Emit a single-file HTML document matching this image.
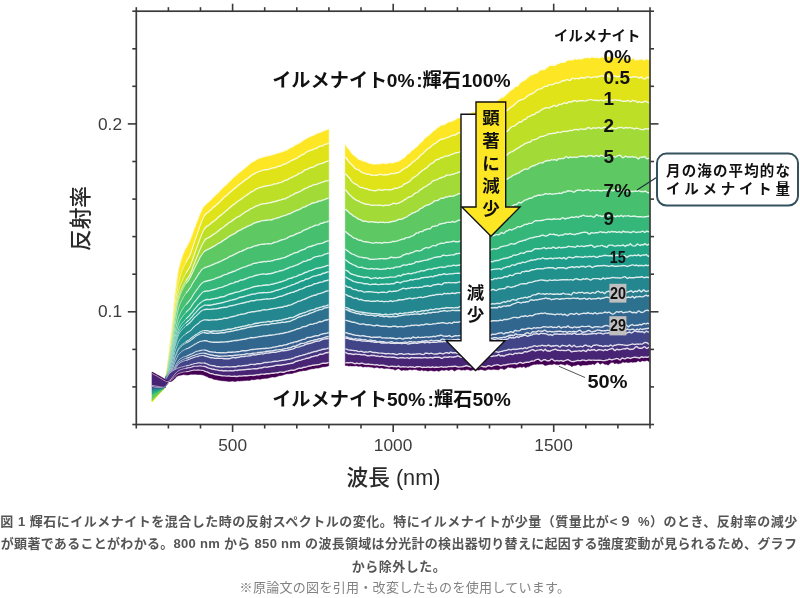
<!DOCTYPE html>
<html lang="ja"><head><meta charset="utf-8"><title>図1 反射スペクトル</title>
<style>
html,body{margin:0;padding:0;background:#fff;}
body{width:800px;height:598px;position:relative;overflow:hidden;font-family:"Liberation Sans","Noto Sans CJK JP",sans-serif;}
svg{position:absolute;left:0;top:0;}
svg text{font-family:"Liberation Sans","Noto Sans CJK JP",sans-serif;}
.w{fill:none;stroke:#fff;stroke-opacity:.82;stroke-width:1.4;}
.w2{fill:none;stroke:#fff;stroke-opacity:.8;stroke-width:1.1;}
.w3{fill:none;stroke:#fff;stroke-opacity:.75;stroke-width:.7;}
.tick{font-size:17.3px;fill:#3c3c3c;}
.axl{font-size:21.7px;fill:#2a2a2a;font-weight:500;}
.lbl{font-weight:bold;fill:#111;}
.cap{position:absolute;left:-1px;top:510.5px;width:800px;text-align:center;font-weight:bold;font-size:13px;letter-spacing:0.5px;line-height:22.75px;color:#555;white-space:nowrap;}
.cap .note{position:relative;left:6px;top:-1px;font-weight:normal;font-size:13px;letter-spacing:0.3px;color:#828282;line-height:19px;display:block;}
.cap .l2{letter-spacing:0.3px;}
</style></head><body>
<svg width="800" height="598" viewBox="0 0 800 598">
<g shape-rendering="geometricPrecision">
<path d="M152,402l1,-1.1 1,-1.2 1,-1.2 1,-1.1 1,-1.1 1,-1.1 1,-1 1,-1.3 1,-1.1 1,-1.1 1,-1.1 1,-1.2 1,-1.2 1,-11 1,-6.1 1,-8.7 1,-8.6 1,-8.7 1,-8.6 1,-8.2 1,-9.6 1,-12.2 1,-10.2 1,-8 1,-7.5 1,-6.9 1,-4.9 1,-3.8 1,-3.4 1,-3.2 1,-2.8 1,-2.5 1,-2.2 1,-2.1 1,-2.1 1,-1.8 1,-1.9 1,-2.2 1,-2.6 1,-2.7 1,-2.9 1,-2.8 1,-2.5 1,-2.5 1,-2.7 1,-2.6 1,-2.6 1,-2.5 1,-2.1 1,-2.2 1,-2 1,-1.3 1,-1.1 1,-1.1 1,-.9 1,-.9 1,-.8 1,-.9 1,-1 1,-1.1 1,-.9 1,-1 1,-1.1 1,-.9 1,-.9 1,-.8 1,-1.1 1,-1.2 1,-1 1,-1 1,-1.1 1,-.9 1,-.8 1,-.8 1,-1 1,-1.2 1,-1.1 1,-.8 1,-.9 1,-1.1 1,-1 1,-.8 1,-.9 1,-1 1,-.9 1,-.8 1,-.7 1,-.7 1,-.8 1,-.9 1,-.9 1,-.8 1,-.8 1,-.8 1,-.9 1,-.9 1,-.8 1,-1 1,-.7 1,-.6 1,-.6 1,-.4 1,-.4 1,-.8 1,-.7 1,-.4 1,-.4 1,-.5 1,-.3 1,-.2 1,-.3 1,-.4 1,-.2 1,-.3 1,-.2 1,-.2 1,-.2 1,-.1 1,-.2 1,-.4 1,-.3 1,-.4 1,-.4 1,-.2 1,-.2 1,-.4 1,-.3 1,-.3 1,-.3 1,-.3 1,-.3 1,-.5 1,-.5 1,-.2 1,-.3 1,-.8 1,-.7 1,-.6 1,-.4 1,-.4 1,-.6 1,-.7 1,-.6 1,-.7 1,-.4 1,-.3 1,-.6 1,-.6 1,-.7 1,-.8 1,-.7 1,-.6 1,-.5 1,-.6 1,-.6 1,-.7 1,-.3 1,-.2 1,-.7 1,-.6 1,-.1 1,-.4 1,-.7 1,-.5 1,-.5 1,-.4 1,-.2 1,-.3 1,-.5 1,-.4 1,-.3 1,-.4 1,-.5 1,-.5 1,-.3 1.7,-.3L328.7,143.3l-1.7,.6 -1,.2 -1,.2 -1,.5 -1,.8 -1,.5 -1,0 -1,.1 -1,.4 -1,.7 -1,.7 -1,.3 -1,.4 -1,.5 -1,.3 -1,.3 -1,.4 -1,.3 -1,.3 -1,.6 -1,.5 -1,.6 -1,.7 -1,.9 -1,.4 -1,.3 -1,.7 -1,.7 -1,.4 -1,.7 -1,.8 -1,.4 -1,.4 -1,.6 -1,.4 -1,.4 -1,.5 -1,.6 -1,.6 -1,.5 -1,.6 -1,.6 -1,.3 -1,.2 -1,.5 -1,.5 -1,.6 -1,.3 -1,.1 -1,.2 -1,.5 -1,.5 -1,.3 -1,.1 -1,.1 -1,.3 -1,.3 -1,.3 -1,.3 -1,.3 -1,.3 -1,0 -1,-.1 -1,.2 -1,.4 -1,.5 -1,.2 -1,.3 -1,.4 -1,.3 -1,.4 -1,.4 -1,.7 -1,.6 -1,.4 -1,.5 -1,.9 -1,.9 -1,.6 -1,1 -1,.7 -1,.4 -1,.7 -1,.8 -1,.8 -1,.9 -1,.7 -1,.7 -1,.8 -1,.8 -1,1 -1,.8 -1,.7 -1,.8 -1,.9 -1,.9 -1,.9 -1,.7 -1,.8 -1,1.2 -1,1 -1,.6 -1,.6 -1,.9 -1,1.1 -1,.9 -1,1.2 -1,1.1 -1,.8 -1,.9 -1,1 -1,.9 -1,.8 -1,.8 -1,.9 -1,1 -1,.9 -1,.9 -1,.9 -1,.8 -1,.7 -1,.7 -1,1.2 -1,1.6 -1,1.9 -1,2.2 -1,2.6 -1,2.8 -1,2.9 -1,2.9 -1,2.8 -1,2.9 -1,2.9 -1,2.9 -1,3 -1,3.1 -1,3.1 -1,2.7 -1,1.9 -1,1.5 -1,1.7 -1,2.1 -1,1.9 -1,2 -1,2.3 -1,2.3 -1,2.8 -1,3.3 -1,3.7 -1,4.4 -1,5.9 -1,6.6 -1,7.2 -1,9.2 -1,11.1 -1,8.6 -1,7.5 -1,7.7 -1,7.6 -1,7.7 -1,7.8 -1,4.4 -1,10.8 -1,1.1 -1,1.2 -1,1.2 -1,1.1 -1,1 -1,1 -1,1.1 -1,1.2 -1,1 -1,1.1 -1,1.1 -1,1.1 -1,1.1z" fill="#fde725" stroke="#fde725" stroke-width=".6"/>
<path class="w3" d="M167,370.1l1,-8.7 1,-8.6 1,-8.7 1,-8.6 1,-8.2 1,-9.6 1,-12.2 1,-10.2 1,-8 1,-7.5 1,-6.9 1,-4.9 1,-3.8 1,-3.4 1,-3.2 1,-2.8 1,-2.5 1,-2.2 1,-2.1"/>
<path class="w2" d="M186,248l1,-2.1 1,-1.8 1,-1.9 1,-2.2 1,-2.6 1,-2.7 1,-2.9 1,-2.8 1,-2.5 1,-2.5 1,-2.7 1,-2.6 1,-2.6 1,-2.5 1,-2.1 1,-2.2 1,-2 1,-1.3"/>
<path class="w" d="M204,206l1,-1.1 1,-1.1 1,-.9 1,-.9 1,-.8 1,-.9 1,-1 1,-1.1 1,-.9 1,-1 1,-1.1 1,-.9 1,-.9 1,-.8 1,-1.1 1,-1.2 1,-1 1,-1 1,-1.1 1,-.9 1,-.8 1,-.8 1,-1 1,-1.2 1,-1.1 1,-.8 1,-.9 1,-1.1 1,-1 1,-.8 1,-.9 1,-1 1,-.9 1,-.8 1,-.7 1,-.7 1,-.8 1,-.9 1,-.9 1,-.8 1,-.8 1,-.8 1,-.9 1,-.9 1,-.8 1,-1 1,-.7 1,-.6 1,-.6 1,-.4 1,-.4 1,-.8 1,-.7 1,-.4 1,-.4 1,-.5 1,-.3 1,-.2 1,-.3 1,-.4 1,-.2 1,-.3 1,-.2 1,-.2 1,-.2 1,-.1 1,-.2 1,-.4 1,-.3 1,-.4 1,-.4 1,-.2 1,-.2 1,-.4 1,-.3 1,-.3 1,-.3 1,-.3 1,-.3 1,-.5 1,-.5 1,-.2 1,-.3 1,-.8 1,-.7 1,-.6 1,-.4 1,-.4 1,-.6 1,-.7 1,-.6 1,-.7 1,-.4 1,-.3 1,-.6 1,-.6 1,-.7 1,-.8 1,-.7 1,-.6 1,-.5 1,-.6 1,-.6 1,-.7 1,-.3 1,-.2 1,-.7 1,-.6 1,-.1 1,-.4 1,-.7 1,-.5 1,-.5 1,-.4 1,-.2 1,-.3 1,-.5 1,-.4 1,-.3 1,-.4 1,-.5 1,-.5 1,-.3 1.7,-.3"/>
<path d="M152,401.5l1,-1.1 1,-1.1 1,-1.1 1,-1.1 1,-1 1,-1.2 1,-1.1 1,-1 1,-1 1,-1.1 1,-1.2 1,-1.2 1,-1.1 1,-10.8 1,-4.4 1,-7.8 1,-7.7 1,-7.6 1,-7.7 1,-7.5 1,-8.6 1,-11.1 1,-9.2 1,-7.2 1,-6.6 1,-5.9 1,-4.4 1,-3.7 1,-3.3 1,-2.8 1,-2.3 1,-2.3 1,-2 1,-1.9 1,-2.1 1,-1.7 1,-1.5 1,-1.9 1,-2.7 1,-3.1 1,-3.1 1,-3 1,-2.9 1,-2.9 1,-2.9 1,-2.8 1,-2.9 1,-2.9 1,-2.8 1,-2.6 1,-2.2 1,-1.9 1,-1.6 1,-1.2 1,-.7 1,-.7 1,-.8 1,-.9 1,-.9 1,-.9 1,-1 1,-.9 1,-.8 1,-.8 1,-.9 1,-1 1,-.9 1,-.8 1,-1.1 1,-1.2 1,-.9 1,-1.1 1,-.9 1,-.6 1,-.6 1,-1 1,-1.2 1,-.8 1,-.7 1,-.9 1,-.9 1,-.9 1,-.8 1,-.7 1,-.8 1,-1 1,-.8 1,-.8 1,-.7 1,-.7 1,-.9 1,-.8 1,-.8 1,-.7 1,-.4 1,-.7 1,-1 1,-.6 1,-.9 1,-.9 1,-.5 1,-.4 1,-.6 1,-.7 1,-.4 1,-.4 1,-.3 1,-.4 1,-.3 1,-.2 1,-.5 1,-.4 1,-.2 1,.1 1,0 1,-.3 1,-.3 1,-.3 1,-.3 1,-.3 1,-.3 1,-.1 1,-.1 1,-.3 1,-.5 1,-.5 1,-.2 1,-.1 1,-.3 1,-.6 1,-.5 1,-.5 1,-.2 1,-.3 1,-.6 1,-.6 1,-.5 1,-.6 1,-.6 1,-.5 1,-.4 1,-.4 1,-.6 1,-.4 1,-.4 1,-.8 1,-.7 1,-.4 1,-.7 1,-.7 1,-.3 1,-.4 1,-.9 1,-.7 1,-.6 1,-.5 1,-.6 1,-.3 1,-.3 1,-.4 1,-.3 1,-.3 1,-.5 1,-.4 1,-.3 1,-.7 1,-.7 1,-.4 1,-.1 1,0 1,-.5 1,-.8 1,-.5 1,-.2 1,-.2 1.7,-.6L328.7,160.9l-1.7,.4 -1,.4 -1,.5 -1,.4 -1,.4 -1,.3 -1,.3 -1,.3 -1,.3 -1,.4 -1,.4 -1,.4 -1,.6 -1,.8 -1,.3 -1,.2 -1,.2 -1,.3 -1,.6 -1,.5 -1,.5 -1,.3 -1,.3 -1,.6 -1,.9 -1,.9 -1,.5 -1,.2 -1,.4 -1,.6 -1,.7 -1,.6 -1,.5 -1,.3 -1,.4 -1,.8 -1,.5 -1,.2 -1,.6 -1,.8 -1,.5 -1,.1 -1,.3 -1,.4 -1,.6 -1,.7 -1,.3 -1,.2 -1,.3 -1,.3 -1,.4 -1,.3 -1,0 -1,.1 -1,.4 -1,.4 -1,.3 -1,.2 -1,.1 -1,.2 -1,.3 -1,.1 -1,.1 -1,.2 -1,.3 -1,.5 -1,.2 -1,.1 -1,.4 -1,.6 -1,.3 -1,.5 -1,.6 -1,.7 -1,.6 -1,.4 -1,.5 -1,.8 -1,.8 -1,.6 -1,.7 -1,.6 -1,.7 -1,.8 -1,.7 -1,.9 -1,.6 -1,.7 -1,.6 -1,.7 -1,.7 -1,.8 -1,.9 -1,.7 -1,.6 -1,.8 -1,.9 -1,.8 -1,.9 -1,.9 -1,.9 -1,.7 -1,.9 -1,1 -1,.8 -1,.8 -1,.8 -1,.8 -1,.7 -1,1 -1,.9 -1,1 -1,.8 -1,.9 -1,.5 -1,.7 -1,.9 -1,.9 -1,.8 -1,.6 -1,.5 -1,.8 -1,1.2 -1,1.4 -1,1.9 -1,2.4 -1,2.5 -1,2.5 -1,2.7 -1,2.8 -1,2.7 -1,2.8 -1,2.9 -1,2.8 -1,2.8 -1,2.9 -1,2.7 -1,2.6 -1,1.8 -1,1.6 -1,1.6 -1,1.7 -1,1.8 -1,1.9 -1,2.1 -1,2.2 -1,2.3 -1,2.7 -1,3.3 -1,4.1 -1,5.5 -1,6 -1,6.7 -1,8.6 -1,10.2 -1,7.7 -1,6.6 -1,7 -1,7 -1,7.2 -1,7.2 -1,3.2 -1,10.6 -1,1.1 -1,1.1 -1,1 -1,1.2 -1,1.2 -1,1.1 -1,1 -1,1 -1,1 -1,1 -1,1.1 -1,1.1 -1,1z" fill="#dfe318" stroke="#dfe318" stroke-width=".6"/>
<path class="w3" d="M167,372l1,-7.8 1,-7.7 1,-7.6 1,-7.7 1,-7.5 1,-8.6 1,-11.1 1,-9.2 1,-7.2 1,-6.6 1,-5.9 1,-4.4 1,-3.7 1,-3.3 1,-2.8 1,-2.3 1,-2.3 1,-2 1,-1.9"/>
<path class="w2" d="M186,262.4l1,-2.1 1,-1.7 1,-1.5 1,-1.9 1,-2.7 1,-3.1 1,-3.1 1,-3 1,-2.9 1,-2.9 1,-2.9 1,-2.8 1,-2.9 1,-2.9 1,-2.8 1,-2.6 1,-2.2 1,-1.9"/>
<path class="w" d="M204,216.5l1,-1.6 1,-1.2 1,-.7 1,-.7 1,-.8 1,-.9 1,-.9 1,-.9 1,-1 1,-.9 1,-.8 1,-.8 1,-.9 1,-1 1,-.9 1,-.8 1,-1.1 1,-1.2 1,-.9 1,-1.1 1,-.9 1,-.6 1,-.6 1,-1 1,-1.2 1,-.8 1,-.7 1,-.9 1,-.9 1,-.9 1,-.8 1,-.7 1,-.8 1,-1 1,-.8 1,-.8 1,-.7 1,-.7 1,-.9 1,-.8 1,-.8 1,-.7 1,-.4 1,-.7 1,-1 1,-.6 1,-.9 1,-.9 1,-.5 1,-.4 1,-.6 1,-.7 1,-.4 1,-.4 1,-.3 1,-.4 1,-.3 1,-.2 1,-.5 1,-.4 1,-.2 1,.1 1,0 1,-.3 1,-.3 1,-.3 1,-.3 1,-.3 1,-.3 1,-.1 1,-.1 1,-.3 1,-.5 1,-.5 1,-.2 1,-.1 1,-.3 1,-.6 1,-.5 1,-.5 1,-.2 1,-.3 1,-.6 1,-.6 1,-.5 1,-.6 1,-.6 1,-.5 1,-.4 1,-.4 1,-.6 1,-.4 1,-.4 1,-.8 1,-.7 1,-.4 1,-.7 1,-.7 1,-.3 1,-.4 1,-.9 1,-.7 1,-.6 1,-.5 1,-.6 1,-.3 1,-.3 1,-.4 1,-.3 1,-.3 1,-.5 1,-.4 1,-.3 1,-.7 1,-.7 1,-.4 1,-.1 1,0 1,-.5 1,-.8 1,-.5 1,-.2 1,-.2 1.7,-.6"/>
<path d="M152,401l1,-1 1,-1.1 1,-1.1 1,-1 1,-1 1,-1 1,-1 1,-1.1 1,-1.2 1,-1.2 1,-1 1,-1.1 1,-1.1 1,-10.6 1,-3.2 1,-7.2 1,-7.2 1,-7 1,-7 1,-6.6 1,-7.7 1,-10.2 1,-8.6 1,-6.7 1,-6 1,-5.5 1,-4.1 1,-3.3 1,-2.7 1,-2.3 1,-2.2 1,-2.1 1,-1.9 1,-1.8 1,-1.7 1,-1.6 1,-1.6 1,-1.8 1,-2.6 1,-2.7 1,-2.9 1,-2.8 1,-2.8 1,-2.9 1,-2.8 1,-2.7 1,-2.8 1,-2.7 1,-2.5 1,-2.5 1,-2.4 1,-1.9 1,-1.4 1,-1.2 1,-.8 1,-.5 1,-.6 1,-.8 1,-.9 1,-.9 1,-.7 1,-.5 1,-.9 1,-.8 1,-1 1,-.9 1,-1 1,-.7 1,-.8 1,-.8 1,-.8 1,-.8 1,-1 1,-.9 1,-.7 1,-.9 1,-.9 1,-.9 1,-.8 1,-.9 1,-.8 1,-.6 1,-.7 1,-.9 1,-.8 1,-.7 1,-.7 1,-.6 1,-.7 1,-.6 1,-.9 1,-.7 1,-.8 1,-.7 1,-.6 1,-.7 1,-.6 1,-.8 1,-.8 1,-.5 1,-.4 1,-.6 1,-.7 1,-.6 1,-.5 1,-.3 1,-.6 1,-.4 1,-.1 1,-.2 1,-.5 1,-.3 1,-.2 1,-.1 1,-.1 1,-.3 1,-.2 1,-.1 1,-.2 1,-.3 1,-.4 1,-.4 1,-.1 1,0 1,-.3 1,-.4 1,-.3 1,-.3 1,-.2 1,-.3 1,-.7 1,-.6 1,-.4 1,-.3 1,-.1 1,-.5 1,-.8 1,-.6 1,-.2 1,-.5 1,-.8 1,-.4 1,-.3 1,-.5 1,-.6 1,-.7 1,-.6 1,-.4 1,-.2 1,-.5 1,-.9 1,-.9 1,-.6 1,-.3 1,-.3 1,-.5 1,-.5 1,-.6 1,-.3 1,-.2 1,-.2 1,-.3 1,-.8 1,-.6 1,-.4 1,-.4 1,-.4 1,-.3 1,-.3 1,-.3 1,-.3 1,-.4 1,-.4 1,-.5 1,-.4 1.7,-.4L328.7,180.4l-1.7,.5 -1,0 -1,.3 -1,.5 -1,.3 -1,.1 -1,.4 -1,.7 -1,.2 -1,.2 -1,.6 -1,.4 -1,0 -1,-.1 -1,.5 -1,.6 -1,.4 -1,.3 -1,.4 -1,.6 -1,.5 -1,.3 -1,.4 -1,.6 -1,.6 -1,.6 -1,.6 -1,.5 -1,.4 -1,.5 -1,.5 -1,.2 -1,.4 -1,.7 -1,.7 -1,.4 -1,.3 -1,.7 -1,.6 -1,.4 -1,.5 -1,.7 -1,.5 -1,.1 -1,0 -1,.3 -1,.5 -1,.3 -1,.2 -1,.3 -1,.4 -1,.3 -1,.2 -1,.2 -1,.1 -1,.3 -1,.4 -1,.3 -1,.1 -1,.2 -1,.2 -1,.3 -1,0 -1,0 -1,.2 -1,.3 -1,.1 -1,.3 -1,.6 -1,.4 -1,.2 -1,.4 -1,.5 -1,.6 -1,.5 -1,.6 -1,.4 -1,.5 -1,.7 -1,.8 -1,.5 -1,.4 -1,.6 -1,.8 -1,.6 -1,.7 -1,.8 -1,.7 -1,.5 -1,.5 -1,.4 -1,.6 -1,.9 -1,.7 -1,.7 -1,.8 -1,.7 -1,.6 -1,.5 -1,.8 -1,.9 -1,.7 -1,.7 -1,.9 -1,.8 -1,.7 -1,.5 -1,.8 -1,.9 -1,.8 -1,.8 -1,.8 -1,.7 -1,.6 -1,.6 -1,.6 -1,.8 -1,.7 -1,.6 -1,.5 -1,.4 -1,.6 -1,1 -1,1.6 -1,1.8 -1,2 -1,2 -1,2.2 -1,2.5 -1,2.4 -1,2.4 -1,2.5 -1,2.5 -1,2.4 -1,2.7 -1,2.8 -1,2.4 -1,2.5 -1,1.8 -1,1.5 -1,1.3 -1,1.4 -1,1.7 -1,1.8 -1,1.9 -1,2 -1,2.3 -1,2.6 -1,3.1 -1,3.9 -1,5 -1,5.6 -1,6.3 -1,7.8 -1,9.4 -1,7.4 -1,6.3 -1,6.5 -1,6.6 -1,6.7 -1,6.5 -1,2.5 -1,10.7 -1,1.1 -1,1 -1,1.1 -1,.9 -1,.9 -1,1.1 -1,1 -1,1 -1,1 -1,1.1 -1,1 -1,1.1 -1,1z" fill="#bddf26" stroke="#bddf26" stroke-width=".6"/>
<path class="w3" d="M167,373.3l1,-7.2 1,-7.2 1,-7 1,-7 1,-6.6 1,-7.7 1,-10.2 1,-8.6 1,-6.7 1,-6 1,-5.5 1,-4.1 1,-3.3 1,-2.7 1,-2.3 1,-2.2 1,-2.1 1,-1.9 1,-1.8"/>
<path class="w2" d="M186,273.2l1,-1.7 1,-1.6 1,-1.6 1,-1.8 1,-2.6 1,-2.7 1,-2.9 1,-2.8 1,-2.8 1,-2.9 1,-2.8 1,-2.7 1,-2.8 1,-2.7 1,-2.5 1,-2.5 1,-2.4 1,-1.9"/>
<path class="w" d="M204,229.5l1,-1.4 1,-1.2 1,-.8 1,-.5 1,-.6 1,-.8 1,-.9 1,-.9 1,-.7 1,-.5 1,-.9 1,-.8 1,-1 1,-.9 1,-1 1,-.7 1,-.8 1,-.8 1,-.8 1,-.8 1,-1 1,-.9 1,-.7 1,-.9 1,-.9 1,-.9 1,-.8 1,-.9 1,-.8 1,-.6 1,-.7 1,-.9 1,-.8 1,-.7 1,-.7 1,-.6 1,-.7 1,-.6 1,-.9 1,-.7 1,-.8 1,-.7 1,-.6 1,-.7 1,-.6 1,-.8 1,-.8 1,-.5 1,-.4 1,-.6 1,-.7 1,-.6 1,-.5 1,-.3 1,-.6 1,-.4 1,-.1 1,-.2 1,-.5 1,-.3 1,-.2 1,-.1 1,-.1 1,-.3 1,-.2 1,-.1 1,-.2 1,-.3 1,-.4 1,-.4 1,-.1 1,0 1,-.3 1,-.4 1,-.3 1,-.3 1,-.2 1,-.3 1,-.7 1,-.6 1,-.4 1,-.3 1,-.1 1,-.5 1,-.8 1,-.6 1,-.2 1,-.5 1,-.8 1,-.4 1,-.3 1,-.5 1,-.6 1,-.7 1,-.6 1,-.4 1,-.2 1,-.5 1,-.9 1,-.9 1,-.6 1,-.3 1,-.3 1,-.5 1,-.5 1,-.6 1,-.3 1,-.2 1,-.2 1,-.3 1,-.8 1,-.6 1,-.4 1,-.4 1,-.4 1,-.3 1,-.3 1,-.3 1,-.3 1,-.4 1,-.4 1,-.5 1,-.4 1.7,-.4"/>
<path d="M152,400.5l1,-1 1,-1.1 1,-1 1,-1.1 1,-1 1,-1 1,-1 1,-1.1 1,-.9 1,-.9 1,-1.1 1,-1 1,-1.1 1,-10.7 1,-2.5 1,-6.5 1,-6.7 1,-6.6 1,-6.5 1,-6.3 1,-7.4 1,-9.4 1,-7.8 1,-6.3 1,-5.6 1,-5 1,-3.9 1,-3.1 1,-2.6 1,-2.3 1,-2 1,-1.9 1,-1.8 1,-1.7 1,-1.4 1,-1.3 1,-1.5 1,-1.8 1,-2.5 1,-2.4 1,-2.8 1,-2.7 1,-2.4 1,-2.5 1,-2.5 1,-2.4 1,-2.4 1,-2.5 1,-2.2 1,-2 1,-2 1,-1.8 1,-1.6 1,-1 1,-.6 1,-.4 1,-.5 1,-.6 1,-.7 1,-.8 1,-.6 1,-.6 1,-.6 1,-.7 1,-.8 1,-.8 1,-.8 1,-.9 1,-.8 1,-.5 1,-.7 1,-.8 1,-.9 1,-.7 1,-.7 1,-.9 1,-.8 1,-.5 1,-.6 1,-.7 1,-.8 1,-.7 1,-.7 1,-.9 1,-.6 1,-.4 1,-.5 1,-.5 1,-.7 1,-.8 1,-.7 1,-.6 1,-.8 1,-.6 1,-.4 1,-.5 1,-.8 1,-.7 1,-.5 1,-.4 1,-.6 1,-.5 1,-.6 1,-.5 1,-.4 1,-.2 1,-.4 1,-.6 1,-.3 1,-.1 1,-.3 1,-.2 1,0 1,0 1,-.3 1,-.2 1,-.2 1,-.1 1,-.3 1,-.4 1,-.3 1,-.1 1,-.2 1,-.2 1,-.3 1,-.4 1,-.3 1,-.2 1,-.3 1,-.5 1,-.3 1,0 1,-.1 1,-.5 1,-.7 1,-.5 1,-.4 1,-.6 1,-.7 1,-.3 1,-.4 1,-.7 1,-.7 1,-.4 1,-.2 1,-.5 1,-.5 1,-.4 1,-.5 1,-.6 1,-.6 1,-.6 1,-.6 1,-.4 1,-.3 1,-.5 1,-.6 1,-.4 1,-.3 1,-.4 1,-.6 1,-.5 1,.1 1,0 1,-.4 1,-.6 1,-.2 1,-.2 1,-.7 1,-.4 1,-.1 1,-.3 1,-.5 1,-.3 1,0 1.7,-.5L328.7,198.1l-1.7,.4 -1,.3 -1,.6 -1,.3 -1,.2 -1,.5 -1,.5 -1,.1 -1,0 -1,.5 -1,.5 -1,.4 -1,.2 -1,.2 -1,.2 -1,.2 -1,.6 -1,.7 -1,.4 -1,.2 -1,.4 -1,.8 -1,.6 -1,.1 -1,.4 -1,.6 -1,.6 -1,.5 -1,.6 -1,.4 -1,.2 -1,.3 -1,.6 -1,.5 -1,.4 -1,.5 -1,.6 -1,.5 -1,.1 -1,.3 -1,.6 -1,.5 -1,.3 -1,.1 -1,.3 -1,.5 -1,.3 -1,.4 -1,.4 -1,.2 -1,.3 -1,.4 -1,.2 -1,.2 -1,.4 -1,.6 -1,.2 -1,-.1 -1,0 -1,.2 -1,.1 -1,.1 -1,.1 -1,.2 -1,0 -1,0 -1,.3 -1,.5 -1,.3 -1,.1 -1,.3 -1,.4 -1,.3 -1,.3 -1,.6 -1,.6 -1,.5 -1,.5 -1,.4 -1,.5 -1,.5 -1,.5 -1,.5 -1,.5 -1,.3 -1,.6 -1,.7 -1,.4 -1,.5 -1,.5 -1,.6 -1,.8 -1,.8 -1,.5 -1,.5 -1,.4 -1,.5 -1,.7 -1,.5 -1,.8 -1,.8 -1,.6 -1,.7 -1,.6 -1,.6 -1,.8 -1,.7 -1,.5 -1,.5 -1,.4 -1,.7 -1,.8 -1,.6 -1,.5 -1,.6 -1,.7 -1,.5 -1,.5 -1,.5 -1,.4 -1,.4 -1,.6 -1,.7 -1,.8 -1,1.2 -1,1.5 -1,1.4 -1,1.5 -1,2 -1,2.1 -1,2 -1,2 -1,1.9 -1,2.1 -1,2.2 -1,2.1 -1,2.2 -1,2.1 -1,1.7 -1,1.3 -1,1.1 -1,1.3 -1,1.6 -1,1.8 -1,1.9 -1,2 -1,2.2 -1,2.5 -1,2.9 -1,3.8 -1,4.9 -1,5.6 -1,6.1 -1,7.5 -1,9 -1,7.2 -1,6.3 -1,6.7 -1,6.3 -1,6.4 -1,6.3 -1,2.1 -1,10.6 -1,1 -1,.9 -1,1 -1,.9 -1,.9 -1,1 -1,1 -1,1 -1,.9 -1,.8 -1,.9 -1,1.1 -1,1z" fill="#a2da37" stroke="#a2da37" stroke-width=".6"/>
<path class="w3" d="M167,374l1,-6.5 1,-6.7 1,-6.6 1,-6.5 1,-6.3 1,-7.4 1,-9.4 1,-7.8 1,-6.3 1,-5.6 1,-5 1,-3.9 1,-3.1 1,-2.6 1,-2.3 1,-2 1,-1.9 1,-1.8 1,-1.7"/>
<path class="w2" d="M186,280.6l1,-1.4 1,-1.3 1,-1.5 1,-1.8 1,-2.5 1,-2.4 1,-2.8 1,-2.7 1,-2.4 1,-2.5 1,-2.5 1,-2.4 1,-2.4 1,-2.5 1,-2.2 1,-2 1,-2 1,-1.8"/>
<path class="w" d="M204,241.5l1,-1.6 1,-1 1,-.6 1,-.4 1,-.5 1,-.6 1,-.7 1,-.8 1,-.6 1,-.6 1,-.6 1,-.7 1,-.8 1,-.8 1,-.8 1,-.9 1,-.8 1,-.5 1,-.7 1,-.8 1,-.9 1,-.7 1,-.7 1,-.9 1,-.8 1,-.5 1,-.6 1,-.7 1,-.8 1,-.7 1,-.7 1,-.9 1,-.6 1,-.4 1,-.5 1,-.5 1,-.7 1,-.8 1,-.7 1,-.6 1,-.8 1,-.6 1,-.4 1,-.5 1,-.8 1,-.7 1,-.5 1,-.4 1,-.6 1,-.5 1,-.6 1,-.5 1,-.4 1,-.2 1,-.4 1,-.6 1,-.3 1,-.1 1,-.3 1,-.2 1,0 1,0 1,-.3 1,-.2 1,-.2 1,-.1 1,-.3 1,-.4 1,-.3 1,-.1 1,-.2 1,-.2 1,-.3 1,-.4 1,-.3 1,-.2 1,-.3 1,-.5 1,-.3 1,0 1,-.1 1,-.5 1,-.7 1,-.5 1,-.4 1,-.6 1,-.7 1,-.3 1,-.4 1,-.7 1,-.7 1,-.4 1,-.2 1,-.5 1,-.5 1,-.4 1,-.5 1,-.6 1,-.6 1,-.6 1,-.6 1,-.4 1,-.3 1,-.5 1,-.6 1,-.4 1,-.3 1,-.4 1,-.6 1,-.5 1,.1 1,0 1,-.4 1,-.6 1,-.2 1,-.2 1,-.7 1,-.4 1,-.1 1,-.3 1,-.5 1,-.3 1,0 1.7,-.5"/>
<path d="M152,399.6l1,-1 1,-1.1 1,-.9 1,-.8 1,-.9 1,-1 1,-1 1,-1 1,-.9 1,-.9 1,-1 1,-.9 1,-1 1,-10.6 1,-2.1 1,-6.3 1,-6.4 1,-6.3 1,-6.7 1,-6.3 1,-7.2 1,-9 1,-7.5 1,-6.1 1,-5.6 1,-4.9 1,-3.8 1,-2.9 1,-2.5 1,-2.2 1,-2 1,-1.9 1,-1.8 1,-1.6 1,-1.3 1,-1.1 1,-1.3 1,-1.7 1,-2.1 1,-2.2 1,-2.1 1,-2.2 1,-2.1 1,-1.9 1,-2 1,-2 1,-2.1 1,-2 1,-1.5 1,-1.4 1,-1.5 1,-1.2 1,-.8 1,-.7 1,-.6 1,-.4 1,-.4 1,-.5 1,-.5 1,-.5 1,-.7 1,-.6 1,-.5 1,-.6 1,-.8 1,-.7 1,-.4 1,-.5 1,-.5 1,-.7 1,-.8 1,-.6 1,-.6 1,-.7 1,-.6 1,-.8 1,-.8 1,-.5 1,-.7 1,-.5 1,-.4 1,-.5 1,-.5 1,-.8 1,-.8 1,-.6 1,-.5 1,-.5 1,-.4 1,-.7 1,-.6 1,-.3 1,-.5 1,-.5 1,-.5 1,-.5 1,-.5 1,-.4 1,-.5 1,-.5 1,-.6 1,-.6 1,-.3 1,-.3 1,-.4 1,-.3 1,-.1 1,-.3 1,-.5 1,-.3 1,0 1,0 1,-.2 1,-.1 1,-.1 1,-.1 1,-.2 1,0 1,.1 1,-.2 1,-.6 1,-.4 1,-.2 1,-.2 1,-.4 1,-.3 1,-.2 1,-.4 1,-.4 1,-.3 1,-.5 1,-.3 1,-.1 1,-.3 1,-.5 1,-.6 1,-.3 1,-.1 1,-.5 1,-.6 1,-.5 1,-.4 1,-.5 1,-.6 1,-.3 1,-.2 1,-.4 1,-.6 1,-.5 1,-.6 1,-.6 1,-.4 1,-.1 1,-.6 1,-.8 1,-.4 1,-.2 1,-.4 1,-.7 1,-.6 1,-.2 1,-.2 1,-.2 1,-.2 1,-.4 1,-.5 1,-.5 1,0 1,-.1 1,-.5 1,-.5 1,-.2 1,-.3 1,-.6 1,-.3 1.7,-.4L328.7,221l-1.7,.8 -1,.3 -1,0 -1,.4 -1,.5 -1,.2 -1,.1 -1,.5 -1,.8 -1,.5 -1,0 -1,0 -1,.4 -1,.4 -1,.5 -1,.5 -1,.2 -1,.3 -1,.7 -1,.5 -1,.4 -1,.4 -1,.4 -1,.4 -1,.5 -1,.8 -1,.6 -1,.4 -1,.3 -1,.4 -1,.4 -1,.4 -1,.5 -1,.6 -1,.5 -1,.2 -1,.2 -1,.4 -1,.5 -1,.5 -1,.7 -1,.5 -1,.2 -1,.5 -1,.3 -1,.2 -1,.3 -1,.4 -1,.4 -1,.5 -1,.4 -1,.3 -1,.1 -1,.3 -1,.5 -1,.4 -1,.3 -1,.2 -1,-.1 -1,0 -1,.1 -1,0 -1,.1 -1,.2 -1,.1 -1,0 -1,.1 -1,.2 -1,.2 -1,.3 -1,.4 -1,.2 -1,.2 -1,.3 -1,.4 -1,.4 -1,.4 -1,.3 -1,.2 -1,.2 -1,.4 -1,.6 -1,.5 -1,.4 -1,.5 -1,.5 -1,.4 -1,.3 -1,.4 -1,.6 -1,.5 -1,.5 -1,.5 -1,.4 -1,.5 -1,.6 -1,.3 -1,.3 -1,.5 -1,.9 -1,.6 -1,.3 -1,.5 -1,.5 -1,.6 -1,.5 -1,.4 -1,.5 -1,.4 -1,.5 -1,.3 -1,.4 -1,.5 -1,.4 -1,.4 -1,.4 -1,.5 -1,.4 -1,.3 -1,.4 -1,.3 -1,.3 -1,.5 -1,.5 -1,.5 -1,.8 -1,1.3 -1,1.4 -1,1.3 -1,1.5 -1,1.7 -1,1.5 -1,1.6 -1,1.5 -1,1.6 -1,1.8 -1,1.9 -1,1.5 -1,1.4 -1,1.4 -1,1.1 -1,1.2 -1,1.5 -1,1.6 -1,1.7 -1,1.9 -1,1.9 -1,2.2 -1,2.8 -1,3.5 -1,4.5 -1,5 -1,5.4 -1,7 -1,8.2 -1,6.5 -1,5.6 -1,5.8 -1,6 -1,5.9 -1,5.1 -1,1.7 -1,10.3 -1,.6 -1,.7 -1,.5 -1,.6 -1,.7 -1,.5 -1,.6 -1,.6 -1,.6 -1,.6 -1,.6 -1,.6 -1,.6z" fill="#5ec962" stroke="#5ec962" stroke-width=".6"/>
<path class="w3" d="M167,374.5l1,-6.3 1,-6.4 1,-6.3 1,-6.7 1,-6.3 1,-7.2 1,-9 1,-7.5 1,-6.1 1,-5.6 1,-4.9 1,-3.8 1,-2.9 1,-2.5 1,-2.2 1,-2 1,-1.9 1,-1.8 1,-1.6"/>
<path class="w2" d="M186,283.5l1,-1.3 1,-1.1 1,-1.3 1,-1.7 1,-2.1 1,-2.2 1,-2.1 1,-2.2 1,-2.1 1,-1.9 1,-2 1,-2 1,-2.1 1,-2 1,-1.5 1,-1.4 1,-1.5 1,-1.2"/>
<path class="w" d="M204,251.8l1,-.8 1,-.7 1,-.6 1,-.4 1,-.4 1,-.5 1,-.5 1,-.5 1,-.7 1,-.6 1,-.5 1,-.6 1,-.8 1,-.7 1,-.4 1,-.5 1,-.5 1,-.7 1,-.8 1,-.6 1,-.6 1,-.7 1,-.6 1,-.8 1,-.8 1,-.5 1,-.7 1,-.5 1,-.4 1,-.5 1,-.5 1,-.8 1,-.8 1,-.6 1,-.5 1,-.5 1,-.4 1,-.7 1,-.6 1,-.3 1,-.5 1,-.5 1,-.5 1,-.5 1,-.5 1,-.4 1,-.5 1,-.5 1,-.6 1,-.6 1,-.3 1,-.3 1,-.4 1,-.3 1,-.1 1,-.3 1,-.5 1,-.3 1,0 1,0 1,-.2 1,-.1 1,-.1 1,-.1 1,-.2 1,0 1,.1 1,-.2 1,-.6 1,-.4 1,-.2 1,-.2 1,-.4 1,-.3 1,-.2 1,-.4 1,-.4 1,-.3 1,-.5 1,-.3 1,-.1 1,-.3 1,-.5 1,-.6 1,-.3 1,-.1 1,-.5 1,-.6 1,-.5 1,-.4 1,-.5 1,-.6 1,-.3 1,-.2 1,-.4 1,-.6 1,-.5 1,-.6 1,-.6 1,-.4 1,-.1 1,-.6 1,-.8 1,-.4 1,-.2 1,-.4 1,-.7 1,-.6 1,-.2 1,-.2 1,-.2 1,-.2 1,-.4 1,-.5 1,-.5 1,0 1,-.1 1,-.5 1,-.5 1,-.2 1,-.3 1,-.6 1,-.3 1.7,-.4"/>
<path d="M152,395l1,-.6 1,-.6 1,-.6 1,-.6 1,-.6 1,-.6 1,-.6 1,-.5 1,-.7 1,-.6 1,-.5 1,-.7 1,-.6 1,-10.3 1,-1.7 1,-5.1 1,-5.9 1,-6 1,-5.8 1,-5.6 1,-6.5 1,-8.2 1,-7 1,-5.4 1,-5 1,-4.5 1,-3.5 1,-2.8 1,-2.2 1,-1.9 1,-1.9 1,-1.7 1,-1.6 1,-1.5 1,-1.2 1,-1.1 1,-1.4 1,-1.4 1,-1.5 1,-1.9 1,-1.8 1,-1.6 1,-1.5 1,-1.6 1,-1.5 1,-1.7 1,-1.5 1,-1.3 1,-1.4 1,-1.3 1,-.8 1,-.5 1,-.5 1,-.5 1,-.3 1,-.3 1,-.4 1,-.3 1,-.4 1,-.5 1,-.4 1,-.4 1,-.4 1,-.5 1,-.4 1,-.3 1,-.5 1,-.4 1,-.5 1,-.4 1,-.5 1,-.6 1,-.5 1,-.5 1,-.3 1,-.6 1,-.9 1,-.5 1,-.3 1,-.3 1,-.6 1,-.5 1,-.4 1,-.5 1,-.5 1,-.5 1,-.6 1,-.4 1,-.3 1,-.4 1,-.5 1,-.5 1,-.4 1,-.5 1,-.6 1,-.4 1,-.2 1,-.2 1,-.3 1,-.4 1,-.4 1,-.4 1,-.3 1,-.2 1,-.2 1,-.4 1,-.3 1,-.2 1,-.2 1,-.1 1,0 1,-.1 1,-.2 1,-.1 1,0 1,-.1 1,0 1,.1 1,-.2 1,-.3 1,-.4 1,-.5 1,-.3 1,-.1 1,-.3 1,-.4 1,-.5 1,-.4 1,-.4 1,-.3 1,-.2 1,-.3 1,-.5 1,-.2 1,-.5 1,-.7 1,-.5 1,-.5 1,-.4 1,-.2 1,-.2 1,-.5 1,-.6 1,-.5 1,-.4 1,-.4 1,-.4 1,-.3 1,-.4 1,-.6 1,-.8 1,-.5 1,-.4 1,-.4 1,-.4 1,-.4 1,-.5 1,-.7 1,-.3 1,-.2 1,-.5 1,-.5 1,-.4 1,-.4 1,0 1,0 1,-.5 1,-.8 1,-.5 1,-.1 1,-.2 1,-.5 1,-.4 1,0 1,-.3 1.7,-.8L328.7,240.7l-1.7,.4 -1,.2 -1,.6 -1,.6 -1,.4 -1,.3 -1,.2 -1,.2 -1,.2 -1,.1 -1,.2 -1,.5 -1,.6 -1,.2 -1,.1 -1,.5 -1,.5 -1,0 -1,.2 -1,.4 -1,.4 -1,.8 -1,.7 -1,.3 -1,.3 -1,.4 -1,.4 -1,.4 -1,.6 -1,.6 -1,.4 -1,.3 -1,.1 -1,.3 -1,.6 -1,.5 -1,.4 -1,.4 -1,.6 -1,.4 -1,.4 -1,.6 -1,.4 -1,.4 -1,.1 -1,.2 -1,.4 -1,.4 -1,.1 -1,.2 -1,.2 -1,.2 -1,.2 -1,.4 -1,.4 -1,.2 -1,.1 -1,.3 -1,.2 -1,-.1 -1,.1 -1,.3 -1,-.1 -1,-.1 -1,.3 -1,.2 -1,.2 -1,.1 -1,.1 -1,.2 -1,.3 -1,.3 -1,0 -1,.2 -1,.3 -1,.5 -1,.6 -1,.3 -1,.2 -1,.3 -1,.5 -1,.6 -1,.2 -1,.2 -1,.3 -1,.4 -1,.3 -1,.5 -1,.5 -1,.4 -1,.4 -1,.6 -1,.6 -1,.2 -1,.2 -1,.5 -1,.5 -1,.1 -1,.4 -1,.6 -1,.6 -1,.2 -1,.2 -1,.3 -1,.4 -1,.6 -1,.6 -1,.3 -1,.3 -1,.4 -1,.3 -1,.4 -1,.5 -1,.4 -1,.2 -1,.4 -1,.3 -1,.2 -1,.3 -1,.3 -1,.2 -1,.2 -1,.3 -1,.3 -1,.6 -1,.8 -1,1 -1,1.2 -1,1.4 -1,1.4 -1,1.3 -1,1.3 -1,1.4 -1,1.5 -1,1.6 -1,1.7 -1,1.7 -1,1.2 -1,1.2 -1,1.3 -1,1.2 -1,.9 -1,1.2 -1,1.3 -1,1.4 -1,1.5 -1,1.8 -1,2 -1,2.3 -1,3 -1,4.1 -1,4.5 -1,4.9 -1,6.1 -1,7.2 -1,5.7 -1,4.8 -1,5 -1,5.2 -1,5.3 -1,3.3 -1,1.9 -1,10.2 -1,.6 -1,.7 -1,.6 -1,.4 -1,.7 -1,.7 -1,.4 -1,.5 -1,.5 -1,.4 -1,.6 -1,.6 -1,.6z" fill="#46c06f" stroke="#46c06f" stroke-width=".6"/>
<path class="w3" d="M167,375.2l1,-5.1 1,-5.9 1,-6 1,-5.8 1,-5.6 1,-6.5 1,-8.2 1,-7 1,-5.4 1,-5 1,-4.5 1,-3.5 1,-2.8 1,-2.2 1,-1.9 1,-1.9 1,-1.7 1,-1.6 1,-1.5"/>
<path class="w2" d="M186,293.1l1,-1.2 1,-1.1 1,-1.4 1,-1.4 1,-1.5 1,-1.9 1,-1.8 1,-1.6 1,-1.5 1,-1.6 1,-1.5 1,-1.7 1,-1.5 1,-1.3 1,-1.4 1,-1.3 1,-.8 1,-.5"/>
<path class="w" d="M204,268.1l1,-.5 1,-.5 1,-.3 1,-.3 1,-.4 1,-.3 1,-.4 1,-.5 1,-.4 1,-.4 1,-.4 1,-.5 1,-.4 1,-.3 1,-.5 1,-.4 1,-.5 1,-.4 1,-.5 1,-.6 1,-.5 1,-.5 1,-.3 1,-.6 1,-.9 1,-.5 1,-.3 1,-.3 1,-.6 1,-.5 1,-.4 1,-.5 1,-.5 1,-.5 1,-.6 1,-.4 1,-.3 1,-.4 1,-.5 1,-.5 1,-.4 1,-.5 1,-.6 1,-.4 1,-.2 1,-.2 1,-.3 1,-.4 1,-.4 1,-.4 1,-.3 1,-.2 1,-.2 1,-.4 1,-.3 1,-.2 1,-.2 1,-.1 1,0 1,-.1 1,-.2 1,-.1 1,0 1,-.1 1,0 1,.1 1,-.2 1,-.3 1,-.4 1,-.5 1,-.3 1,-.1 1,-.3 1,-.4 1,-.5 1,-.4 1,-.4 1,-.3 1,-.2 1,-.3 1,-.5 1,-.2 1,-.5 1,-.7 1,-.5 1,-.5 1,-.4 1,-.2 1,-.2 1,-.5 1,-.6 1,-.5 1,-.4 1,-.4 1,-.4 1,-.3 1,-.4 1,-.6 1,-.8 1,-.5 1,-.4 1,-.4 1,-.4 1,-.4 1,-.5 1,-.7 1,-.3 1,-.2 1,-.5 1,-.5 1,-.4 1,-.4 1,0 1,0 1,-.5 1,-.8 1,-.5 1,-.1 1,-.2 1,-.5 1,-.4 1,0 1,-.3 1.7,-.8"/>
<path d="M152,394.5l1,-.6 1,-.6 1,-.6 1,-.4 1,-.5 1,-.5 1,-.4 1,-.7 1,-.7 1,-.4 1,-.6 1,-.7 1,-.6 1,-10.2 1,-1.9 1,-3.3 1,-5.3 1,-5.2 1,-5 1,-4.8 1,-5.7 1,-7.2 1,-6.1 1,-4.9 1,-4.5 1,-4.1 1,-3 1,-2.3 1,-2 1,-1.8 1,-1.5 1,-1.4 1,-1.3 1,-1.2 1,-.9 1,-1.2 1,-1.3 1,-1.2 1,-1.2 1,-1.7 1,-1.7 1,-1.6 1,-1.5 1,-1.4 1,-1.3 1,-1.3 1,-1.4 1,-1.4 1,-1.2 1,-1 1,-.8 1,-.6 1,-.3 1,-.3 1,-.2 1,-.2 1,-.3 1,-.3 1,-.2 1,-.3 1,-.4 1,-.2 1,-.4 1,-.5 1,-.4 1,-.3 1,-.4 1,-.3 1,-.3 1,-.6 1,-.6 1,-.4 1,-.3 1,-.2 1,-.2 1,-.6 1,-.6 1,-.4 1,-.1 1,-.5 1,-.5 1,-.2 1,-.2 1,-.6 1,-.6 1,-.4 1,-.4 1,-.5 1,-.5 1,-.3 1,-.4 1,-.3 1,-.2 1,-.2 1,-.6 1,-.5 1,-.3 1,-.2 1,-.3 1,-.6 1,-.5 1,-.3 1,-.2 1,0 1,-.3 1,-.3 1,-.2 1,-.1 1,-.1 1,-.2 1,-.2 1,-.3 1,.1 1,.1 1,-.3 1,-.1 1,.1 1,-.2 1,-.3 1,-.1 1,-.2 1,-.4 1,-.4 1,-.2 1,-.2 1,-.2 1,-.2 1,-.1 1,-.4 1,-.4 1,-.2 1,-.1 1,-.4 1,-.4 1,-.6 1,-.4 1,-.4 1,-.6 1,-.4 1,-.4 1,-.5 1,-.6 1,-.3 1,-.1 1,-.3 1,-.4 1,-.6 1,-.6 1,-.4 1,-.4 1,-.4 1,-.3 1,-.3 1,-.7 1,-.8 1,-.4 1,-.4 1,-.2 1,0 1,-.5 1,-.5 1,-.1 1,-.2 1,-.6 1,-.5 1,-.2 1,-.1 1,-.2 1,-.2 1,-.2 1,-.3 1,-.4 1,-.6 1,-.6 1,-.2 1.7,-.4L328.7,253l-1.7,.6 -1,.3 -1,.3 -1,.5 -1,.4 -1,.5 -1,.3 -1,0 -1,.1 -1,.3 -1,.3 -1,0 -1,.3 -1,.5 -1,.5 -1,.6 -1,.7 -1,.5 -1,.1 -1,.2 -1,.6 -1,.6 -1,.2 -1,-.1 -1,.4 -1,.7 -1,.4 -1,.5 -1,.7 -1,.5 -1,.3 -1,.3 -1,.5 -1,.2 -1,.6 -1,.5 -1,0 -1,.2 -1,.6 -1,.6 -1,.2 -1,.3 -1,.6 -1,.4 -1,.3 -1,.4 -1,.3 -1,0 -1,.3 -1,.5 -1,.3 -1,.1 -1,.2 -1,.5 -1,.5 -1,.1 -1,.2 -1,.3 -1,-.1 -1,.1 -1,.4 -1,.1 -1,-.2 -1,-.1 -1,-.1 -1,.2 -1,.2 -1,.1 -1,.2 -1,.3 -1,.3 -1,.1 -1,.3 -1,.4 -1,.4 -1,.3 -1,.2 -1,.2 -1,.3 -1,.4 -1,.3 -1,.5 -1,.4 -1,.5 -1,.4 -1,.1 -1,0 -1,.4 -1,.6 -1,.5 -1,.3 -1,0 -1,.4 -1,.6 -1,.4 -1,.2 -1,.1 -1,.3 -1,.6 -1,.5 -1,.4 -1,.3 -1,.3 -1,.4 -1,.5 -1,.3 -1,.3 -1,.2 -1,.3 -1,.3 -1,.5 -1,.3 -1,.2 -1,.3 -1,.3 -1,.2 -1,.3 -1,.4 -1,.2 -1,.1 -1,0 -1,.1 -1,.2 -1,.2 -1,.4 -1,.9 -1,1.2 -1,1.2 -1,1.2 -1,1.2 -1,1.3 -1,1.2 -1,1.2 -1,1.2 -1,1.3 -1,1.6 -1,1.6 -1,1.3 -1,1.1 -1,.9 -1,1 -1,1.1 -1,1.2 -1,1.2 -1,1.2 -1,1.3 -1,1.6 -1,1.8 -1,2.1 -1,2.7 -1,3.7 -1,4.1 -1,4.4 -1,5.4 -1,6.6 -1,5.1 -1,4.5 -1,4.8 -1,4.5 -1,4.7 -1,2.1 -1,1.8 -1,10 -1,.5 -1,.5 -1,.4 -1,.7 -1,.7 -1,.5 -1,.5 -1,.5 -1,.5 -1,.4 -1,.5 -1,.6 -1,.5z" fill="#35b779" stroke="#35b779" stroke-width=".6"/>
<path class="w3" d="M167,375.1l1,-3.3 1,-5.3 1,-5.2 1,-5 1,-4.8 1,-5.7 1,-7.2 1,-6.1 1,-4.9 1,-4.5 1,-4.1 1,-3 1,-2.3 1,-2 1,-1.8 1,-1.5 1,-1.4 1,-1.3 1,-1.2"/>
<path class="w2" d="M186,304.5l1,-.9 1,-1.2 1,-1.3 1,-1.2 1,-1.2 1,-1.7 1,-1.7 1,-1.6 1,-1.5 1,-1.4 1,-1.3 1,-1.3 1,-1.4 1,-1.4 1,-1.2 1,-1 1,-.8 1,-.6"/>
<path class="w" d="M204,281.8l1,-.3 1,-.3 1,-.2 1,-.2 1,-.3 1,-.3 1,-.2 1,-.3 1,-.4 1,-.2 1,-.4 1,-.5 1,-.4 1,-.3 1,-.4 1,-.3 1,-.3 1,-.6 1,-.6 1,-.4 1,-.3 1,-.2 1,-.2 1,-.6 1,-.6 1,-.4 1,-.1 1,-.5 1,-.5 1,-.2 1,-.2 1,-.6 1,-.6 1,-.4 1,-.4 1,-.5 1,-.5 1,-.3 1,-.4 1,-.3 1,-.2 1,-.2 1,-.6 1,-.5 1,-.3 1,-.2 1,-.3 1,-.6 1,-.5 1,-.3 1,-.2 1,0 1,-.3 1,-.3 1,-.2 1,-.1 1,-.1 1,-.2 1,-.2 1,-.3 1,.1 1,.1 1,-.3 1,-.1 1,.1 1,-.2 1,-.3 1,-.1 1,-.2 1,-.4 1,-.4 1,-.2 1,-.2 1,-.2 1,-.2 1,-.1 1,-.4 1,-.4 1,-.2 1,-.1 1,-.4 1,-.4 1,-.6 1,-.4 1,-.4 1,-.6 1,-.4 1,-.4 1,-.5 1,-.6 1,-.3 1,-.1 1,-.3 1,-.4 1,-.6 1,-.6 1,-.4 1,-.4 1,-.4 1,-.3 1,-.3 1,-.7 1,-.8 1,-.4 1,-.4 1,-.2 1,0 1,-.5 1,-.5 1,-.1 1,-.2 1,-.6 1,-.5 1,-.2 1,-.1 1,-.2 1,-.2 1,-.2 1,-.3 1,-.4 1,-.6 1,-.6 1,-.2 1.7,-.4"/>
<path d="M152,394l1,-.5 1,-.6 1,-.5 1,-.4 1,-.5 1,-.5 1,-.5 1,-.5 1,-.7 1,-.7 1,-.4 1,-.5 1,-.5 1,-10 1,-1.8 1,-2.1 1,-4.7 1,-4.5 1,-4.8 1,-4.5 1,-5.1 1,-6.6 1,-5.4 1,-4.4 1,-4.1 1,-3.7 1,-2.7 1,-2.1 1,-1.8 1,-1.6 1,-1.3 1,-1.2 1,-1.2 1,-1.2 1,-1.1 1,-1 1,-.9 1,-1.1 1,-1.3 1,-1.6 1,-1.6 1,-1.3 1,-1.2 1,-1.2 1,-1.2 1,-1.3 1,-1.2 1,-1.2 1,-1.2 1,-1.2 1,-.9 1,-.4 1,-.2 1,-.2 1,-.1 1,0 1,-.1 1,-.2 1,-.4 1,-.3 1,-.2 1,-.3 1,-.3 1,-.2 1,-.3 1,-.5 1,-.3 1,-.3 1,-.2 1,-.3 1,-.3 1,-.5 1,-.4 1,-.3 1,-.3 1,-.4 1,-.5 1,-.6 1,-.3 1,-.1 1,-.2 1,-.4 1,-.6 1,-.4 1,0 1,-.3 1,-.5 1,-.6 1,-.4 1,0 1,-.1 1,-.4 1,-.5 1,-.4 1,-.5 1,-.3 1,-.4 1,-.3 1,-.2 1,-.2 1,-.3 1,-.4 1,-.4 1,-.3 1,-.1 1,-.3 1,-.3 1,-.2 1,-.1 1,-.2 1,-.2 1,.1 1,.1 1,.2 1,-.1 1,-.4 1,-.1 1,.1 1,-.3 1,-.2 1,-.1 1,-.5 1,-.5 1,-.2 1,-.1 1,-.3 1,-.5 1,-.3 1,0 1,-.3 1,-.4 1,-.3 1,-.4 1,-.6 1,-.3 1,-.2 1,-.6 1,-.6 1,-.2 1,0 1,-.5 1,-.6 1,-.2 1,-.5 1,-.3 1,-.3 1,-.5 1,-.7 1,-.5 1,-.4 1,-.7 1,-.4 1,.1 1,-.2 1,-.6 1,-.6 1,-.2 1,-.1 1,-.5 1,-.7 1,-.6 1,-.5 1,-.5 1,-.3 1,0 1,-.3 1,-.3 1,-.1 1,0 1,-.3 1,-.5 1,-.4 1,-.5 1,-.3 1,-.3 1.7,-.6L328.7,265.1l-1.7,.5 -1,.3 -1,.5 -1,.4 -1,.1 -1,.3 -1,.4 -1,.1 -1,.2 -1,.3 -1,0 -1,.2 -1,.5 -1,.4 -1,.4 -1,.5 -1,.3 -1,.1 -1,.3 -1,.6 -1,.6 -1,.2 -1,.2 -1,.5 -1,.5 -1,.6 -1,.5 -1,.1 -1,.3 -1,.6 -1,.6 -1,.4 -1,.3 -1,0 -1,.4 -1,.7 -1,.2 -1,.2 -1,.3 -1,.3 -1,.6 -1,.5 -1,.3 -1,.4 -1,.4 -1,.4 -1,.2 -1,.2 -1,.3 -1,.4 -1,.4 -1,.1 -1,.2 -1,.4 -1,.2 -1,.3 -1,.1 -1,.2 -1,.5 -1,-.1 -1,-.2 -1,.2 -1,.2 -1,0 -1,.1 -1,.3 -1,.3 -1,0 -1,-.1 -1,.2 -1,.2 -1,.2 -1,.1 -1,.2 -1,.3 -1,.3 -1,.4 -1,.4 -1,.3 -1,.3 -1,.4 -1,.2 -1,.2 -1,.5 -1,.3 -1,.2 -1,.4 -1,.4 -1,.3 -1,.3 -1,.2 -1,.1 -1,.2 -1,.5 -1,.4 -1,.2 -1,.2 -1,.3 -1,.3 -1,.4 -1,.4 -1,.5 -1,.5 -1,.5 -1,.1 -1,.1 -1,.2 -1,.2 -1,.3 -1,.4 -1,.3 -1,.1 -1,.2 -1,.1 -1,.2 -1,.3 -1,.2 -1,.2 -1,.1 -1,-.1 -1,0 -1,.2 -1,.4 -1,.4 -1,.5 -1,.6 -1,.8 -1,.9 -1,.8 -1,1.1 -1,1.2 -1,1.2 -1,1.1 -1,1.2 -1,1.5 -1,1.3 -1,1 -1,1.2 -1,1.2 -1,.9 -1,.9 -1,1 -1,1 -1,1.2 -1,1 -1,1.1 -1,1.3 -1,1.7 -1,2.1 -1,2.5 -1,3.3 -1,3.7 -1,4 -1,4.9 -1,6 -1,4.8 -1,4.1 -1,4.4 -1,4.3 -1,3.5 -1,1.8 -1,1.8 -1,9.9 -1,.4 -1,.6 -1,.6 -1,.3 -1,.2 -1,.4 -1,.5 -1,.5 -1,.5 -1,.5 -1,.3 -1,.4 -1,.4z" fill="#29af7f" stroke="#29af7f" stroke-width=".6"/>
<path class="w3" d="M167,375.4l1,-2.1 1,-4.7 1,-4.5 1,-4.8 1,-4.5 1,-5.1 1,-6.6 1,-5.4 1,-4.4 1,-4.1 1,-3.7 1,-2.7 1,-2.1 1,-1.8 1,-1.6 1,-1.3 1,-1.2 1,-1.2 1,-1.2"/>
<path class="w2" d="M186,312.4l1,-1.1 1,-1 1,-.9 1,-1.1 1,-1.3 1,-1.6 1,-1.6 1,-1.3 1,-1.2 1,-1.2 1,-1.2 1,-1.3 1,-1.2 1,-1.2 1,-1.2 1,-1.2 1,-.9 1,-.4"/>
<path class="w" d="M204,291.5l1,-.2 1,-.2 1,-.1 1,0 1,-.1 1,-.2 1,-.4 1,-.3 1,-.2 1,-.3 1,-.3 1,-.2 1,-.3 1,-.5 1,-.3 1,-.3 1,-.2 1,-.3 1,-.3 1,-.5 1,-.4 1,-.3 1,-.3 1,-.4 1,-.5 1,-.6 1,-.3 1,-.1 1,-.2 1,-.4 1,-.6 1,-.4 1,0 1,-.3 1,-.5 1,-.6 1,-.4 1,0 1,-.1 1,-.4 1,-.5 1,-.4 1,-.5 1,-.3 1,-.4 1,-.3 1,-.2 1,-.2 1,-.3 1,-.4 1,-.4 1,-.3 1,-.1 1,-.3 1,-.3 1,-.2 1,-.1 1,-.2 1,-.2 1,.1 1,.1 1,.2 1,-.1 1,-.4 1,-.1 1,.1 1,-.3 1,-.2 1,-.1 1,-.5 1,-.5 1,-.2 1,-.1 1,-.3 1,-.5 1,-.3 1,0 1,-.3 1,-.4 1,-.3 1,-.4 1,-.6 1,-.3 1,-.2 1,-.6 1,-.6 1,-.2 1,0 1,-.5 1,-.6 1,-.2 1,-.5 1,-.3 1,-.3 1,-.5 1,-.7 1,-.5 1,-.4 1,-.7 1,-.4 1,.1 1,-.2 1,-.6 1,-.6 1,-.2 1,-.1 1,-.5 1,-.7 1,-.6 1,-.5 1,-.5 1,-.3 1,0 1,-.3 1,-.3 1,-.1 1,0 1,-.3 1,-.5 1,-.4 1,-.5 1,-.3 1,-.3 1.7,-.6"/>
<path d="M152,392.9l1,-.4 1,-.4 1,-.3 1,-.5 1,-.5 1,-.5 1,-.5 1,-.4 1,-.2 1,-.3 1,-.6 1,-.6 1,-.4 1,-9.9 1,-1.8 1,-1.8 1,-3.5 1,-4.3 1,-4.4 1,-4.1 1,-4.8 1,-6 1,-4.9 1,-4 1,-3.7 1,-3.3 1,-2.5 1,-2.1 1,-1.7 1,-1.3 1,-1.1 1,-1 1,-1.2 1,-1 1,-1 1,-.9 1,-.9 1,-1.2 1,-1.2 1,-1 1,-1.3 1,-1.5 1,-1.2 1,-1.1 1,-1.2 1,-1.2 1,-1.1 1,-.8 1,-.9 1,-.8 1,-.6 1,-.5 1,-.4 1,-.4 1,-.2 1,0 1,.1 1,-.1 1,-.2 1,-.2 1,-.3 1,-.2 1,-.1 1,-.2 1,-.1 1,-.3 1,-.4 1,-.3 1,-.2 1,-.2 1,-.1 1,-.1 1,-.5 1,-.5 1,-.5 1,-.4 1,-.4 1,-.3 1,-.3 1,-.2 1,-.2 1,-.4 1,-.5 1,-.2 1,-.1 1,-.2 1,-.3 1,-.3 1,-.4 1,-.4 1,-.2 1,-.3 1,-.5 1,-.2 1,-.2 1,-.4 1,-.3 1,-.3 1,-.4 1,-.4 1,-.3 1,-.3 1,-.2 1,-.1 1,-.2 1,-.2 1,-.2 1,.1 1,0 1,-.3 1,-.3 1,-.1 1,0 1,-.2 1,-.2 1,.2 1,.1 1,-.5 1,-.2 1,-.1 1,-.3 1,-.2 1,-.4 1,-.2 1,-.1 1,-.4 1,-.4 1,-.3 1,-.2 1,-.2 1,-.4 1,-.4 1,-.4 1,-.3 1,-.5 1,-.6 1,-.3 1,-.3 1,-.2 1,-.2 1,-.7 1,-.4 1,0 1,-.3 1,-.4 1,-.6 1,-.6 1,-.3 1,-.1 1,-.5 1,-.6 1,-.5 1,-.5 1,-.2 1,-.2 1,-.6 1,-.6 1,-.3 1,-.1 1,-.3 1,-.5 1,-.4 1,-.4 1,-.5 1,-.2 1,0 1,-.3 1,-.2 1,-.1 1,-.4 1,-.3 1,-.1 1,-.4 1,-.5 1,-.3 1.7,-.5L328.7,271.8l-1.7,.3 -1,.4 -1,.6 -1,.1 -1,.1 -1,.6 -1,.6 -1,.2 -1,0 -1,.5 -1,.5 -1,.2 -1,.1 -1,.1 -1,.2 -1,.5 -1,.5 -1,.6 -1,.5 -1,.4 -1,.2 -1,0 -1,.5 -1,.9 -1,.3 -1,.1 -1,.4 -1,.4 -1,.6 -1,.7 -1,.1 -1,.3 -1,.6 -1,.4 -1,.3 -1,.3 -1,.5 -1,.5 -1,.2 -1,.2 -1,.5 -1,.5 -1,.5 -1,.1 -1,.2 -1,.5 -1,.6 -1,.2 -1,.2 -1,.4 -1,.2 -1,.2 -1,.4 -1,.4 -1,.4 -1,.2 -1,.3 -1,.3 -1,0 -1,.1 -1,.1 -1,.1 -1,-.1 -1,-.1 -1,.2 -1,.1 -1,-.1 -1,.2 -1,.1 -1,.1 -1,.2 -1,.4 -1,.3 -1,0 -1,.1 -1,.1 -1,.3 -1,.3 -1,.3 -1,.2 -1,.3 -1,.2 -1,.4 -1,.3 -1,.3 -1,.2 -1,.2 -1,.1 -1,.4 -1,.5 -1,.4 -1,.4 -1,.3 -1,.2 -1,.3 -1,.2 -1,.1 -1,.3 -1,.4 -1,.4 -1,.2 -1,.2 -1,.2 -1,.4 -1,.3 -1,.2 -1,.2 -1,.3 -1,.2 -1,.1 -1,.2 -1,.4 -1,.1 -1,.1 -1,.3 -1,.3 -1,.1 -1,.2 -1,.1 -1,-.1 -1,-.1 -1,0 -1,0 -1,.3 -1,.5 -1,.8 -1,.6 -1,.7 -1,1 -1,1.1 -1,1.1 -1,1.1 -1,1 -1,1 -1,1.3 -1,1.2 -1,1.1 -1,1.2 -1,1 -1,.9 -1,1 -1,.7 -1,.9 -1,1 -1,1.1 -1,1.1 -1,1.4 -1,1.4 -1,1.8 -1,2.4 -1,3.2 -1,3.5 -1,3.8 -1,4.9 -1,5.7 -1,4.4 -1,3.8 -1,4.1 -1,3.9 -1,2.7 -1,1.9 -1,1.8 -1,9.7 -1,.4 -1,.4 -1,.3 -1,.4 -1,.3 -1,.3 -1,.4 -1,.4 -1,.4 -1,.2 -1,.5 -1,.4 -1,.3z" fill="#21a685" stroke="#21a685" stroke-width=".6"/>
<path class="w3" d="M167,375.6l1,-1.8 1,-3.5 1,-4.3 1,-4.4 1,-4.1 1,-4.8 1,-6 1,-4.9 1,-4 1,-3.7 1,-3.3 1,-2.5 1,-2.1 1,-1.7 1,-1.3 1,-1.1 1,-1 1,-1.2 1,-1"/>
<path class="w2" d="M186,318.9l1,-1 1,-.9 1,-.9 1,-1.2 1,-1.2 1,-1 1,-1.3 1,-1.5 1,-1.2 1,-1.1 1,-1.2 1,-1.2 1,-1.1 1,-.8 1,-.9 1,-.8 1,-.6 1,-.5"/>
<path class="w" d="M204,300.5l1,-.4 1,-.4 1,-.2 1,0 1,.1 1,-.1 1,-.2 1,-.2 1,-.3 1,-.2 1,-.1 1,-.2 1,-.1 1,-.3 1,-.4 1,-.3 1,-.2 1,-.2 1,-.1 1,-.1 1,-.5 1,-.5 1,-.5 1,-.4 1,-.4 1,-.3 1,-.3 1,-.2 1,-.2 1,-.4 1,-.5 1,-.2 1,-.1 1,-.2 1,-.3 1,-.3 1,-.4 1,-.4 1,-.2 1,-.3 1,-.5 1,-.2 1,-.2 1,-.4 1,-.3 1,-.3 1,-.4 1,-.4 1,-.3 1,-.3 1,-.2 1,-.1 1,-.2 1,-.2 1,-.2 1,.1 1,0 1,-.3 1,-.3 1,-.1 1,0 1,-.2 1,-.2 1,.2 1,.1 1,-.5 1,-.2 1,-.1 1,-.3 1,-.2 1,-.4 1,-.2 1,-.1 1,-.4 1,-.4 1,-.3 1,-.2 1,-.2 1,-.4 1,-.4 1,-.4 1,-.3 1,-.5 1,-.6 1,-.3 1,-.3 1,-.2 1,-.2 1,-.7 1,-.4 1,0 1,-.3 1,-.4 1,-.6 1,-.6 1,-.3 1,-.1 1,-.5 1,-.6 1,-.5 1,-.5 1,-.2 1,-.2 1,-.6 1,-.6 1,-.3 1,-.1 1,-.3 1,-.5 1,-.4 1,-.4 1,-.5 1,-.2 1,0 1,-.3 1,-.2 1,-.1 1,-.4 1,-.3 1,-.1 1,-.4 1,-.5 1,-.3 1.7,-.5"/>
<path d="M152,391.9l1,-.3 1,-.4 1,-.5 1,-.2 1,-.4 1,-.4 1,-.4 1,-.3 1,-.3 1,-.4 1,-.3 1,-.4 1,-.4 1,-9.7 1,-1.8 1,-1.9 1,-2.7 1,-3.9 1,-4.1 1,-3.8 1,-4.4 1,-5.7 1,-4.9 1,-3.8 1,-3.5 1,-3.2 1,-2.4 1,-1.8 1,-1.4 1,-1.4 1,-1.1 1,-1.1 1,-1 1,-.9 1,-.7 1,-1 1,-.9 1,-1 1,-1.2 1,-1.1 1,-1.2 1,-1.3 1,-1 1,-1 1,-1.1 1,-1.1 1,-1.1 1,-1 1,-.7 1,-.6 1,-.8 1,-.5 1,-.3 1,0 1,0 1,.1 1,.1 1,-.1 1,-.2 1,-.1 1,-.3 1,-.3 1,-.1 1,-.1 1,-.4 1,-.2 1,-.1 1,-.2 1,-.3 1,-.2 1,-.2 1,-.3 1,-.4 1,-.2 1,-.2 1,-.2 1,-.4 1,-.4 1,-.3 1,-.1 1,-.2 1,-.3 1,-.2 1,-.3 1,-.4 1,-.4 1,-.5 1,-.4 1,-.1 1,-.2 1,-.2 1,-.3 1,-.3 1,-.4 1,-.2 1,-.3 1,-.2 1,-.3 1,-.3 1,-.3 1,-.1 1,-.1 1,0 1,-.3 1,-.4 1,-.2 1,-.1 1,-.1 1,-.2 1,.1 1,-.1 1,-.2 1,.1 1,.1 1,-.1 1,-.1 1,-.1 1,0 1,-.3 1,-.3 1,-.2 1,-.4 1,-.4 1,-.4 1,-.2 1,-.2 1,-.4 1,-.2 1,-.2 1,-.6 1,-.5 1,-.2 1,-.1 1,-.5 1,-.5 1,-.5 1,-.2 1,-.2 1,-.5 1,-.5 1,-.3 1,-.3 1,-.4 1,-.6 1,-.3 1,-.1 1,-.7 1,-.6 1,-.4 1,-.4 1,-.1 1,-.3 1,-.9 1,-.5 1,0 1,-.2 1,-.4 1,-.5 1,-.6 1,-.5 1,-.5 1,-.2 1,-.1 1,-.1 1,-.2 1,-.5 1,-.5 1,0 1,-.2 1,-.6 1,-.6 1,-.1 1,-.1 1,-.6 1,-.4 1.7,-.3L328.7,279.9l-1.7,.6 -1,.2 -1,.1 -1,.3 -1,.7 -1,.3 -1,0 -1,.2 -1,.3 -1,.4 -1,.4 -1,.2 -1,.1 -1,.3 -1,.5 -1,.6 -1,.4 -1,.1 -1,.4 -1,.4 -1,.2 -1,.3 -1,.5 -1,.6 -1,.4 -1,.4 -1,.3 -1,.3 -1,.3 -1,.6 -1,.5 -1,.2 -1,.4 -1,.6 -1,.3 -1,.1 -1,.2 -1,.4 -1,.4 -1,.3 -1,.3 -1,.5 -1,.3 -1,.3 -1,.5 -1,.4 -1,.2 -1,.2 -1,.2 -1,.4 -1,.3 -1,.3 -1,.4 -1,.3 -1,.2 -1,.1 -1,0 -1,.2 -1,.3 -1,-.1 -1,-.2 -1,.2 -1,.1 -1,.1 -1,.2 -1,.1 -1,.1 -1,.2 -1,.1 -1,0 -1,0 -1,.3 -1,.3 -1,.2 -1,0 -1,-.1 -1,.2 -1,.4 -1,.5 -1,.1 -1,.1 -1,.4 -1,.2 -1,.3 -1,.2 -1,.2 -1,.2 -1,.2 -1,.3 -1,.2 -1,.3 -1,.3 -1,.3 -1,.1 -1,.3 -1,.3 -1,.1 -1,.1 -1,.3 -1,.5 -1,.3 -1,.2 -1,0 -1,.1 -1,.2 -1,.1 -1,.1 -1,.3 -1,.3 -1,.2 -1,.1 -1,.2 -1,.1 -1,.1 -1,0 -1,.1 -1,.2 -1,.1 -1,0 -1,0 -1,-.1 -1,0 -1,.3 -1,.2 -1,.2 -1,.6 -1,.7 -1,.9 -1,1.1 -1,.8 -1,1 -1,1 -1,.8 -1,1 -1,1.2 -1,1.2 -1,1.1 -1,1.1 -1,1 -1,.8 -1,.7 -1,.8 -1,1 -1,.8 -1,1 -1,1.2 -1,1.1 -1,1.4 -1,1.8 -1,2.3 -1,3.1 -1,3.4 -1,3.5 -1,4.4 -1,5.4 -1,4.3 -1,3.7 -1,3.8 -1,3.7 -1,2.2 -1,1.9 -1,1.8 -1,9.7 -1,.4 -1,.3 -1,.3 -1,.1 -1,.2 -1,.4 -1,.4 -1,.2 -1,.3 -1,.2 -1,.2 -1,.3 -1,.4z" fill="#1e9b8a" stroke="#1e9b8a" stroke-width=".6"/>
<path class="w3" d="M167,375.7l1,-1.9 1,-2.7 1,-3.9 1,-4.1 1,-3.8 1,-4.4 1,-5.7 1,-4.9 1,-3.8 1,-3.5 1,-3.2 1,-2.4 1,-1.8 1,-1.4 1,-1.4 1,-1.1 1,-1.1 1,-1 1,-.9"/>
<path class="w2" d="M186,322.7l1,-.7 1,-1 1,-.9 1,-1 1,-1.2 1,-1.1 1,-1.2 1,-1.3 1,-1 1,-1 1,-1.1 1,-1.1 1,-1.1 1,-1 1,-.7 1,-.6 1,-.8 1,-.5"/>
<path class="w" d="M204,305.4l1,-.3 1,0 1,0 1,.1 1,.1 1,-.1 1,-.2 1,-.1 1,-.3 1,-.3 1,-.1 1,-.1 1,-.4 1,-.2 1,-.1 1,-.2 1,-.3 1,-.2 1,-.2 1,-.3 1,-.4 1,-.2 1,-.2 1,-.2 1,-.4 1,-.4 1,-.3 1,-.1 1,-.2 1,-.3 1,-.2 1,-.3 1,-.4 1,-.4 1,-.5 1,-.4 1,-.1 1,-.2 1,-.2 1,-.3 1,-.3 1,-.4 1,-.2 1,-.3 1,-.2 1,-.3 1,-.3 1,-.3 1,-.1 1,-.1 1,0 1,-.3 1,-.4 1,-.2 1,-.1 1,-.1 1,-.2 1,.1 1,-.1 1,-.2 1,.1 1,.1 1,-.1 1,-.1 1,-.1 1,0 1,-.3 1,-.3 1,-.2 1,-.4 1,-.4 1,-.4 1,-.2 1,-.2 1,-.4 1,-.2 1,-.2 1,-.6 1,-.5 1,-.2 1,-.1 1,-.5 1,-.5 1,-.5 1,-.2 1,-.2 1,-.5 1,-.5 1,-.3 1,-.3 1,-.4 1,-.6 1,-.3 1,-.1 1,-.7 1,-.6 1,-.4 1,-.4 1,-.1 1,-.3 1,-.9 1,-.5 1,0 1,-.2 1,-.4 1,-.5 1,-.6 1,-.5 1,-.5 1,-.2 1,-.1 1,-.1 1,-.2 1,-.5 1,-.5 1,0 1,-.2 1,-.6 1,-.6 1,-.1 1,-.1 1,-.6 1,-.4 1.7,-.3"/>
<path d="M152,391l1,-.4 1,-.3 1,-.2 1,-.2 1,-.3 1,-.2 1,-.4 1,-.4 1,-.2 1,-.1 1,-.3 1,-.3 1,-.4 1,-9.7 1,-1.8 1,-1.9 1,-2.2 1,-3.7 1,-3.8 1,-3.7 1,-4.3 1,-5.4 1,-4.4 1,-3.5 1,-3.4 1,-3.1 1,-2.3 1,-1.8 1,-1.4 1,-1.1 1,-1.2 1,-1 1,-.8 1,-1 1,-.8 1,-.7 1,-.8 1,-1 1,-1.1 1,-1.1 1,-1.2 1,-1.2 1,-1 1,-.8 1,-1 1,-1 1,-.8 1,-1.1 1,-.9 1,-.7 1,-.6 1,-.2 1,-.2 1,-.3 1,0 1,.1 1,0 1,0 1,-.1 1,-.2 1,-.1 1,0 1,-.1 1,-.1 1,-.2 1,-.1 1,-.2 1,-.3 1,-.3 1,-.1 1,-.1 1,-.2 1,-.1 1,0 1,-.2 1,-.3 1,-.5 1,-.3 1,-.1 1,-.1 1,-.3 1,-.3 1,-.1 1,-.3 1,-.3 1,-.3 1,-.2 1,-.3 1,-.2 1,-.2 1,-.2 1,-.2 1,-.3 1,-.2 1,-.4 1,-.1 1,-.1 1,-.5 1,-.4 1,-.2 1,.1 1,0 1,-.2 1,-.3 1,-.3 1,0 1,0 1,-.1 1,-.2 1,-.1 1,-.1 1,-.2 1,-.1 1,-.1 1,-.2 1,.2 1,.1 1,-.3 1,-.2 1,0 1,-.1 1,-.2 1,-.3 1,-.4 1,-.3 1,-.3 1,-.4 1,-.2 1,-.2 1,-.2 1,-.4 1,-.5 1,-.3 1,-.3 1,-.5 1,-.3 1,-.3 1,-.4 1,-.4 1,-.2 1,-.1 1,-.3 1,-.6 1,-.4 1,-.2 1,-.5 1,-.6 1,-.3 1,-.3 1,-.3 1,-.4 1,-.4 1,-.6 1,-.5 1,-.3 1,-.2 1,-.4 1,-.4 1,-.1 1,-.4 1,-.6 1,-.5 1,-.3 1,-.1 1,-.2 1,-.4 1,-.4 1,-.3 1,-.2 1,0 1,-.3 1,-.7 1,-.3 1,-.1 1,-.2 1.7,-.6L328.7,290.6l-1.7,.5 -1,.1 -1,.4 -1,.5 -1,.4 -1,.4 -1,.3 -1,.3 -1,.1 -1,.3 -1,.5 -1,.6 -1,.2 -1,.1 -1,.4 -1,.3 -1,.4 -1,.4 -1,.4 -1,.5 -1,.4 -1,.4 -1,.5 -1,.4 -1,.2 -1,.5 -1,.6 -1,.3 -1,.1 -1,.2 -1,.7 -1,.7 -1,.2 -1,.4 -1,.5 -1,.6 -1,.4 -1,.3 -1,.1 -1,.3 -1,.5 -1,.2 -1,0 -1,.2 -1,.6 -1,.2 -1,.1 -1,.2 -1,0 -1,.1 -1,.3 -1,.4 -1,.1 -1,0 -1,.2 -1,.2 -1,.2 -1,.2 -1,.2 -1,.2 -1,.3 -1,0 -1,-.1 -1,0 -1,.1 -1,.3 -1,.3 -1,.2 -1,.1 -1,.2 -1,.1 -1,.2 -1,.3 -1,.1 -1,0 -1,.1 -1,.3 -1,.1 -1,.2 -1,.3 -1,.3 -1,.4 -1,.4 -1,.1 -1,.2 -1,.2 -1,-.1 -1,.4 -1,.3 -1,.1 -1,.4 -1,.5 -1,.2 -1,.1 -1,.3 -1,.3 -1,.1 -1,.3 -1,.4 -1,.3 -1,.3 -1,.1 -1,-.1 -1,.1 -1,.4 -1,.4 -1,.1 -1,0 -1,.1 -1,.3 -1,.1 -1,0 -1,0 -1,.2 -1,0 -1,0 -1,.1 -1,.1 -1,.1 -1,-.2 -1,0 -1,-.1 -1,0 -1,0 -1,.3 -1,.5 -1,.5 -1,.6 -1,1 -1,1 -1,.7 -1,.6 -1,.8 -1,.9 -1,1 -1,1.2 -1,1.1 -1,.8 -1,.7 -1,.6 -1,.7 -1,.8 -1,.9 -1,.6 -1,.8 -1,1.1 -1,1.1 -1,1.2 -1,1.5 -1,2 -1,2.7 -1,2.8 -1,3.1 -1,4 -1,4.6 -1,3.7 -1,3.2 -1,3.3 -1,2.3 -1,1.7 -1,1.8 -1,1.7 -1,9.4 -1,.4 -1,.3 -1,.1 -1,.3 -1,.2 -1,.1 -1,.2 -1,.4 -1,.2 -1,.2 -1,.3 -1,.1 -1,.3z" fill="#21918c" stroke="#21918c" stroke-width=".6"/>
<path class="w3" d="M167,375.8l1,-1.9 1,-2.2 1,-3.7 1,-3.8 1,-3.7 1,-4.3 1,-5.4 1,-4.4 1,-3.5 1,-3.4 1,-3.1 1,-2.3 1,-1.8 1,-1.4 1,-1.1 1,-1.2 1,-1 1,-.8 1,-1"/>
<path class="w2" d="M186,325.8l1,-.8 1,-.7 1,-.8 1,-1 1,-1.1 1,-1.1 1,-1.2 1,-1.2 1,-1 1,-.8 1,-1 1,-1 1,-.8 1,-1.1 1,-.9 1,-.7 1,-.6 1,-.2"/>
<path class="w" d="M204,309.8l1,-.2 1,-.3 1,0 1,.1 1,0 1,0 1,-.1 1,-.2 1,-.1 1,0 1,-.1 1,-.1 1,-.2 1,-.1 1,-.2 1,-.3 1,-.3 1,-.1 1,-.1 1,-.2 1,-.1 1,0 1,-.2 1,-.3 1,-.5 1,-.3 1,-.1 1,-.1 1,-.3 1,-.3 1,-.1 1,-.3 1,-.3 1,-.3 1,-.2 1,-.3 1,-.2 1,-.2 1,-.2 1,-.2 1,-.3 1,-.2 1,-.4 1,-.1 1,-.1 1,-.5 1,-.4 1,-.2 1,.1 1,0 1,-.2 1,-.3 1,-.3 1,0 1,0 1,-.1 1,-.2 1,-.1 1,-.1 1,-.2 1,-.1 1,-.1 1,-.2 1,.2 1,.1 1,-.3 1,-.2 1,0 1,-.1 1,-.2 1,-.3 1,-.4 1,-.3 1,-.3 1,-.4 1,-.2 1,-.2 1,-.2 1,-.4 1,-.5 1,-.3 1,-.3 1,-.5 1,-.3 1,-.3 1,-.4 1,-.4 1,-.2 1,-.1 1,-.3 1,-.6 1,-.4 1,-.2 1,-.5 1,-.6 1,-.3 1,-.3 1,-.3 1,-.4 1,-.4 1,-.6 1,-.5 1,-.3 1,-.2 1,-.4 1,-.4 1,-.1 1,-.4 1,-.6 1,-.5 1,-.3 1,-.1 1,-.2 1,-.4 1,-.4 1,-.3 1,-.2 1,0 1,-.3 1,-.7 1,-.3 1,-.1 1,-.2 1.7,-.6"/>
<path d="M152,390.3l1,-.3 1,-.1 1,-.3 1,-.2 1,-.2 1,-.4 1,-.2 1,-.1 1,-.2 1,-.3 1,-.1 1,-.3 1,-.4 1,-9.4 1,-1.7 1,-1.8 1,-1.7 1,-2.3 1,-3.3 1,-3.2 1,-3.7 1,-4.6 1,-4 1,-3.1 1,-2.8 1,-2.7 1,-2 1,-1.5 1,-1.2 1,-1.1 1,-1.1 1,-.8 1,-.6 1,-.9 1,-.8 1,-.7 1,-.6 1,-.7 1,-.8 1,-1.1 1,-1.2 1,-1 1,-.9 1,-.8 1,-.6 1,-.7 1,-1 1,-1 1,-.6 1,-.5 1,-.5 1,-.3 1,0 1,0 1,.1 1,0 1,.2 1,-.1 1,-.1 1,-.1 1,0 1,0 1,-.2 1,0 1,0 1,-.1 1,-.3 1,-.1 1,0 1,-.1 1,-.4 1,-.4 1,-.1 1,.1 1,-.1 1,-.3 1,-.3 1,-.4 1,-.3 1,-.1 1,-.3 1,-.3 1,-.1 1,-.2 1,-.5 1,-.4 1,-.1 1,-.3 1,-.4 1,.1 1,-.2 1,-.2 1,-.1 1,-.4 1,-.4 1,-.3 1,-.3 1,-.2 1,-.1 1,-.3 1,-.1 1,0 1,-.1 1,-.3 1,-.2 1,-.1 1,-.2 1,-.1 1,-.2 1,-.3 1,-.3 1,-.1 1,0 1,.1 1,0 1,-.3 1,-.2 1,-.2 1,-.2 1,-.2 1,-.2 1,-.2 1,0 1,-.1 1,-.4 1,-.3 1,-.1 1,0 1,-.2 1,-.1 1,-.2 1,-.6 1,-.2 1,0 1,-.2 1,-.5 1,-.3 1,-.1 1,-.3 1,-.4 1,-.6 1,-.5 1,-.4 1,-.2 1,-.7 1,-.7 1,-.2 1,-.1 1,-.3 1,-.6 1,-.5 1,-.2 1,-.4 1,-.5 1,-.4 1,-.4 1,-.5 1,-.4 1,-.4 1,-.4 1,-.3 1,-.4 1,-.1 1,-.2 1,-.6 1,-.5 1,-.3 1,-.1 1,-.3 1,-.3 1,-.4 1,-.4 1,-.5 1,-.4 1,-.1 1.7,-.5L328.7,304.9l-1.7,.5 -1,.5 -1,.2 -1,.1 -1,.3 -1,.4 -1,.2 -1,.2 -1,.4 -1,.3 -1,.1 -1,.4 -1,.6 -1,.5 -1,.1 -1,.2 -1,.2 -1,.4 -1,.4 -1,.3 -1,.5 -1,.4 -1,.3 -1,.3 -1,.2 -1,.5 -1,.4 -1,.2 -1,.4 -1,.6 -1,.4 -1,.4 -1,.6 -1,.5 -1,.5 -1,.2 -1,-.1 -1,.1 -1,.4 -1,.4 -1,.2 -1,.2 -1,.3 -1,.3 -1,.1 -1,.4 -1,.2 -1,.1 -1,.2 -1,.3 -1,.1 -1,-.1 -1,.2 -1,0 -1,.1 -1,.4 -1,.3 -1,0 -1,-.2 -1,-.1 -1,.3 -1,.4 -1,0 -1,0 -1,.2 -1,.1 -1,0 -1,.2 -1,.3 -1,.3 -1,0 -1,.1 -1,.2 -1,.2 -1,.5 -1,.4 -1,.3 -1,0 -1,-.1 -1,.3 -1,.4 -1,.2 -1,.3 -1,.1 -1,.2 -1,.3 -1,.1 -1,.2 -1,.4 -1,.1 -1,.2 -1,.2 -1,.2 -1,.4 -1,.2 -1,.3 -1,.3 -1,.1 -1,-.1 -1,.1 -1,.2 -1,.3 -1,.3 -1,.1 -1,.1 -1,.3 -1,.2 -1,.1 -1,0 -1,0 -1,.2 -1,0 -1,-.1 -1,-.1 -1,.1 -1,.2 -1,.2 -1,.1 -1,-.3 -1,-.3 -1,-.2 -1,-.1 -1,0 -1,.1 -1,.1 -1,.2 -1,.5 -1,.5 -1,.7 -1,.7 -1,.7 -1,.5 -1,.6 -1,.7 -1,.7 -1,.8 -1,.8 -1,.9 -1,.8 -1,.6 -1,.5 -1,.7 -1,.7 -1,.6 -1,.8 -1,.8 -1,.9 -1,.9 -1,1.4 -1,1.6 -1,2.3 -1,2.6 -1,2.7 -1,3.2 -1,3.8 -1,3.3 -1,2.8 -1,1.9 -1,.8 -1,1.5 -1,1.9 -1,1.8 -1,9.4 -1,.2 -1,.1 -1,.1 -1,.2 -1,.2 -1,.4 -1,.1 -1,-.1 -1,.1 -1,.2 -1,.3 -1,.3 -1,.1z" fill="#24868e" stroke="#24868e" stroke-width=".6"/>
<path class="w3" d="M167,376.1l1,-1.8 1,-1.7 1,-2.3 1,-3.3 1,-3.2 1,-3.7 1,-4.6 1,-4 1,-3.1 1,-2.8 1,-2.7 1,-2 1,-1.5 1,-1.2 1,-1.1 1,-1.1 1,-.8 1,-.6 1,-.9"/>
<path class="w2" d="M186,333.7l1,-.8 1,-.7 1,-.6 1,-.7 1,-.8 1,-1.1 1,-1.2 1,-1 1,-.9 1,-.8 1,-.6 1,-.7 1,-1 1,-1 1,-.6 1,-.5 1,-.5 1,-.3"/>
<path class="w" d="M204,319.9l1,0 1,0 1,.1 1,0 1,.2 1,-.1 1,-.1 1,-.1 1,0 1,0 1,-.2 1,0 1,0 1,-.1 1,-.3 1,-.1 1,0 1,-.1 1,-.4 1,-.4 1,-.1 1,.1 1,-.1 1,-.3 1,-.3 1,-.4 1,-.3 1,-.1 1,-.3 1,-.3 1,-.1 1,-.2 1,-.5 1,-.4 1,-.1 1,-.3 1,-.4 1,.1 1,-.2 1,-.2 1,-.1 1,-.4 1,-.4 1,-.3 1,-.3 1,-.2 1,-.1 1,-.3 1,-.1 1,0 1,-.1 1,-.3 1,-.2 1,-.1 1,-.2 1,-.1 1,-.2 1,-.3 1,-.3 1,-.1 1,0 1,.1 1,0 1,-.3 1,-.2 1,-.2 1,-.2 1,-.2 1,-.2 1,-.2 1,0 1,-.1 1,-.4 1,-.3 1,-.1 1,0 1,-.2 1,-.1 1,-.2 1,-.6 1,-.2 1,0 1,-.2 1,-.5 1,-.3 1,-.1 1,-.3 1,-.4 1,-.6 1,-.5 1,-.4 1,-.2 1,-.7 1,-.7 1,-.2 1,-.1 1,-.3 1,-.6 1,-.5 1,-.2 1,-.4 1,-.5 1,-.4 1,-.4 1,-.5 1,-.4 1,-.4 1,-.4 1,-.3 1,-.4 1,-.1 1,-.2 1,-.6 1,-.5 1,-.3 1,-.1 1,-.3 1,-.3 1,-.4 1,-.4 1,-.5 1,-.4 1,-.1 1.7,-.5"/>
<path d="M152,389.6l1,-.1 1,-.3 1,-.3 1,-.2 1,-.1 1,.1 1,-.1 1,-.4 1,-.2 1,-.2 1,-.1 1,-.1 1,-.2 1,-9.4 1,-1.8 1,-1.9 1,-1.5 1,-.8 1,-1.9 1,-2.8 1,-3.3 1,-3.8 1,-3.2 1,-2.7 1,-2.6 1,-2.3 1,-1.6 1,-1.4 1,-.9 1,-.9 1,-.8 1,-.8 1,-.6 1,-.7 1,-.7 1,-.5 1,-.6 1,-.8 1,-.9 1,-.8 1,-.8 1,-.7 1,-.7 1,-.6 1,-.5 1,-.7 1,-.7 1,-.7 1,-.5 1,-.5 1,-.2 1,-.1 1,-.1 1,0 1,.1 1,.2 1,.3 1,.3 1,-.1 1,-.2 1,-.2 1,-.1 1,.1 1,.1 1,0 1,-.2 1,0 1,0 1,-.1 1,-.2 1,-.3 1,-.1 1,-.1 1,-.3 1,-.3 1,-.2 1,-.1 1,.1 1,-.1 1,-.3 1,-.3 1,-.2 1,-.4 1,-.2 1,-.2 1,-.2 1,-.1 1,-.4 1,-.2 1,-.1 1,-.3 1,-.2 1,-.1 1,-.3 1,-.2 1,-.4 1,-.3 1,.1 1,0 1,-.3 1,-.4 1,-.5 1,-.2 1,-.2 1,-.1 1,0 1,-.3 1,-.3 1,-.2 1,0 1,-.1 1,-.2 1,0 1,0 1,-.4 1,-.3 1,.1 1,.2 1,0 1,-.3 1,-.4 1,-.1 1,0 1,-.2 1,.1 1,-.1 1,-.3 1,-.2 1,-.1 1,-.2 1,-.4 1,-.1 1,-.3 1,-.3 1,-.2 1,-.2 1,-.4 1,-.4 1,-.1 1,.1 1,-.2 1,-.5 1,-.5 1,-.6 1,-.4 1,-.4 1,-.6 1,-.4 1,-.2 1,-.4 1,-.5 1,-.2 1,-.3 1,-.3 1,-.4 1,-.5 1,-.3 1,-.4 1,-.4 1,-.2 1,-.2 1,-.1 1,-.5 1,-.6 1,-.4 1,-.1 1,-.3 1,-.4 1,-.2 1,-.2 1,-.4 1,-.3 1,-.1 1,-.2 1,-.5 1.7,-.5L328.7,307l-1.7,.6 -1,.2 -1,.1 -1,.3 -1,.6 -1,.5 -1,.3 -1,0 -1,.3 -1,.4 -1,.4 -1,.2 -1,.4 -1,.5 -1,.5 -1,.4 -1,.4 -1,.2 -1,.3 -1,.7 -1,.4 -1,.2 -1,.4 -1,.2 -1,.1 -1,.5 -1,.4 -1,.2 -1,.3 -1,.4 -1,.6 -1,.6 -1,.5 -1,.4 -1,.3 -1,.5 -1,.6 -1,.5 -1,.1 -1,.1 -1,.2 -1,.2 -1,.4 -1,0 -1,-.2 -1,0 -1,.3 -1,.2 -1,.2 -1,.1 -1,.1 -1,.3 -1,.2 -1,0 -1,-.1 -1,0 -1,.3 -1,.3 -1,.2 -1,.4 -1,-.1 -1,-.1 -1,.1 -1,.3 -1,0 -1,0 -1,.2 -1,.3 -1,.2 -1,.1 -1,.1 -1,.2 -1,.2 -1,.2 -1,.2 -1,.2 -1,0 -1,.2 -1,.2 -1,.2 -1,.2 -1,.5 -1,.2 -1,.2 -1,.2 -1,.1 -1,.2 -1,.4 -1,.2 -1,.3 -1,.1 -1,.2 -1,.2 -1,.3 -1,.3 -1,.1 -1,.2 -1,.2 -1,.1 -1,.2 -1,.1 -1,.2 -1,.4 -1,.3 -1,0 -1,-.1 -1,0 -1,.2 -1,.3 -1,.1 -1,0 -1,.1 -1,0 -1,0 -1,-.1 -1,-.3 -1,-.2 -1,.1 -1,.2 -1,.1 -1,0 -1,-.2 -1,-.3 -1,-.2 -1,.1 -1,.3 -1,.4 -1,.6 -1,.6 -1,.6 -1,.4 -1,.6 -1,.8 -1,.8 -1,.8 -1,.9 -1,.7 -1,.7 -1,.8 -1,.5 -1,.4 -1,.6 -1,.7 -1,.5 -1,.6 -1,.9 -1,.9 -1,1 -1,1.2 -1,1.7 -1,2.3 -1,2.5 -1,2.6 -1,3.1 -1,3.7 -1,3 -1,2.6 -1,1.6 -1,.9 -1,1.5 -1,1.9 -1,1.9 -1,9.1 -1,0 -1,0 -1,.1 -1,.2 -1,.3 -1,.2 -1,.1 -1,.1 -1,.1 -1,.1 -1,.2 -1,.2 -1,.1z" fill="#287d8e" stroke="#287d8e" stroke-width=".6"/>
<path class="w3" d="M167,376.2l1,-1.9 1,-1.5 1,-.8 1,-1.9 1,-2.8 1,-3.3 1,-3.8 1,-3.2 1,-2.7 1,-2.6 1,-2.3 1,-1.6 1,-1.4 1,-.9 1,-.9 1,-.8 1,-.8 1,-.6 1,-.7"/>
<path class="w2" d="M186,341.7l1,-.7 1,-.5 1,-.6 1,-.8 1,-.9 1,-.8 1,-.8 1,-.7 1,-.7 1,-.6 1,-.5 1,-.7 1,-.7 1,-.7 1,-.5 1,-.5 1,-.2 1,-.1"/>
<path class="w" d="M204,330.7l1,-.1 1,0 1,.1 1,.2 1,.3 1,.3 1,-.1 1,-.2 1,-.2 1,-.1 1,.1 1,.1 1,0 1,-.2 1,0 1,0 1,-.1 1,-.2 1,-.3 1,-.1 1,-.1 1,-.3 1,-.3 1,-.2 1,-.1 1,.1 1,-.1 1,-.3 1,-.3 1,-.2 1,-.4 1,-.2 1,-.2 1,-.2 1,-.1 1,-.4 1,-.2 1,-.1 1,-.3 1,-.2 1,-.1 1,-.3 1,-.2 1,-.4 1,-.3 1,.1 1,0 1,-.3 1,-.4 1,-.5 1,-.2 1,-.2 1,-.1 1,0 1,-.3 1,-.3 1,-.2 1,0 1,-.1 1,-.2 1,0 1,0 1,-.4 1,-.3 1,.1 1,.2 1,0 1,-.3 1,-.4 1,-.1 1,0 1,-.2 1,.1 1,-.1 1,-.3 1,-.2 1,-.1 1,-.2 1,-.4 1,-.1 1,-.3 1,-.3 1,-.2 1,-.2 1,-.4 1,-.4 1,-.1 1,.1 1,-.2 1,-.5 1,-.5 1,-.6 1,-.4 1,-.4 1,-.6 1,-.4 1,-.2 1,-.4 1,-.5 1,-.2 1,-.3 1,-.3 1,-.4 1,-.5 1,-.3 1,-.4 1,-.4 1,-.2 1,-.2 1,-.1 1,-.5 1,-.6 1,-.4 1,-.1 1,-.3 1,-.4 1,-.2 1,-.2 1,-.4 1,-.3 1,-.1 1,-.2 1,-.5 1.7,-.5"/>
<path d="M152,389l1,-.1 1,-.2 1,-.2 1,-.1 1,-.1 1,-.1 1,-.1 1,-.2 1,-.3 1,-.2 1,-.1 1,0 1,0 1,-9.1 1,-1.9 1,-1.9 1,-1.5 1,-.9 1,-1.6 1,-2.6 1,-3 1,-3.7 1,-3.1 1,-2.6 1,-2.5 1,-2.3 1,-1.7 1,-1.2 1,-1 1,-.9 1,-.9 1,-.6 1,-.5 1,-.7 1,-.6 1,-.4 1,-.5 1,-.8 1,-.7 1,-.7 1,-.9 1,-.8 1,-.8 1,-.8 1,-.6 1,-.4 1,-.6 1,-.6 1,-.6 1,-.4 1,-.3 1,-.1 1,.2 1,.3 1,.2 1,0 1,-.1 1,-.2 1,-.1 1,.2 1,.3 1,.1 1,0 1,0 1,-.1 1,0 1,-.1 1,-.3 1,-.2 1,0 1,.1 1,0 1,-.3 1,-.4 1,-.2 1,-.1 1,-.2 1,-.1 1,-.2 1,-.2 1,-.1 1,-.3 1,-.3 1,-.2 1,-.2 1,-.1 1,-.3 1,-.2 1,-.4 1,-.2 1,-.1 1,-.2 1,-.2 1,-.2 1,-.5 1,-.2 1,-.2 1,-.2 1,-.2 1,0 1,-.2 1,-.2 1,-.2 1,-.2 1,-.2 1,-.1 1,-.1 1,-.2 1,-.3 1,-.2 1,0 1,0 1,-.3 1,-.1 1,.1 1,.1 1,-.4 1,-.2 1,-.3 1,-.3 1,0 1,.1 1,0 1,-.2 1,-.3 1,-.1 1,-.1 1,-.2 1,-.2 1,-.3 1,0 1,.2 1,0 1,-.4 1,-.2 1,-.2 1,-.1 1,-.1 1,-.5 1,-.6 1,-.5 1,-.3 1,-.4 1,-.5 1,-.6 1,-.6 1,-.4 1,-.3 1,-.2 1,-.4 1,-.5 1,-.1 1,-.2 1,-.4 1,-.2 1,-.4 1,-.7 1,-.3 1,-.2 1,-.4 1,-.4 1,-.5 1,-.5 1,-.4 1,-.2 1,-.4 1,-.4 1,-.3 1,0 1,-.3 1,-.5 1,-.6 1,-.3 1,-.1 1,-.2 1.7,-.6L328.7,319.4l-1.7,.6 -1,0 -1,.2 -1,.4 -1,.5 -1,.4 -1,.2 -1,-.2 -1,.3 -1,.6 -1,.5 -1,.3 -1,.2 -1,.2 -1,.5 -1,.3 -1,-.2 -1,.2 -1,.5 -1,.3 -1,.6 -1,.6 -1,.1 -1,.1 -1,.1 -1,.4 -1,.7 -1,.4 -1,.3 -1,.2 -1,.2 -1,.5 -1,.4 -1,.4 -1,.3 -1,.2 -1,.4 -1,.4 -1,.2 -1,.4 -1,.3 -1,.1 -1,.2 -1,.3 -1,.4 -1,.1 -1,-.1 -1,.2 -1,.4 -1,.1 -1,0 -1,.2 -1,.4 -1,.2 -1,0 -1,.1 -1,.3 -1,-.1 -1,0 -1,.3 -1,.2 -1,0 -1,.2 -1,.1 -1,0 -1,.3 -1,.3 -1,-.1 -1,.1 -1,.3 -1,.2 -1,.3 -1,.1 -1,.1 -1,.2 -1,-.1 -1,-.2 -1,.3 -1,.4 -1,.2 -1,.1 -1,.3 -1,.4 -1,.1 -1,.1 -1,.1 -1,.2 -1,.2 -1,.2 -1,.2 -1,.2 -1,0 -1,0 -1,.1 -1,.3 -1,.1 -1,.2 -1,.2 -1,.1 -1,.2 -1,.1 -1,0 -1,.1 -1,.2 -1,-.1 -1,0 -1,0 -1,.2 -1,.1 -1,0 -1,-.1 -1,0 -1,-.1 -1,.1 -1,0 -1,-.1 -1,-.1 -1,-.1 -1,-.3 -1,-.3 -1,-.4 -1,-.1 -1,-.1 -1,0 -1,.2 -1,.2 -1,.1 -1,.4 -1,.5 -1,.5 -1,.5 -1,.6 -1,.4 -1,.7 -1,.6 -1,.6 -1,.6 -1,.6 -1,.6 -1,.5 -1,.2 -1,.5 -1,.6 -1,.5 -1,.4 -1,.8 -1,.9 -1,.8 -1,1 -1,1.5 -1,2.1 -1,2.2 -1,2.1 -1,2.6 -1,3.3 -1,2.8 -1,.8 -1,.6 -1,1.1 -1,1.6 -1,1.8 -1,1.9 -1,9 -1,.1 -1,.1 -1,0 -1,.1 -1,.1 -1,.1 -1,.1 -1,0 -1,.1 -1,.1 -1,0 -1,.1 -1,.2z" fill="#2c728e" stroke="#2c728e" stroke-width=".6"/>
<path class="w3" d="M167,376.3l1,-1.9 1,-1.5 1,-.9 1,-1.6 1,-2.6 1,-3 1,-3.7 1,-3.1 1,-2.6 1,-2.5 1,-2.3 1,-1.7 1,-1.2 1,-1 1,-.9 1,-.9 1,-.6 1,-.5 1,-.7"/>
<path class="w2" d="M186,343.1l1,-.6 1,-.4 1,-.5 1,-.8 1,-.7 1,-.7 1,-.9 1,-.8 1,-.8 1,-.8 1,-.6 1,-.4 1,-.6 1,-.6 1,-.6 1,-.4 1,-.3 1,-.1"/>
<path class="w" d="M204,332.5l1,.2 1,.3 1,.2 1,0 1,-.1 1,-.2 1,-.1 1,.2 1,.3 1,.1 1,0 1,0 1,-.1 1,0 1,-.1 1,-.3 1,-.2 1,0 1,.1 1,0 1,-.3 1,-.4 1,-.2 1,-.1 1,-.2 1,-.1 1,-.2 1,-.2 1,-.1 1,-.3 1,-.3 1,-.2 1,-.2 1,-.1 1,-.3 1,-.2 1,-.4 1,-.2 1,-.1 1,-.2 1,-.2 1,-.2 1,-.5 1,-.2 1,-.2 1,-.2 1,-.2 1,0 1,-.2 1,-.2 1,-.2 1,-.2 1,-.2 1,-.1 1,-.1 1,-.2 1,-.3 1,-.2 1,0 1,0 1,-.3 1,-.1 1,.1 1,.1 1,-.4 1,-.2 1,-.3 1,-.3 1,0 1,.1 1,0 1,-.2 1,-.3 1,-.1 1,-.1 1,-.2 1,-.2 1,-.3 1,0 1,.2 1,0 1,-.4 1,-.2 1,-.2 1,-.1 1,-.1 1,-.5 1,-.6 1,-.5 1,-.3 1,-.4 1,-.5 1,-.6 1,-.6 1,-.4 1,-.3 1,-.2 1,-.4 1,-.5 1,-.1 1,-.2 1,-.4 1,-.2 1,-.4 1,-.7 1,-.3 1,-.2 1,-.4 1,-.4 1,-.5 1,-.5 1,-.4 1,-.2 1,-.4 1,-.4 1,-.3 1,0 1,-.3 1,-.5 1,-.6 1,-.3 1,-.1 1,-.2 1.7,-.6"/>
<path d="M152,388.5l1,-.2 1,-.1 1,0 1,-.1 1,-.1 1,0 1,-.1 1,-.1 1,-.1 1,-.1 1,0 1,-.1 1,-.1 1,-9 1,-1.9 1,-1.8 1,-1.6 1,-1.1 1,-.6 1,-.8 1,-2.8 1,-3.3 1,-2.6 1,-2.1 1,-2.2 1,-2.1 1,-1.5 1,-1 1,-.8 1,-.9 1,-.8 1,-.4 1,-.5 1,-.6 1,-.5 1,-.2 1,-.5 1,-.6 1,-.6 1,-.6 1,-.6 1,-.6 1,-.7 1,-.4 1,-.6 1,-.5 1,-.5 1,-.5 1,-.4 1,-.1 1,-.2 1,-.2 1,0 1,.1 1,.1 1,.4 1,.3 1,.3 1,.1 1,.1 1,.1 1,0 1,-.1 1,.1 1,0 1,.1 1,0 1,-.1 1,-.2 1,0 1,0 1,.1 1,-.2 1,-.1 1,0 1,-.1 1,-.2 1,-.1 1,-.2 1,-.2 1,-.1 1,-.3 1,-.1 1,0 1,0 1,-.2 1,-.2 1,-.2 1,-.2 1,-.2 1,-.1 1,-.1 1,-.1 1,-.4 1,-.3 1,-.1 1,-.2 1,-.4 1,-.3 1,.2 1,.1 1,-.2 1,-.1 1,-.1 1,-.3 1,-.2 1,-.3 1,-.1 1,.1 1,-.3 1,-.3 1,0 1,-.1 1,-.2 1,0 1,-.2 1,-.3 1,0 1,.1 1,-.3 1,-.1 1,0 1,-.2 1,-.4 1,-.2 1,0 1,-.1 1,-.4 1,-.2 1,.1 1,-.1 1,-.4 1,-.3 1,-.2 1,-.1 1,-.3 1,-.4 1,-.2 1,-.4 1,-.4 1,-.2 1,-.3 1,-.4 1,-.4 1,-.5 1,-.2 1,-.2 1,-.3 1,-.4 1,-.7 1,-.4 1,-.1 1,-.1 1,-.1 1,-.6 1,-.6 1,-.3 1,-.5 1,-.2 1,.2 1,-.3 1,-.5 1,-.2 1,-.2 1,-.3 1,-.5 1,-.6 1,-.3 1,.2 1,-.2 1,-.4 1,-.5 1,-.4 1,-.2 1,0 1.7,-.6L328.7,332.5l-1.7,.6 -1,.3 -1,.1 -1,.1 -1,.2 -1,.3 -1,.3 -1,.3 -1,.7 -1,.5 -1,-.1 -1,-.1 -1,.3 -1,.3 -1,.2 -1,.4 -1,.4 -1,.1 -1,0 -1,.1 -1,.2 -1,.6 -1,.8 -1,.3 -1,0 -1,.3 -1,.5 -1,.3 -1,.2 -1,.5 -1,.5 -1,.1 -1,.1 -1,.3 -1,.5 -1,.1 -1,.1 -1,.5 -1,.3 -1,.3 -1,.5 -1,.3 -1,.1 -1,.1 -1,.3 -1,.4 -1,0 -1,0 -1,.3 -1,.4 -1,.2 -1,.1 -1,.3 -1,.1 -1,.1 -1,.4 -1,.2 -1,.1 -1,.2 -1,.3 -1,-.1 -1,0 -1,.2 -1,0 -1,-.1 -1,.2 -1,.2 -1,0 -1,.1 -1,.1 -1,0 -1,.1 -1,.2 -1,.1 -1,.1 -1,0 -1,.1 -1,.2 -1,.4 -1,.2 -1,.2 -1,.1 -1,0 -1,0 -1,0 -1,.1 -1,.3 -1,.3 -1,.2 -1,.2 -1,-.1 -1,.2 -1,.2 -1,0 -1,-.1 -1,.2 -1,.1 -1,-.1 -1,0 -1,.1 -1,.3 -1,.2 -1,.1 -1,-.2 -1,.1 -1,.1 -1,-.2 -1,0 -1,0 -1,-.1 -1,0 -1,-.1 -1,-.3 -1,-.1 -1,0 -1,-.1 -1,-.1 -1,-.1 -1,-.3 -1,-.4 -1,-.4 -1,-.3 -1,-.3 -1,-.1 -1,0 -1,.2 -1,.2 -1,.2 -1,.3 -1,.1 -1,.3 -1,.4 -1,.4 -1,.5 -1,.7 -1,.5 -1,.3 -1,.5 -1,.5 -1,.5 -1,.4 -1,.3 -1,.3 -1,.2 -1,.4 -1,.5 -1,.7 -1,.6 -1,.9 -1,1.2 -1,1.7 -1,1.7 -1,2 -1,2.3 -1,1.6 -1,.8 -1,.5 -1,.6 -1,1 -1,1.4 -1,1.7 -1,1.9 -1,8.9 -1,.2 -1,.1 -1,0 -1,0 -1,.1 -1,.1 -1,0 -1,-.1 -1,.1 -1,.2 -1,0 -1,0 -1,.1z" fill="#31678e" stroke="#31678e" stroke-width=".6"/>
<path class="w3" d="M167,376.5l1,-1.8 1,-1.6 1,-1.1 1,-.6 1,-.8 1,-2.8 1,-3.3 1,-2.6 1,-2.1 1,-2.2 1,-2.1 1,-1.5 1,-1 1,-.8 1,-.9 1,-.8 1,-.4 1,-.5 1,-.6"/>
<path class="w2" d="M186,349l1,-.5 1,-.2 1,-.5 1,-.6 1,-.6 1,-.6 1,-.6 1,-.6 1,-.7 1,-.4 1,-.6 1,-.5 1,-.5 1,-.5 1,-.4 1,-.1 1,-.2 1,-.2"/>
<path class="w" d="M204,340.7l1,0 1,.1 1,.1 1,.4 1,.3 1,.3 1,.1 1,.1 1,.1 1,0 1,-.1 1,.1 1,0 1,.1 1,0 1,-.1 1,-.2 1,0 1,0 1,.1 1,-.2 1,-.1 1,0 1,-.1 1,-.2 1,-.1 1,-.2 1,-.2 1,-.1 1,-.3 1,-.1 1,0 1,0 1,-.2 1,-.2 1,-.2 1,-.2 1,-.2 1,-.1 1,-.1 1,-.1 1,-.4 1,-.3 1,-.1 1,-.2 1,-.4 1,-.3 1,.2 1,.1 1,-.2 1,-.1 1,-.1 1,-.3 1,-.2 1,-.3 1,-.1 1,.1 1,-.3 1,-.3 1,0 1,-.1 1,-.2 1,0 1,-.2 1,-.3 1,0 1,.1 1,-.3 1,-.1 1,0 1,-.2 1,-.4 1,-.2 1,0 1,-.1 1,-.4 1,-.2 1,.1 1,-.1 1,-.4 1,-.3 1,-.2 1,-.1 1,-.3 1,-.4 1,-.2 1,-.4 1,-.4 1,-.2 1,-.3 1,-.4 1,-.4 1,-.5 1,-.2 1,-.2 1,-.3 1,-.4 1,-.7 1,-.4 1,-.1 1,-.1 1,-.1 1,-.6 1,-.6 1,-.3 1,-.5 1,-.2 1,.2 1,-.3 1,-.5 1,-.2 1,-.2 1,-.3 1,-.5 1,-.6 1,-.3 1,.2 1,-.2 1,-.4 1,-.5 1,-.4 1,-.2 1,0 1.7,-.6"/>
<path d="M152,388l1,-.1 1,0 1,0 1,-.2 1,-.1 1,.1 1,0 1,-.1 1,-.1 1,0 1,0 1,-.1 1,-.2 1,-8.9 1,-1.9 1,-1.7 1,-1.4 1,-1 1,-.6 1,-.5 1,-.8 1,-1.6 1,-2.3 1,-2 1,-1.7 1,-1.7 1,-1.2 1,-.9 1,-.6 1,-.7 1,-.5 1,-.4 1,-.2 1,-.3 1,-.3 1,-.4 1,-.5 1,-.5 1,-.5 1,-.3 1,-.5 1,-.7 1,-.5 1,-.4 1,-.4 1,-.3 1,-.1 1,-.3 1,-.2 1,-.2 1,-.2 1,0 1,.1 1,.3 1,.3 1,.4 1,.4 1,.3 1,.1 1,.1 1,.1 1,0 1,.1 1,.3 1,.1 1,0 1,.1 1,0 1,0 1,.2 1,-.1 1,-.1 1,.2 1,-.1 1,-.2 1,-.3 1,-.1 1,0 1,.1 1,-.1 1,-.2 1,.1 1,0 1,-.2 1,-.2 1,.1 1,-.2 1,-.2 1,-.3 1,-.3 1,-.1 1,0 1,0 1,0 1,-.1 1,-.2 1,-.2 1,-.4 1,-.2 1,-.1 1,0 1,-.1 1,-.1 1,-.2 1,-.1 1,0 1,-.1 1,-.1 1,0 1,-.2 1,-.2 1,.1 1,0 1,-.2 1,0 1,.1 1,-.3 1,-.2 1,-.1 1,-.2 1,-.4 1,-.1 1,-.1 1,-.3 1,-.1 1,-.2 1,-.4 1,-.3 1,0 1,0 1,-.4 1,-.3 1,-.1 1,-.1 1,-.3 1,-.5 1,-.3 1,-.3 1,-.5 1,-.1 1,-.1 1,-.5 1,-.3 1,-.1 1,-.1 1,-.5 1,-.5 1,-.2 1,-.3 1,-.5 1,-.3 1,0 1,-.3 1,-.8 1,-.6 1,-.2 1,-.1 1,0 1,-.1 1,-.4 1,-.4 1,-.2 1,-.3 1,-.3 1,.1 1,.1 1,-.5 1,-.7 1,-.3 1,-.3 1,-.3 1,-.2 1,-.1 1,-.1 1,-.3 1.7,-.6L328.7,336.4l-1.7,.3 -1,.2 -1,.4 -1,.4 -1,.2 -1,.4 -1,.4 -1,0 -1,0 -1,.4 -1,.7 -1,0 -1,0 -1,.3 -1,.4 -1,.1 -1,.2 -1,.3 -1,.3 -1,.2 -1,.6 -1,.4 -1,.2 -1,.4 -1,.2 -1,0 -1,.1 -1,.4 -1,.7 -1,.4 -1,.2 -1,.6 -1,.4 -1,0 -1,.2 -1,.6 -1,.5 -1,.3 -1,.1 -1,.1 -1,.4 -1,.2 -1,.1 -1,.2 -1,.2 -1,.4 -1,.2 -1,0 -1,.1 -1,.1 -1,0 -1,.1 -1,.2 -1,.3 -1,.3 -1,.1 -1,0 -1,.1 -1,.2 -1,.1 -1,0 -1,.1 -1,.3 -1,.2 -1,.2 -1,.1 -1,.1 -1,.2 -1,-.1 -1,.1 -1,.4 -1,.2 -1,0 -1,0 -1,.1 -1,.2 -1,.4 -1,.2 -1,0 -1,-.1 -1,-.1 -1,.1 -1,.3 -1,.2 -1,.2 -1,.1 -1,.1 -1,.1 -1,0 -1,.1 -1,.1 -1,.1 -1,.1 -1,.1 -1,.3 -1,.1 -1,-.1 -1,.1 -1,0 -1,.1 -1,.2 -1,0 -1,-.1 -1,.1 -1,0 -1,0 -1,0 -1,.1 -1,.1 -1,-.3 -1,-.2 -1,0 -1,-.1 -1,-.2 -1,-.3 -1,-.2 -1,0 -1,-.2 -1,-.4 -1,-.2 -1,-.3 -1,-.4 -1,-.1 -1,-.2 -1,-.1 -1,.1 -1,.1 -1,.2 -1,.3 -1,.2 -1,.3 -1,.4 -1,.4 -1,.3 -1,.3 -1,.4 -1,.4 -1,.5 -1,.4 -1,.3 -1,.4 -1,.2 -1,.3 -1,.5 -1,.5 -1,.5 -1,.6 -1,.6 -1,.7 -1,1.3 -1,1.5 -1,1.6 -1,1.7 -1,1.7 -1,.5 -1,.7 -1,.7 -1,.8 -1,.9 -1,1.4 -1,1.9 -1,1.9 -1,8.8 -1,.1 -1,-.1 -1,-.2 -1,-.1 -1,.2 -1,.2 -1,0 -1,0 -1,0 -1,0 -1,-.1 -1,-.1 -1,.1z" fill="#365d8d" stroke="#365d8d" stroke-width=".6"/>
<path class="w3" d="M167,376.4l1,-1.7 1,-1.4 1,-1 1,-.6 1,-.5 1,-.8 1,-1.6 1,-2.3 1,-2 1,-1.7 1,-1.7 1,-1.2 1,-.9 1,-.6 1,-.7 1,-.5 1,-.4 1,-.2 1,-.3"/>
<path class="w2" d="M186,356.3l1,-.3 1,-.4 1,-.5 1,-.5 1,-.5 1,-.3 1,-.5 1,-.7 1,-.5 1,-.4 1,-.4 1,-.3 1,-.1 1,-.3 1,-.2 1,-.2 1,-.2 1,0"/>
<path class="w" d="M204,350l1,.1 1,.3 1,.3 1,.4 1,.4 1,.3 1,.1 1,.1 1,.1 1,0 1,.1 1,.3 1,.1 1,0 1,.1 1,0 1,0 1,.2 1,-.1 1,-.1 1,.2 1,-.1 1,-.2 1,-.3 1,-.1 1,0 1,.1 1,-.1 1,-.2 1,.1 1,0 1,-.2 1,-.2 1,.1 1,-.2 1,-.2 1,-.3 1,-.3 1,-.1 1,0 1,0 1,0 1,-.1 1,-.2 1,-.2 1,-.4 1,-.2 1,-.1 1,0 1,-.1 1,-.1 1,-.2 1,-.1 1,0 1,-.1 1,-.1 1,0 1,-.2 1,-.2 1,.1 1,0 1,-.2 1,0 1,.1 1,-.3 1,-.2 1,-.1 1,-.2 1,-.4 1,-.1 1,-.1 1,-.3 1,-.1 1,-.2 1,-.4 1,-.3 1,0 1,0 1,-.4 1,-.3 1,-.1 1,-.1 1,-.3 1,-.5 1,-.3 1,-.3 1,-.5 1,-.1 1,-.1 1,-.5 1,-.3 1,-.1 1,-.1 1,-.5 1,-.5 1,-.2 1,-.3 1,-.5 1,-.3 1,0 1,-.3 1,-.8 1,-.6 1,-.2 1,-.1 1,0 1,-.1 1,-.4 1,-.4 1,-.2 1,-.3 1,-.3 1,.1 1,.1 1,-.5 1,-.7 1,-.3 1,-.3 1,-.3 1,-.2 1,-.1 1,-.1 1,-.3 1.7,-.6"/>
<path d="M152,387.4l1,-.1 1,.1 1,.1 1,0 1,0 1,0 1,0 1,-.2 1,-.2 1,.1 1,.2 1,.1 1,-.1 1,-8.8 1,-1.9 1,-1.9 1,-1.4 1,-.9 1,-.8 1,-.7 1,-.7 1,-.5 1,-1.7 1,-1.7 1,-1.6 1,-1.5 1,-1.3 1,-.7 1,-.6 1,-.6 1,-.5 1,-.5 1,-.5 1,-.3 1,-.2 1,-.4 1,-.3 1,-.4 1,-.5 1,-.4 1,-.4 1,-.3 1,-.3 1,-.4 1,-.4 1,-.3 1,-.2 1,-.3 1,-.2 1,-.1 1,-.1 1,.1 1,.2 1,.1 1,.4 1,.3 1,.2 1,.4 1,.2 1,0 1,.2 1,.3 1,.2 1,.1 1,0 1,.2 1,.3 1,-.1 1,-.1 1,0 1,0 1,0 1,-.1 1,.1 1,0 1,-.2 1,-.1 1,0 1,-.1 1,.1 1,-.1 1,-.3 1,-.1 1,-.1 1,-.1 1,-.1 1,-.1 1,0 1,-.1 1,-.1 1,-.1 1,-.2 1,-.2 1,-.3 1,-.1 1,.1 1,.1 1,0 1,-.2 1,-.4 1,-.2 1,-.1 1,0 1,0 1,-.2 1,-.4 1,-.1 1,.1 1,-.2 1,-.1 1,-.1 1,-.2 1,-.2 1,-.3 1,-.1 1,0 1,-.1 1,-.2 1,-.1 1,0 1,-.1 1,-.3 1,-.3 1,-.2 1,-.1 1,0 1,-.1 1,-.1 1,0 1,-.2 1,-.4 1,-.2 1,-.2 1,-.1 1,-.2 1,-.4 1,-.1 1,-.1 1,-.3 1,-.5 1,-.6 1,-.2 1,0 1,-.4 1,-.6 1,-.2 1,-.4 1,-.7 1,-.4 1,-.1 1,0 1,-.2 1,-.4 1,-.2 1,-.4 1,-.6 1,-.2 1,-.3 1,-.3 1,-.2 1,-.1 1,-.4 1,-.3 1,0 1,0 1,-.7 1,-.4 1,0 1,0 1,-.4 1,-.4 1,-.2 1,-.4 1,-.4 1,-.2 1.7,-.3L328.7,338.3l-1.7,.4 -1,.1 -1,.1 -1,.2 -1,.2 -1,.4 -1,.5 -1,.5 -1,.3 -1,.1 -1,.1 -1,.2 -1,.2 -1,.4 -1,.4 -1,.5 -1,.1 -1,.3 -1,.2 -1,.2 -1,.3 -1,.3 -1,.4 -1,.6 -1,.4 -1,.2 -1,.3 -1,.4 -1,.3 -1,.2 -1,0 -1,.2 -1,.6 -1,.5 -1,.4 -1,.3 -1,.3 -1,.2 -1,.2 -1,.3 -1,.3 -1,.2 -1,0 -1,.1 -1,.1 -1,0 -1,.1 -1,.4 -1,.3 -1,0 -1,.2 -1,.5 -1,.1 -1,-.1 -1,-.1 -1,.1 -1,.2 -1,.2 -1,.3 -1,.1 -1,-.1 -1,0 -1,.3 -1,.4 -1,.3 -1,-.1 -1,0 -1,.2 -1,.1 -1,.1 -1,.3 -1,.3 -1,.1 -1,-.2 -1,0 -1,.4 -1,.4 -1,.2 -1,.1 -1,.2 -1,0 -1,0 -1,.2 -1,.2 -1,.1 -1,0 -1,0 -1,.3 -1,.4 -1,.1 -1,.1 -1,.2 -1,.1 -1,-.2 -1,0 -1,.2 -1,.4 -1,.3 -1,.2 -1,0 -1,0 -1,0 -1,0 -1,0 -1,-.2 -1,-.1 -1,0 -1,0 -1,0 -1,-.1 -1,-.1 -1,.2 -1,-.1 -1,-.2 -1,-.2 -1,-.1 -1,-.1 -1,-.2 -1,-.3 -1,-.4 -1,-.2 -1,-.2 -1,-.4 -1,-.2 -1,-.3 -1,0 -1,.2 -1,.1 -1,.1 -1,.5 -1,.2 -1,.1 -1,.3 -1,.4 -1,.4 -1,.4 -1,.4 -1,.5 -1,.2 -1,.5 -1,.4 -1,.1 -1,.3 -1,.4 -1,.3 -1,.4 -1,.5 -1,.6 -1,.8 -1,1.1 -1,1.5 -1,1.5 -1,1.5 -1,.7 -1,.7 -1,.7 -1,.6 -1,.8 -1,1.1 -1,1.3 -1,1.6 -1,2 -1,8.6 -1,-.1 -1,0 -1,0 -1,-.1 -1,.1 -1,-.1 -1,0 -1,.1 -1,0 -1,0 -1,0 -1,0 -1,0z" fill="#3b528b" stroke="#3b528b" stroke-width=".6"/>
<path class="w3" d="M167,376.7l1,-1.9 1,-1.4 1,-.9 1,-.8 1,-.7 1,-.7 1,-.5 1,-1.7 1,-1.7 1,-1.6 1,-1.5 1,-1.3 1,-.7 1,-.6 1,-.6 1,-.5 1,-.5 1,-.5 1,-.3"/>
<path class="w2" d="M186,358.3l1,-.2 1,-.4 1,-.3 1,-.4 1,-.5 1,-.4 1,-.4 1,-.3 1,-.3 1,-.4 1,-.4 1,-.3 1,-.2 1,-.3 1,-.2 1,-.1 1,-.1 1,.1"/>
<path class="w" d="M204,353.2l1,.2 1,.1 1,.4 1,.3 1,.2 1,.4 1,.2 1,0 1,.2 1,.3 1,.2 1,.1 1,0 1,.2 1,.3 1,-.1 1,-.1 1,0 1,0 1,0 1,-.1 1,.1 1,0 1,-.2 1,-.1 1,0 1,-.1 1,.1 1,-.1 1,-.3 1,-.1 1,-.1 1,-.1 1,-.1 1,-.1 1,0 1,-.1 1,-.1 1,-.1 1,-.2 1,-.2 1,-.3 1,-.1 1,.1 1,.1 1,0 1,-.2 1,-.4 1,-.2 1,-.1 1,0 1,0 1,-.2 1,-.4 1,-.1 1,.1 1,-.2 1,-.1 1,-.1 1,-.2 1,-.2 1,-.3 1,-.1 1,0 1,-.1 1,-.2 1,-.1 1,0 1,-.1 1,-.3 1,-.3 1,-.2 1,-.1 1,0 1,-.1 1,-.1 1,0 1,-.2 1,-.4 1,-.2 1,-.2 1,-.1 1,-.2 1,-.4 1,-.1 1,-.1 1,-.3 1,-.5 1,-.6 1,-.2 1,0 1,-.4 1,-.6 1,-.2 1,-.4 1,-.7 1,-.4 1,-.1 1,0 1,-.2 1,-.4 1,-.2 1,-.4 1,-.6 1,-.2 1,-.3 1,-.3 1,-.2 1,-.1 1,-.4 1,-.3 1,0 1,0 1,-.7 1,-.4 1,0 1,0 1,-.4 1,-.4 1,-.2 1,-.4 1,-.4 1,-.2 1.7,-.3"/>
<path d="M152,387.2l1,0 1,0 1,0 1,0 1,0 1,-.1 1,0 1,.1 1,-.1 1,.1 1,0 1,0 1,.1 1,-8.6 1,-2 1,-1.6 1,-1.3 1,-1.1 1,-.8 1,-.6 1,-.7 1,-.7 1,-.7 1,-1.5 1,-1.5 1,-1.5 1,-1.1 1,-.8 1,-.6 1,-.5 1,-.4 1,-.3 1,-.4 1,-.3 1,-.1 1,-.4 1,-.5 1,-.2 1,-.5 1,-.4 1,-.4 1,-.4 1,-.4 1,-.3 1,-.1 1,-.2 1,-.5 1,-.1 1,-.1 1,-.2 1,0 1,.3 1,.2 1,.4 1,.2 1,.2 1,.4 1,.3 1,.2 1,.1 1,.1 1,.2 1,.2 1,.1 1,-.2 1,.1 1,.1 1,0 1,0 1,0 1,.1 1,.2 1,0 1,0 1,0 1,0 1,0 1,-.2 1,-.3 1,-.4 1,-.2 1,0 1,.2 1,-.1 1,-.2 1,-.1 1,-.1 1,-.4 1,-.3 1,0 1,0 1,-.1 1,-.2 1,-.2 1,0 1,0 1,-.2 1,-.1 1,-.2 1,-.4 1,-.4 1,0 1,.2 1,-.1 1,-.3 1,-.3 1,-.1 1,-.1 1,-.2 1,0 1,.1 1,-.3 1,-.4 1,-.3 1,0 1,.1 1,-.1 1,-.3 1,-.2 1,-.2 1,-.1 1,.1 1,.1 1,-.1 1,-.5 1,-.2 1,0 1,-.3 1,-.4 1,-.1 1,0 1,-.1 1,-.1 1,0 1,-.2 1,-.3 1,-.3 1,-.2 1,-.2 1,-.3 1,-.3 1,-.4 1,-.5 1,-.6 1,-.2 1,0 1,-.2 1,-.3 1,-.4 1,-.3 1,-.2 1,-.4 1,-.6 1,-.4 1,-.3 1,-.3 1,-.2 1,-.2 1,-.3 1,-.1 1,-.5 1,-.4 1,-.4 1,-.2 1,-.2 1,-.1 1,-.1 1,-.3 1,-.5 1,-.5 1,-.4 1,-.2 1,-.2 1,-.1 1,-.1 1.7,-.4L328.7,348l-1.7,.6 -1,.3 -1,.1 -1,.2 -1,.1 -1,.2 -1,.4 -1,.4 -1,.1 -1,.3 -1,.6 -1,.2 -1,-.1 -1,.2 -1,.5 -1,.2 -1,.3 -1,.5 -1,.1 -1,.3 -1,.4 -1,.2 -1,.4 -1,.3 -1,.1 -1,.4 -1,.3 -1,.1 -1,.4 -1,.4 -1,.2 -1,.2 -1,.4 -1,.5 -1,.4 -1,.3 -1,.4 -1,.2 -1,.2 -1,.1 -1,.2 -1,.2 -1,.2 -1,.1 -1,.1 -1,.2 -1,.2 -1,0 -1,.2 -1,.4 -1,.2 -1,-.1 -1,0 -1,.2 -1,0 -1,.3 -1,.3 -1,0 -1,0 -1,.3 -1,.1 -1,0 -1,0 -1,.1 -1,.4 -1,.3 -1,.3 -1,.1 -1,0 -1,0 -1,.1 -1,.3 -1,.4 -1,0 -1,-.1 -1,0 -1,0 -1,.1 -1,.4 -1,.3 -1,.2 -1,.1 -1,0 -1,.1 -1,.1 -1,.2 -1,.2 -1,0 -1,-.1 -1,0 -1,.4 -1,.3 -1,.1 -1,-.2 -1,.1 -1,.2 -1,0 -1,0 -1,.1 -1,-.1 -1,-.1 -1,0 -1,.1 -1,.2 -1,-.1 -1,.1 -1,0 -1,-.2 -1,-.1 -1,-.1 -1,-.1 -1,-.1 -1,-.4 -1,-.3 -1,-.1 -1,-.1 -1,-.2 -1,-.2 -1,-.4 -1,-.5 -1,-.4 -1,-.3 -1,-.4 -1,-.2 -1,0 -1,.1 -1,0 -1,-.2 -1,-.1 -1,.1 -1,.3 -1,.2 -1,.1 -1,.3 -1,.3 -1,.2 -1,.3 -1,.4 -1,.3 -1,.2 -1,.2 -1,.2 -1,.2 -1,.4 -1,.3 -1,.1 -1,.2 -1,.4 -1,.3 -1,.3 -1,.5 -1,.5 -1,.5 -1,.5 -1,.6 -1,.7 -1,.7 -1,.7 -1,1.2 -1,1.5 -1,1.6 -1,1.8 -1,2.1 -1,3.1 -1,2.3 -1,.5 -1,.4 -1,.2 -1,-.1 -1,-.1 -1,0 -1,0 -1,-.2 -1,-.2 -1,-.2 -1,-.4z" fill="#414487" stroke="#414487" stroke-width=".6"/>
<path class="w3" d="M167,376.7l1,-1.6 1,-1.3 1,-1.1 1,-.8 1,-.6 1,-.7 1,-.7 1,-.7 1,-1.5 1,-1.5 1,-1.5 1,-1.1 1,-.8 1,-.6 1,-.5 1,-.4 1,-.3 1,-.4 1,-.3"/>
<path class="w2" d="M186,360.3l1,-.1 1,-.4 1,-.5 1,-.2 1,-.5 1,-.4 1,-.4 1,-.4 1,-.4 1,-.3 1,-.1 1,-.2 1,-.5 1,-.1 1,-.1 1,-.2 1,0 1,.3"/>
<path class="w" d="M204,355.8l1,.2 1,.4 1,.2 1,.2 1,.4 1,.3 1,.2 1,.1 1,.1 1,.2 1,.2 1,.1 1,-.2 1,.1 1,.1 1,0 1,0 1,0 1,.1 1,.2 1,0 1,0 1,0 1,0 1,0 1,-.2 1,-.3 1,-.4 1,-.2 1,0 1,.2 1,-.1 1,-.2 1,-.1 1,-.1 1,-.4 1,-.3 1,0 1,0 1,-.1 1,-.2 1,-.2 1,0 1,0 1,-.2 1,-.1 1,-.2 1,-.4 1,-.4 1,0 1,.2 1,-.1 1,-.3 1,-.3 1,-.1 1,-.1 1,-.2 1,0 1,.1 1,-.3 1,-.4 1,-.3 1,0 1,.1 1,-.1 1,-.3 1,-.2 1,-.2 1,-.1 1,.1 1,.1 1,-.1 1,-.5 1,-.2 1,0 1,-.3 1,-.4 1,-.1 1,0 1,-.1 1,-.1 1,0 1,-.2 1,-.3 1,-.3 1,-.2 1,-.2 1,-.3 1,-.3 1,-.4 1,-.5 1,-.6 1,-.2 1,0 1,-.2 1,-.3 1,-.4 1,-.3 1,-.2 1,-.4 1,-.6 1,-.4 1,-.3 1,-.3 1,-.2 1,-.2 1,-.3 1,-.1 1,-.5 1,-.4 1,-.4 1,-.2 1,-.2 1,-.1 1,-.1 1,-.3 1,-.5 1,-.5 1,-.4 1,-.2 1,-.2 1,-.1 1,-.1 1.7,-.4"/>
<path d="M152,386.3l1,.4 1,.2 1,.2 1,.2 1,0 1,0 1,.1 1,.1 1,-.2 1,-.4 1,-.5 1,-2.3 1,-3.1 1,-2.1 1,-1.8 1,-1.6 1,-1.5 1,-1.2 1,-.7 1,-.7 1,-.7 1,-.6 1,-.5 1,-.5 1,-.5 1,-.5 1,-.3 1,-.3 1,-.4 1,-.2 1,-.1 1,-.3 1,-.4 1,-.2 1,-.2 1,-.2 1,-.2 1,-.3 1,-.4 1,-.3 1,-.2 1,-.3 1,-.3 1,-.1 1,-.2 1,-.3 1,-.1 1,.1 1,.2 1,0 1,-.1 1,0 1,.2 1,.4 1,.3 1,.4 1,.5 1,.4 1,.2 1,.2 1,.1 1,.1 1,.3 1,.4 1,.1 1,.1 1,.1 1,.1 1,.2 1,0 1,-.1 1,.1 1,-.2 1,-.1 1,0 1,.1 1,.1 1,-.1 1,0 1,0 1,-.2 1,-.1 1,.2 1,-.1 1,-.3 1,-.4 1,0 1,.1 1,0 1,-.2 1,-.2 1,-.1 1,-.1 1,0 1,-.1 1,-.2 1,-.3 1,-.4 1,-.1 1,0 1,0 1,.1 1,0 1,-.4 1,-.3 1,-.1 1,0 1,0 1,-.1 1,-.3 1,-.3 1,-.4 1,-.1 1,0 1,0 1,-.1 1,-.3 1,0 1,0 1,-.3 1,-.3 1,0 1,-.2 1,0 1,.1 1,-.2 1,-.4 1,-.2 1,0 1,-.2 1,-.2 1,-.1 1,-.1 1,-.2 1,-.2 1,-.2 1,-.1 1,-.2 1,-.2 1,-.4 1,-.3 1,-.4 1,-.5 1,-.4 1,-.2 1,-.2 1,-.4 1,-.4 1,-.1 1,-.3 1,-.4 1,-.1 1,-.3 1,-.4 1,-.2 1,-.4 1,-.3 1,-.1 1,-.5 1,-.3 1,-.2 1,-.5 1,-.2 1,.1 1,-.2 1,-.6 1,-.3 1,-.1 1,-.4 1,-.4 1,-.2 1,-.1 1,-.2 1,-.1 1,-.3 1.7,-.6L328.7,352.3l-1.7,.4 -1,.1 -1,.3 -1,.6 -1,.4 -1,.1 -1,-.1 -1,.1 -1,.5 -1,.7 -1,.4 -1,0 -1,.1 -1,.4 -1,.2 -1,.1 -1,.4 -1,.5 -1,.4 -1,.4 -1,0 -1,.1 -1,.4 -1,.3 -1,.2 -1,.4 -1,.5 -1,.2 -1,0 -1,.4 -1,.4 -1,.1 -1,.5 -1,.6 -1,.6 -1,.2 -1,.1 -1,.3 -1,.1 -1,.1 -1,.3 -1,.3 -1,.1 -1,.1 -1,.1 -1,.3 -1,.3 -1,0 -1,0 -1,-.1 -1,.1 -1,.1 -1,.3 -1,.3 -1,.3 -1,.1 -1,.1 -1,.1 -1,.1 -1,.3 -1,.2 -1,-.1 -1,-.1 -1,.1 -1,.4 -1,.3 -1,.2 -1,0 -1,.1 -1,.4 -1,.2 -1,0 -1,.1 -1,0 -1,.1 -1,0 -1,.2 -1,.2 -1,0 -1,0 -1,.1 -1,.1 -1,.1 -1,.1 -1,.1 -1,.1 -1,.1 -1,0 -1,0 -1,.3 -1,.2 -1,-.1 -1,-.1 -1,.5 -1,.1 -1,-.1 -1,-.1 -1,.1 -1,.1 -1,0 -1,-.1 -1,-.2 -1,.1 -1,.3 -1,-.2 -1,-.3 -1,-.1 -1,.2 -1,-.2 -1,-.3 -1,-.2 -1,0 -1,-.3 -1,-.3 -1,0 -1,-.2 -1,-.4 -1,-.4 -1,-.2 -1,-.3 -1,-.5 -1,-.4 -1,-.3 -1,-.2 -1,-.1 -1,-.1 -1,-.2 -1,-.1 -1,.1 -1,.1 -1,.1 -1,0 -1,0 -1,.1 -1,.3 -1,.3 -1,.4 -1,.3 -1,.1 -1,.1 -1,.3 -1,.3 -1,.2 -1,.1 -1,.2 -1,.4 -1,.4 -1,.3 -1,.5 -1,.5 -1,.8 -1,1.1 -1,1.2 -1,1.2 -1,1.3 -1,1.2 -1,1.3 -1,1.4 -1,1.3 -1,1.4 -1,1.3 -1,1.2 -1,1.1 -1,.5 -1,-.1 -1,-.1 -1,-.1 -1,-.1 -1,-.2 -1,-.3 -1,-.2 -1,-.1 -1,-.1 -1,-.2 -1,-.2 -1,-.1z" fill="#463480" stroke="#463480" stroke-width=".6"/>
<path class="w3" d="M152,386.3l1,.4 1,.2 1,.2 1,.2 1,0 1,0 1,.1 1,.1 1,-.2 1,-.4 1,-.5 1,-2.3 1,-3.1 1,-2.1 1,-1.8 1,-1.6 1,-1.5 1,-1.2 1,-.7 1,-.7 1,-.7 1,-.6 1,-.5 1,-.5 1,-.5 1,-.5 1,-.3 1,-.3 1,-.4 1,-.2 1,-.1 1,-.3 1,-.4 1,-.2"/>
<path class="w2" d="M186,365.9l1,-.2 1,-.2 1,-.2 1,-.3 1,-.4 1,-.3 1,-.2 1,-.3 1,-.3 1,-.1 1,-.2 1,-.3 1,-.1 1,.1 1,.2 1,0 1,-.1 1,0"/>
<path class="w" d="M204,363l1,.2 1,.4 1,.3 1,.4 1,.5 1,.4 1,.2 1,.2 1,.1 1,.1 1,.3 1,.4 1,.1 1,.1 1,.1 1,.1 1,.2 1,0 1,-.1 1,.1 1,-.2 1,-.1 1,0 1,.1 1,.1 1,-.1 1,0 1,0 1,-.2 1,-.1 1,.2 1,-.1 1,-.3 1,-.4 1,0 1,.1 1,0 1,-.2 1,-.2 1,-.1 1,-.1 1,0 1,-.1 1,-.2 1,-.3 1,-.4 1,-.1 1,0 1,0 1,.1 1,0 1,-.4 1,-.3 1,-.1 1,0 1,0 1,-.1 1,-.3 1,-.3 1,-.4 1,-.1 1,0 1,0 1,-.1 1,-.3 1,0 1,0 1,-.3 1,-.3 1,0 1,-.2 1,0 1,.1 1,-.2 1,-.4 1,-.2 1,0 1,-.2 1,-.2 1,-.1 1,-.1 1,-.2 1,-.2 1,-.2 1,-.1 1,-.2 1,-.2 1,-.4 1,-.3 1,-.4 1,-.5 1,-.4 1,-.2 1,-.2 1,-.4 1,-.4 1,-.1 1,-.3 1,-.4 1,-.1 1,-.3 1,-.4 1,-.2 1,-.4 1,-.3 1,-.1 1,-.5 1,-.3 1,-.2 1,-.5 1,-.2 1,.1 1,-.2 1,-.6 1,-.3 1,-.1 1,-.4 1,-.4 1,-.2 1,-.1 1,-.2 1,-.1 1,-.3 1.7,-.6"/>
<path d="M152,385.5l1,.1 1,.2 1,.2 1,.1 1,.1 1,.2 1,.3 1,.2 1,.1 1,.1 1,.1 1,.1 1,-.5 1,-1.1 1,-1.2 1,-1.3 1,-1.4 1,-1.3 1,-1.4 1,-1.3 1,-1.2 1,-1.3 1,-1.2 1,-1.2 1,-1.1 1,-.8 1,-.5 1,-.5 1,-.3 1,-.4 1,-.4 1,-.2 1,-.1 1,-.2 1,-.3 1,-.3 1,-.1 1,-.1 1,-.3 1,-.4 1,-.3 1,-.3 1,-.1 1,0 1,0 1,-.1 1,-.1 1,-.1 1,.1 1,.2 1,.1 1,.1 1,.2 1,.3 1,.4 1,.5 1,.3 1,.2 1,.4 1,.4 1,.2 1,0 1,.3 1,.3 1,0 1,.2 1,.3 1,.2 1,-.2 1,.1 1,.3 1,.2 1,-.3 1,-.1 1,.2 1,.1 1,0 1,-.1 1,-.1 1,.1 1,.1 1,-.1 1,-.5 1,.1 1,.1 1,-.2 1,-.3 1,0 1,0 1,-.1 1,-.1 1,-.1 1,-.1 1,-.1 1,-.1 1,-.1 1,0 1,0 1,-.2 1,-.2 1,0 1,-.1 1,0 1,-.1 1,0 1,-.2 1,-.4 1,-.1 1,0 1,-.2 1,-.3 1,-.4 1,-.1 1,.1 1,.1 1,-.2 1,-.3 1,-.1 1,-.1 1,-.1 1,-.1 1,-.3 1,-.3 1,-.3 1,-.1 1,-.1 1,.1 1,0 1,0 1,-.3 1,-.3 1,-.1 1,-.1 1,-.1 1,-.3 1,-.3 1,-.1 1,-.1 1,-.3 1,-.1 1,-.2 1,-.6 1,-.6 1,-.5 1,-.1 1,-.4 1,-.4 1,0 1,-.2 1,-.5 1,-.4 1,-.2 1,-.3 1,-.4 1,-.1 1,0 1,-.4 1,-.4 1,-.5 1,-.4 1,-.1 1,-.2 1,-.4 1,-.1 1,0 1,-.4 1,-.7 1,-.5 1,-.1 1,.1 1,-.1 1,-.4 1,-.6 1,-.3 1,-.1 1.7,-.4L328.7,362.4l-1.7,.6 -1,.2 -1,.1 -1,0 -1,-.1 -1,.2 -1,.4 -1,.4 -1,.4 -1,0 -1,.1 -1,.2 -1,.1 -1,.2 -1,0 -1,.2 -1,.4 -1,.2 -1,0 -1,.3 -1,.4 -1,.4 -1,.2 -1,0 -1,.2 -1,.5 -1,.2 -1,-.1 -1,.1 -1,.4 -1,.4 -1,.3 -1,.6 -1,.4 -1,0 -1,-.2 -1,.1 -1,.3 -1,.3 -1,.2 -1,.1 -1,.3 -1,.4 -1,.4 -1,.1 -1,0 -1,-.2 -1,-.1 -1,.3 -1,.4 -1,.1 -1,.1 -1,0 -1,.3 -1,.1 -1,-.1 -1,.2 -1,.2 -1,.1 -1,0 -1,0 -1,.1 -1,.4 -1,.1 -1,-.2 -1,0 -1,.2 -1,.2 -1,.2 -1,0 -1,-.1 -1,.3 -1,.3 -1,.1 -1,.2 -1,-.1 -1,0 -1,0 -1,.1 -1,.1 -1,.1 -1,.1 -1,-.1 -1,.1 -1,.1 -1,.1 -1,.1 -1,-.2 -1,.1 -1,.3 -1,.2 -1,0 -1,-.2 -1,0 -1,.1 -1,0 -1,-.1 -1,-.2 -1,-.1 -1,0 -1,.1 -1,0 -1,-.2 -1,0 -1,0 -1,-.1 -1,-.3 -1,-.1 -1,-.1 -1,-.3 -1,-.2 -1,-.1 -1,-.1 -1,-.3 -1,-.4 -1,-.2 -1,-.1 -1,-.3 -1,-.5 -1,-.5 -1,-.5 -1,-.2 -1,-.3 -1,-.5 -1,-.3 -1,-.1 -1,-.1 -1,0 -1,-.2 -1,-.2 -1,.2 -1,.2 -1,-.2 -1,0 -1,.2 -1,.2 -1,.2 -1,.3 -1,.3 -1,.2 -1,.2 -1,.1 -1,.1 -1,.1 -1,.1 -1,.3 -1,.3 -1,.3 -1,.4 -1,.4 -1,.6 -1,1 -1,1.1 -1,1.1 -1,.9 -1,.9 -1,.8 -1,.6 -1,.5 -1,.3 -1,.1 -1,-.3 -1,-.6 -1,-.6 -1,-.5 -1,-.7 -1,-.6 -1,-.5 -1,-.5 -1,-.7 -1,-.7 -1,-.5 -1,-.4 -1,-.4 -1,-.7 -1,-.6z" fill="#482475" stroke="#482475" stroke-width=".6"/>
<path class="w3" d="M152,385.5l1,.1 1,.2 1,.2 1,.1 1,.1 1,.2 1,.3 1,.2 1,.1 1,.1 1,.1 1,.1 1,-.5 1,-1.1 1,-1.2 1,-1.3 1,-1.4 1,-1.3 1,-1.4 1,-1.3 1,-1.2 1,-1.3 1,-1.2 1,-1.2 1,-1.1 1,-.8 1,-.5 1,-.5 1,-.3 1,-.4 1,-.4 1,-.2 1,-.1 1,-.2"/>
<path class="w2" d="M186,368.4l1,-.3 1,-.3 1,-.1 1,-.1 1,-.3 1,-.4 1,-.3 1,-.3 1,-.1 1,0 1,0 1,-.1 1,-.1 1,-.1 1,.1 1,.2 1,.1 1,.1"/>
<path class="w" d="M204,366.4l1,.2 1,.3 1,.4 1,.5 1,.3 1,.2 1,.4 1,.4 1,.2 1,0 1,.3 1,.3 1,0 1,.2 1,.3 1,.2 1,-.2 1,.1 1,.3 1,.2 1,-.3 1,-.1 1,.2 1,.1 1,0 1,-.1 1,-.1 1,.1 1,.1 1,-.1 1,-.5 1,.1 1,.1 1,-.2 1,-.3 1,0 1,0 1,-.1 1,-.1 1,-.1 1,-.1 1,-.1 1,-.1 1,-.1 1,0 1,0 1,-.2 1,-.2 1,0 1,-.1 1,0 1,-.1 1,0 1,-.2 1,-.4 1,-.1 1,0 1,-.2 1,-.3 1,-.4 1,-.1 1,.1 1,.1 1,-.2 1,-.3 1,-.1 1,-.1 1,-.1 1,-.1 1,-.3 1,-.3 1,-.3 1,-.1 1,-.1 1,.1 1,0 1,0 1,-.3 1,-.3 1,-.1 1,-.1 1,-.1 1,-.3 1,-.3 1,-.1 1,-.1 1,-.3 1,-.1 1,-.2 1,-.6 1,-.6 1,-.5 1,-.1 1,-.4 1,-.4 1,0 1,-.2 1,-.5 1,-.4 1,-.2 1,-.3 1,-.4 1,-.1 1,0 1,-.4 1,-.4 1,-.5 1,-.4 1,-.1 1,-.2 1,-.4 1,-.1 1,0 1,-.4 1,-.7 1,-.5 1,-.1 1,.1 1,-.1 1,-.4 1,-.6 1,-.3 1,-.1 1.7,-.4"/>
<path d="M152,373.4l1,.6 1,.7 1,.4 1,.4 1,.5 1,.7 1,.7 1,.5 1,.5 1,.6 1,.7 1,.5 1,.6 1,.6 1,.3 1,-.1 1,-.3 1,-.5 1,-.6 1,-.8 1,-.9 1,-.9 1,-1.1 1,-1.1 1,-1 1,-.6 1,-.4 1,-.4 1,-.3 1,-.3 1,-.3 1,-.1 1,-.1 1,-.1 1,-.1 1,-.2 1,-.2 1,-.3 1,-.3 1,-.2 1,-.2 1,-.2 1,0 1,.2 1,-.2 1,-.2 1,.2 1,.2 1,0 1,.1 1,.1 1,.3 1,.5 1,.3 1,.2 1,.5 1,.5 1,.5 1,.3 1,.1 1,.2 1,.4 1,.3 1,.1 1,.1 1,.2 1,.3 1,.1 1,.1 1,.3 1,.1 1,0 1,0 1,.2 1,0 1,-.1 1,0 1,.1 1,.2 1,.1 1,0 1,-.1 1,0 1,.2 1,0 1,-.2 1,-.3 1,-.1 1,.2 1,-.1 1,-.1 1,-.1 1,-.1 1,.1 1,-.1 1,-.1 1,-.1 1,-.1 1,0 1,0 1,.1 1,-.2 1,-.1 1,-.3 1,-.3 1,.1 1,0 1,-.2 1,-.2 1,-.2 1,0 1,.2 1,-.1 1,-.4 1,-.1 1,0 1,0 1,-.1 1,-.2 1,-.2 1,.1 1,-.1 1,-.3 1,0 1,-.1 1,-.1 1,-.4 1,-.3 1,.1 1,.2 1,0 1,-.1 1,-.4 1,-.4 1,-.3 1,-.1 1,-.2 1,-.3 1,-.3 1,-.1 1,.2 1,0 1,-.4 1,-.6 1,-.3 1,-.4 1,-.4 1,-.1 1,.1 1,-.2 1,-.5 1,-.2 1,0 1,-.2 1,-.4 1,-.4 1,-.3 1,0 1,-.2 1,-.4 1,-.2 1,0 1,-.2 1,-.1 1,-.2 1,-.1 1,0 1,-.4 1,-.4 1,-.4 1,-.2 1,.1 1,0 1,-.1 1,-.2 1.7,-.6L328.7,365.8l-1.7,.4 -1,.2 -1,.3 -1,0 -1,0 -1,.2 -1,.3 -1,.4 -1,.3 -1,.2 -1,0 -1,-.1 -1,.3 -1,.4 -1,0 -1,.1 -1,.2 -1,.1 -1,.3 -1,.4 -1,.3 -1,.3 -1,.1 -1,0 -1,.1 -1,.3 -1,.2 -1,0 -1,.2 -1,.4 -1,.3 -1,.3 -1,.3 -1,.2 -1,.3 -1,.3 -1,0 -1,.2 -1,.2 -1,-.1 -1,0 -1,.3 -1,.2 -1,.4 -1,.4 -1,.2 -1,.2 -1,.2 -1,.1 -1,.3 -1,.4 -1,.4 -1,.3 -1,0 -1,-.2 -1,0 -1,.3 -1,.3 -1,.3 -1,.3 -1,.2 -1,-.1 -1,0 -1,.3 -1,.1 -1,.1 -1,.3 -1,.2 -1,-.1 -1,-.1 -1,0 -1,.2 -1,.3 -1,.2 -1,0 -1,-.1 -1,.2 -1,.5 -1,.1 -1,-.2 -1,.1 -1,.1 -1,0 -1,.2 -1,.1 -1,.1 -1,0 -1,.1 -1,.1 -1,-.2 -1,.1 -1,.4 -1,.1 -1,-.1 -1,-.2 -1,0 -1,.1 -1,.1 -1,.1 -1,-.1 -1,-.2 -1,-.1 -1,-.1 -1,-.2 -1,0 -1,0 -1,-.2 -1,-.3 -1,0 -1,-.2 -1,-.2 -1,-.2 -1,-.2 -1,-.2 -1,-.3 -1,-.6 -1,-.4 -1,0 -1,-.2 -1,-.6 -1,-.5 -1,-.4 -1,-.5 -1,-.5 -1,-.3 -1,-.1 -1,-.2 -1,-.1 -1,0 -1,.1 -1,-.2 -1,-.2 -1,0 -1,0 -1,.1 -1,0 -1,-.1 -1,.2 -1,.3 -1,.2 -1,0 -1,-.1 -1,0 -1,-.2 -1,0 -1,.3 -1,.2 -1,.1 -1,.3 -1,.2 -1,.6 -1,1 -1,1.1 -1,1 -1,.9 -1,.7 -1,.5 -1,.1 -1,-.1 -1,-.4 -1,-.5 -1,-.6 -1,-.7 -1,-.7 -1,-.6 -1,-.6 -1,-.5 -1,-.6 -1,-.5 -1,-.5 -1,-.6 -1,-.5 -1,-.6 -1,-.5 -1,-.5 -1,-.5z" fill="#440154" stroke="#440154" stroke-width=".6"/>
<path class="w3" d="M152,373.4l1,.6 1,.7 1,.4 1,.4 1,.5 1,.7 1,.7 1,.5 1,.5 1,.6 1,.7 1,.5 1,.6 1,.6 1,.3 1,-.1 1,-.3 1,-.5 1,-.6 1,-.8 1,-.9 1,-.9 1,-1.1 1,-1.1 1,-1 1,-.6 1,-.4 1,-.4 1,-.3 1,-.3 1,-.3 1,-.1 1,-.1 1,-.1"/>
<path class="w2" d="M186,371.8l1,-.1 1,-.2 1,-.2 1,-.3 1,-.3 1,-.2 1,-.2 1,-.2 1,0 1,.2 1,-.2 1,-.2 1,.2 1,.2 1,0 1,.1 1,.1 1,.3"/>
<path class="w" d="M204,370.8l1,.5 1,.3 1,.2 1,.5 1,.5 1,.5 1,.3 1,.1 1,.2 1,.4 1,.3 1,.1 1,.1 1,.2 1,.3 1,.1 1,.1 1,.3 1,.1 1,0 1,0 1,.2 1,0 1,-.1 1,0 1,.1 1,.2 1,.1 1,0 1,-.1 1,0 1,.2 1,0 1,-.2 1,-.3 1,-.1 1,.2 1,-.1 1,-.1 1,-.1 1,-.1 1,.1 1,-.1 1,-.1 1,-.1 1,-.1 1,0 1,0 1,.1 1,-.2 1,-.1 1,-.3 1,-.3 1,.1 1,0 1,-.2 1,-.2 1,-.2 1,0 1,.2 1,-.1 1,-.4 1,-.1 1,0 1,0 1,-.1 1,-.2 1,-.2 1,.1 1,-.1 1,-.3 1,0 1,-.1 1,-.1 1,-.4 1,-.3 1,.1 1,.2 1,0 1,-.1 1,-.4 1,-.4 1,-.3 1,-.1 1,-.2 1,-.3 1,-.3 1,-.1 1,.2 1,0 1,-.4 1,-.6 1,-.3 1,-.4 1,-.4 1,-.1 1,.1 1,-.2 1,-.5 1,-.2 1,0 1,-.2 1,-.4 1,-.4 1,-.3 1,0 1,-.2 1,-.4 1,-.2 1,0 1,-.2 1,-.1 1,-.2 1,-.1 1,0 1,-.4 1,-.4 1,-.4 1,-.2 1,.1 1,0 1,-.1 1,-.2 1.7,-.6"/>
<path d="M345.3,144.1l1,1.6 1,1.4 1,1.1 1,1.1 1,1.3 1,1.6 1,1.4 1,1 1,.6 1,.8 1,.8 1,.9 1,.9 1,.7 1,.4 1,.2 1,.6 1,.5 1,0 1,.2 1,.6 1,.3 1,.4 1,.5 1,.2 1,.2 1,.2 1,.4 1,.1 1,-.4 1,-.2 1,0 1,.2 1,0 1,-.2 1,-.1 1,-.3 1,-.3 1,.2 1,.5 1,-.1 1,-.4 1,-.1 1,-.2 1,-.4 1,.3 1,.3 1,-.5 1,-.3 1,-.1 1,-.4 1,-.2 1,-.2 1,-.6 1,-.7 1,-.7 1,-.7 1,-.6 1,-.5 1,-1 1,-1.4 1,-1.1 1,-.3 1,-.6 1,-1.3 1,-1.2 1,-.6 1,-.5 1,-1.1 1,-1 1,-.6 1,-.8 1,-1.2 1,-1.3 1,-.9 1,-.5 1,-1 1,-1.5 1,-1.4 1,-.7 1,-.6 1,-.8 1,-.7 1,-.9 1,-.9 1,-.8 1,-1.1 1,-1.1 1,-.5 1,-.5 1,-1.3 1,-.8 1,-.3 1,-.8 1,-1 1,-.5 1,0 1,0 1,-.5 1,-.6 1,-.6 1,-.7 1,-.5 1,-.3 1,-.2 1,0 1,-.5 1,-.7 1,-.3 1,-.6 1,-.7 1,-.5 1,-.4 1,-.1 1,-.2 1,-.3 1,-.4 1,-.5 1,-.6 1,-.6 1,-.3 1,-.4 1,-.4 1,-.2 1,-.5 1,-1 1,-.5 1,.1 1,0 1,-.3 1,-.3 1,-.3 1,-.8 1,-.9 1,-.9 1,-.5 1,-.2 1,-.2 1,-.4 1,-.6 1,-.5 1,-.3 1,-.5 1,-.5 1,-.7 1,-.8 1,-.6 1,-.1 1,-.4 1,-.8 1,-.3 1,-.2 1,-1.1 1,-.8 1,-.6 1,-.9 1,-.2 1,-.1 1,-.9 1,-1 1,-1 1,-.8 1,-.8 1,-1.2 1,-1 1,-.6 1,-.5 1,-.8 1,-1.2 1,-1.1 1,.1 1,.1 1,-1.2 1,-1.6 1,-1 1,-.7 1,-.7 1,-.5 1,-.6 1,-.3 1,-.9 1,-1.4 1,-.6 1,-.7 1,-.9 1,-.4 1,-.1 1,-.6 1,-.8 1,.1 1,0 1,-.9 1,-1 1,-1 1,-.7 1,-.1 1,-.2 1,0 1,0 1,-.9 1,-.6 1,-.6 1,-1.3 1,-.7 1,-.1 1,0 1,-.1 1,-.1 1,.3 1,-.2 1,-.9 1,-.7 1,-.1 1,-.4 1,-.7 1,0 1,0 1,-.2 1,.1 1,-.6 1,-1 1,-.5 1,-.2 1,-.1 1,-.2 1,.1 1,0 1,-.3 1,-.8 1,-.2 1,.5 1,0 1,-.1 1,-.1 1,0 1,.1 1,-.3 1,-.5 1,-.6 1,0 1,0 1,-.2 1,.1 1,.4 1,-.1 1,-.8 1,-.2 1,.5 1,.3 1,-.1 1,-.1 1,0 1,.3 1,.1 1,-.4 1,-.5 1,-.1 1,.5 1,.3 1,-.1 1,-.3 1,-1 1,-.4 1,.4 1,.7 1,.4 1,.1 1,.2 1,.1 1,-.5 1,-.6 1,.6 1,.6 1,-.7 1,.3 1,1.1 1,-.3 1,-.6 1,.3 1,.7 1,0 1,-.4 1,.2 1,.4 1,.4 1,0 1,-.9 1,-.4 1,1 1,.9 1,-.2 1,.1 1,.2 1,-.6 1,-.1 1,-.1 1,.1 1,.6 1,.2 1,-.7 1,-.5 1,.1 1,.6 1.2,.3L649.5,78.3l-1.2,-.8 -1,-.3 -1,.9 -1,.8 -1,.2 -1,-.2 -1,-1.2 -1,-.8 -1,.9 -1,.2 -1,-.5 -1,-.4 -1,-.5 -1,.1 -1,.1 -1,-.1 -1,.5 -1,.2 -1,-.2 -1,.2 -1,.2 -1,-.5 -1,-.5 -1,-.3 -1,-.4 -1,.1 -1,.3 -1,-.3 -1,0 -1,.5 -1,.1 -1,.1 -1,-.1 -1,-.4 -1,-.3 -1,.1 -1,.7 -1,.8 -1,.2 -1,-.9 -1,-1 -1,-.1 -1,.3 -1,0 -1,.3 -1,.1 -1,-.8 -1,.1 -1,.6 -1,-.1 -1,.5 -1,.7 -1,-.5 -1,-.2 -1,.4 -1,0 -1,.3 -1,.4 -1,-.3 -1,-.4 -1,-.2 -1,-.1 -1,.3 -1,.9 -1,0 -1,-.2 -1,.2 -1,-.5 -1,.2 -1,1.1 -1,.1 -1,-.5 -1,0 -1,.3 -1,.1 -1,-.4 -1,-.1 -1,1 -1,1 -1,.1 -1,-.4 -1,-.5 -1,.1 -1,.9 -1,.4 -1,-.3 -1,.3 -1,.7 -1,.5 -1,.6 -1,.3 -1,0 -1,.1 -1,.2 -1,.3 -1,.7 -1,.5 -1,.1 -1,-.3 -1,0 -1,.9 -1,.8 -1,0 -1,0 -1,.4 -1,.6 -1,1 -1,.6 -1,0 -1,.2 -1,.3 -1,.5 -1,.6 -1,1.2 -1,.8 -1,.4 -1,.8 -1,.6 -1,-.1 -1,.6 -1,.9 -1,.5 -1,.8 -1,1 -1,.7 -1,.5 -1,.4 -1,.2 -1,.2 -1,.5 -1,.6 -1,.8 -1,1.1 -1,.7 -1,1 -1,1.3 -1,.4 -1,.6 -1,.8 -1,.5 -1,1 -1,.9 -1,.9 -1,1 -1,1 -1,.6 -1,.4 -1,.6 -1,.4 -1,.4 -1,.6 -1,.9 -1,1 -1,.3 -1,.1 -1,.6 -1,0 -1,0 -1,.4 -1,.9 -1,.7 -1,.5 -1,.7 -1,.4 -1,0 -1,0 -1,.4 -1,.7 -1,1.1 -1,1 -1,.1 -1,.2 -1,.3 -1,.4 -1,.5 -1,.6 -1,.3 -1,.2 -1,.6 -1,.8 -1,.8 -1,.2 -1,-.2 -1,.2 -1,.5 -1,.2 -1,.4 -1,.6 -1,.2 -1,0 -1,.2 -1,.6 -1,.9 -1,.6 -1,0 -1,.2 -1,.3 -1,.3 -1,.5 -1,.6 -1,.3 -1,.4 -1,.3 -1,.3 -1,.4 -1,.4 -1,.2 -1,.1 -1,.4 -1,.7 -1,.7 -1,.8 -1,.8 -1,.7 -1,.4 -1,.6 -1,.9 -1,.9 -1,1 -1,.8 -1,.5 -1,.6 -1,1 -1,1 -1,1 -1,1.1 -1,.8 -1,.6 -1,.8 -1,1.4 -1,1.2 -1,.6 -1,.8 -1,1.1 -1,.7 -1,.5 -1,.8 -1,1.1 -1,1.1 -1,.6 -1,.7 -1,1.1 -1,.5 -1,.3 -1,.8 -1,.6 -1,.5 -1,.9 -1,1 -1,.5 -1,.3 -1,.2 -1,.1 -1,.5 -1,.4 -1,-.1 -1,-.2 -1,.1 -1,.4 -1,.4 -1,.2 -1,.3 -1,0 -1,-.2 -1,.4 -1,.1 -1,-.6 -1,-.1 -1,.1 -1,-.1 -1,.3 -1,.6 -1,.2 -1,-.2 -1,-.2 -1,0 -1,.1 -1,0 -1,-.5 -1,-.6 -1,.1 -1,0 -1,-.4 -1,-.2 -1,-.4 -1,-.4 -1,-.2 -1,-.5 -1,-.9 -1,-.9 -1,-.6 -1,-.3 -1,-.2 -1,-.6 -1,-1.1 -1,-1.3 -1,-.9 -1,-.8 -1,-1.1 -1,-1.2 -1,-1.2 -1,-1.5 -1,-1.5 -1,-1.1z" fill="#fde725" stroke="#fde725" stroke-width=".6"/>
<path class="w" d="M345.3,144.1l1,1.6 1,1.4 1,1.1 1,1.1 1,1.3 1,1.6 1,1.4 1,1 1,.6 1,.8 1,.8 1,.9 1,.9 1,.7 1,.4 1,.2 1,.6 1,.5 1,0 1,.2 1,.6 1,.3 1,.4 1,.5 1,.2 1,.2 1,.2 1,.4 1,.1 1,-.4 1,-.2 1,0 1,.2 1,0 1,-.2 1,-.1 1,-.3 1,-.3 1,.2 1,.5 1,-.1 1,-.4 1,-.1 1,-.2 1,-.4 1,.3 1,.3 1,-.5 1,-.3 1,-.1 1,-.4 1,-.2 1,-.2 1,-.6 1,-.7 1,-.7 1,-.7 1,-.6 1,-.5 1,-1 1,-1.4 1,-1.1 1,-.3 1,-.6 1,-1.3 1,-1.2 1,-.6 1,-.5 1,-1.1 1,-1 1,-.6 1,-.8 1,-1.2 1,-1.3 1,-.9 1,-.5 1,-1 1,-1.5 1,-1.4 1,-.7 1,-.6 1,-.8 1,-.7 1,-.9 1,-.9 1,-.8 1,-1.1 1,-1.1 1,-.5 1,-.5 1,-1.3 1,-.8 1,-.3 1,-.8 1,-1 1,-.5 1,0 1,0 1,-.5 1,-.6 1,-.6 1,-.7 1,-.5 1,-.3 1,-.2 1,0 1,-.5 1,-.7 1,-.3 1,-.6 1,-.7 1,-.5 1,-.4 1,-.1 1,-.2 1,-.3 1,-.4 1,-.5 1,-.6 1,-.6 1,-.3 1,-.4 1,-.4 1,-.2 1,-.5 1,-1 1,-.5 1,.1 1,0 1,-.3 1,-.3 1,-.3 1,-.8 1,-.9 1,-.9 1,-.5 1,-.2 1,-.2 1,-.4 1,-.6 1,-.5 1,-.3 1,-.5 1,-.5 1,-.7 1,-.8 1,-.6 1,-.1 1,-.4 1,-.8 1,-.3 1,-.2 1,-1.1 1,-.8 1,-.6 1,-.9 1,-.2 1,-.1 1,-.9 1,-1 1,-1 1,-.8 1,-.8 1,-1.2 1,-1 1,-.6 1,-.5 1,-.8 1,-1.2 1,-1.1 1,.1 1,.1 1,-1.2 1,-1.6 1,-1 1,-.7 1,-.7 1,-.5 1,-.6 1,-.3 1,-.9 1,-1.4 1,-.6 1,-.7 1,-.9 1,-.4 1,-.1 1,-.6 1,-.8 1,.1 1,0 1,-.9 1,-1 1,-1 1,-.7 1,-.1 1,-.2 1,0 1,0 1,-.9 1,-.6 1,-.6 1,-1.3 1,-.7 1,-.1 1,0 1,-.1 1,-.1 1,.3 1,-.2 1,-.9 1,-.7 1,-.1 1,-.4 1,-.7 1,0 1,0 1,-.2 1,.1 1,-.6 1,-1 1,-.5 1,-.2 1,-.1 1,-.2 1,.1 1,0 1,-.3 1,-.8 1,-.2 1,.5 1,0 1,-.1 1,-.1 1,0 1,.1 1,-.3 1,-.5 1,-.6 1,0 1,0 1,-.2 1,.1 1,.4 1,-.1 1,-.8 1,-.2 1,.5 1,.3 1,-.1 1,-.1 1,0 1,.3 1,.1 1,-.4 1,-.5 1,-.1 1,.5 1,.3 1,-.1 1,-.3 1,-1 1,-.4 1,.4 1,.7 1,.4 1,.1 1,.2 1,.1 1,-.5 1,-.6 1,.6 1,.6 1,-.7 1,.3 1,1.1 1,-.3 1,-.6 1,.3 1,.7 1,0 1,-.4 1,.2 1,.4 1,.4 1,0 1,-.9 1,-.4 1,1 1,.9 1,-.2 1,.1 1,.2 1,-.6 1,-.1 1,-.1 1,.1 1,.6 1,.2 1,-.7 1,-.5 1,.1 1,.6 1.2,.3"/>
<path d="M345.3,156.9l1,1.1 1,1.5 1,1.5 1,1.2 1,1.2 1,1.1 1,.8 1,.9 1,1.3 1,1.1 1,.6 1,.2 1,.3 1,.6 1,.9 1,.9 1,.5 1,.2 1,.4 1,.4 1,.2 1,.4 1,0 1,-.1 1,.6 1,.5 1,0 1,-.1 1,0 1,.2 1,.2 1,-.2 1,-.6 1,-.3 1,.1 1,-.1 1,.1 1,.6 1,-.1 1,-.4 1,.2 1,0 1,-.3 1,-.2 1,-.4 1,-.4 1,-.1 1,.2 1,.1 1,-.4 1,-.5 1,-.1 1,-.2 1,-.3 1,-.5 1,-1 1,-.9 1,-.5 1,-.6 1,-.8 1,-.3 1,-.5 1,-1.1 1,-.7 1,-.6 1,-1.1 1,-1.1 1,-.8 1,-.5 1,-.7 1,-1.1 1,-.8 1,-.6 1,-1.2 1,-1.4 1,-.8 1,-.6 1,-.8 1,-1.1 1,-1 1,-1 1,-1 1,-.6 1,-.5 1,-.8 1,-1 1,-.9 1,-.9 1,-.6 1,-.4 1,-.7 1,-.8 1,-.8 1,-.7 1,-.7 1,-.4 1,-.1 1,-.2 1,-.4 1,-.4 1,-.3 1,-.3 1,-.4 1,-.3 1,-.6 1,-.5 1,-.3 1,-.3 1,-.2 1,0 1,-.6 1,-.9 1,-.6 1,-.2 1,0 1,-.2 1,-.6 1,-.4 1,-.2 1,-.5 1,-.2 1,.2 1,-.2 1,-.8 1,-.8 1,-.6 1,-.2 1,-.3 1,-.6 1,-.5 1,-.4 1,-.3 1,-.2 1,-.1 1,-1 1,-1.1 1,-.7 1,-.4 1,0 1,0 1,-.4 1,-.7 1,-.5 1,-.7 1,-.9 1,-.4 1,0 1,0 1,-.6 1,-.1 1,-.3 1,-1 1,-.9 1,-.6 1,-.4 1,-.4 1,-.6 1,-.4 1,-.6 1,-1 1,-1 1,-.9 1,-.9 1,-1 1,-.5 1,-.8 1,-.6 1,-.4 1,-1.3 1,-1 1,-.7 1,-1.1 1,-.8 1,-.6 1,-.5 1,-.2 1,-.2 1,-.4 1,-.5 1,-.7 1,-1 1,-.8 1,-.5 1,-.9 1,-.6 1,.1 1,-.6 1,-.8 1,-.4 1,-.8 1,-1.2 1,-.6 1,-.5 1,-.3 1,-.2 1,0 1,-.6 1,-1 1,-.6 1,-.4 1,0 1,0 1,-.8 1,-.9 1,0 1,.3 1,-.1 1,-.5 1,-.7 1,-.3 1,-.2 1,-.1 1,0 1,-.3 1,-.6 1,-.5 1,-.7 1,-.3 1,.3 1,-.4 1,-.9 1,-.1 1,.5 1,.4 1,-.1 1,-1 1,-1 1,.1 1,.4 1,-.1 1,-.3 1,0 1,.5 1,-.1 1,-1.1 1,-.2 1,.5 1,-.2 1,.2 1,0 1,-.9 1,-.3 1,.1 1,.2 1,.4 1,.3 1,-.4 1,-.3 1,0 1,-.4 1,.2 1,.5 1,-.7 1,-.5 1,.1 1,-.6 1,-.1 1,.8 1,-.1 1,-.3 1,0 1,-.3 1,.1 1,1 1,.9 1,-.2 1,-.8 1,-.7 1,-.1 1,.3 1,.4 1,.1 1,-.1 1,-.1 1,-.5 1,0 1,.3 1,-.3 1,-.1 1,.4 1,.3 1,.5 1,.5 1,-.2 1,-.2 1,.2 1,-.2 1,-.5 1,.1 1,-.1 1,-.1 1,.5 1,.4 1,.5 1,-.2 1,-.9 1,.8 1,1.2 1,.2 1,-.2 1,-.8 1,-.9 1,.3 1.2,.8L649.5,102.9l-1.2,-.3 -1,-.5 -1,-.6 -1,-.3 -1,.4 -1,.4 -1,.2 -1,.3 -1,-.4 -1,-.5 -1,.6 -1,.3 -1,-1.3 -1,-.5 -1,.5 -1,-.5 -1,-.3 -1,1.1 -1,.3 -1,-.8 -1,-.5 -1,.2 -1,.5 -1,.1 -1,0 -1,-.1 -1,-.1 -1,-.3 -1,-.3 -1,-.4 -1,.3 -1,0 -1,-.4 -1,-.1 -1,0 -1,.5 -1,-.1 -1,-.3 -1,.7 -1,0 -1,-.7 -1,-.3 -1,-.1 -1,.2 -1,.9 -1,.3 -1,-.7 -1,-.4 -1,.2 -1,.5 -1,.1 -1,-.3 -1,-.1 -1,.2 -1,-.2 -1,-.4 -1,.2 -1,-.4 -1,-.3 -1,.5 -1,.2 -1,.1 -1,.6 -1,.3 -1,-.2 -1,-.2 -1,-.2 -1,.2 -1,.3 -1,-.4 -1,.1 -1,.8 -1,0 -1,-.9 -1,-.1 -1,.5 -1,.5 -1,.5 -1,0 -1,-.2 -1,.4 -1,.9 -1,.3 -1,-.5 -1,-.1 -1,.5 -1,.6 -1,.6 -1,-.1 -1,-.1 -1,.8 -1,.8 -1,.4 -1,-.3 -1,-.8 -1,.3 -1,1 -1,.2 -1,.5 -1,.8 -1,.1 -1,-.3 -1,0 -1,.2 -1,.3 -1,.5 -1,.6 -1,.6 -1,.6 -1,.9 -1,.7 -1,.1 -1,.4 -1,1.1 -1,.8 -1,.1 -1,.1 -1,.6 -1,.8 -1,.4 -1,0 -1,.7 -1,1.5 -1,.7 -1,-.1 -1,.6 -1,1.2 -1,.8 -1,-.2 -1,.2 -1,.9 -1,.8 -1,.8 -1,.8 -1,.8 -1,.3 -1,0 -1,.6 -1,1 -1,1.1 -1,1.4 -1,.7 -1,.1 -1,.6 -1,.4 -1,.6 -1,1.1 -1,.6 -1,.7 -1,1.5 -1,1.3 -1,-.2 -1,-.6 -1,.2 -1,.7 -1,.6 -1,.7 -1,.4 -1,.3 -1,.3 -1,.3 -1,.5 -1,.5 -1,.7 -1,.6 -1,-.2 -1,-.2 -1,.4 -1,.8 -1,.8 -1,.4 -1,.1 -1,.2 -1,.3 -1,.3 -1,.6 -1,.3 -1,.1 -1,.6 -1,.7 -1,.3 -1,.7 -1,.4 -1,-.3 -1,.6 -1,.8 -1,-.1 -1,.1 -1,.9 -1,.4 -1,.3 -1,.2 -1,.1 -1,.2 -1,.5 -1,.5 -1,.4 -1,.1 -1,.4 -1,.6 -1,.4 -1,.2 -1,.1 -1,-.1 -1,.5 -1,.7 -1,.4 -1,.1 -1,.3 -1,.9 -1,.6 -1,0 -1,.2 -1,.8 -1,1.2 -1,.9 -1,.5 -1,.5 -1,.5 -1,1 -1,1.1 -1,1.1 -1,.9 -1,.5 -1,.7 -1,.6 -1,.5 -1,.9 -1,.8 -1,.9 -1,1.2 -1,.7 -1,.8 -1,.7 -1,.6 -1,.6 -1,.7 -1,1.2 -1,1.1 -1,.9 -1,.5 -1,.5 -1,.8 -1,.4 -1,.2 -1,.9 -1,1.2 -1,.5 -1,.1 -1,.5 -1,.6 -1,.5 -1,.1 -1,-.3 -1,.3 -1,.6 -1,.4 -1,.4 -1,0 -1,-.2 -1,.2 -1,.1 -1,-.3 -1,-.1 -1,.3 -1,.2 -1,.3 -1,.1 -1,-.5 -1,-.3 -1,.3 -1,.3 -1,.3 -1,.3 -1,-.1 -1,-.1 -1,-.2 -1,-.3 -1,-.2 -1,.1 -1,-.4 -1,-.8 -1,-.2 -1,.1 -1,-.3 -1,-.6 -1,-.3 -1,.1 -1,-.2 -1,-.6 -1,-.9 -1,-.9 -1,-.7 -1,-.3 -1,-.5 -1,-.8 -1,-.7 -1,-1.1 -1,-1.7 -1,-1.4 -1,-.9 -1,-1.1 -1,-1.2 -1,-1z" fill="#dfe318" stroke="#dfe318" stroke-width=".6"/>
<path class="w" d="M345.3,156.9l1,1.1 1,1.5 1,1.5 1,1.2 1,1.2 1,1.1 1,.8 1,.9 1,1.3 1,1.1 1,.6 1,.2 1,.3 1,.6 1,.9 1,.9 1,.5 1,.2 1,.4 1,.4 1,.2 1,.4 1,0 1,-.1 1,.6 1,.5 1,0 1,-.1 1,0 1,.2 1,.2 1,-.2 1,-.6 1,-.3 1,.1 1,-.1 1,.1 1,.6 1,-.1 1,-.4 1,.2 1,0 1,-.3 1,-.2 1,-.4 1,-.4 1,-.1 1,.2 1,.1 1,-.4 1,-.5 1,-.1 1,-.2 1,-.3 1,-.5 1,-1 1,-.9 1,-.5 1,-.6 1,-.8 1,-.3 1,-.5 1,-1.1 1,-.7 1,-.6 1,-1.1 1,-1.1 1,-.8 1,-.5 1,-.7 1,-1.1 1,-.8 1,-.6 1,-1.2 1,-1.4 1,-.8 1,-.6 1,-.8 1,-1.1 1,-1 1,-1 1,-1 1,-.6 1,-.5 1,-.8 1,-1 1,-.9 1,-.9 1,-.6 1,-.4 1,-.7 1,-.8 1,-.8 1,-.7 1,-.7 1,-.4 1,-.1 1,-.2 1,-.4 1,-.4 1,-.3 1,-.3 1,-.4 1,-.3 1,-.6 1,-.5 1,-.3 1,-.3 1,-.2 1,0 1,-.6 1,-.9 1,-.6 1,-.2 1,0 1,-.2 1,-.6 1,-.4 1,-.2 1,-.5 1,-.2 1,.2 1,-.2 1,-.8 1,-.8 1,-.6 1,-.2 1,-.3 1,-.6 1,-.5 1,-.4 1,-.3 1,-.2 1,-.1 1,-1 1,-1.1 1,-.7 1,-.4 1,0 1,0 1,-.4 1,-.7 1,-.5 1,-.7 1,-.9 1,-.4 1,0 1,0 1,-.6 1,-.1 1,-.3 1,-1 1,-.9 1,-.6 1,-.4 1,-.4 1,-.6 1,-.4 1,-.6 1,-1 1,-1 1,-.9 1,-.9 1,-1 1,-.5 1,-.8 1,-.6 1,-.4 1,-1.3 1,-1 1,-.7 1,-1.1 1,-.8 1,-.6 1,-.5 1,-.2 1,-.2 1,-.4 1,-.5 1,-.7 1,-1 1,-.8 1,-.5 1,-.9 1,-.6 1,.1 1,-.6 1,-.8 1,-.4 1,-.8 1,-1.2 1,-.6 1,-.5 1,-.3 1,-.2 1,0 1,-.6 1,-1 1,-.6 1,-.4 1,0 1,0 1,-.8 1,-.9 1,0 1,.3 1,-.1 1,-.5 1,-.7 1,-.3 1,-.2 1,-.1 1,0 1,-.3 1,-.6 1,-.5 1,-.7 1,-.3 1,.3 1,-.4 1,-.9 1,-.1 1,.5 1,.4 1,-.1 1,-1 1,-1 1,.1 1,.4 1,-.1 1,-.3 1,0 1,.5 1,-.1 1,-1.1 1,-.2 1,.5 1,-.2 1,.2 1,0 1,-.9 1,-.3 1,.1 1,.2 1,.4 1,.3 1,-.4 1,-.3 1,0 1,-.4 1,.2 1,.5 1,-.7 1,-.5 1,.1 1,-.6 1,-.1 1,.8 1,-.1 1,-.3 1,0 1,-.3 1,.1 1,1 1,.9 1,-.2 1,-.8 1,-.7 1,-.1 1,.3 1,.4 1,.1 1,-.1 1,-.1 1,-.5 1,0 1,.3 1,-.3 1,-.1 1,.4 1,.3 1,.5 1,.5 1,-.2 1,-.2 1,.2 1,-.2 1,-.5 1,.1 1,-.1 1,-.1 1,.5 1,.4 1,.5 1,-.2 1,-.9 1,.8 1,1.2 1,.2 1,-.2 1,-.8 1,-.9 1,.3 1.2,.8"/>
<path d="M345.3,173.6l1,1 1,1.2 1,1.1 1,.9 1,1.4 1,1.7 1,1.1 1,.7 1,.8 1,.5 1,.3 1,.7 1,.9 1,.9 1,.6 1,.2 1,-.1 1,.3 1,.6 1,.3 1,-.1 1,.2 1,.8 1,.4 1,-.1 1,.2 1,.3 1,.2 1,.1 1,.1 1,-.3 1,-.3 1,-.3 1,-.3 1,.3 1,.5 1,-.1 1,-.3 1,-.2 1,-.3 1,.1 1,.3 1,-.1 1,-.2 1,.2 1,0 1,-.4 1,-.4 1,-.6 1,-.3 1,.3 1,-.1 1,-.5 1,-.6 1,-.5 1,-.1 1,-.5 1,-1.2 1,-.9 1,-.2 1,-.4 1,-.8 1,-.5 1,-.5 1,-.9 1,-1.1 1,-1.2 1,-.7 1,-.6 1,-.6 1,-.7 1,-.8 1,-.7 1,-1.2 1,-.9 1,-.8 1,-.9 1,-.5 1,-.6 1,-.7 1,-.5 1,-.9 1,-1.1 1,-1.1 1,-1 1,-.5 1,-.5 1,-.5 1,-.9 1,-1.2 1,-.8 1,-.2 1,0 1,-.6 1,-.9 1,-.3 1,-.1 1,-.4 1,-.7 1,-.5 1,.1 1,-.1 1,-.2 1,-.4 1,-.6 1,-.4 1,-.1 1,-.4 1,-.5 1,-.5 1,-.2 1,-.1 1,-.2 1,-.3 1,-.4 1,-.9 1,-.1 1,.1 1,-.8 1,-.6 1,.3 1,-.4 1,-.7 1,-.3 1,-.7 1,-.6 1,-.1 1,-.3 1,-.6 1,-.3 1,-.3 1,-.2 1,-.1 1,-.4 1,-.8 1,-.8 1,-.4 1,.2 1,.2 1,-.6 1,-.7 1,-.5 1,-.5 1,-.3 1,-.3 1,-.3 1,-.4 1,-.7 1,-.6 1,-.7 1,-.2 1,.6 1,.2 1,-1.3 1,-1.5 1,-.7 1,-.6 1,-1.1 1,-.6 1,-.4 1,-.6 1,-.1 1,-.7 1,-1.4 1,-1.1 1,-1 1,-.6 1,0 1,-.3 1,-.8 1,-.8 1,-.8 1,-.8 1,-.9 1,-.2 1,.2 1,-.8 1,-1.2 1,-.6 1,.1 1,-.7 1,-1.5 1,-.7 1,0 1,-.4 1,-.8 1,-.6 1,-.1 1,-.1 1,-.8 1,-1.1 1,-.4 1,-.1 1,-.7 1,-.9 1,-.6 1,-.6 1,-.6 1,-.5 1,-.3 1,-.2 1,0 1,.3 1,-.1 1,-.8 1,-.5 1,-.2 1,-1 1,-.3 1,.8 1,.3 1,-.4 1,-.8 1,-.8 1,.1 1,.1 1,-.6 1,-.6 1,-.5 1,.1 1,.5 1,-.3 1,-.9 1,-.4 1,.2 1,0 1,-.5 1,-.5 1,-.5 1,.1 1,.9 1,0 1,-.8 1,-.1 1,.4 1,-.3 1,-.2 1,.2 1,.2 1,.2 1,-.3 1,-.6 1,-.1 1,-.2 1,-.5 1,.3 1,.4 1,-.2 1,.4 1,.2 1,-.2 1,.1 1,.3 1,-.1 1,-.5 1,-.2 1,.4 1,.7 1,-.3 1,-.9 1,-.2 1,.1 1,.3 1,.7 1,0 1,-.7 1,.3 1,.1 1,-.5 1,0 1,.1 1,.4 1,0 1,-.3 1,.4 1,.3 1,.3 1,.1 1,.1 1,0 1,-.1 1,-.5 1,-.2 1,.5 1,.8 1,-.3 1,-1.1 1,.3 1,.5 1,-.5 1,.5 1,1.3 1,-.3 1,-.6 1,.5 1,.4 1,-.3 1,-.2 1,-.4 1,-.4 1,.3 1,.6 1,.5 1.2,.3L649.5,129.4l-1.2,-.6 -1,.2 -1,-.1 -1,-.3 -1,.6 -1,.5 -1,-.1 -1,-.1 -1,-.4 -1,-.2 -1,-.3 -1,-.4 -1,0 -1,.2 -1,.6 -1,-.4 -1,-.6 -1,.1 -1,-.5 -1,-.2 -1,.6 -1,-.2 -1,-.3 -1,.3 -1,.2 -1,.2 -1,-.4 -1,-.6 -1,.2 -1,.3 -1,0 -1,.3 -1,.8 -1,0 -1,-.4 -1,0 -1,-.6 -1,-.1 -1,1 -1,.2 -1,-.6 -1,-.3 -1,-.1 -1,-.4 -1,-.3 -1,.2 -1,.6 -1,.4 -1,-.4 -1,-.6 -1,.3 -1,.2 -1,.1 -1,.3 -1,-.4 -1,-.2 -1,.7 -1,.5 -1,-.6 -1,-.6 -1,-.2 -1,.4 -1,1 -1,.4 -1,-.1 -1,.1 -1,-.1 -1,-.3 -1,0 -1,.7 -1,.4 -1,-.5 -1,0 -1,.1 -1,-.1 -1,.5 -1,.6 -1,0 -1,-.3 -1,.4 -1,.4 -1,.2 -1,.3 -1,-.2 -1,-.1 -1,.2 -1,.1 -1,.5 -1,.5 -1,-.2 -1,-.3 -1,.1 -1,.7 -1,.4 -1,-.2 -1,.2 -1,.3 -1,.1 -1,0 -1,0 -1,.3 -1,.8 -1,.4 -1,.2 -1,.5 -1,.4 -1,.1 -1,.1 -1,.2 -1,.6 -1,.7 -1,.7 -1,.4 -1,.2 -1,.6 -1,0 -1,0 -1,1.1 -1,1.1 -1,.1 -1,.1 -1,.6 -1,.3 -1,.3 -1,.6 -1,.9 -1,.4 -1,.4 -1,.8 -1,.7 -1,.6 -1,.5 -1,.7 -1,.6 -1,.6 -1,.8 -1,.5 -1,.3 -1,.4 -1,.6 -1,.8 -1,1 -1,.6 -1,.7 -1,.3 -1,.4 -1,.5 -1,0 -1,1 -1,1.2 -1,.4 -1,.2 -1,-.1 -1,.1 -1,.6 -1,.9 -1,.3 -1,-.6 -1,0 -1,1.3 -1,.9 -1,.2 -1,.5 -1,.3 -1,-.1 -1,0 -1,.1 -1,.7 -1,.5 -1,.5 -1,.3 -1,.5 -1,.5 -1,-.3 -1,.2 -1,.8 -1,.5 -1,.3 -1,.1 -1,.3 -1,.4 -1,.3 -1,.2 -1,.3 -1,.4 -1,.4 -1,-.3 -1,.2 -1,.5 -1,.3 -1,.3 -1,.5 -1,.4 -1,.2 -1,.5 -1,.3 -1,.1 -1,.4 -1,.3 -1,0 -1,.1 -1,.1 -1,.1 -1,.8 -1,.8 -1,0 -1,.3 -1,.6 -1,.2 -1,.3 -1,.7 -1,.6 -1,.3 -1,.2 -1,.4 -1,.2 -1,.5 -1,1.4 -1,1.1 -1,.4 -1,.5 -1,.9 -1,.7 -1,.4 -1,.4 -1,.7 -1,1 -1,.6 -1,.4 -1,1 -1,1.1 -1,.5 -1,.4 -1,.5 -1,.6 -1,1 -1,1 -1,.6 -1,.3 -1,.3 -1,.4 -1,.6 -1,.8 -1,.7 -1,.3 -1,.8 -1,.9 -1,.4 -1,.3 -1,.7 -1,.4 -1,.1 -1,.3 -1,0 -1,-.5 -1,-.1 -1,.7 -1,.6 -1,.3 -1,.6 -1,.1 -1,-.1 -1,-.1 -1,.1 -1,.2 -1,.2 -1,-.1 -1,-.4 -1,-.1 -1,.1 -1,0 -1,0 -1,-.1 -1,0 -1,.2 -1,0 -1,-.1 -1,.1 -1,-.2 -1,-.5 -1,-.3 -1,-.1 -1,.1 -1,-.1 -1,-.5 -1,-.5 -1,-.2 -1,-.4 -1,-.4 -1,-.8 -1,-.5 -1,-.1 -1,-.7 -1,-.6 -1,-.6 -1,-.8 -1,-.8 -1,-1.1 -1,-.9 -1,-.9 -1,-1.1 -1,-1.4 -1,-1.3 -1,-.9z" fill="#bddf26" stroke="#bddf26" stroke-width=".6"/>
<path class="w" d="M345.3,173.6l1,1 1,1.2 1,1.1 1,.9 1,1.4 1,1.7 1,1.1 1,.7 1,.8 1,.5 1,.3 1,.7 1,.9 1,.9 1,.6 1,.2 1,-.1 1,.3 1,.6 1,.3 1,-.1 1,.2 1,.8 1,.4 1,-.1 1,.2 1,.3 1,.2 1,.1 1,.1 1,-.3 1,-.3 1,-.3 1,-.3 1,.3 1,.5 1,-.1 1,-.3 1,-.2 1,-.3 1,.1 1,.3 1,-.1 1,-.2 1,.2 1,0 1,-.4 1,-.4 1,-.6 1,-.3 1,.3 1,-.1 1,-.5 1,-.6 1,-.5 1,-.1 1,-.5 1,-1.2 1,-.9 1,-.2 1,-.4 1,-.8 1,-.5 1,-.5 1,-.9 1,-1.1 1,-1.2 1,-.7 1,-.6 1,-.6 1,-.7 1,-.8 1,-.7 1,-1.2 1,-.9 1,-.8 1,-.9 1,-.5 1,-.6 1,-.7 1,-.5 1,-.9 1,-1.1 1,-1.1 1,-1 1,-.5 1,-.5 1,-.5 1,-.9 1,-1.2 1,-.8 1,-.2 1,0 1,-.6 1,-.9 1,-.3 1,-.1 1,-.4 1,-.7 1,-.5 1,.1 1,-.1 1,-.2 1,-.4 1,-.6 1,-.4 1,-.1 1,-.4 1,-.5 1,-.5 1,-.2 1,-.1 1,-.2 1,-.3 1,-.4 1,-.9 1,-.1 1,.1 1,-.8 1,-.6 1,.3 1,-.4 1,-.7 1,-.3 1,-.7 1,-.6 1,-.1 1,-.3 1,-.6 1,-.3 1,-.3 1,-.2 1,-.1 1,-.4 1,-.8 1,-.8 1,-.4 1,.2 1,.2 1,-.6 1,-.7 1,-.5 1,-.5 1,-.3 1,-.3 1,-.3 1,-.4 1,-.7 1,-.6 1,-.7 1,-.2 1,.6 1,.2 1,-1.3 1,-1.5 1,-.7 1,-.6 1,-1.1 1,-.6 1,-.4 1,-.6 1,-.1 1,-.7 1,-1.4 1,-1.1 1,-1 1,-.6 1,0 1,-.3 1,-.8 1,-.8 1,-.8 1,-.8 1,-.9 1,-.2 1,.2 1,-.8 1,-1.2 1,-.6 1,.1 1,-.7 1,-1.5 1,-.7 1,0 1,-.4 1,-.8 1,-.6 1,-.1 1,-.1 1,-.8 1,-1.1 1,-.4 1,-.1 1,-.7 1,-.9 1,-.6 1,-.6 1,-.6 1,-.5 1,-.3 1,-.2 1,0 1,.3 1,-.1 1,-.8 1,-.5 1,-.2 1,-1 1,-.3 1,.8 1,.3 1,-.4 1,-.8 1,-.8 1,.1 1,.1 1,-.6 1,-.6 1,-.5 1,.1 1,.5 1,-.3 1,-.9 1,-.4 1,.2 1,0 1,-.5 1,-.5 1,-.5 1,.1 1,.9 1,0 1,-.8 1,-.1 1,.4 1,-.3 1,-.2 1,.2 1,.2 1,.2 1,-.3 1,-.6 1,-.1 1,-.2 1,-.5 1,.3 1,.4 1,-.2 1,.4 1,.2 1,-.2 1,.1 1,.3 1,-.1 1,-.5 1,-.2 1,.4 1,.7 1,-.3 1,-.9 1,-.2 1,.1 1,.3 1,.7 1,0 1,-.7 1,.3 1,.1 1,-.5 1,0 1,.1 1,.4 1,0 1,-.3 1,.4 1,.3 1,.3 1,.1 1,.1 1,0 1,-.1 1,-.5 1,-.2 1,.5 1,.8 1,-.3 1,-1.1 1,.3 1,.5 1,-.5 1,.5 1,1.3 1,-.3 1,-.6 1,.5 1,.4 1,-.3 1,-.2 1,-.4 1,-.4 1,.3 1,.6 1,.5 1.2,.3"/>
<path d="M345.3,189.7l1,.9 1,1.3 1,1.4 1,1.1 1,.9 1,.9 1,1.1 1,.8 1,.8 1,.6 1,.6 1,.7 1,.1 1,.5 1,.8 1,.4 1,.4 1,.2 1,.5 1,.5 1,.1 1,-.1 1,.1 1,.3 1,.5 1,.2 1,-.1 1,.1 1,0 1,-.2 1,0 1,.1 1,0 1,0 1,-.1 1,.1 1,.4 1,.1 1,-.2 1,-.2 1,-.1 1,.1 1,.1 1,-.1 1,-.6 1,-.3 1,-.6 1,-.7 1,.1 1,.5 1,0 1,-.3 1,-.1 1,-.4 1,-.7 1,-.3 1,-.4 1,-.9 1,-.8 1,-.3 1,-.7 1,-.8 1,-.6 1,-.4 1,-.3 1,-.3 1,-.6 1,-1 1,-1 1,-.6 1,-.5 1,-.4 1,-.5 1,-1.1 1,-1 1,-.4 1,-.6 1,-1 1,-.7 1,-.4 1,-.4 1,-.7 1,-.9 1,-.5 1,-.4 1,-1.1 1,-1.4 1,-.5 1,-.2 1,-.4 1,-.2 1,-.3 1,-.6 1,-.7 1,-.3 1,-.2 1,-.6 1,-.3 1,0 1,-.8 1,-.8 1,-.1 1,-.1 1,-.1 1,0 1,-.3 1,-.4 1,-.1 1,-.3 1,-.5 1,-.2 1,-.4 1,-.5 1,-.3 1,-.3 1,-.5 1,-.2 1,.3 1,-.4 1,-.4 1,-.3 1,-.2 1,-.3 1,-.4 1,-.3 1,-.1 1,-.3 1,-.5 1,-.8 1,-.2 1,.3 1,-.5 1,-.5 1,-.3 1,-.5 1,-.5 1,-.7 1,-.1 1,0 1,.1 1,-.3 1,-.5 1,-.2 1,-.9 1,-1.3 1,0 1,.6 1,-.3 1,-.9 1,-.6 1,-.1 1,.1 1,-.2 1,-.4 1,-1.2 1,-1 1,0 1,-.5 1,-.4 1,-.3 1,-.7 1,-.6 1,-1 1,-.8 1,-.6 1,-.4 1,-.3 1,-.5 1,-.8 1,-.6 1,-.6 1,-.7 1,-.5 1,-.6 1,-.7 1,-.8 1,-.4 1,-.4 1,-.9 1,-.6 1,-.3 1,-.3 1,-.6 1,-.1 1,-.1 1,-1.1 1,-1.1 1,0 1,0 1,-.6 1,-.2 1,-.4 1,-.7 1,-.7 1,-.6 1,-.2 1,-.1 1,-.1 1,-.4 1,-.5 1,-.2 1,-.4 1,-.8 1,-.3 1,0 1,0 1,-.1 1,-.3 1,-.2 1,.2 1,-.4 1,-.7 1,-.1 1,.3 1,.2 1,-.5 1,-.5 1,-.1 1,-.2 1,.1 1,.2 1,-.3 1,-.2 1,-.4 1,-.4 1,.3 1,0 1,-.6 1,-.5 1,.1 1,-.1 1,0 1,.5 1,-.4 1,-.7 1,0 1,.3 1,.1 1,-.1 1,.1 1,-.4 1,-1 1,-.4 1,.2 1,.6 1,.6 1,-.5 1,-.7 1,.2 1,.4 1,-.3 1,-.1 1,-.2 1,-.3 1,.6 1,.4 1,-.4 1,-.6 1,-.2 1,.3 1,.4 1,.1 1,.3 1,.6 1,-.2 1,-1 1,.1 1,.6 1,0 1,.4 1,0 1,-.8 1,-.3 1,0 1,-.3 1,-.2 1,.6 1,.4 1,-.2 1,-.2 1,-.3 1,.3 1,.2 1,-.6 1,.2 1,.5 1,-.1 1,.6 1,.4 1,-.6 1,-.2 1,0 1,.4 1,.3 1,.2 1,.4 1,.1 1,.1 1,-.5 1,-.6 1,.3 1,.1 1,-.2 1.2,.6L649.5,158.1l-1.2,.3 -1,.4 -1,-.4 -1,-1.3 -1,-.5 -1,.4 -1,.5 -1,-.4 -1,0 -1,1.2 -1,.6 -1,-.6 -1,-1 -1,-.4 -1,.4 -1,-.3 -1,-.5 -1,.4 -1,.3 -1,-.4 -1,.3 -1,-.1 -1,-.6 -1,-.1 -1,.7 -1,.7 -1,-.3 -1,-1 -1,-1 -1,-.2 -1,.4 -1,.3 -1,.7 -1,.5 -1,-.2 -1,-.1 -1,-.2 -1,0 -1,-.5 -1,-.7 -1,.1 -1,.9 -1,.8 -1,-.2 -1,-.6 -1,-.2 -1,-.5 -1,-.7 -1,.5 -1,1 -1,-.2 -1,-.5 -1,-.3 -1,.3 -1,.8 -1,.1 -1,-.8 -1,-.4 -1,.3 -1,.1 -1,-.1 -1,.5 -1,.5 -1,-.1 -1,-.4 -1,-.1 -1,.1 -1,-.2 -1,.1 -1,.4 -1,.3 -1,.3 -1,.3 -1,-.2 -1,-.4 -1,.2 -1,.5 -1,-.2 -1,-.5 -1,.6 -1,.4 -1,-.7 -1,-.7 -1,.5 -1,1.1 -1,.4 -1,-.1 -1,.1 -1,.3 -1,-.3 -1,.3 -1,1.3 -1,.3 -1,-.8 -1,-.1 -1,.6 -1,-.2 -1,-.2 -1,.6 -1,.4 -1,-.3 -1,.1 -1,.5 -1,.2 -1,.3 -1,1.1 -1,.4 -1,-.2 -1,.1 -1,.2 -1,.4 -1,.8 -1,.3 -1,.3 -1,.8 -1,.1 -1,.2 -1,.7 -1,.4 -1,.8 -1,1.1 -1,.3 -1,-.2 -1,-.2 -1,.5 -1,.6 -1,.5 -1,.6 -1,.7 -1,.8 -1,.5 -1,.3 -1,.4 -1,.6 -1,.5 -1,.2 -1,.6 -1,1.1 -1,.4 -1,.2 -1,1 -1,.7 -1,.2 -1,.2 -1,.6 -1,.4 -1,.4 -1,.9 -1,.4 -1,.5 -1,.8 -1,.2 -1,-.1 -1,.3 -1,.6 -1,.4 -1,-.1 -1,-.1 -1,.2 -1,.7 -1,.5 -1,.1 -1,.3 -1,.4 -1,.1 -1,0 -1,.2 -1,1.2 -1,1 -1,-.4 -1,-.1 -1,.5 -1,.2 -1,-.1 -1,.4 -1,.4 -1,.2 -1,.7 -1,.2 -1,-.1 -1,.1 -1,.2 -1,0 -1,.1 -1,.9 -1,.7 -1,.1 -1,.1 -1,-.1 -1,.2 -1,.2 -1,.6 -1,.5 -1,.3 -1,.6 -1,.2 -1,.1 -1,.2 -1,0 -1,0 -1,.4 -1,.3 -1,-.1 -1,.3 -1,.6 -1,.4 -1,0 -1,-.1 -1,.4 -1,.9 -1,.8 -1,.3 -1,.1 -1,.1 -1,.5 -1,.8 -1,.8 -1,.6 -1,.5 -1,.5 -1,.6 -1,0 -1,.1 -1,.7 -1,.5 -1,.8 -1,.9 -1,.4 -1,.3 -1,.9 -1,1.1 -1,.5 -1,.2 -1,.7 -1,.5 -1,.1 -1,.4 -1,.8 -1,.6 -1,.5 -1,.8 -1,.7 -1,.6 -1,.3 -1,.4 -1,.6 -1,.7 -1,.2 -1,-.2 -1,.1 -1,.5 -1,.5 -1,.5 -1,.3 -1,.2 -1,.1 -1,.3 -1,.1 -1,.1 -1,.6 -1,.2 -1,-.3 -1,.1 -1,.2 -1,-.1 -1,-.2 -1,0 -1,.1 -1,-.1 -1,0 -1,.3 -1,-.1 -1,-.3 -1,-.1 -1,.1 -1,-.2 -1,-.1 -1,-.1 -1,0 -1,.3 -1,-.1 -1,-.4 -1,-.2 -1,-.1 -1,0 -1,-.1 -1,-.4 -1,-.7 -1,-.5 -1,-.3 -1,-.3 -1,-.6 -1,-.9 -1,-.7 -1,-.3 -1,-.5 -1,-1 -1,-.8 -1,-.6 -1,-.8 -1,-1 -1,-1.1 -1,-.8 -1,-.9z" fill="#a2da37" stroke="#a2da37" stroke-width=".6"/>
<path class="w" d="M345.3,189.7l1,.9 1,1.3 1,1.4 1,1.1 1,.9 1,.9 1,1.1 1,.8 1,.8 1,.6 1,.6 1,.7 1,.1 1,.5 1,.8 1,.4 1,.4 1,.2 1,.5 1,.5 1,.1 1,-.1 1,.1 1,.3 1,.5 1,.2 1,-.1 1,.1 1,0 1,-.2 1,0 1,.1 1,0 1,0 1,-.1 1,.1 1,.4 1,.1 1,-.2 1,-.2 1,-.1 1,.1 1,.1 1,-.1 1,-.6 1,-.3 1,-.6 1,-.7 1,.1 1,.5 1,0 1,-.3 1,-.1 1,-.4 1,-.7 1,-.3 1,-.4 1,-.9 1,-.8 1,-.3 1,-.7 1,-.8 1,-.6 1,-.4 1,-.3 1,-.3 1,-.6 1,-1 1,-1 1,-.6 1,-.5 1,-.4 1,-.5 1,-1.1 1,-1 1,-.4 1,-.6 1,-1 1,-.7 1,-.4 1,-.4 1,-.7 1,-.9 1,-.5 1,-.4 1,-1.1 1,-1.4 1,-.5 1,-.2 1,-.4 1,-.2 1,-.3 1,-.6 1,-.7 1,-.3 1,-.2 1,-.6 1,-.3 1,0 1,-.8 1,-.8 1,-.1 1,-.1 1,-.1 1,0 1,-.3 1,-.4 1,-.1 1,-.3 1,-.5 1,-.2 1,-.4 1,-.5 1,-.3 1,-.3 1,-.5 1,-.2 1,.3 1,-.4 1,-.4 1,-.3 1,-.2 1,-.3 1,-.4 1,-.3 1,-.1 1,-.3 1,-.5 1,-.8 1,-.2 1,.3 1,-.5 1,-.5 1,-.3 1,-.5 1,-.5 1,-.7 1,-.1 1,0 1,.1 1,-.3 1,-.5 1,-.2 1,-.9 1,-1.3 1,0 1,.6 1,-.3 1,-.9 1,-.6 1,-.1 1,.1 1,-.2 1,-.4 1,-1.2 1,-1 1,0 1,-.5 1,-.4 1,-.3 1,-.7 1,-.6 1,-1 1,-.8 1,-.6 1,-.4 1,-.3 1,-.5 1,-.8 1,-.6 1,-.6 1,-.7 1,-.5 1,-.6 1,-.7 1,-.8 1,-.4 1,-.4 1,-.9 1,-.6 1,-.3 1,-.3 1,-.6 1,-.1 1,-.1 1,-1.1 1,-1.1 1,0 1,0 1,-.6 1,-.2 1,-.4 1,-.7 1,-.7 1,-.6 1,-.2 1,-.1 1,-.1 1,-.4 1,-.5 1,-.2 1,-.4 1,-.8 1,-.3 1,0 1,0 1,-.1 1,-.3 1,-.2 1,.2 1,-.4 1,-.7 1,-.1 1,.3 1,.2 1,-.5 1,-.5 1,-.1 1,-.2 1,.1 1,.2 1,-.3 1,-.2 1,-.4 1,-.4 1,.3 1,0 1,-.6 1,-.5 1,.1 1,-.1 1,0 1,.5 1,-.4 1,-.7 1,0 1,.3 1,.1 1,-.1 1,.1 1,-.4 1,-1 1,-.4 1,.2 1,.6 1,.6 1,-.5 1,-.7 1,.2 1,.4 1,-.3 1,-.1 1,-.2 1,-.3 1,.6 1,.4 1,-.4 1,-.6 1,-.2 1,.3 1,.4 1,.1 1,.3 1,.6 1,-.2 1,-1 1,.1 1,.6 1,0 1,.4 1,0 1,-.8 1,-.3 1,0 1,-.3 1,-.2 1,.6 1,.4 1,-.2 1,-.2 1,-.3 1,.3 1,.2 1,-.6 1,.2 1,.5 1,-.1 1,.6 1,.4 1,-.6 1,-.2 1,0 1,.4 1,.3 1,.2 1,.4 1,.1 1,.1 1,-.5 1,-.6 1,.3 1,.1 1,-.2 1.2,.6"/>
<path d="M345.3,209l1,.9 1,.8 1,1.1 1,1 1,.8 1,.6 1,.8 1,1 1,.5 1,.3 1,.7 1,.9 1,.6 1,.3 1,.3 1,.5 1,.7 1,.4 1,.1 1,0 1,.1 1,.2 1,.4 1,.1 1,-.3 1,0 1,.1 1,.1 1,.2 1,-.1 1,.1 1,.3 1,.1 1,-.3 1,0 1,.1 1,-.1 1,0 1,.2 1,.1 1,-.2 1,-.1 1,.3 1,-.2 1,-.6 1,-.1 1,-.1 1,-.3 1,-.1 1,-.2 1,-.3 1,-.5 1,-.5 1,-.5 1,-.1 1,.2 1,-.2 1,-.7 1,-.6 1,-.4 1,-.3 1,-.6 1,-.7 1,-.8 1,-.5 1,-.6 1,-.8 1,-.4 1,-.1 1,-.5 1,-.7 1,-.2 1,-.5 1,-1.1 1,-.9 1,-.3 1,-.4 1,-.9 1,-.8 1,-.5 1,-.7 1,-.1 1,0 1,-.6 1,-.5 1,-.5 1,-.6 1,-.8 1,-.8 1,-.5 1,-.1 1,-.1 1,-.3 1,-.8 1,-.9 1,-.4 1,.1 1,0 1,-.4 1,-.6 1,-.3 1,.1 1,-.3 1,-.4 1,0 1,0 1,-.2 1,-.1 1,-.2 1,-.6 1,-.3 1,-.5 1,-.6 1,-.2 1,-.2 1,.1 1,-.1 1,-.1 1,-.7 1,-.9 1,-.1 1,0 1,-.2 1,-.1 1,.1 1,-.2 1,-.7 1,-.2 1,-.4 1,-.4 1,.1 1,-.2 1,-.5 1,.1 1,.4 1,-1 1,-1.2 1,-.2 1,0 1,-.1 1,-.4 1,-.3 1,-.1 1,-.5 1,-.7 1,-.2 1,.1 1,.1 1,-.4 1,-.6 1,-.3 1,.1 1,-.2 1,-.8 1,-.5 1,-.4 1,-.9 1,-.4 1,-.4 1,-.6 1,-.2 1,-.2 1,-.7 1,-1 1,-.2 1,-.4 1,-1.1 1,-.6 1,-.2 1,-.5 1,-.6 1,-.4 1,-.3 1,-.5 1,-.8 1,-.7 1,-.6 1,-.5 1,-.6 1,-.5 1,.2 1,.2 1,-.3 1,-1.1 1,-.8 1,-.4 1,-.7 1,-.2 1,-.1 1,-.8 1,-.3 1,-.3 1,-.8 1,-.4 1,-.2 1,-.1 1,.2 1,-.4 1,-1.1 1,-.3 1,-.2 1,-.5 1,-.1 1,.3 1,-.4 1,-.6 1,.2 1,.2 1,-.6 1,.1 1,.8 1,-.3 1,-1.3 1,-.3 1,.3 1,-.3 1,-.1 1,.1 1,-.4 1,-1.1 1,-.5 1,.7 1,.7 1,-.4 1,-.6 1,.5 1,.2 1,-.5 1,-.2 1,.4 1,.2 1,-.3 1,-.3 1,-.3 1,-.4 1,-.1 1,.2 1,-.1 1,.1 1,.4 1,.1 1,-.5 1,-.5 1,.1 1,-.1 1,-.3 1,.4 1,.8 1,-.1 1,-.8 1,-.3 1,.3 1,.5 1,.2 1,-1 1,-.5 1,.7 1,.5 1,.2 1,.6 1,.2 1,-.8 1,-.9 1,-.1 1,.7 1,.5 1,0 1,.2 1,.1 1,.2 1,-.5 1,-.7 1,-.3 1,-.4 1,.2 1,1 1,1 1,.3 1,-.7 1,-.7 1,.1 1,.6 1,.1 1,-.3 1,.4 1,-.3 1,-.4 1,.5 1,.3 1,-.4 1,.4 1,1 1,.6 1,-.6 1,-1.2 1,0 1,.4 1,-.5 1,-.4 1,.5 1,1.3 1,.4 1,-.4 1.2,-.3L649.5,192.7l-1.2,0 -1,-.3 -1,-.7 -1,-.7 -1,.3 -1,.5 -1,-.3 -1,-.1 -1,.1 -1,-.6 -1,-.2 -1,.6 -1,.1 -1,-.4 -1,.1 -1,.4 -1,0 -1,0 -1,-.3 -1,.3 -1,.1 -1,-.8 -1,.2 -1,.5 -1,-.6 -1,-.4 -1,.2 -1,-.4 -1,-1 -1,-.2 -1,.5 -1,-.1 -1,-.1 -1,.3 -1,.4 -1,.6 -1,0 -1,-.6 -1,-.4 -1,-.2 -1,.3 -1,.4 -1,.2 -1,.1 -1,-.1 -1,0 -1,.3 -1,-.1 -1,.1 -1,0 -1,-.4 -1,.1 -1,.2 -1,0 -1,.1 -1,-.3 -1,0 -1,.5 -1,.2 -1,-.7 -1,-.8 -1,.1 -1,.4 -1,.2 -1,.2 -1,.3 -1,0 -1,-.5 -1,-.4 -1,.3 -1,.1 -1,-.1 -1,.4 -1,.8 -1,.7 -1,-.1 -1,-.4 -1,-.4 -1,-.3 -1,.1 -1,-.2 -1,.2 -1,.8 -1,.3 -1,-.1 -1,.2 -1,.7 -1,.7 -1,-.3 -1,-.3 -1,.3 -1,.3 -1,0 -1,.1 -1,.2 -1,.2 -1,.1 -1,-.1 -1,-.5 -1,.1 -1,.3 -1,.1 -1,-.3 -1,-.1 -1,.5 -1,.6 -1,.1 -1,.2 -1,.1 -1,0 -1,-.2 -1,.3 -1,.8 -1,.2 -1,0 -1,.7 -1,.7 -1,.5 -1,.1 -1,-.1 -1,.6 -1,.6 -1,.3 -1,.2 -1,.6 -1,.8 -1,.7 -1,.8 -1,.2 -1,-.6 -1,.4 -1,1.2 -1,.5 -1,.1 -1,.1 -1,.6 -1,.9 -1,.5 -1,.1 -1,.1 -1,.2 -1,.7 -1,.9 -1,.1 -1,.2 -1,.4 -1,.5 -1,.6 -1,.3 -1,.5 -1,.7 -1,.1 -1,-.1 -1,.8 -1,.3 -1,.2 -1,.6 -1,.2 -1,.4 -1,.1 -1,-.3 -1,.5 -1,.4 -1,-.2 -1,.1 -1,.3 -1,.5 -1,.5 -1,-.1 -1,-.1 -1,.6 -1,.2 -1,-.2 -1,.4 -1,.7 -1,.7 -1,0 -1,-.7 -1,-.1 -1,.8 -1,.4 -1,.3 -1,0 -1,0 -1,.2 -1,.3 -1,.2 -1,.3 -1,-.1 -1,-.3 -1,.4 -1,.6 -1,.4 -1,.6 -1,.3 -1,-.5 -1,-.2 -1,.6 -1,.3 -1,-.1 -1,.1 -1,0 -1,0 -1,.6 -1,.4 -1,0 -1,.1 -1,.3 -1,.2 -1,.2 -1,.8 -1,.9 -1,0 -1,-.1 -1,.6 -1,0 -1,.1 -1,1.1 -1,1.1 -1,.4 -1,-.3 -1,.1 -1,.7 -1,.2 -1,.2 -1,1 -1,.5 -1,.1 -1,0 -1,.5 -1,1 -1,0 -1,-.1 -1,1 -1,.9 -1,.7 -1,.3 -1,.2 -1,.7 -1,.5 -1,.2 -1,.1 -1,0 -1,.6 -1,.8 -1,0 -1,.1 -1,.4 -1,.3 -1,.4 -1,.4 -1,.3 -1,.3 -1,.2 -1,.1 -1,-.1 -1,.1 -1,.6 -1,.3 -1,0 -1,.2 -1,0 -1,0 -1,-.1 -1,-.1 -1,.3 -1,.5 -1,-.2 -1,-.3 -1,.1 -1,.1 -1,-.1 -1,-.3 -1,.1 -1,.5 -1,0 -1,-.1 -1,-.1 -1,-.2 -1,-.4 -1,-.2 -1,-.1 -1,0 -1,-.3 -1,-.1 -1,-.1 -1,-.4 -1,-.7 -1,-.2 -1,.1 -1,-.4 -1,-.5 -1,-.7 -1,-.3 -1,-.3 -1,-.5 -1,-.6 -1,-1 -1,-.7 -1,-.5 -1,-.9 -1,-.8 -1,-.9 -1,-.9z" fill="#5ec962" stroke="#5ec962" stroke-width=".6"/>
<path class="w" d="M345.3,209l1,.9 1,.8 1,1.1 1,1 1,.8 1,.6 1,.8 1,1 1,.5 1,.3 1,.7 1,.9 1,.6 1,.3 1,.3 1,.5 1,.7 1,.4 1,.1 1,0 1,.1 1,.2 1,.4 1,.1 1,-.3 1,0 1,.1 1,.1 1,.2 1,-.1 1,.1 1,.3 1,.1 1,-.3 1,0 1,.1 1,-.1 1,0 1,.2 1,.1 1,-.2 1,-.1 1,.3 1,-.2 1,-.6 1,-.1 1,-.1 1,-.3 1,-.1 1,-.2 1,-.3 1,-.5 1,-.5 1,-.5 1,-.1 1,.2 1,-.2 1,-.7 1,-.6 1,-.4 1,-.3 1,-.6 1,-.7 1,-.8 1,-.5 1,-.6 1,-.8 1,-.4 1,-.1 1,-.5 1,-.7 1,-.2 1,-.5 1,-1.1 1,-.9 1,-.3 1,-.4 1,-.9 1,-.8 1,-.5 1,-.7 1,-.1 1,0 1,-.6 1,-.5 1,-.5 1,-.6 1,-.8 1,-.8 1,-.5 1,-.1 1,-.1 1,-.3 1,-.8 1,-.9 1,-.4 1,.1 1,0 1,-.4 1,-.6 1,-.3 1,.1 1,-.3 1,-.4 1,0 1,0 1,-.2 1,-.1 1,-.2 1,-.6 1,-.3 1,-.5 1,-.6 1,-.2 1,-.2 1,.1 1,-.1 1,-.1 1,-.7 1,-.9 1,-.1 1,0 1,-.2 1,-.1 1,.1 1,-.2 1,-.7 1,-.2 1,-.4 1,-.4 1,.1 1,-.2 1,-.5 1,.1 1,.4 1,-1 1,-1.2 1,-.2 1,0 1,-.1 1,-.4 1,-.3 1,-.1 1,-.5 1,-.7 1,-.2 1,.1 1,.1 1,-.4 1,-.6 1,-.3 1,.1 1,-.2 1,-.8 1,-.5 1,-.4 1,-.9 1,-.4 1,-.4 1,-.6 1,-.2 1,-.2 1,-.7 1,-1 1,-.2 1,-.4 1,-1.1 1,-.6 1,-.2 1,-.5 1,-.6 1,-.4 1,-.3 1,-.5 1,-.8 1,-.7 1,-.6 1,-.5 1,-.6 1,-.5 1,.2 1,.2 1,-.3 1,-1.1 1,-.8 1,-.4 1,-.7 1,-.2 1,-.1 1,-.8 1,-.3 1,-.3 1,-.8 1,-.4 1,-.2 1,-.1 1,.2 1,-.4 1,-1.1 1,-.3 1,-.2 1,-.5 1,-.1 1,.3 1,-.4 1,-.6 1,.2 1,.2 1,-.6 1,.1 1,.8 1,-.3 1,-1.3 1,-.3 1,.3 1,-.3 1,-.1 1,.1 1,-.4 1,-1.1 1,-.5 1,.7 1,.7 1,-.4 1,-.6 1,.5 1,.2 1,-.5 1,-.2 1,.4 1,.2 1,-.3 1,-.3 1,-.3 1,-.4 1,-.1 1,.2 1,-.1 1,.1 1,.4 1,.1 1,-.5 1,-.5 1,.1 1,-.1 1,-.3 1,.4 1,.8 1,-.1 1,-.8 1,-.3 1,.3 1,.5 1,.2 1,-1 1,-.5 1,.7 1,.5 1,.2 1,.6 1,.2 1,-.8 1,-.9 1,-.1 1,.7 1,.5 1,0 1,.2 1,.1 1,.2 1,-.5 1,-.7 1,-.3 1,-.4 1,.2 1,1 1,1 1,.3 1,-.7 1,-.7 1,.1 1,.6 1,.1 1,-.3 1,.4 1,-.3 1,-.4 1,.5 1,.3 1,-.4 1,.4 1,1 1,.6 1,-.6 1,-1.2 1,0 1,.4 1,-.5 1,-.4 1,.5 1,1.3 1,.4 1,-.4 1.2,-.3"/>
<path d="M345.3,231.3l1,.9 1,.9 1,.8 1,.9 1,.5 1,.7 1,1 1,.6 1,.5 1,.3 1,.3 1,.7 1,.5 1,.4 1,-.1 1,.2 1,.7 1,.4 1,.1 1,.1 1,.3 1,0 1,.1 1,.2 1,.4 1,.2 1,.1 1,.1 1,0 1,-.5 1,-.1 1,.3 1,.1 1,-.1 1,-.1 1,.3 1,.2 1,-.5 1,-.3 1,.1 1,.1 1,0 1,0 1,-.2 1,0 1,-.3 1,-.6 1,-.1 1,.1 1,-.1 1,-.2 1,-.3 1,-.3 1,-.4 1,-.4 1,-.3 1,-.4 1,-.1 1,0 1,-.8 1,-.6 1,0 1,-.1 1,-.2 1,-.5 1,-.7 1,-.2 1,-.3 1,-.7 1,-.9 1,-1 1,.1 1,0 1,-1 1,-.5 1,0 1,-.1 1,-.5 1,-1 1,-.2 1,-.2 1,-.7 1,-.1 1,.3 1,-.4 1,-1.1 1,-1.1 1,-.1 1,0 1,-.6 1,.1 1,0 1,-.9 1,-.8 1,-.2 1,-.2 1,-.3 1,-.1 1,0 1,-.4 1,-.6 1,0 1,0 1,-.1 1,.1 1,-.3 1,-.6 1,.2 1,.5 1,-.3 1,-.6 1,-.4 1,-.6 1,-.4 1,.3 1,.1 1,-.3 1,-.2 1,-.3 1,-.2 1,0 1,0 1,-.3 1,-.4 1,-.8 1,.1 1,.7 1,0 1,-.7 1,-.7 1,-.4 1,.2 1,-.2 1,-.6 1,.1 1,.1 1,-.5 1,-.5 1,-.3 1,-.1 1,.2 1,-.4 1,-.5 1,.3 1,-.1 1,-.4 1,-.2 1,-.6 1,-.2 1,-.3 1,-.8 1,.1 1,-.1 1,-.7 1,-.5 1,-.3 1,-.6 1,-.5 1,-.4 1,-.2 1,-.1 1,-.9 1,-.7 1,-.2 1,-.1 1,-.1 1,-.5 1,-.9 1,-.6 1,-.1 1,-.1 1,-.5 1,-1.2 1,-.4 1,.6 1,-.2 1,-.8 1,-.7 1,-.8 1,-.6 1,-.2 1,-.3 1,-.6 1,-.6 1,.1 1,-.1 1,-.5 1,-.7 1,-.7 1,0 1,-.2 1,-.8 1,-.3 1,.2 1,0 1,-.1 1,-.2 1,-.1 1,-.6 1,-.5 1,.1 1,.3 1,-.1 1,-.3 1,-.1 1,.5 1,.1 1,-.1 1,-.2 1,-.2 1,-.1 1,0 1,-.3 1,-.3 1,.3 1,.3 1,-.7 1,-.7 1,-.2 1,.1 1,-.3 1,-.8 1,-.2 1,.2 1,-.1 1,.3 1,.4 1,.4 1,.1 1,-.7 1,-.8 1,-.4 1,.1 1,-.1 1,-.3 1,.4 1,.5 1,0 1,-.3 1,-.2 1,-.2 1,-.4 1,-.1 1,.8 1,.7 1,-.2 1,-.5 1,0 1,.3 1,-.1 1,0 1,-.2 1,-.1 1,.4 1,0 1,-.1 1,.1 1,-.3 1,0 1,.1 1,-.1 1,-.2 1,-.4 1,-.3 1,.2 1,.4 1,.6 1,0 1,-.6 1,-.4 1,-.3 1,.1 1,.1 1,-.5 1,.2 1,1 1,.4 1,-.2 1,.4 1,.6 1,-.5 1,-.2 1,.8 1,-.1 1,-.3 1,.3 1,0 1,0 1,-.4 1,-.1 1,.4 1,-.1 1,-.6 1,.2 1,.6 1,-.1 1,.1 1,.3 1,-.5 1,-.3 1,.7 1,.7 1,.3 1.2,0L649.5,216.3l-1.2,-.2 -1,.2 -1,.5 -1,-.1 -1,0 -1,.4 -1,0 -1,-.4 -1,-.1 -1,.1 -1,.1 -1,0 -1,-.2 -1,-.4 -1,-.2 -1,.3 -1,-.2 -1,.3 -1,.2 -1,-.6 -1,-.2 -1,.1 -1,.2 -1,-.2 -1,0 -1,.7 -1,-.4 -1,-.8 -1,.5 -1,.6 -1,-.4 -1,-.3 -1,.8 -1,.1 -1,-.5 -1,-.1 -1,-.3 -1,-.2 -1,-.2 -1,-.2 -1,.5 -1,.3 -1,-.2 -1,0 -1,.2 -1,0 -1,.5 -1,0 -1,-.7 -1,.1 -1,0 -1,-.9 -1,-.2 -1,1.3 -1,.9 -1,0 -1,-.3 -1,-.6 -1,-.2 -1,.3 -1,.2 -1,-.2 -1,-.1 -1,-.1 -1,-.3 -1,-.5 -1,.4 -1,.7 -1,0 -1,.3 -1,.8 -1,-.3 -1,-.6 -1,.3 -1,.7 -1,-.1 -1,-.4 -1,.2 -1,.3 -1,.3 -1,.4 -1,-.1 -1,.4 -1,.4 -1,-.4 -1,-.6 -1,-.1 -1,.7 -1,.7 -1,.1 -1,-.3 -1,-.1 -1,.2 -1,.1 -1,-.4 -1,.2 -1,.5 -1,0 -1,-.2 -1,-.1 -1,0 -1,-.1 -1,.2 -1,.4 -1,.2 -1,.3 -1,.1 -1,.2 -1,.2 -1,-.1 -1,0 -1,.2 -1,-.1 -1,0 -1,.6 -1,.7 -1,.8 -1,.6 -1,0 -1,-.1 -1,.4 -1,.7 -1,.1 -1,-.3 -1,.5 -1,.6 -1,.5 -1,.6 -1,.5 -1,.1 -1,-.3 -1,.2 -1,.8 -1,.8 -1,.1 -1,.4 -1,.9 -1,.1 -1,-.4 -1,-.1 -1,.8 -1,.6 -1,.1 -1,.9 -1,1.2 -1,.3 -1,-.6 -1,-.3 -1,1.1 -1,1 -1,.2 -1,-.2 -1,0 -1,.2 -1,.6 -1,.4 -1,-.3 -1,-.1 -1,.3 -1,.1 -1,0 -1,.3 -1,.9 -1,.6 -1,-.3 -1,-.1 -1,.2 -1,-.1 -1,-.2 -1,0 -1,.3 -1,.2 -1,.4 -1,.3 -1,.3 -1,.1 -1,-.2 -1,.3 -1,.4 -1,-.1 -1,.1 -1,.7 -1,.3 -1,-.1 -1,.3 -1,.3 -1,.2 -1,0 -1,0 -1,.4 -1,.4 -1,-.1 -1,.1 -1,.1 -1,-.6 -1,-.1 -1,.4 -1,.3 -1,.1 -1,.2 -1,.2 -1,-.1 -1,.1 -1,.3 -1,.5 -1,.3 -1,-.1 -1,-.1 -1,.3 -1,.4 -1,.2 -1,.5 -1,1 -1,.2 -1,-.2 -1,0 -1,.2 -1,.7 -1,.7 -1,.5 -1,.3 -1,-.4 -1,-.1 -1,.4 -1,.4 -1,.5 -1,.8 -1,.7 -1,.4 -1,.3 -1,-.1 -1,-.3 -1,.1 -1,.4 -1,.6 -1,.5 -1,.4 -1,.2 -1,.2 -1,.6 -1,.5 -1,-.3 -1,-.1 -1,.6 -1,.5 -1,.2 -1,.6 -1,.9 -1,.3 -1,.5 -1,.1 -1,0 -1,.3 -1,-.1 -1,-.1 -1,.2 -1,-.3 -1,-.3 -1,.4 -1,.5 -1,.3 -1,.3 -1,.1 -1,0 -1,.1 -1,0 -1,-.2 -1,0 -1,.1 -1,.1 -1,.1 -1,.2 -1,0 -1,0 -1,.2 -1,.1 -1,-.1 -1,.1 -1,-.1 -1,-.3 -1,-.5 -1,-.4 -1,-.2 -1,-.2 -1,-.1 -1,.1 -1,-.3 -1,-.3 -1,0 -1,-.1 -1,-.4 -1,-.5 -1,-.3 -1,-.5 -1,-.6 -1,-.3 -1,-.3 -1,-.6 -1,-.5 -1,-.8 -1,-.9 -1,-.6 -1,-.7 -1,-.9z" fill="#46c06f" stroke="#46c06f" stroke-width=".6"/>
<path class="w" d="M345.3,231.3l1,.9 1,.9 1,.8 1,.9 1,.5 1,.7 1,1 1,.6 1,.5 1,.3 1,.3 1,.7 1,.5 1,.4 1,-.1 1,.2 1,.7 1,.4 1,.1 1,.1 1,.3 1,0 1,.1 1,.2 1,.4 1,.2 1,.1 1,.1 1,0 1,-.5 1,-.1 1,.3 1,.1 1,-.1 1,-.1 1,.3 1,.2 1,-.5 1,-.3 1,.1 1,.1 1,0 1,0 1,-.2 1,0 1,-.3 1,-.6 1,-.1 1,.1 1,-.1 1,-.2 1,-.3 1,-.3 1,-.4 1,-.4 1,-.3 1,-.4 1,-.1 1,0 1,-.8 1,-.6 1,0 1,-.1 1,-.2 1,-.5 1,-.7 1,-.2 1,-.3 1,-.7 1,-.9 1,-1 1,.1 1,0 1,-1 1,-.5 1,0 1,-.1 1,-.5 1,-1 1,-.2 1,-.2 1,-.7 1,-.1 1,.3 1,-.4 1,-1.1 1,-1.1 1,-.1 1,0 1,-.6 1,.1 1,0 1,-.9 1,-.8 1,-.2 1,-.2 1,-.3 1,-.1 1,0 1,-.4 1,-.6 1,0 1,0 1,-.1 1,.1 1,-.3 1,-.6 1,.2 1,.5 1,-.3 1,-.6 1,-.4 1,-.6 1,-.4 1,.3 1,.1 1,-.3 1,-.2 1,-.3 1,-.2 1,0 1,0 1,-.3 1,-.4 1,-.8 1,.1 1,.7 1,0 1,-.7 1,-.7 1,-.4 1,.2 1,-.2 1,-.6 1,.1 1,.1 1,-.5 1,-.5 1,-.3 1,-.1 1,.2 1,-.4 1,-.5 1,.3 1,-.1 1,-.4 1,-.2 1,-.6 1,-.2 1,-.3 1,-.8 1,.1 1,-.1 1,-.7 1,-.5 1,-.3 1,-.6 1,-.5 1,-.4 1,-.2 1,-.1 1,-.9 1,-.7 1,-.2 1,-.1 1,-.1 1,-.5 1,-.9 1,-.6 1,-.1 1,-.1 1,-.5 1,-1.2 1,-.4 1,.6 1,-.2 1,-.8 1,-.7 1,-.8 1,-.6 1,-.2 1,-.3 1,-.6 1,-.6 1,.1 1,-.1 1,-.5 1,-.7 1,-.7 1,0 1,-.2 1,-.8 1,-.3 1,.2 1,0 1,-.1 1,-.2 1,-.1 1,-.6 1,-.5 1,.1 1,.3 1,-.1 1,-.3 1,-.1 1,.5 1,.1 1,-.1 1,-.2 1,-.2 1,-.1 1,0 1,-.3 1,-.3 1,.3 1,.3 1,-.7 1,-.7 1,-.2 1,.1 1,-.3 1,-.8 1,-.2 1,.2 1,-.1 1,.3 1,.4 1,.4 1,.1 1,-.7 1,-.8 1,-.4 1,.1 1,-.1 1,-.3 1,.4 1,.5 1,0 1,-.3 1,-.2 1,-.2 1,-.4 1,-.1 1,.8 1,.7 1,-.2 1,-.5 1,0 1,.3 1,-.1 1,0 1,-.2 1,-.1 1,.4 1,0 1,-.1 1,.1 1,-.3 1,0 1,.1 1,-.1 1,-.2 1,-.4 1,-.3 1,.2 1,.4 1,.6 1,0 1,-.6 1,-.4 1,-.3 1,.1 1,.1 1,-.5 1,.2 1,1 1,.4 1,-.2 1,.4 1,.6 1,-.5 1,-.2 1,.8 1,-.1 1,-.3 1,.3 1,0 1,0 1,-.4 1,-.1 1,.4 1,-.1 1,-.6 1,.2 1,.6 1,-.1 1,.1 1,.3 1,-.5 1,-.3 1,.7 1,.7 1,.3 1.2,0"/>
<path d="M345.3,249.1l1,.9 1,.7 1,.6 1,.9 1,.8 1,.5 1,.6 1,.3 1,.3 1,.6 1,.5 1,.3 1,.5 1,.4 1,.1 1,0 1,.3 1,.3 1,-.1 1,.1 1,.2 1,.2 1,.4 1,.5 1,.3 1,.1 1,-.1 1,.1 1,-.1 1,-.2 1,0 1,0 1,-.2 1,-.1 1,-.1 1,-.1 1,0 1,.2 1,0 1,-.1 1,0 1,-.1 1,-.3 1,-.3 1,-.5 1,-.4 1,.3 1,.3 1,-.2 1,.1 1,.1 1,-.3 1,0 1,-.1 1,-.5 1,-.3 1,-.9 1,-.6 1,-.2 1,-.5 1,-.6 1,.1 1,.3 1,-.5 1,-.6 1,-.2 1,-.2 1,-.4 1,-.5 1,-.6 1,-.4 1,-.1 1,.3 1,.1 1,-.3 1,-.4 1,-.7 1,-.8 1,-.5 1,-.4 1,-.4 1,.1 1,.4 1,-.3 1,-.5 1,-.7 1,-.7 1,-.2 1,0 1,.2 1,-.2 1,-1 1,-.5 1,-.2 1,-.4 1,-.3 1,.1 1,.1 1,-.3 1,-.5 1,-.3 1,-.1 1,.1 1,-.2 1,-.2 1,-.1 1,-.3 1,-.4 1,.1 1,.6 1,-.1 1,-.1 1,.1 1,-.4 1,-.4 1,0 1,0 1,-.2 1,-.3 1,-.3 1,.1 1,-.3 1,-.7 1,-.1 1,.1 1,-.4 1,-.3 1,.2 1,-.1 1,-.3 1,-.3 1,-.4 1,-.2 1,-.3 1,0 1,.2 1,.1 1,-.2 1,.1 1,.3 1,-.6 1,-.9 1,-.3 1,0 1,-.1 1,-.3 1,.1 1,.3 1,-.4 1,-.6 1,-.2 1,0 1,.2 1,-.2 1,-1 1,-1.1 1,.3 1,.6 1,-.3 1,-1.2 1,-.9 1,-.1 1,-.6 1,-.8 1,.1 1,.4 1,-.1 1,-.9 1,-.4 1,-.1 1,-.8 1,-.8 1,-.2 1,.3 1,-.1 1,-.5 1,-.6 1,-.5 1,-.6 1,-.5 1,.3 1,-.1 1,-.7 1,-.4 1,.1 1,0 1,-.6 1,-.8 1,-.7 1,-.6 1,0 1,.1 1,-.2 1,0 1,.1 1,-.2 1,-.2 1,-.1 1,-.3 1,-.2 1,-.4 1,-.2 1,.1 1,0 1,.1 1,.2 1,0 1,-.5 1,-.2 1,.4 1,-.1 1,-.2 1,.1 1,.3 1,-.1 1,-.7 1,-.7 1,.1 1,.6 1,.4 1,-.4 1,-.4 1,.1 1,-.4 1,-.3 1,-.3 1,-.2 1,.4 1,.1 1,-.7 1,-.3 1,.6 1,.3 1,-.8 1,-.3 1,0 1,-.7 1,-.4 1,.5 1,.3 1,.1 1,.1 1,.2 1,-.2 1,-.3 1,.2 1,.6 1,.3 1,0 1,-.9 1,-1.3 1,.2 1,.9 1,0 1,-.1 1,.7 1,0 1,-.5 1,0 1,-.2 1,0 1,.2 1,-.3 1,-.5 1,.2 1,.2 1,.2 1,.3 1,.1 1,.5 1,-.1 1,-.8 1,.3 1,.4 1,-.6 1,-.5 1,.8 1,.4 1,-.7 1,0 1,.2 1,-.2 1,-.1 1,.2 1,.6 1,-.2 1,-.3 1,.2 1,-.3 1,.2 1,.4 1,.2 1,0 1,-.1 1,-.1 1,.1 1,.4 1,0 1,-.4 1,0 1,.1 1,-.5 1,-.2 1.2,.2L649.5,231.4l-1.2,.4 -1,-.5 -1,0 -1,.9 -1,0 -1,-.8 -1,-.2 -1,.5 -1,.6 -1,-.2 -1,-.2 -1,.4 -1,.2 -1,-.3 -1,-.4 -1,-.4 -1,.6 -1,.5 -1,0 -1,-.2 -1,-.4 -1,.1 -1,-.1 -1,.1 -1,-.2 -1,-.6 -1,.7 -1,.8 -1,-.5 -1,-.4 -1,.2 -1,.2 -1,0 -1,-.5 -1,0 -1,.3 -1,-.5 -1,-.1 -1,.8 -1,-.1 -1,-.5 -1,.7 -1,.4 -1,-.1 -1,-.3 -1,-.1 -1,.2 -1,-.5 -1,-.2 -1,.4 -1,.4 -1,.2 -1,0 -1,.1 -1,.3 -1,0 -1,-.4 -1,.1 -1,.8 -1,.6 -1,-.5 -1,-1 -1,-.3 -1,-.1 -1,-.1 -1,.2 -1,.1 -1,.3 -1,.2 -1,.3 -1,.4 -1,-.1 -1,.2 -1,.7 -1,0 -1,-.1 -1,-.1 -1,-.3 -1,-.5 -1,.1 -1,.7 -1,0 -1,-.3 -1,-.3 -1,.4 -1,.9 -1,0 -1,0 -1,.1 -1,.5 -1,.2 -1,-1 -1,-.2 -1,.3 -1,-.6 -1,-.1 -1,.4 -1,-.2 -1,-.4 -1,.4 -1,.7 -1,.4 -1,.5 -1,.1 -1,-.4 -1,-.4 -1,-.1 -1,.3 -1,.5 -1,.4 -1,.1 -1,.1 -1,.1 -1,.2 -1,.4 -1,.2 -1,.2 -1,.2 -1,.1 -1,.4 -1,.4 -1,.3 -1,.6 -1,.5 -1,-.1 -1,.2 -1,.8 -1,.1 -1,0 -1,.5 -1,.4 -1,.4 -1,.7 -1,.6 -1,.2 -1,0 -1,-.1 -1,-.3 -1,.2 -1,.9 -1,.4 -1,.3 -1,.5 -1,0 -1,0 -1,.5 -1,.2 -1,-.1 -1,.5 -1,.9 -1,.4 -1,.4 -1,.3 -1,0 -1,-.1 -1,0 -1,.2 -1,.5 -1,.4 -1,-.2 -1,.1 -1,.3 -1,.4 -1,.1 -1,.1 -1,.3 -1,.1 -1,.2 -1,.3 -1,0 -1,.2 -1,.3 -1,-.3 -1,-.2 -1,.2 -1,.1 -1,.1 -1,.6 -1,.5 -1,-.1 -1,.3 -1,.2 -1,-.1 -1,.5 -1,0 -1,-.7 -1,0 -1,.4 -1,-.3 -1,-.2 -1,.4 -1,.1 -1,-.2 -1,.6 -1,.7 -1,.2 -1,-.1 -1,0 -1,.2 -1,.1 -1,.2 -1,.2 -1,0 -1,-.1 -1,-.2 -1,-.1 -1,.3 -1,.8 -1,.6 -1,-.1 -1,-.1 -1,.3 -1,.3 -1,0 -1,.1 -1,.4 -1,.3 -1,.6 -1,.4 -1,-.1 -1,.5 -1,.5 -1,.1 -1,.2 -1,.1 -1,.2 -1,.3 -1,.3 -1,.1 -1,.3 -1,.4 -1,-.2 -1,-.1 -1,.5 -1,1 -1,.4 -1,0 -1,.6 -1,0 -1,-.1 -1,.3 -1,.4 -1,.4 -1,-.1 -1,-.2 -1,.1 -1,.3 -1,.8 -1,.6 -1,.1 -1,.1 -1,.1 -1,0 -1,.1 -1,.5 -1,.6 -1,-.1 -1,0 -1,.4 -1,.1 -1,-.4 -1,0 -1,.6 -1,.2 -1,-.1 -1,.1 -1,.2 -1,.2 -1,0 -1,-.2 -1,-.2 -1,-.2 -1,0 -1,.1 -1,.1 -1,0 -1,-.4 -1,-.1 -1,.3 -1,.2 -1,-.1 -1,-.1 -1,-.2 -1,-.4 -1,0 -1,-.4 -1,-.5 -1,-.1 -1,.2 -1,0 -1,-.2 -1,-.4 -1,-.7 -1,-.5 -1,-.4 -1,-.4 -1,-.5 -1,-.6 -1,-.4 -1,-.6 -1,-.8 -1,-.7 -1,-.9 -1,-.7z" fill="#35b779" stroke="#35b779" stroke-width=".6"/>
<path class="w" d="M345.3,249.1l1,.9 1,.7 1,.6 1,.9 1,.8 1,.5 1,.6 1,.3 1,.3 1,.6 1,.5 1,.3 1,.5 1,.4 1,.1 1,0 1,.3 1,.3 1,-.1 1,.1 1,.2 1,.2 1,.4 1,.5 1,.3 1,.1 1,-.1 1,.1 1,-.1 1,-.2 1,0 1,0 1,-.2 1,-.1 1,-.1 1,-.1 1,0 1,.2 1,0 1,-.1 1,0 1,-.1 1,-.3 1,-.3 1,-.5 1,-.4 1,.3 1,.3 1,-.2 1,.1 1,.1 1,-.3 1,0 1,-.1 1,-.5 1,-.3 1,-.9 1,-.6 1,-.2 1,-.5 1,-.6 1,.1 1,.3 1,-.5 1,-.6 1,-.2 1,-.2 1,-.4 1,-.5 1,-.6 1,-.4 1,-.1 1,.3 1,.1 1,-.3 1,-.4 1,-.7 1,-.8 1,-.5 1,-.4 1,-.4 1,.1 1,.4 1,-.3 1,-.5 1,-.7 1,-.7 1,-.2 1,0 1,.2 1,-.2 1,-1 1,-.5 1,-.2 1,-.4 1,-.3 1,.1 1,.1 1,-.3 1,-.5 1,-.3 1,-.1 1,.1 1,-.2 1,-.2 1,-.1 1,-.3 1,-.4 1,.1 1,.6 1,-.1 1,-.1 1,.1 1,-.4 1,-.4 1,0 1,0 1,-.2 1,-.3 1,-.3 1,.1 1,-.3 1,-.7 1,-.1 1,.1 1,-.4 1,-.3 1,.2 1,-.1 1,-.3 1,-.3 1,-.4 1,-.2 1,-.3 1,0 1,.2 1,.1 1,-.2 1,.1 1,.3 1,-.6 1,-.9 1,-.3 1,0 1,-.1 1,-.3 1,.1 1,.3 1,-.4 1,-.6 1,-.2 1,0 1,.2 1,-.2 1,-1 1,-1.1 1,.3 1,.6 1,-.3 1,-1.2 1,-.9 1,-.1 1,-.6 1,-.8 1,.1 1,.4 1,-.1 1,-.9 1,-.4 1,-.1 1,-.8 1,-.8 1,-.2 1,.3 1,-.1 1,-.5 1,-.6 1,-.5 1,-.6 1,-.5 1,.3 1,-.1 1,-.7 1,-.4 1,.1 1,0 1,-.6 1,-.8 1,-.7 1,-.6 1,0 1,.1 1,-.2 1,0 1,.1 1,-.2 1,-.2 1,-.1 1,-.3 1,-.2 1,-.4 1,-.2 1,.1 1,0 1,.1 1,.2 1,0 1,-.5 1,-.2 1,.4 1,-.1 1,-.2 1,.1 1,.3 1,-.1 1,-.7 1,-.7 1,.1 1,.6 1,.4 1,-.4 1,-.4 1,.1 1,-.4 1,-.3 1,-.3 1,-.2 1,.4 1,.1 1,-.7 1,-.3 1,.6 1,.3 1,-.8 1,-.3 1,0 1,-.7 1,-.4 1,.5 1,.3 1,.1 1,.1 1,.2 1,-.2 1,-.3 1,.2 1,.6 1,.3 1,0 1,-.9 1,-1.3 1,.2 1,.9 1,0 1,-.1 1,.7 1,0 1,-.5 1,0 1,-.2 1,0 1,.2 1,-.3 1,-.5 1,.2 1,.2 1,.2 1,.3 1,.1 1,.5 1,-.1 1,-.8 1,.3 1,.4 1,-.6 1,-.5 1,.8 1,.4 1,-.7 1,0 1,.2 1,-.2 1,-.1 1,.2 1,.6 1,-.2 1,-.3 1,.2 1,-.3 1,.2 1,.4 1,.2 1,0 1,-.1 1,-.1 1,.1 1,.4 1,0 1,-.4 1,0 1,.1 1,-.5 1,-.2 1.2,.2"/>
<path d="M345.3,259.6l1,.7 1,.9 1,.7 1,.8 1,.6 1,.4 1,.6 1,.5 1,.4 1,.4 1,.5 1,.7 1,.4 1,.2 1,0 1,-.2 1,.1 1,.5 1,.4 1,0 1,.4 1,.2 1,.1 1,.1 1,-.2 1,-.3 1,.1 1,.4 1,0 1,-.1 1,-.1 1,0 1,.2 1,.2 1,.2 1,0 1,-.2 1,-.2 1,-.1 1,.1 1,-.2 1,-.6 1,0 1,.4 1,-.1 1,-.4 1,0 1,.1 1,-.6 1,-.5 1,-.1 1,0 1,-.1 1,-.1 1,-.1 1,-.6 1,-.8 1,-.3 1,-.1 1,.2 1,.1 1,-.4 1,-.4 1,-.3 1,.1 1,0 1,-.6 1,0 1,-.4 1,-1 1,-.5 1,.1 1,.2 1,-.4 1,-.3 1,-.1 1,-.3 1,-.3 1,-.2 1,-.1 1,-.2 1,-.1 1,-.5 1,-.5 1,.1 1,-.4 1,-.6 1,-.3 1,-.4 1,-.1 1,0 1,-.3 1,-.3 1,.1 1,.1 1,-.6 1,-.8 1,-.3 1,.1 1,.2 1,.1 1,0 1,-.2 1,-.2 1,-.1 1,-.2 1,0 1,.1 1,-.2 1,-.7 1,-.6 1,.2 1,-.1 1,-.4 1,.2 1,.3 1,-.4 1,0 1,.7 1,0 1,-.5 1,.1 1,-.2 1,-.3 1,.1 1,-.5 1,-.6 1,-.1 1,-.1 1,-.2 1,.2 1,.3 1,-.3 1,-.2 1,0 1,-.3 1,-.2 1,-.1 1,-.3 1,-.1 1,-.1 1,-.4 1,-.3 1,-.1 1,.2 1,-.4 1,-.5 1,-.2 1,0 1,.1 1,0 1,-.3 1,-.4 1,-.4 1,-.9 1,-.5 1,.1 1,-.2 1,-.5 1,0 1,0 1,-.5 1,-.3 1,-.4 1,-.9 1,-.2 1,.3 1,.1 1,0 1,-.2 1,-.6 1,-.7 1,-.4 1,-.4 1,-.5 1,0 1,-.1 1,-.8 1,-.2 1,.1 1,-.5 1,-.6 1,-.3 1,-.4 1,-.4 1,-.1 1,-.2 1,-.2 1,-.2 1,-.4 1,-.2 1,-.1 1,-.1 1,-.1 1,-.4 1,-.5 1,-.3 1,.1 1,.4 1,.4 1,-.1 1,-.5 1,-.4 1,-.7 1,-.4 1,.4 1,.2 1,-.4 1,.1 1,.6 1,-.3 1,.2 1,1 1,-.2 1,-.5 1,-.1 1,0 1,0 1,-.9 1,-.4 1,.3 1,.3 1,0 1,-.7 1,-.1 1,.5 1,.3 1,.1 1,.1 1,0 1,-.7 1,-.2 1,.1 1,-.4 1,-.3 1,-.2 1,-.3 1,-.1 1,-.2 1,.1 1,.1 1,.3 1,1 1,.5 1,-.6 1,-.8 1,-.1 1,.4 1,0 1,-.3 1,-.1 1,0 1,-.2 1,-.4 1,-.4 1,.2 1,.5 1,-.2 1,.1 1,.3 1,.1 1,-.4 1,-.7 1,.5 1,.1 1,-.8 1,.1 1,.5 1,-.3 1,0 1,.5 1,0 1,-.2 1,-.2 1,.4 1,.5 1,-.8 1,-.7 1,.6 1,.2 1,-.1 1,.1 1,-.1 1,.4 1,.2 1,0 1,-.5 1,-.6 1,.4 1,.4 1,.3 1,-.2 1,-.4 1,.2 1,.2 1,-.6 1,-.5 1,.2 1,.8 1,0 1,-.9 1,0 1,.5 1.2,-.4L649.5,244l-1.2,.5 -1,.7 -1,-.5 -1,-.9 -1,.2 -1,.9 -1,-.1 -1,0 -1,.6 -1,-.2 -1,-.9 -1,-.2 -1,.9 -1,.9 -1,.2 -1,-.2 -1,-.3 -1,-.9 -1,-.9 -1,1 -1,.7 -1,-.5 -1,.5 -1,.8 -1,-.5 -1,-.7 -1,.2 -1,.3 -1,.1 -1,-.1 -1,-.1 -1,0 -1,.3 -1,.3 -1,0 -1,-.5 -1,-.4 -1,-.1 -1,0 -1,0 -1,.5 -1,1.4 -1,.2 -1,-.7 -1,0 -1,-.3 -1,-.8 -1,0 -1,.4 -1,.3 -1,0 -1,-.1 -1,.5 -1,.6 -1,.1 -1,-.6 -1,-1 -1,-.4 -1,-.1 -1,.4 -1,.4 -1,-.2 -1,.1 -1,.5 -1,.2 -1,0 -1,-.3 -1,-.3 -1,.4 -1,.3 -1,-.5 -1,-.3 -1,.8 -1,.7 -1,-.2 -1,-.3 -1,0 -1,-.2 -1,0 -1,-.1 -1,-.3 -1,.6 -1,.6 -1,0 -1,.1 -1,-.1 -1,.1 -1,.4 -1,-.2 -1,-.5 -1,.3 -1,.5 -1,.2 -1,0 -1,-.6 -1,-.5 -1,.5 -1,.7 -1,0 -1,-.2 -1,-.1 -1,.3 -1,.5 -1,-.5 -1,-.7 -1,.2 -1,.4 -1,.5 -1,.2 -1,-.3 -1,.2 -1,0 -1,-.2 -1,.1 -1,.4 -1,.8 -1,.7 -1,.6 -1,0 -1,-.1 -1,.4 -1,0 -1,0 -1,.7 -1,.8 -1,.2 -1,-.1 -1,-.1 -1,.2 -1,.6 -1,.5 -1,.4 -1,.4 -1,.1 -1,-.3 -1,.2 -1,.9 -1,.7 -1,0 -1,.4 -1,.8 -1,.1 -1,0 -1,.3 -1,.2 -1,0 -1,.4 -1,.3 -1,.2 -1,.8 -1,.4 -1,-.2 -1,.1 -1,.2 -1,.2 -1,.6 -1,.3 -1,-.3 -1,.1 -1,.3 -1,.1 -1,-.1 -1,.5 -1,.3 -1,-.3 -1,-.4 -1,.1 -1,.4 -1,.3 -1,0 -1,.1 -1,.1 -1,-.2 -1,.2 -1,.5 -1,-.1 -1,0 -1,.3 -1,.1 -1,.2 -1,.3 -1,-.3 -1,-.3 -1,.3 -1,.6 -1,.2 -1,-.4 -1,-.1 -1,.4 -1,.6 -1,0 -1,0 -1,.4 -1,-.1 -1,-.5 -1,.1 -1,.4 -1,.4 -1,.1 -1,-.1 -1,-.1 -1,.2 -1,.6 -1,.4 -1,.2 -1,0 -1,-.1 -1,-.2 -1,.1 -1,.3 -1,.1 -1,.4 -1,.4 -1,-.1 -1,0 -1,.3 -1,.6 -1,.1 -1,-.1 -1,0 -1,.2 -1,.3 -1,.3 -1,.5 -1,.4 -1,.2 -1,-.1 -1,-.2 -1,.4 -1,.7 -1,.1 -1,0 -1,.5 -1,.5 -1,0 -1,0 -1,.4 -1,.6 -1,0 -1,-.4 -1,-.1 -1,.3 -1,.4 -1,.3 -1,.1 -1,-.2 -1,.5 -1,1.1 -1,.1 -1,-.5 -1,0 -1,.5 -1,.6 -1,.4 -1,.1 -1,0 -1,0 -1,0 -1,-.1 -1,.1 -1,.4 -1,.1 -1,-.2 -1,.2 -1,.3 -1,.1 -1,.2 -1,0 -1,-.5 -1,.1 -1,.6 -1,.2 -1,-.6 -1,-.3 -1,.3 -1,.1 -1,.2 -1,.4 -1,-.3 -1,-.7 -1,-.3 -1,-.1 -1,-.1 -1,.1 -1,.2 -1,-.2 -1,-.5 -1,-.2 -1,-.1 -1,-.2 -1,-.1 -1,-.2 -1,-.6 -1,-.3 -1,-.1 -1,-.4 -1,-.4 -1,-.2 -1,-.6 -1,-.9 -1,-.9 -1,-.8 -1,-.5 -1,-.3z" fill="#29af7f" stroke="#29af7f" stroke-width=".6"/>
<path class="w" d="M345.3,259.6l1,.7 1,.9 1,.7 1,.8 1,.6 1,.4 1,.6 1,.5 1,.4 1,.4 1,.5 1,.7 1,.4 1,.2 1,0 1,-.2 1,.1 1,.5 1,.4 1,0 1,.4 1,.2 1,.1 1,.1 1,-.2 1,-.3 1,.1 1,.4 1,0 1,-.1 1,-.1 1,0 1,.2 1,.2 1,.2 1,0 1,-.2 1,-.2 1,-.1 1,.1 1,-.2 1,-.6 1,0 1,.4 1,-.1 1,-.4 1,0 1,.1 1,-.6 1,-.5 1,-.1 1,0 1,-.1 1,-.1 1,-.1 1,-.6 1,-.8 1,-.3 1,-.1 1,.2 1,.1 1,-.4 1,-.4 1,-.3 1,.1 1,0 1,-.6 1,0 1,-.4 1,-1 1,-.5 1,.1 1,.2 1,-.4 1,-.3 1,-.1 1,-.3 1,-.3 1,-.2 1,-.1 1,-.2 1,-.1 1,-.5 1,-.5 1,.1 1,-.4 1,-.6 1,-.3 1,-.4 1,-.1 1,0 1,-.3 1,-.3 1,.1 1,.1 1,-.6 1,-.8 1,-.3 1,.1 1,.2 1,.1 1,0 1,-.2 1,-.2 1,-.1 1,-.2 1,0 1,.1 1,-.2 1,-.7 1,-.6 1,.2 1,-.1 1,-.4 1,.2 1,.3 1,-.4 1,0 1,.7 1,0 1,-.5 1,.1 1,-.2 1,-.3 1,.1 1,-.5 1,-.6 1,-.1 1,-.1 1,-.2 1,.2 1,.3 1,-.3 1,-.2 1,0 1,-.3 1,-.2 1,-.1 1,-.3 1,-.1 1,-.1 1,-.4 1,-.3 1,-.1 1,.2 1,-.4 1,-.5 1,-.2 1,0 1,.1 1,0 1,-.3 1,-.4 1,-.4 1,-.9 1,-.5 1,.1 1,-.2 1,-.5 1,0 1,0 1,-.5 1,-.3 1,-.4 1,-.9 1,-.2 1,.3 1,.1 1,0 1,-.2 1,-.6 1,-.7 1,-.4 1,-.4 1,-.5 1,0 1,-.1 1,-.8 1,-.2 1,.1 1,-.5 1,-.6 1,-.3 1,-.4 1,-.4 1,-.1 1,-.2 1,-.2 1,-.2 1,-.4 1,-.2 1,-.1 1,-.1 1,-.1 1,-.4 1,-.5 1,-.3 1,.1 1,.4 1,.4 1,-.1 1,-.5 1,-.4 1,-.7 1,-.4 1,.4 1,.2 1,-.4 1,.1 1,.6 1,-.3 1,.2 1,1 1,-.2 1,-.5 1,-.1 1,0 1,0 1,-.9 1,-.4 1,.3 1,.3 1,0 1,-.7 1,-.1 1,.5 1,.3 1,.1 1,.1 1,0 1,-.7 1,-.2 1,.1 1,-.4 1,-.3 1,-.2 1,-.3 1,-.1 1,-.2 1,.1 1,.1 1,.3 1,1 1,.5 1,-.6 1,-.8 1,-.1 1,.4 1,0 1,-.3 1,-.1 1,0 1,-.2 1,-.4 1,-.4 1,.2 1,.5 1,-.2 1,.1 1,.3 1,.1 1,-.4 1,-.7 1,.5 1,.1 1,-.8 1,.1 1,.5 1,-.3 1,0 1,.5 1,0 1,-.2 1,-.2 1,.4 1,.5 1,-.8 1,-.7 1,.6 1,.2 1,-.1 1,.1 1,-.1 1,.4 1,.2 1,0 1,-.5 1,-.6 1,.4 1,.4 1,.3 1,-.2 1,-.4 1,.2 1,.2 1,-.6 1,-.5 1,.2 1,.8 1,0 1,-.9 1,0 1,.5 1.2,-.4"/>
<path d="M345.3,270l1,.3 1,.5 1,.8 1,.9 1,.9 1,.6 1,.2 1,.4 1,.4 1,.1 1,.3 1,.6 1,.2 1,.1 1,.2 1,.1 1,.2 1,.5 1,.2 1,-.2 1,-.1 1,.1 1,.1 1,.3 1,.7 1,.3 1,-.4 1,-.2 1,-.1 1,-.3 1,.3 1,.6 1,-.2 1,-.6 1,-.1 1,.5 1,0 1,-.2 1,-.1 1,-.3 1,-.2 1,.2 1,-.1 1,-.4 1,-.1 1,.1 1,0 1,0 1,0 1,-.1 1,-.4 1,-.6 1,-.5 1,0 1,.5 1,-.1 1,-1.1 1,-.5 1,.2 1,-.1 1,-.3 1,-.4 1,-.3 1,.1 1,.4 1,0 1,-.6 1,-.4 1,0 1,0 1,-.5 1,-.5 1,0 1,-.1 1,-.7 1,-.4 1,.2 1,.1 1,-.2 1,-.4 1,-.5 1,-.3 1,-.3 1,-.2 1,0 1,.1 1,-.1 1,-.6 1,-.3 1,0 1,.1 1,-.4 1,-.4 1,-.1 1,-.3 1,-.1 1,.2 1,.1 1,0 1,-.2 1,-.4 1,-.6 1,-.2 1,.1 1,.1 1,-.1 1,-.4 1,-.4 1,-.1 1,.5 1,.1 1,-.4 1,0 1,0 1,-.6 1,-.4 1,.1 1,.4 1,-.2 1,-.6 1,-.3 1,.3 1,.3 1,-.3 1,-.2 1,-.1 1,-.3 1,0 1,.1 1,-.5 1,-.2 1,.2 1,-.1 1,-.1 1,0 1,-.3 1,-.4 1,-.1 1,.4 1,.3 1,-.3 1,-.5 1,.1 1,-.1 1,-.3 1,-.1 1,.3 1,-.3 1,-.6 1,-.2 1,-.2 1,-.1 1,.2 1,-.4 1,-.8 1,-.2 1,-.3 1,-.4 1,0 1,-.2 1,-.3 1,0 1,-.1 1,-.8 1,-.4 1,0 1,-.7 1,-.9 1,-.2 1,.3 1,-.1 1,-.4 1,-.4 1,-.5 1,-.6 1,-.2 1,.1 1,.1 1,-.2 1,-.8 1,-.7 1,0 1,0 1,-.4 1,.1 1,0 1,-.6 1,-.7 1,-.8 1,-.4 1,-.1 1,.2 1,0 1,-.2 1,.3 1,-.2 1,-.5 1,-.4 1,-.2 1,.7 1,.5 1,-.5 1,-.3 1,.1 1,.2 1,0 1,-.7 1,-.5 1,.5 1,.6 1,0 1,-.2 1,-.5 1,-.3 1,.5 1,.2 1,-.4 1,-.1 1,.1 1,-.1 1,0 1,-.6 1,-.6 1,.3 1,.1 1,0 1,.2 1,0 1,.3 1,.2 1,-.7 1,-.8 1,.3 1,.5 1,-.3 1,-.4 1,.3 1,.3 1,0 1,-.2 1,-.5 1,-.1 1,.2 1,-.4 1,-.4 1,.1 1,.4 1,1 1,.6 1,-.1 1,-.6 1,-.5 1,.1 1,0 1,-.3 1,-.4 1,0 1,.8 1,.3 1,0 1,.7 1,-.2 1,-1.4 1,-.5 1,0 1,0 1,.1 1,.4 1,.5 1,0 1,-.3 1,-.3 1,0 1,.1 1,.1 1,-.1 1,-.3 1,-.2 1,.7 1,.5 1,-.8 1,-.5 1,.5 1,-.7 1,-1 1,.9 1,.9 1,.3 1,.2 1,-.2 1,-.9 1,-.9 1,.2 1,.9 1,.2 1,-.6 1,0 1,.1 1,-.9 1,-.2 1,.9 1,.5 1,-.7 1.2,-.5L649.5,255.6l-1.2,.7 -1,-.8 -1,-1 -1,.3 -1,.4 -1,-.2 -1,.1 -1,.4 -1,.5 -1,-.6 -1,-.7 -1,.6 -1,.4 -1,-.5 -1,-.1 -1,.4 -1,.2 -1,-.2 -1,0 -1,.4 -1,.5 -1,.7 -1,0 -1,-1 -1,-.5 -1,.4 -1,.5 -1,-.4 -1,-.6 -1,0 -1,0 -1,-.2 -1,0 -1,.3 -1,.5 -1,.2 -1,-.4 -1,-.2 -1,0 -1,.1 -1,.1 -1,-.3 -1,-.1 -1,0 -1,-.2 -1,.3 -1,.3 -1,.5 -1,-.1 -1,0 -1,.6 -1,.3 -1,.1 -1,-.3 -1,-.6 -1,-.2 -1,.4 -1,.1 -1,-.2 -1,-.1 -1,.3 -1,.4 -1,-.3 -1,-.5 -1,.5 -1,.6 -1,-.1 -1,-.3 -1,-.1 -1,0 -1,.1 -1,-.3 -1,-.2 -1,.2 -1,.6 -1,.5 -1,.1 -1,-.4 -1,-.1 -1,-.1 -1,0 -1,.7 -1,.9 -1,-.1 -1,-1 -1,0 -1,.8 -1,-.1 -1,-.6 -1,-.1 -1,.3 -1,.1 -1,0 -1,-.1 -1,0 -1,.6 -1,0 -1,-.4 -1,0 -1,.1 -1,.3 -1,.1 -1,-.2 -1,.1 -1,-.1 -1,-.7 -1,0 -1,.8 -1,.3 -1,-.1 -1,-.1 -1,.1 -1,.7 -1,.2 -1,-.1 -1,.4 -1,.1 -1,-.2 -1,.4 -1,.6 -1,.1 -1,.2 -1,.6 -1,.5 -1,.2 -1,-.5 -1,.1 -1,.8 -1,.4 -1,-.2 -1,.3 -1,.3 -1,.4 -1,.9 -1,.1 -1,-.3 -1,0 -1,.5 -1,.8 -1,.5 -1,-.1 -1,-.1 -1,.5 -1,.6 -1,.3 -1,0 -1,.9 -1,.7 -1,-.4 -1,-.4 -1,.2 -1,.1 -1,0 -1,.1 -1,.1 -1,.2 -1,.2 -1,.1 -1,.3 -1,.4 -1,0 -1,.1 -1,.4 -1,-.1 -1,-.3 -1,.6 -1,.3 -1,-.4 -1,.2 -1,.5 -1,.3 -1,.2 -1,-.3 -1,-.4 -1,.1 -1,.5 -1,-.2 -1,-.1 -1,.8 -1,.5 -1,-.5 -1,-.5 -1,.5 -1,.3 -1,-.3 -1,.3 -1,.3 -1,0 -1,.1 -1,.1 -1,-.2 -1,0 -1,.2 -1,0 -1,0 -1,.3 -1,.2 -1,-.1 -1,.1 -1,.1 -1,.1 -1,.3 -1,.1 -1,-.4 -1,-.3 -1,.2 -1,.3 -1,.4 -1,.1 -1,-.3 -1,.4 -1,.7 -1,.1 -1,-.1 -1,.3 -1,1 -1,0 -1,-.4 -1,0 -1,.4 -1,.3 -1,0 -1,.1 -1,.1 -1,0 -1,.3 -1,0 -1,.1 -1,.5 -1,.5 -1,.2 -1,0 -1,.1 -1,.1 -1,.2 -1,.4 -1,.2 -1,-.3 -1,.1 -1,.5 -1,.3 -1,.3 -1,.3 -1,-.1 -1,0 -1,.5 -1,.3 -1,.4 -1,.6 -1,-.3 -1,-.4 -1,0 -1,.1 -1,.5 -1,.8 -1,.1 -1,0 -1,.1 -1,.1 -1,.3 -1,0 -1,-.2 -1,0 -1,.1 -1,0 -1,.1 -1,0 -1,.1 -1,.1 -1,.2 -1,0 -1,-.1 -1,-.3 -1,-.2 -1,.2 -1,0 -1,0 -1,.3 -1,.1 -1,-.1 -1,-.4 -1,-.4 -1,0 -1,.1 -1,0 -1,-.3 -1,-.4 -1,-.2 -1,-.1 -1,-.2 -1,0 -1,-.1 -1,-.4 -1,-.2 -1,-.2 -1,-.4 -1,-.6 -1,-.6 -1,-.4 -1,-.5 -1,-.5 -1,-.6 -1,-.8 -1,-.4z" fill="#21a685" stroke="#21a685" stroke-width=".6"/>
<path class="w" d="M345.3,270l1,.3 1,.5 1,.8 1,.9 1,.9 1,.6 1,.2 1,.4 1,.4 1,.1 1,.3 1,.6 1,.2 1,.1 1,.2 1,.1 1,.2 1,.5 1,.2 1,-.2 1,-.1 1,.1 1,.1 1,.3 1,.7 1,.3 1,-.4 1,-.2 1,-.1 1,-.3 1,.3 1,.6 1,-.2 1,-.6 1,-.1 1,.5 1,0 1,-.2 1,-.1 1,-.3 1,-.2 1,.2 1,-.1 1,-.4 1,-.1 1,.1 1,0 1,0 1,0 1,-.1 1,-.4 1,-.6 1,-.5 1,0 1,.5 1,-.1 1,-1.1 1,-.5 1,.2 1,-.1 1,-.3 1,-.4 1,-.3 1,.1 1,.4 1,0 1,-.6 1,-.4 1,0 1,0 1,-.5 1,-.5 1,0 1,-.1 1,-.7 1,-.4 1,.2 1,.1 1,-.2 1,-.4 1,-.5 1,-.3 1,-.3 1,-.2 1,0 1,.1 1,-.1 1,-.6 1,-.3 1,0 1,.1 1,-.4 1,-.4 1,-.1 1,-.3 1,-.1 1,.2 1,.1 1,0 1,-.2 1,-.4 1,-.6 1,-.2 1,.1 1,.1 1,-.1 1,-.4 1,-.4 1,-.1 1,.5 1,.1 1,-.4 1,0 1,0 1,-.6 1,-.4 1,.1 1,.4 1,-.2 1,-.6 1,-.3 1,.3 1,.3 1,-.3 1,-.2 1,-.1 1,-.3 1,0 1,.1 1,-.5 1,-.2 1,.2 1,-.1 1,-.1 1,0 1,-.3 1,-.4 1,-.1 1,.4 1,.3 1,-.3 1,-.5 1,.1 1,-.1 1,-.3 1,-.1 1,.3 1,-.3 1,-.6 1,-.2 1,-.2 1,-.1 1,.2 1,-.4 1,-.8 1,-.2 1,-.3 1,-.4 1,0 1,-.2 1,-.3 1,0 1,-.1 1,-.8 1,-.4 1,0 1,-.7 1,-.9 1,-.2 1,.3 1,-.1 1,-.4 1,-.4 1,-.5 1,-.6 1,-.2 1,.1 1,.1 1,-.2 1,-.8 1,-.7 1,0 1,0 1,-.4 1,.1 1,0 1,-.6 1,-.7 1,-.8 1,-.4 1,-.1 1,.2 1,0 1,-.2 1,.3 1,-.2 1,-.5 1,-.4 1,-.2 1,.7 1,.5 1,-.5 1,-.3 1,.1 1,.2 1,0 1,-.7 1,-.5 1,.5 1,.6 1,0 1,-.2 1,-.5 1,-.3 1,.5 1,.2 1,-.4 1,-.1 1,.1 1,-.1 1,0 1,-.6 1,-.6 1,.3 1,.1 1,0 1,.2 1,0 1,.3 1,.2 1,-.7 1,-.8 1,.3 1,.5 1,-.3 1,-.4 1,.3 1,.3 1,0 1,-.2 1,-.5 1,-.1 1,.2 1,-.4 1,-.4 1,.1 1,.4 1,1 1,.6 1,-.1 1,-.6 1,-.5 1,.1 1,0 1,-.3 1,-.4 1,0 1,.8 1,.3 1,0 1,.7 1,-.2 1,-1.4 1,-.5 1,0 1,0 1,.1 1,.4 1,.5 1,0 1,-.3 1,-.3 1,0 1,.1 1,.1 1,-.1 1,-.3 1,-.2 1,.7 1,.5 1,-.8 1,-.5 1,.5 1,-.7 1,-1 1,.9 1,.9 1,.3 1,.2 1,-.2 1,-.9 1,-.9 1,.2 1,.9 1,.2 1,-.6 1,0 1,.1 1,-.9 1,-.2 1,.9 1,.5 1,-.7 1.2,-.5"/>
<path d="M345.3,276.9l1,.4 1,.8 1,.6 1,.5 1,.5 1,.4 1,.6 1,.6 1,.4 1,.2 1,.2 1,.4 1,.1 1,0 1,.2 1,.1 1,.2 1,.4 1,.3 1,0 1,-.1 1,0 1,.4 1,.4 1,.1 1,-.1 1,-.3 1,0 1,0 1,-.2 1,.2 1,.3 1,.1 1,0 1,-.2 1,-.1 1,-.1 1,0 1,-.1 1,0 1,-.1 1,0 1,.2 1,0 1,-.3 1,-.1 1,-.1 1,0 1,-.1 1,-.8 1,-.5 1,-.1 1,0 1,.4 1,.3 1,-.6 1,-.4 1,-.3 1,-.5 1,0 1,.1 1,-.3 1,-.3 1,-.3 1,-.5 1,-.1 1,.3 1,-.2 1,-.4 1,-.2 1,-.1 1,-.1 1,0 1,-.2 1,-.5 1,-.5 1,-.1 1,0 1,-.3 1,0 1,-.1 1,-.1 1,0 1,-.3 1,-.4 1,0 1,.4 1,0 1,-1 1,-.3 1,.1 1,-.1 1,-.7 1,-.4 1,.3 1,-.1 1,-.4 1,-.3 1,-.2 1,.3 1,.4 1,-.1 1,-.3 1,-.1 1,-.1 1,-.1 1,.1 1,-.2 1,-.3 1,0 1,0 1,-.2 1,0 1,.2 1,-.1 1,-.1 1,0 1,-.3 1,-.3 1,.3 1,-.3 1,-.5 1,.5 1,.5 1,-.5 1,-.8 1,.1 1,.2 1,-.5 1,-.1 1,.4 1,.3 1,-.2 1,-.3 1,-.5 1,-.2 1,.4 1,-.3 1,-.6 1,.3 1,.1 1,-.4 1,-.1 1,0 1,-.4 1,-.3 1,-.1 1,-.2 1,-.2 1,-.1 1,-.1 1,0 1,-.1 1,-.2 1,.4 1,.4 1,-.7 1,-.9 1,0 1,-.3 1,-.6 1,-.5 1,.1 1,.1 1,-.5 1,-.8 1,-.5 1,0 1,.3 1,-.1 1,-.9 1,-.4 1,-.3 1,-.3 1,.2 1,-.4 1,-.8 1,-.1 1,.5 1,-.2 1,-.5 1,-.6 1,-.2 1,-.1 1,-.6 1,-.4 1,.2 1,-.1 1,-.4 1,.1 1,-.2 1,-.7 1,-.1 1,.1 1,.1 1,-.3 1,-.8 1,0 1,.7 1,.1 1,-.1 1,.2 1,-.1 1,-.3 1,-.1 1,0 1,.4 1,0 1,-.6 1,0 1,.1 1,0 1,-.1 1,-.3 1,.1 1,.6 1,.1 1,-.8 1,0 1,1 1,.1 1,-.9 1,-.7 1,0 1,.1 1,.1 1,.4 1,-.1 1,-.5 1,-.6 1,-.2 1,.2 1,.3 1,-.1 1,0 1,.1 1,.3 1,.1 1,-.6 1,-.5 1,.5 1,.3 1,-.4 1,-.3 1,.1 1,.2 1,-.1 1,-.4 1,.2 1,.6 1,.3 1,-.1 1,-.3 1,-.6 1,0 1,.1 1,-.5 1,-.3 1,-.3 1,.2 1,0 1,.1 1,.3 1,-.1 1,-.1 1,0 1,.2 1,.4 1,-.2 1,-.5 1,-.3 1,0 1,.2 1,0 1,0 1,.6 1,.4 1,-.5 1,-.4 1,.5 1,1 1,0 1,-.7 1,-.5 1,-.4 1,0 1,.2 1,-.2 1,-.4 1,.1 1,.5 1,-.4 1,-.6 1,.7 1,.6 1,-.5 1,-.4 1,-.1 1,.2 1,-.4 1,-.3 1,1 1,.8 1.2,-.7L649.5,265.1l-1.2,.3 -1,.3 -1,-.5 -1,-.2 -1,.9 -1,0 -1,-.5 -1,.1 -1,-.1 -1,.1 -1,.4 -1,-.6 -1,-.3 -1,.5 -1,.1 -1,-.7 -1,0 -1,.4 -1,.2 -1,.1 -1,.6 -1,.4 -1,-.5 -1,-.4 -1,-.1 -1,-.1 -1,.2 -1,0 -1,.2 -1,.2 -1,-.1 -1,.2 -1,0 -1,.1 -1,.1 -1,-.7 -1,-.2 -1,.2 -1,.2 -1,.3 -1,.1 -1,-.4 -1,-.1 -1,0 -1,-.4 -1,.1 -1,.4 -1,-.1 -1,-.1 -1,.3 -1,-.2 -1,0 -1,.5 -1,0 -1,.1 -1,.7 -1,.3 -1,-.6 -1,-.6 -1,-.2 -1,.1 -1,.3 -1,.5 -1,.3 -1,-.6 -1,-.3 -1,.3 -1,-.3 -1,.3 -1,.7 -1,-.1 -1,-.5 -1,0 -1,.5 -1,.4 -1,-.6 -1,-.2 -1,.2 -1,.2 -1,.3 -1,0 -1,.6 -1,.6 -1,-.4 -1,-.3 -1,-.2 -1,-.1 -1,0 -1,-.1 -1,.1 -1,-.1 -1,.3 -1,.9 -1,.1 -1,-.5 -1,-.7 -1,-.1 -1,.1 -1,.1 -1,-.1 -1,-.2 -1,.3 -1,.3 -1,-.1 -1,.3 -1,.5 -1,.1 -1,-.2 -1,.1 -1,.1 -1,-.2 -1,-.1 -1,.4 -1,.4 -1,.2 -1,.1 -1,.1 -1,.2 -1,.5 -1,.5 -1,.3 -1,-.1 -1,-.2 -1,.2 -1,.6 -1,-.2 -1,0 -1,1 -1,.9 -1,-.1 -1,-.2 -1,.2 -1,.1 -1,.1 -1,.6 -1,1 -1,.4 -1,-.1 -1,-.4 -1,.1 -1,1 -1,.6 -1,-.1 -1,-.2 -1,.1 -1,.8 -1,.5 -1,.1 -1,.2 -1,-.1 -1,-.1 -1,.6 -1,.1 -1,-.3 -1,.3 -1,.6 -1,.4 -1,-.1 -1,-.2 -1,.4 -1,.5 -1,.2 -1,.2 -1,-.1 -1,-.3 -1,0 -1,-.1 -1,-.5 -1,-.3 -1,.4 -1,.4 -1,0 -1,.3 -1,.2 -1,-.1 -1,.3 -1,.1 -1,.1 -1,0 -1,-.2 -1,.2 -1,.6 -1,.1 -1,-.1 -1,.1 -1,.1 -1,.3 -1,.1 -1,-.3 -1,-.1 -1,.2 -1,.4 -1,.2 -1,.1 -1,0 -1,-.2 -1,0 -1,.3 -1,-.2 -1,-.3 -1,.2 -1,.3 -1,-.2 -1,-.1 -1,.2 -1,.6 -1,.9 -1,.4 -1,-.3 -1,-.1 -1,-.1 -1,0 -1,.3 -1,.2 -1,0 -1,.2 -1,.5 -1,.6 -1,.3 -1,0 -1,-.3 -1,-.4 -1,.5 -1,.2 -1,-.3 -1,.5 -1,.6 -1,.3 -1,-.2 -1,-.1 -1,.5 -1,.1 -1,-.3 -1,0 -1,.4 -1,.1 -1,-.4 -1,.1 -1,.4 -1,.2 -1,0 -1,.3 -1,.2 -1,0 -1,-.3 -1,-.1 -1,.3 -1,.6 -1,.4 -1,.3 -1,.7 -1,.3 -1,.1 -1,.2 -1,0 -1,.1 -1,.3 -1,0 -1,-.3 -1,-.1 -1,.4 -1,.7 -1,.3 -1,-.2 -1,-.3 -1,.1 -1,.1 -1,0 -1,.1 -1,.2 -1,.1 -1,-.2 -1,-.1 -1,0 -1,-.1 -1,-.2 -1,-.1 -1,-.1 -1,-.1 -1,0 -1,-.2 -1,.1 -1,.2 -1,.1 -1,.1 -1,-.2 -1,-.5 -1,-.5 -1,-.1 -1,.1 -1,-.1 -1,-.5 -1,-.6 -1,-.2 -1,.1 -1,-.3 -1,-.5 -1,-.7 -1,-.7 -1,-.2 -1,0 -1,-.4 -1,-.7 -1,-.7z" fill="#1e9b8a" stroke="#1e9b8a" stroke-width=".6"/>
<path class="w" d="M345.3,276.9l1,.4 1,.8 1,.6 1,.5 1,.5 1,.4 1,.6 1,.6 1,.4 1,.2 1,.2 1,.4 1,.1 1,0 1,.2 1,.1 1,.2 1,.4 1,.3 1,0 1,-.1 1,0 1,.4 1,.4 1,.1 1,-.1 1,-.3 1,0 1,0 1,-.2 1,.2 1,.3 1,.1 1,0 1,-.2 1,-.1 1,-.1 1,0 1,-.1 1,0 1,-.1 1,0 1,.2 1,0 1,-.3 1,-.1 1,-.1 1,0 1,-.1 1,-.8 1,-.5 1,-.1 1,0 1,.4 1,.3 1,-.6 1,-.4 1,-.3 1,-.5 1,0 1,.1 1,-.3 1,-.3 1,-.3 1,-.5 1,-.1 1,.3 1,-.2 1,-.4 1,-.2 1,-.1 1,-.1 1,0 1,-.2 1,-.5 1,-.5 1,-.1 1,0 1,-.3 1,0 1,-.1 1,-.1 1,0 1,-.3 1,-.4 1,0 1,.4 1,0 1,-1 1,-.3 1,.1 1,-.1 1,-.7 1,-.4 1,.3 1,-.1 1,-.4 1,-.3 1,-.2 1,.3 1,.4 1,-.1 1,-.3 1,-.1 1,-.1 1,-.1 1,.1 1,-.2 1,-.3 1,0 1,0 1,-.2 1,0 1,.2 1,-.1 1,-.1 1,0 1,-.3 1,-.3 1,.3 1,-.3 1,-.5 1,.5 1,.5 1,-.5 1,-.8 1,.1 1,.2 1,-.5 1,-.1 1,.4 1,.3 1,-.2 1,-.3 1,-.5 1,-.2 1,.4 1,-.3 1,-.6 1,.3 1,.1 1,-.4 1,-.1 1,0 1,-.4 1,-.3 1,-.1 1,-.2 1,-.2 1,-.1 1,-.1 1,0 1,-.1 1,-.2 1,.4 1,.4 1,-.7 1,-.9 1,0 1,-.3 1,-.6 1,-.5 1,.1 1,.1 1,-.5 1,-.8 1,-.5 1,0 1,.3 1,-.1 1,-.9 1,-.4 1,-.3 1,-.3 1,.2 1,-.4 1,-.8 1,-.1 1,.5 1,-.2 1,-.5 1,-.6 1,-.2 1,-.1 1,-.6 1,-.4 1,.2 1,-.1 1,-.4 1,.1 1,-.2 1,-.7 1,-.1 1,.1 1,.1 1,-.3 1,-.8 1,0 1,.7 1,.1 1,-.1 1,.2 1,-.1 1,-.3 1,-.1 1,0 1,.4 1,0 1,-.6 1,0 1,.1 1,0 1,-.1 1,-.3 1,.1 1,.6 1,.1 1,-.8 1,0 1,1 1,.1 1,-.9 1,-.7 1,0 1,.1 1,.1 1,.4 1,-.1 1,-.5 1,-.6 1,-.2 1,.2 1,.3 1,-.1 1,0 1,.1 1,.3 1,.1 1,-.6 1,-.5 1,.5 1,.3 1,-.4 1,-.3 1,.1 1,.2 1,-.1 1,-.4 1,.2 1,.6 1,.3 1,-.1 1,-.3 1,-.6 1,0 1,.1 1,-.5 1,-.3 1,-.3 1,.2 1,0 1,.1 1,.3 1,-.1 1,-.1 1,0 1,.2 1,.4 1,-.2 1,-.5 1,-.3 1,0 1,.2 1,0 1,0 1,.6 1,.4 1,-.5 1,-.4 1,.5 1,1 1,0 1,-.7 1,-.5 1,-.4 1,0 1,.2 1,-.2 1,-.4 1,.1 1,.5 1,-.4 1,-.6 1,.7 1,.6 1,-.5 1,-.4 1,-.1 1,.2 1,-.4 1,-.3 1,1 1,.8 1.2,-.7"/>
<path d="M345.3,285.4l1,.7 1,.7 1,.4 1,0 1,.2 1,.7 1,.7 1,.5 1,.3 1,-.1 1,.2 1,.6 1,.5 1,.1 1,-.1 1,.1 1,.5 1,.5 1,.2 1,-.1 1,-.1 1,-.2 1,-.1 1,.2 1,0 1,.1 1,.1 1,.1 1,.2 1,.1 1,0 1,.1 1,.2 1,-.1 1,-.2 1,-.1 1,0 1,-.1 1,-.1 1,.3 1,.2 1,-.3 1,-.7 1,-.4 1,.1 1,.3 1,0 1,-.3 1,-.1 1,0 1,-.2 1,-.1 1,-.3 1,-.7 1,-.3 1,-.4 1,-.6 1,-.3 1,.1 1,.3 1,0 1,-.2 1,-.3 1,0 1,-.2 1,-.4 1,-.1 1,.4 1,-.1 1,-.4 1,0 1,.3 1,-.1 1,-.5 1,.1 1,.2 1,-.3 1,-.6 1,-.5 1,.3 1,-.2 1,-.5 1,.4 1,.3 1,0 1,-.3 1,-.6 1,-.5 1,-.2 1,0 1,-.2 1,-.3 1,0 1,.1 1,.1 1,.3 1,-.4 1,-.9 1,-.6 1,-.2 1,.1 1,.2 1,-.3 1,-.2 1,.3 1,.2 1,-.3 1,0 1,.2 1,0 1,-.1 1,-.2 1,-.4 1,-.2 1,.1 1,.3 1,-.1 1,-.3 1,-.1 1,-.1 1,.1 1,-.1 1,-.6 1,-.2 1,.2 1,0 1,-.1 1,-.1 1,-.3 1,.1 1,-.2 1,-.3 1,0 1,-.4 1,-.4 1,.3 1,.5 1,.1 1,0 1,.3 1,.1 1,-.2 1,-.2 1,-.5 1,-.4 1,.2 1,.1 1,-.4 1,-.6 1,-.3 1,.3 1,-.1 1,-.6 1,.1 1,.1 1,-.2 1,-.1 1,-.5 1,-.8 1,-.1 1,.2 1,.1 1,-.6 1,-1 1,-.1 1,.4 1,.1 1,-.4 1,-1 1,-.6 1,-.1 1,-.1 1,-.2 1,.2 1,.1 1,-.9 1,-1 1,0 1,.2 1,-.6 1,-.2 1,.2 1,.1 1,-.3 1,-.5 1,-.5 1,-.2 1,-.1 1,-.1 1,-.2 1,-.4 1,-.4 1,.1 1,.2 1,-.1 1,-.1 1,.2 1,-.1 1,-.5 1,-.3 1,.1 1,-.3 1,-.3 1,.2 1,.1 1,-.1 1,-.1 1,.1 1,.7 1,.5 1,-.1 1,-.9 1,-.3 1,.1 1,-.1 1,.1 1,0 1,.1 1,.2 1,.3 1,.4 1,-.6 1,-.6 1,0 1,-.3 1,-.2 1,-.2 1,.2 1,.6 1,-.4 1,-.5 1,0 1,.5 1,.1 1,-.7 1,-.3 1,.3 1,-.3 1,.3 1,.6 1,-.3 1,-.5 1,-.3 1,-.1 1,.2 1,.6 1,.6 1,-.3 1,-.7 1,-.1 1,0 1,-.5 1,0 1,.2 1,-.3 1,.1 1,.1 1,-.4 1,-.1 1,.4 1,0 1,.1 1,.4 1,-.1 1,-.3 1,-.2 1,-.2 1,.2 1,.7 1,-.1 1,-.1 1,0 1,-.2 1,.1 1,-.2 1,-.2 1,0 1,-.2 1,.1 1,.1 1,.4 1,.5 1,-.4 1,-.6 1,-.1 1,-.2 1,-.4 1,0 1,.7 1,-.1 1,-.5 1,.3 1,.6 1,-.4 1,-.1 1,.1 1,-.1 1,.5 1,0 1,-.9 1,.2 1,.5 1,-.3 1.2,-.3L649.5,277.4l-1.2,.1 -1,-.2 -1,-.3 -1,.4 -1,.4 -1,-.4 -1,-.6 -1,0 -1,.4 -1,0 -1,-.1 -1,.1 -1,.1 -1,.1 -1,.4 -1,0 -1,-.2 -1,.2 -1,-.1 -1,-.3 -1,.8 -1,.2 -1,-.8 -1,-.7 -1,-.1 -1,.3 -1,.5 -1,.3 -1,.1 -1,0 -1,-.1 -1,-.2 -1,.2 -1,-.1 -1,-.4 -1,.2 -1,-.1 -1,.2 -1,.4 -1,.1 -1,0 -1,0 -1,.1 -1,.7 -1,-.4 -1,-.7 -1,.5 -1,.9 -1,.2 -1,-.5 -1,-.4 -1,0 -1,0 -1,0 -1,0 -1,0 -1,.5 -1,.8 -1,.1 -1,-.6 -1,-.3 -1,-.4 -1,-.2 -1,.7 -1,-.1 -1,-.3 -1,.4 -1,.5 -1,0 -1,-.1 -1,-.1 -1,-.5 -1,-.3 -1,.2 -1,.5 -1,.6 -1,0 -1,-.4 -1,0 -1,.3 -1,0 -1,-.4 -1,.2 -1,.1 -1,-.2 -1,.2 -1,-.1 -1,-.1 -1,.4 -1,-.1 -1,.2 -1,.3 -1,-.2 -1,-.2 -1,0 -1,.2 -1,.2 -1,0 -1,-.3 -1,-.2 -1,.7 -1,.4 -1,-.4 -1,-.3 -1,.2 -1,-.3 -1,-.2 -1,0 -1,.1 -1,.2 -1,.3 -1,.2 -1,.1 -1,.1 -1,.3 -1,.3 -1,.5 -1,.3 -1,0 -1,.1 -1,.1 -1,.8 -1,.4 -1,-.2 -1,.1 -1,0 -1,.1 -1,.1 -1,.3 -1,.5 -1,.5 -1,.2 -1,.3 -1,.6 -1,.2 -1,.1 -1,.5 -1,.3 -1,-.3 -1,-.2 -1,-.1 -1,-.2 -1,.6 -1,1 -1,.5 -1,-.1 -1,0 -1,.3 -1,.1 -1,-.1 -1,.4 -1,.7 -1,.6 -1,-.2 -1,-.7 -1,-.2 -1,0 -1,.5 -1,.6 -1,-.2 -1,0 -1,.3 -1,.3 -1,.1 -1,.1 -1,.1 -1,.2 -1,.2 -1,.2 -1,-.2 -1,-.5 -1,.2 -1,.5 -1,.2 -1,.2 -1,.1 -1,-.5 -1,-.5 -1,.4 -1,.4 -1,-.1 -1,0 -1,0 -1,.1 -1,.2 -1,.1 -1,-.1 -1,.1 -1,.1 -1,.1 -1,-.1 -1,0 -1,.4 -1,.5 -1,0 -1,-.3 -1,-.2 -1,.2 -1,.4 -1,.1 -1,-.3 -1,.1 -1,.3 -1,-.2 -1,-.3 -1,.6 -1,.7 -1,-.1 -1,-.2 -1,.1 -1,.1 -1,-.1 -1,.1 -1,.4 -1,.4 -1,-.1 -1,0 -1,.4 -1,.1 -1,.1 -1,.4 -1,.3 -1,.1 -1,.2 -1,.3 -1,.3 -1,.2 -1,-.3 -1,-.2 -1,.3 -1,0 -1,.4 -1,.3 -1,0 -1,.2 -1,.2 -1,.2 -1,-.1 -1,-.5 -1,0 -1,.4 -1,.2 -1,.1 -1,.3 -1,.3 -1,.4 -1,-.1 -1,0 -1,.3 -1,-.2 -1,.2 -1,.5 -1,.4 -1,0 -1,0 -1,.3 -1,.2 -1,-.4 -1,-.2 -1,.4 -1,.4 -1,0 -1,-.2 -1,0 -1,.3 -1,-.1 -1,-.4 -1,0 -1,.2 -1,0 -1,-.5 -1,-.2 -1,.3 -1,.2 -1,.1 -1,0 -1,0 -1,.1 -1,-.2 -1,-.3 -1,-.1 -1,0 -1,-.1 -1,0 -1,-.1 -1,-.2 -1,-.4 -1,-.5 -1,-.1 -1,.3 -1,-.4 -1,-.9 -1,-.1 -1,.1 -1,-.2 -1,-.3 -1,-.4 -1,-.6 -1,-.5 -1,-.2 -1,-.2 -1,-.6 -1,-.7 -1,-.3z" fill="#21918c" stroke="#21918c" stroke-width=".6"/>
<path class="w" d="M345.3,285.4l1,.7 1,.7 1,.4 1,0 1,.2 1,.7 1,.7 1,.5 1,.3 1,-.1 1,.2 1,.6 1,.5 1,.1 1,-.1 1,.1 1,.5 1,.5 1,.2 1,-.1 1,-.1 1,-.2 1,-.1 1,.2 1,0 1,.1 1,.1 1,.1 1,.2 1,.1 1,0 1,.1 1,.2 1,-.1 1,-.2 1,-.1 1,0 1,-.1 1,-.1 1,.3 1,.2 1,-.3 1,-.7 1,-.4 1,.1 1,.3 1,0 1,-.3 1,-.1 1,0 1,-.2 1,-.1 1,-.3 1,-.7 1,-.3 1,-.4 1,-.6 1,-.3 1,.1 1,.3 1,0 1,-.2 1,-.3 1,0 1,-.2 1,-.4 1,-.1 1,.4 1,-.1 1,-.4 1,0 1,.3 1,-.1 1,-.5 1,.1 1,.2 1,-.3 1,-.6 1,-.5 1,.3 1,-.2 1,-.5 1,.4 1,.3 1,0 1,-.3 1,-.6 1,-.5 1,-.2 1,0 1,-.2 1,-.3 1,0 1,.1 1,.1 1,.3 1,-.4 1,-.9 1,-.6 1,-.2 1,.1 1,.2 1,-.3 1,-.2 1,.3 1,.2 1,-.3 1,0 1,.2 1,0 1,-.1 1,-.2 1,-.4 1,-.2 1,.1 1,.3 1,-.1 1,-.3 1,-.1 1,-.1 1,.1 1,-.1 1,-.6 1,-.2 1,.2 1,0 1,-.1 1,-.1 1,-.3 1,.1 1,-.2 1,-.3 1,0 1,-.4 1,-.4 1,.3 1,.5 1,.1 1,0 1,.3 1,.1 1,-.2 1,-.2 1,-.5 1,-.4 1,.2 1,.1 1,-.4 1,-.6 1,-.3 1,.3 1,-.1 1,-.6 1,.1 1,.1 1,-.2 1,-.1 1,-.5 1,-.8 1,-.1 1,.2 1,.1 1,-.6 1,-1 1,-.1 1,.4 1,.1 1,-.4 1,-1 1,-.6 1,-.1 1,-.1 1,-.2 1,.2 1,.1 1,-.9 1,-1 1,0 1,.2 1,-.6 1,-.2 1,.2 1,.1 1,-.3 1,-.5 1,-.5 1,-.2 1,-.1 1,-.1 1,-.2 1,-.4 1,-.4 1,.1 1,.2 1,-.1 1,-.1 1,.2 1,-.1 1,-.5 1,-.3 1,.1 1,-.3 1,-.3 1,.2 1,.1 1,-.1 1,-.1 1,.1 1,.7 1,.5 1,-.1 1,-.9 1,-.3 1,.1 1,-.1 1,.1 1,0 1,.1 1,.2 1,.3 1,.4 1,-.6 1,-.6 1,0 1,-.3 1,-.2 1,-.2 1,.2 1,.6 1,-.4 1,-.5 1,0 1,.5 1,.1 1,-.7 1,-.3 1,.3 1,-.3 1,.3 1,.6 1,-.3 1,-.5 1,-.3 1,-.1 1,.2 1,.6 1,.6 1,-.3 1,-.7 1,-.1 1,0 1,-.5 1,0 1,.2 1,-.3 1,.1 1,.1 1,-.4 1,-.1 1,.4 1,0 1,.1 1,.4 1,-.1 1,-.3 1,-.2 1,-.2 1,.2 1,.7 1,-.1 1,-.1 1,0 1,-.2 1,.1 1,-.2 1,-.2 1,0 1,-.2 1,.1 1,.1 1,.4 1,.5 1,-.4 1,-.6 1,-.1 1,-.2 1,-.4 1,0 1,.7 1,-.1 1,-.5 1,.3 1,.6 1,-.4 1,-.1 1,.1 1,-.1 1,.5 1,0 1,-.9 1,.2 1,.5 1,-.3 1.2,-.3"/>
<path d="M345.3,294.4l1,.3 1,.7 1,.6 1,.2 1,.2 1,.5 1,.6 1,.4 1,.3 1,.2 1,-.1 1,.1 1,.9 1,.4 1,-.3 1,.1 1,.5 1,.4 1,.2 1,.1 1,0 1,.1 1,0 1,.1 1,.3 1,.2 1,-.1 1,0 1,0 1,-.1 1,-.2 1,-.3 1,.2 1,.5 1,0 1,-.2 1,0 1,.4 1,.1 1,-.3 1,0 1,.2 1,0 1,-.4 1,-.4 1,.2 1,.4 1,-.2 1,-.3 1,0 1,0 1,-.4 1,-.5 1,-.2 1,.2 1,-.3 1,0 1,.1 1,-.4 1,-.3 1,-.3 1,-.1 1,-.2 1,-.4 1,0 1,.5 1,.1 1,-.2 1,-.2 1,-.2 1,0 1,-.3 1,-.4 1,0 1,-.3 1,.2 1,.3 1,-.2 1,-.3 1,-.3 1,-.2 1,-.1 1,-.3 1,-.4 1,-.1 1,-.1 1,-.4 1,0 1,.1 1,-.4 1,-.4 1,-.1 1,.1 1,-.1 1,-.1 1,.2 1,.1 1,-.7 1,-.6 1,.3 1,.2 1,-.3 1,-.1 1,.3 1,-.1 1,-.4 1,-.2 1,.2 1,.3 1,0 1,-.5 1,-.4 1,0 1,.1 1,-.1 1,-.1 1,-.1 1,.1 1,-.1 1,-.2 1,-.1 1,0 1,0 1,.1 1,-.4 1,-.4 1,.5 1,.5 1,-.1 1,-.2 1,-.2 1,-.5 1,-.2 1,.5 1,.2 1,-.2 1,-.2 1,-.2 1,-.1 1,-.1 1,-.1 1,-.3 1,-.3 1,0 1,.2 1,-.6 1,-.5 1,0 1,.2 1,.7 1,.2 1,-.6 1,-.7 1,-.4 1,.1 1,-.1 1,-.3 1,0 1,.1 1,-.5 1,-1 1,-.6 1,.2 1,.1 1,.2 1,.3 1,-.3 1,-.5 1,-.1 1,-.2 1,-.6 1,-.3 1,-.2 1,-.5 1,-.5 1,-.3 1,-.1 1,-.1 1,0 1,-.1 1,.2 1,-.4 1,-.8 1,-.1 1,-.1 1,0 1,-.3 1,-.5 1,-.3 1,-.3 1,-.1 1,-.1 1,-.2 1,-.3 1,-.2 1,-.1 1,0 1,.2 1,.3 1,-.2 1,.3 1,.4 1,-.4 1,-.7 1,.2 1,.3 1,0 1,-.2 1,-.2 1,0 1,.2 1,.2 1,-.3 1,-.2 1,.1 1,-.4 1,.1 1,.1 1,-.2 1,.2 1,-.1 1,-.2 1,.4 1,0 1,-.3 1,0 1,.4 1,0 1,-.6 1,-.5 1,-.2 1,.3 1,.5 1,.1 1,.1 1,0 1,-.5 1,-.4 1,.3 1,.1 1,-.7 1,.2 1,.4 1,.3 1,.6 1,-.1 1,-.8 1,-.5 1,0 1,0 1,0 1,0 1,0 1,.4 1,.5 1,-.2 1,-.9 1,-.5 1,.7 1,.4 1,-.7 1,-.1 1,0 1,0 1,-.1 1,-.4 1,-.2 1,.1 1,-.2 1,.4 1,.1 1,-.2 1,.2 1,.1 1,0 1,-.1 1,-.3 1,-.5 1,-.3 1,.1 1,.7 1,.8 1,-.2 1,-.8 1,.3 1,.1 1,-.2 1,.2 1,0 1,-.4 1,-.1 1,-.1 1,-.1 1,.1 1,0 1,-.4 1,0 1,.6 1,.4 1,-.4 1,-.4 1,.3 1,.2 1.2,-.1L649.5,290.9l-1.2,0 -1,.3 -1,.4 -1,-.3 -1,-1.2 -1,-.1 -1,1.1 -1,.7 -1,-.6 -1,-1.1 -1,.5 -1,1 -1,-.1 -1,-.4 -1,.6 -1,.6 -1,-.7 -1,-.9 -1,.3 -1,.6 -1,.1 -1,.5 -1,.4 -1,-.6 -1,-.2 -1,.4 -1,.3 -1,0 -1,.1 -1,-.3 -1,-1.2 -1,-.1 -1,1.1 -1,.1 -1,-.4 -1,.5 -1,.9 -1,.3 -1,-1.2 -1,-1.1 -1,.1 -1,.3 -1,.3 -1,1.2 -1,.5 -1,-1 -1,-.5 -1,.5 -1,0 -1,-.8 -1,-.5 -1,.1 -1,.7 -1,.9 -1,.1 -1,-.5 -1,-.1 -1,.6 -1,.4 -1,-.1 -1,-.6 -1,-.3 -1,.3 -1,.2 -1,.2 -1,-.3 -1,-.7 -1,.2 -1,.4 -1,-.4 -1,.1 -1,.6 -1,.1 -1,-.3 -1,-.4 -1,-.1 -1,1.2 -1,1.3 -1,-.2 -1,-.4 -1,0 -1,-.2 -1,0 -1,0 -1,-.4 -1,-.5 -1,.5 -1,.5 -1,-.2 -1,.3 -1,0 -1,-.5 -1,.3 -1,.1 -1,-.2 -1,.2 -1,0 -1,-.3 -1,-.2 -1,.3 -1,.1 -1,-.4 -1,0 -1,.5 -1,0 -1,-.4 -1,.1 -1,.2 -1,-.3 -1,-.4 -1,.1 -1,.5 -1,.5 -1,.3 -1,.1 -1,0 -1,.4 -1,.7 -1,.8 -1,0 -1,.2 -1,.7 -1,0 -1,-.5 -1,.2 -1,.6 -1,.1 -1,-.1 -1,.4 -1,.2 -1,.1 -1,.7 -1,.8 -1,-.1 -1,-.3 -1,-.3 -1,.1 -1,.6 -1,.9 -1,.2 -1,-.4 -1,.2 -1,.8 -1,.3 -1,-.4 -1,.1 -1,.4 -1,.5 -1,.8 -1,-.1 -1,-.2 -1,.2 -1,0 -1,.2 -1,.4 -1,-.3 -1,0 -1,.3 -1,.1 -1,.1 -1,-.2 -1,.3 -1,.8 -1,.5 -1,.2 -1,-.3 -1,.1 -1,0 -1,-.4 -1,-.2 -1,0 -1,.2 -1,.4 -1,.3 -1,.1 -1,0 -1,-.1 -1,-.1 -1,.2 -1,0 -1,.2 -1,.4 -1,-.1 -1,0 -1,0 -1,-.4 -1,.1 -1,.3 -1,0 -1,.2 -1,.7 -1,.2 -1,-.2 -1,.1 -1,.4 -1,-.1 -1,-.3 -1,.2 -1,0 -1,-.2 -1,.1 -1,0 -1,-.2 -1,.5 -1,.3 -1,-.2 -1,.1 -1,.2 -1,.2 -1,.4 -1,0 -1,-.1 -1,-.2 -1,.2 -1,.4 -1,.3 -1,0 -1,-.1 -1,0 -1,.3 -1,.7 -1,.2 -1,-.5 -1,.3 -1,.5 -1,-.2 -1,0 -1,.2 -1,.4 -1,.2 -1,-.1 -1,.5 -1,.1 -1,-.6 -1,0 -1,.7 -1,.3 -1,-.2 -1,.1 -1,0 -1,.3 -1,.2 -1,0 -1,.1 -1,0 -1,.4 -1,.3 -1,-.3 -1,-.1 -1,.1 -1,.6 -1,.4 -1,-.4 -1,-.4 -1,.3 -1,.4 -1,.2 -1,-.1 -1,-.1 -1,.3 -1,.3 -1,-.2 -1,-.4 -1,-.1 -1,.3 -1,.3 -1,0 -1,-.3 -1,-.3 -1,-.2 -1,-.1 -1,0 -1,-.2 -1,.1 -1,0 -1,-.1 -1,-.1 -1,-.2 -1,-.3 -1,0 -1,.1 -1,-.2 -1,-.1 -1,-.2 -1,-.2 -1,0 -1,-.2 -1,-.2 -1,-.1 -1,-.1 -1,-.2 -1,-.3 -1,-.1 -1,-.2 -1,-.4 -1,-.5 -1,-.4 -1,0 -1,-.1 -1,-.8 -1,-.6 -1,-.4 -1,-.3 -1,-.2z" fill="#24868e" stroke="#24868e" stroke-width=".6"/>
<path class="w" d="M345.3,294.4l1,.3 1,.7 1,.6 1,.2 1,.2 1,.5 1,.6 1,.4 1,.3 1,.2 1,-.1 1,.1 1,.9 1,.4 1,-.3 1,.1 1,.5 1,.4 1,.2 1,.1 1,0 1,.1 1,0 1,.1 1,.3 1,.2 1,-.1 1,0 1,0 1,-.1 1,-.2 1,-.3 1,.2 1,.5 1,0 1,-.2 1,0 1,.4 1,.1 1,-.3 1,0 1,.2 1,0 1,-.4 1,-.4 1,.2 1,.4 1,-.2 1,-.3 1,0 1,0 1,-.4 1,-.5 1,-.2 1,.2 1,-.3 1,0 1,.1 1,-.4 1,-.3 1,-.3 1,-.1 1,-.2 1,-.4 1,0 1,.5 1,.1 1,-.2 1,-.2 1,-.2 1,0 1,-.3 1,-.4 1,0 1,-.3 1,.2 1,.3 1,-.2 1,-.3 1,-.3 1,-.2 1,-.1 1,-.3 1,-.4 1,-.1 1,-.1 1,-.4 1,0 1,.1 1,-.4 1,-.4 1,-.1 1,.1 1,-.1 1,-.1 1,.2 1,.1 1,-.7 1,-.6 1,.3 1,.2 1,-.3 1,-.1 1,.3 1,-.1 1,-.4 1,-.2 1,.2 1,.3 1,0 1,-.5 1,-.4 1,0 1,.1 1,-.1 1,-.1 1,-.1 1,.1 1,-.1 1,-.2 1,-.1 1,0 1,0 1,.1 1,-.4 1,-.4 1,.5 1,.5 1,-.1 1,-.2 1,-.2 1,-.5 1,-.2 1,.5 1,.2 1,-.2 1,-.2 1,-.2 1,-.1 1,-.1 1,-.1 1,-.3 1,-.3 1,0 1,.2 1,-.6 1,-.5 1,0 1,.2 1,.7 1,.2 1,-.6 1,-.7 1,-.4 1,.1 1,-.1 1,-.3 1,0 1,.1 1,-.5 1,-1 1,-.6 1,.2 1,.1 1,.2 1,.3 1,-.3 1,-.5 1,-.1 1,-.2 1,-.6 1,-.3 1,-.2 1,-.5 1,-.5 1,-.3 1,-.1 1,-.1 1,0 1,-.1 1,.2 1,-.4 1,-.8 1,-.1 1,-.1 1,0 1,-.3 1,-.5 1,-.3 1,-.3 1,-.1 1,-.1 1,-.2 1,-.3 1,-.2 1,-.1 1,0 1,.2 1,.3 1,-.2 1,.3 1,.4 1,-.4 1,-.7 1,.2 1,.3 1,0 1,-.2 1,-.2 1,0 1,.2 1,.2 1,-.3 1,-.2 1,.1 1,-.4 1,.1 1,.1 1,-.2 1,.2 1,-.1 1,-.2 1,.4 1,0 1,-.3 1,0 1,.4 1,0 1,-.6 1,-.5 1,-.2 1,.3 1,.5 1,.1 1,.1 1,0 1,-.5 1,-.4 1,.3 1,.1 1,-.7 1,.2 1,.4 1,.3 1,.6 1,-.1 1,-.8 1,-.5 1,0 1,0 1,0 1,0 1,0 1,.4 1,.5 1,-.2 1,-.9 1,-.5 1,.7 1,.4 1,-.7 1,-.1 1,0 1,0 1,-.1 1,-.4 1,-.2 1,.1 1,-.2 1,.4 1,.1 1,-.2 1,.2 1,.1 1,0 1,-.1 1,-.3 1,-.5 1,-.3 1,.1 1,.7 1,.8 1,-.2 1,-.8 1,.3 1,.1 1,-.2 1,.2 1,0 1,-.4 1,-.1 1,-.1 1,-.1 1,.1 1,0 1,-.4 1,0 1,.6 1,.4 1,-.4 1,-.4 1,.3 1,.2 1.2,-.1"/>
<path d="M345.3,307.4l1,.2 1,.3 1,.4 1,.6 1,.8 1,.1 1,0 1,.4 1,.5 1,.4 1,.2 1,.1 1,.3 1,.2 1,.1 1,.1 1,.2 1,.2 1,0 1,.2 1,.2 1,.1 1,.2 1,-.1 1,0 1,.3 1,.2 1,.1 1,.1 1,0 1,-.1 1,.2 1,0 1,.1 1,.2 1,.3 1,.3 1,0 1,-.3 1,-.3 1,.1 1,.4 1,.2 1,-.3 1,-.3 1,.1 1,.1 1,-.2 1,-.4 1,-.3 1,.4 1,.4 1,-.4 1,-.6 1,-.1 1,.1 1,.3 1,-.3 1,-.4 1,0 1,-.1 1,0 1,-.2 1,-.3 1,0 1,-.1 1,.2 1,-.3 1,-.7 1,0 1,.6 1,-.1 1,-.5 1,.1 1,-.2 1,-.4 1,-.2 1,0 1,.2 1,-.5 1,-.3 1,.5 1,-.2 1,-.7 1,-.3 1,0 1,.1 1,0 1,-.3 1,-.4 1,-.2 1,.2 1,.1 1,0 1,-.4 1,-.2 1,-.2 1,-.1 1,.2 1,-.3 1,-.5 1,.2 1,0 1,-.1 1,.2 1,0 1,-.2 1,.3 1,.1 1,-.4 1,-.1 1,.2 1,-.2 1,-.7 1,-.2 1,0 1,-.3 1,-.1 1,.4 1,0 1,0 1,.1 1,-.4 1,-.2 1,0 1,-.2 1,.1 1,.1 1,0 1,-.1 1,-.3 1,-.4 1,-.2 1,0 1,.2 1,.4 1,0 1,-.1 1,.3 1,-.2 1,-.5 1,-.8 1,-.3 1,.2 1,-.1 1,-.1 1,-.3 1,0 1,.3 1,-.4 1,-.2 1,0 1,-.2 1,.2 1,.1 1,-.8 1,-.5 1,-.4 1,-.1 1,.4 1,-.3 1,-.8 1,-.2 1,.4 1,-.2 1,-.9 1,-.6 1,-.1 1,.3 1,.3 1,.1 1,-.8 1,-.7 1,-.1 1,-.2 1,-.4 1,.1 1,-.1 1,-.6 1,-.2 1,.5 1,0 1,-.7 1,-.2 1,0 1,-.8 1,-.7 1,-.4 1,0 1,-.1 1,-.3 1,-.5 1,-.5 1,-.1 1,.4 1,.3 1,-.2 1,-.1 1,.4 1,0 1,-.5 1,0 1,.4 1,-.1 1,-.3 1,.2 1,.3 1,0 1,-.2 1,.2 1,-.1 1,-.3 1,.5 1,0 1,-.3 1,.2 1,-.5 1,-.5 1,.5 1,.4 1,0 1,0 1,.2 1,0 1,.4 1,.2 1,-1.3 1,-1.2 1,.1 1,.4 1,.3 1,-.1 1,-.6 1,-.1 1,.4 1,-.4 1,-.2 1,.7 1,.3 1,-.2 1,-.2 1,-.3 1,.3 1,.6 1,.1 1,-.4 1,-.6 1,.1 1,.5 1,-.1 1,-.9 1,-.7 1,-.1 1,.5 1,.8 1,0 1,-.5 1,.5 1,1 1,-.5 1,-1.2 1,-.3 1,-.3 1,-.1 1,1.1 1,1.2 1,-.3 1,-.9 1,-.5 1,.4 1,-.1 1,-1.1 1,.1 1,1.2 1,.3 1,-.1 1,0 1,-.3 1,-.4 1,.2 1,.6 1,-.4 1,-.5 1,-.1 1,-.6 1,-.3 1,.9 1,.7 1,-.6 1,-.6 1,.4 1,.1 1,-1 1,-.5 1,1.1 1,.6 1,-.7 1,-1.1 1,.1 1,1.2 1,.3 1,-.4 1,-.3 1.2,0L649.5,295.8l-1.2,0 -1,.2 -1,-.7 -1,.1 -1,.7 -1,.5 -1,.3 -1,-.1 -1,-.3 -1,-.1 -1,.5 -1,0 -1,-.3 -1,.8 -1,.6 -1,-1.2 -1,-.5 -1,.9 -1,.3 -1,-.1 -1,-.4 -1,.3 -1,.4 -1,-.7 -1,-.6 -1,.3 -1,.4 -1,-.1 -1,-.2 -1,.1 -1,0 -1,.3 -1,.6 -1,0 -1,-.5 -1,-.1 -1,-.1 -1,0 -1,.3 -1,.2 -1,-.1 -1,-.2 -1,0 -1,.1 -1,.4 -1,.4 -1,0 -1,.3 -1,.4 -1,-.7 -1,-.2 -1,.4 -1,.4 -1,0 -1,.1 -1,-.1 -1,.1 -1,.3 -1,-.5 -1,-.5 -1,.4 -1,.7 -1,.1 -1,-.7 -1,-.5 -1,.3 -1,.2 -1,0 -1,.3 -1,0 -1,-.7 -1,-.1 -1,.3 -1,-.1 -1,-.2 -1,-.1 -1,0 -1,.4 -1,.1 -1,-.2 -1,.1 -1,-.1 -1,0 -1,.2 -1,.2 -1,.1 -1,-.1 -1,0 -1,.4 -1,.1 -1,-.4 -1,-.3 -1,0 -1,.3 -1,.4 -1,-.2 -1,.2 -1,.4 -1,-.7 -1,-.6 -1,.3 -1,-.2 -1,-.6 -1,.2 -1,.4 -1,.1 -1,.1 -1,.4 -1,.1 -1,-.1 -1,.5 -1,.4 -1,-.2 -1,.1 -1,.4 -1,0 -1,-.3 -1,-.2 -1,.3 -1,.9 -1,.7 -1,0 -1,0 -1,.5 -1,.1 -1,-.1 -1,.2 -1,.6 -1,-.1 -1,-.5 -1,-.3 -1,.2 -1,.7 -1,.4 -1,.2 -1,.3 -1,.4 -1,.5 -1,.8 -1,.2 -1,-.3 -1,.2 -1,.5 -1,-.1 -1,-.2 -1,.3 -1,.3 -1,.5 -1,.3 -1,-.7 -1,.2 -1,1.1 -1,-.1 -1,-.3 -1,.2 -1,0 -1,.3 -1,-.2 -1,-.1 -1,.2 -1,.2 -1,.4 -1,-.1 -1,-.2 -1,0 -1,.2 -1,.2 -1,0 -1,.1 -1,.5 -1,.3 -1,-.3 -1,-.4 -1,-.2 -1,.4 -1,.7 -1,-.2 -1,-.3 -1,.3 -1,.3 -1,.1 -1,.2 -1,-.1 -1,-.2 -1,.1 -1,.2 -1,.1 -1,.1 -1,.2 -1,0 -1,-.1 -1,.1 -1,0 -1,0 -1,.1 -1,-.2 -1,-.2 -1,.4 -1,.3 -1,0 -1,0 -1,.4 -1,-.2 -1,-.4 -1,.1 -1,0 -1,.3 -1,.1 -1,-.1 -1,.5 -1,.5 -1,0 -1,0 -1,.1 -1,.2 -1,-.1 -1,.1 -1,.4 -1,.2 -1,-.3 -1,.2 -1,.3 -1,.3 -1,.2 -1,-.2 -1,-.3 -1,.3 -1,.6 -1,.2 -1,0 -1,-.3 -1,-.1 -1,.2 -1,0 -1,-.1 -1,.4 -1,.1 -1,-.3 -1,.2 -1,.3 -1,.2 -1,0 -1,0 -1,0 -1,.1 -1,.2 -1,.2 -1,.2 -1,.1 -1,0 -1,.3 -1,.4 -1,.2 -1,.1 -1,-.2 -1,-.2 -1,.3 -1,.2 -1,-.2 -1,.1 -1,0 -1,-.4 -1,-.3 -1,.4 -1,.4 -1,-.3 -1,-.5 -1,.1 -1,.1 -1,-.5 -1,-.6 -1,.2 -1,.6 -1,.1 -1,0 -1,-.3 -1,-.3 -1,-.4 -1,0 -1,.4 -1,0 -1,-.3 -1,-.1 -1,-.2 -1,-.4 -1,-.4 -1,-.1 -1,.4 -1,.2 -1,-.6 -1,-.5 -1,.1 -1,.1 -1,-.6 -1,-.4 -1,-.1 -1,-.4 -1,-.3 -1,-.3 -1,-.5 -1,-.5 -1,-.5 -1,-.4 -1,-.3z" fill="#287d8e" stroke="#287d8e" stroke-width=".6"/>
<path class="w" d="M345.3,307.4l1,.2 1,.3 1,.4 1,.6 1,.8 1,.1 1,0 1,.4 1,.5 1,.4 1,.2 1,.1 1,.3 1,.2 1,.1 1,.1 1,.2 1,.2 1,0 1,.2 1,.2 1,.1 1,.2 1,-.1 1,0 1,.3 1,.2 1,.1 1,.1 1,0 1,-.1 1,.2 1,0 1,.1 1,.2 1,.3 1,.3 1,0 1,-.3 1,-.3 1,.1 1,.4 1,.2 1,-.3 1,-.3 1,.1 1,.1 1,-.2 1,-.4 1,-.3 1,.4 1,.4 1,-.4 1,-.6 1,-.1 1,.1 1,.3 1,-.3 1,-.4 1,0 1,-.1 1,0 1,-.2 1,-.3 1,0 1,-.1 1,.2 1,-.3 1,-.7 1,0 1,.6 1,-.1 1,-.5 1,.1 1,-.2 1,-.4 1,-.2 1,0 1,.2 1,-.5 1,-.3 1,.5 1,-.2 1,-.7 1,-.3 1,0 1,.1 1,0 1,-.3 1,-.4 1,-.2 1,.2 1,.1 1,0 1,-.4 1,-.2 1,-.2 1,-.1 1,.2 1,-.3 1,-.5 1,.2 1,0 1,-.1 1,.2 1,0 1,-.2 1,.3 1,.1 1,-.4 1,-.1 1,.2 1,-.2 1,-.7 1,-.2 1,0 1,-.3 1,-.1 1,.4 1,0 1,0 1,.1 1,-.4 1,-.2 1,0 1,-.2 1,.1 1,.1 1,0 1,-.1 1,-.3 1,-.4 1,-.2 1,0 1,.2 1,.4 1,0 1,-.1 1,.3 1,-.2 1,-.5 1,-.8 1,-.3 1,.2 1,-.1 1,-.1 1,-.3 1,0 1,.3 1,-.4 1,-.2 1,0 1,-.2 1,.2 1,.1 1,-.8 1,-.5 1,-.4 1,-.1 1,.4 1,-.3 1,-.8 1,-.2 1,.4 1,-.2 1,-.9 1,-.6 1,-.1 1,.3 1,.3 1,.1 1,-.8 1,-.7 1,-.1 1,-.2 1,-.4 1,.1 1,-.1 1,-.6 1,-.2 1,.5 1,0 1,-.7 1,-.2 1,0 1,-.8 1,-.7 1,-.4 1,0 1,-.1 1,-.3 1,-.5 1,-.5 1,-.1 1,.4 1,.3 1,-.2 1,-.1 1,.4 1,0 1,-.5 1,0 1,.4 1,-.1 1,-.3 1,.2 1,.3 1,0 1,-.2 1,.2 1,-.1 1,-.3 1,.5 1,0 1,-.3 1,.2 1,-.5 1,-.5 1,.5 1,.4 1,0 1,0 1,.2 1,0 1,.4 1,.2 1,-1.3 1,-1.2 1,.1 1,.4 1,.3 1,-.1 1,-.6 1,-.1 1,.4 1,-.4 1,-.2 1,.7 1,.3 1,-.2 1,-.2 1,-.3 1,.3 1,.6 1,.1 1,-.4 1,-.6 1,.1 1,.5 1,-.1 1,-.9 1,-.7 1,-.1 1,.5 1,.8 1,0 1,-.5 1,.5 1,1 1,-.5 1,-1.2 1,-.3 1,-.3 1,-.1 1,1.1 1,1.2 1,-.3 1,-.9 1,-.5 1,.4 1,-.1 1,-1.1 1,.1 1,1.2 1,.3 1,-.1 1,0 1,-.3 1,-.4 1,.2 1,.6 1,-.4 1,-.5 1,-.1 1,-.6 1,-.3 1,.9 1,.7 1,-.6 1,-.6 1,.4 1,.1 1,-1 1,-.5 1,1.1 1,.6 1,-.7 1,-1.1 1,.1 1,1.2 1,.3 1,-.4 1,-.3 1.2,0"/>
<path d="M345.3,309.3l1,.3 1,.4 1,.5 1,.5 1,.5 1,.3 1,.3 1,.4 1,.1 1,.4 1,.6 1,-.1 1,-.1 1,.5 1,.6 1,-.2 1,-.4 1,.1 1,.4 1,.4 1,.2 1,.1 1,.3 1,0 1,-.4 1,0 1,.4 1,.3 1,.3 1,0 1,-.1 1,-.6 1,-.2 1,.6 1,.5 1,-.1 1,-.1 1,.5 1,.3 1,-.4 1,-.4 1,.3 1,.4 1,0 1,-.1 1,.2 1,-.2 1,-.3 1,.2 1,.2 1,-.1 1,-.2 1,-.4 1,-.3 1,0 1,-.1 1,-.2 1,-.2 1,-.2 1,-.1 1,0 1,0 1,0 1,-.2 1,-.3 1,-.2 1,.3 1,-.1 1,-.4 1,.1 1,0 1,-.2 1,.1 1,.3 1,0 1,-.2 1,-.6 1,-.3 1,.3 1,.2 1,-.2 1,-.3 1,-.3 1,-.2 1,.3 1,-.2 1,-.4 1,-.1 1,.1 1,-.2 1,-.1 1,0 1,0 1,-.5 1,-.5 1,.1 1,-.1 1,-.3 1,0 1,-.1 1,.4 1,.2 1,-.4 1,0 1,0 1,-.3 1,-.4 1,.2 1,.2 1,-.1 1,0 1,0 1,-.1 1,.1 1,0 1,-.2 1,-.1 1,-.1 1,-.2 1,-.1 1,.2 1,.1 1,-.2 1,-.1 1,-.3 1,-.3 1,.3 1,.2 1,-.7 1,-.4 1,.2 1,.4 1,.3 1,-.3 1,-.5 1,-.1 1,0 1,-.2 1,-.2 1,0 1,.2 1,.1 1,-.4 1,-.2 1,-.2 1,.1 1,.2 1,-.3 1,0 1,-.2 1,.3 1,.1 1,-1.1 1,-.2 1,.7 1,-.3 1,-.5 1,-.3 1,-.3 1,.2 1,.1 1,-.5 1,-.2 1,.3 1,-.2 1,-.8 1,-.5 1,-.4 1,-.3 1,-.2 1,-.4 1,-.7 1,-.2 1,.3 1,.5 1,.1 1,-.6 1,-.2 1,.1 1,-.1 1,-.5 1,0 1,0 1,-.7 1,-.9 1,-.3 1,.2 1,.3 1,0 1,-.4 1,-.1 1,.2 1,-.4 1,-.5 1,.1 1,-.1 1,-.4 1,-.1 1,-.1 1,-.4 1,-.2 1,.6 1,.2 1,-.3 1,.6 1,.7 1,-.4 1,-.2 1,.2 1,-.4 1,-.3 1,0 1,.3 1,.4 1,-.1 1,-.4 1,0 1,.1 1,-.1 1,-.2 1,-.2 1,0 1,.1 1,-.1 1,.2 1,-.1 1,-.4 1,0 1,.1 1,.2 1,.1 1,-.3 1,.1 1,.7 1,0 1,-.3 1,0 1,-.2 1,-.3 1,.5 1,.7 1,-.1 1,-.7 1,-.4 1,.5 1,.5 1,-.3 1,-.1 1,.1 1,-.1 1,0 1,-.4 1,-.4 1,.2 1,.7 1,-.4 1,-.3 1,0 1,-.4 1,-.4 1,-.1 1,0 1,.2 1,.1 1,-.2 1,-.3 1,0 1,.1 1,.1 1,.5 1,0 1,-.6 1,-.3 1,0 1,-.1 1,.2 1,.1 1,-.4 1,-.3 1,.6 1,.7 1,-.4 1,-.3 1,.4 1,.1 1,-.3 1,-.9 1,.5 1,1.2 1,-.6 1,-.8 1,.3 1,0 1,-.5 1,.1 1,.3 1,.1 1,-.3 1,-.5 1,-.7 1,-.1 1,.7 1,-.2 1.2,0L649.5,310.6l-1.2,-.1 -1,-.2 -1,.1 -1,.3 -1,.8 -1,.7 -1,.2 -1,.1 -1,-.5 -1,-.9 -1,-.1 -1,1.1 -1,.8 -1,-.3 -1,-.3 -1,.2 -1,.2 -1,-.5 -1,-.8 -1,.1 -1,.4 -1,.2 -1,0 -1,.1 -1,.4 -1,.1 -1,-.7 -1,-.5 -1,.1 -1,.4 -1,.2 -1,-.5 -1,.1 -1,.9 -1,.8 -1,.6 -1,0 -1,-.6 -1,-.6 -1,-.7 -1,0 -1,.6 -1,-.3 -1,-.5 -1,.4 -1,.5 -1,.2 -1,.1 -1,-.2 -1,.1 -1,.4 -1,.3 -1,-.2 -1,-.8 -1,.1 -1,.9 -1,-.1 -1,-.5 -1,.4 -1,-.2 -1,-.8 -1,.4 -1,.5 -1,0 -1,-.3 -1,.1 -1,.3 -1,0 -1,.3 -1,.6 -1,0 -1,-.9 -1,-.4 -1,.7 -1,.4 -1,-.1 -1,-.3 -1,-.2 -1,0 -1,.5 -1,1 -1,.4 -1,-.6 -1,-.5 -1,-.2 -1,.4 -1,0 -1,-.7 -1,.1 -1,.3 -1,-.3 -1,-.2 -1,.3 -1,.6 -1,-.2 -1,-.3 -1,.1 -1,-.4 -1,-.1 -1,.1 -1,-.2 -1,0 -1,-.2 -1,-.6 -1,.1 -1,.3 -1,.1 -1,-.2 -1,.1 -1,.3 -1,.1 -1,.1 -1,.2 -1,.1 -1,.4 -1,.7 -1,.4 -1,0 -1,-.2 -1,.1 -1,.5 -1,.3 -1,-.3 -1,-.3 -1,.2 -1,.5 -1,-.1 -1,-.2 -1,.8 -1,.5 -1,.1 -1,.1 -1,-.2 -1,-.1 -1,0 -1,0 -1,.4 -1,.4 -1,.4 -1,.3 -1,.3 -1,.3 -1,0 -1,-.1 -1,.1 -1,.3 -1,.7 -1,-.1 -1,-.4 -1,.3 -1,.5 -1,.1 -1,-.2 -1,-.1 -1,.1 -1,.1 -1,0 -1,.4 -1,0 -1,-.6 -1,.1 -1,.5 -1,0 -1,-.3 -1,-.1 -1,.3 -1,.1 -1,.2 -1,.4 -1,-.2 -1,-.5 -1,.2 -1,.8 -1,-.1 -1,-.5 -1,.4 -1,.8 -1,-.1 -1,-.2 -1,-.6 -1,-.4 -1,.2 -1,.4 -1,.3 -1,.3 -1,0 -1,-.2 -1,-.4 -1,-.5 -1,.3 -1,.4 -1,-.1 -1,.2 -1,.1 -1,-.4 -1,.3 -1,1 -1,.1 -1,-.5 -1,-.2 -1,.5 -1,.3 -1,-.1 -1,-.1 -1,-.4 -1,-.3 -1,.1 -1,0 -1,.4 -1,.2 -1,-.2 -1,.1 -1,.4 -1,.3 -1,0 -1,-.2 -1,.4 -1,.3 -1,0 -1,.1 -1,-.2 -1,-.3 -1,0 -1,.2 -1,.5 -1,.3 -1,-.3 -1,0 -1,.4 -1,.4 -1,0 -1,-.3 -1,-.1 -1,0 -1,.1 -1,.3 -1,-.1 -1,-.1 -1,.5 -1,.1 -1,0 -1,.1 -1,.2 -1,.2 -1,.3 -1,.2 -1,-.2 -1,-.2 -1,.1 -1,0 -1,.1 -1,.2 -1,-.4 -1,-.4 -1,.1 -1,.1 -1,.1 -1,.3 -1,.1 -1,0 -1,-.1 -1,-.2 -1,-.3 -1,0 -1,.2 -1,-.2 -1,-.1 -1,.1 -1,-.1 -1,-.4 -1,-.2 -1,-.2 -1,-.1 -1,.5 -1,.1 -1,-.2 -1,-.1 -1,-.3 -1,-.3 -1,-.1 -1,-.1 -1,0 -1,0 -1,-.2 -1,-.4 -1,-.2 -1,.1 -1,.1 -1,.1 -1,-.1 -1,-.5 -1,-.4 -1,-.2 -1,-.3 -1,-.4 -1,0 -1,0 -1,-.5 -1,-.3 -1,-.2 -1,-.3 -1,-.4 -1,-.2 -1,-.2z" fill="#2c728e" stroke="#2c728e" stroke-width=".6"/>
<path class="w" d="M345.3,309.3l1,.3 1,.4 1,.5 1,.5 1,.5 1,.3 1,.3 1,.4 1,.1 1,.4 1,.6 1,-.1 1,-.1 1,.5 1,.6 1,-.2 1,-.4 1,.1 1,.4 1,.4 1,.2 1,.1 1,.3 1,0 1,-.4 1,0 1,.4 1,.3 1,.3 1,0 1,-.1 1,-.6 1,-.2 1,.6 1,.5 1,-.1 1,-.1 1,.5 1,.3 1,-.4 1,-.4 1,.3 1,.4 1,0 1,-.1 1,.2 1,-.2 1,-.3 1,.2 1,.2 1,-.1 1,-.2 1,-.4 1,-.3 1,0 1,-.1 1,-.2 1,-.2 1,-.2 1,-.1 1,0 1,0 1,0 1,-.2 1,-.3 1,-.2 1,.3 1,-.1 1,-.4 1,.1 1,0 1,-.2 1,.1 1,.3 1,0 1,-.2 1,-.6 1,-.3 1,.3 1,.2 1,-.2 1,-.3 1,-.3 1,-.2 1,.3 1,-.2 1,-.4 1,-.1 1,.1 1,-.2 1,-.1 1,0 1,0 1,-.5 1,-.5 1,.1 1,-.1 1,-.3 1,0 1,-.1 1,.4 1,.2 1,-.4 1,0 1,0 1,-.3 1,-.4 1,.2 1,.2 1,-.1 1,0 1,0 1,-.1 1,.1 1,0 1,-.2 1,-.1 1,-.1 1,-.2 1,-.1 1,.2 1,.1 1,-.2 1,-.1 1,-.3 1,-.3 1,.3 1,.2 1,-.7 1,-.4 1,.2 1,.4 1,.3 1,-.3 1,-.5 1,-.1 1,0 1,-.2 1,-.2 1,0 1,.2 1,.1 1,-.4 1,-.2 1,-.2 1,.1 1,.2 1,-.3 1,0 1,-.2 1,.3 1,.1 1,-1.1 1,-.2 1,.7 1,-.3 1,-.5 1,-.3 1,-.3 1,.2 1,.1 1,-.5 1,-.2 1,.3 1,-.2 1,-.8 1,-.5 1,-.4 1,-.3 1,-.2 1,-.4 1,-.7 1,-.2 1,.3 1,.5 1,.1 1,-.6 1,-.2 1,.1 1,-.1 1,-.5 1,0 1,0 1,-.7 1,-.9 1,-.3 1,.2 1,.3 1,0 1,-.4 1,-.1 1,.2 1,-.4 1,-.5 1,.1 1,-.1 1,-.4 1,-.1 1,-.1 1,-.4 1,-.2 1,.6 1,.2 1,-.3 1,.6 1,.7 1,-.4 1,-.2 1,.2 1,-.4 1,-.3 1,0 1,.3 1,.4 1,-.1 1,-.4 1,0 1,.1 1,-.1 1,-.2 1,-.2 1,0 1,.1 1,-.1 1,.2 1,-.1 1,-.4 1,0 1,.1 1,.2 1,.1 1,-.3 1,.1 1,.7 1,0 1,-.3 1,0 1,-.2 1,-.3 1,.5 1,.7 1,-.1 1,-.7 1,-.4 1,.5 1,.5 1,-.3 1,-.1 1,.1 1,-.1 1,0 1,-.4 1,-.4 1,.2 1,.7 1,-.4 1,-.3 1,0 1,-.4 1,-.4 1,-.1 1,0 1,.2 1,.1 1,-.2 1,-.3 1,0 1,.1 1,.1 1,.5 1,0 1,-.6 1,-.3 1,0 1,-.1 1,.2 1,.1 1,-.4 1,-.3 1,.6 1,.7 1,-.4 1,-.3 1,.4 1,.1 1,-.3 1,-.9 1,.5 1,1.2 1,-.6 1,-.8 1,.3 1,0 1,-.5 1,.1 1,.3 1,.1 1,-.3 1,-.5 1,-.7 1,-.1 1,.7 1,-.2 1.2,0"/>
<path d="M345.3,320.2l1,.2 1,.2 1,.4 1,.3 1,.2 1,.3 1,.5 1,0 1,0 1,.4 1,.3 1,.2 1,.4 1,.5 1,.1 1,-.1 1,-.1 1,-.1 1,.2 1,.4 1,.2 1,0 1,0 1,.1 1,.1 1,.3 1,.3 1,.1 1,.2 1,-.1 1,-.5 1,.1 1,.2 1,.2 1,.4 1,.1 1,-.1 1,.1 1,.2 1,-.2 1,0 1,.3 1,.2 1,.1 1,0 1,-.1 1,-.3 1,-.1 1,-.1 1,-.1 1,.4 1,.4 1,-.2 1,-.1 1,0 1,-.1 1,.2 1,.2 1,-.2 1,-.3 1,-.2 1,-.2 1,-.1 1,0 1,-.1 1,-.5 1,.1 1,.1 1,-.3 1,-.1 1,0 1,.1 1,.3 1,0 1,-.4 1,-.4 1,0 1,.3 1,-.3 1,-.5 1,-.2 1,0 1,.3 1,.2 1,-.1 1,0 1,-.3 1,-.4 1,.2 1,0 1,-.3 1,-.4 1,-.1 1,.2 1,-.2 1,-.4 1,0 1,-.1 1,.3 1,.4 1,.1 1,.1 1,-.3 1,-.5 1,.2 1,.5 1,-.1 1,-1 1,-.3 1,.4 1,-.1 1,-.2 1,.1 1,-.4 1,-.3 1,.5 1,.4 1,.2 1,0 1,-.3 1,-.3 1,-.4 1,-.2 1,.4 1,.6 1,.2 1,.1 1,-.8 1,-.4 1,.5 1,.1 1,-.8 1,-.2 1,.5 1,.2 1,-.4 1,-.2 1,-.1 1,-.3 1,.1 1,.3 1,0 1,-.5 1,-.1 1,.6 1,0 1,-.4 1,0 1,-.1 1,-.1 1,.1 1,.2 1,-.1 1,-.5 1,-.3 1,.4 1,.1 1,-.7 1,-.3 1,-.1 1,.1 1,0 1,-.3 1,-.3 1,-.3 1,-.4 1,-.4 1,-.4 1,0 1,0 1,.1 1,.2 1,-.1 1,-.1 1,-.5 1,-.8 1,.2 1,.1 1,-.5 1,-.2 1,.3 1,.3 1,-.3 1,-.5 1,-.1 1,.2 1,0 1,-.4 1,-.7 1,-.4 1,-.1 1,-.2 1,-.1 1,-.1 1,-.3 1,-.1 1,.2 1,-.1 1,-.3 1,-.1 1,.6 1,.2 1,0 1,.2 1,-.1 1,.1 1,.4 1,-.1 1,.3 1,.2 1,-.6 1,-.3 1,.2 1,.3 1,-.3 1,-.1 1,.7 1,0 1,-.4 1,.2 1,.5 1,.6 1,-.4 1,-1 1,-.5 1,0 1,.2 1,.3 1,.1 1,-.4 1,-.7 1,.4 1,.9 1,0 1,-.6 1,-.3 1,0 1,-.3 1,-.1 1,.3 1,0 1,-.5 1,-.4 1,.8 1,.2 1,-.4 1,.5 1,.1 1,-.9 1,-.1 1,.8 1,.2 1,-.3 1,-.4 1,-.1 1,.2 1,-.1 1,-.2 1,-.5 1,-.4 1,.5 1,.3 1,-.6 1,0 1,.7 1,.6 1,.6 1,0 1,-.6 1,-.8 1,-.9 1,-.1 1,.5 1,-.2 1,-.4 1,-.1 1,.5 1,.7 1,-.1 1,-.4 1,-.1 1,0 1,-.2 1,-.4 1,-.1 1,.8 1,.5 1,-.2 1,-.2 1,.3 1,.3 1,-.8 1,-1.1 1,.1 1,.9 1,.5 1,-.1 1,-.2 1,-.7 1,-.8 1,-.3 1,-.1 1,.2 1.2,.1L649.5,324l-1.2,-.6 -1,-.1 -1,.6 -1,0 -1,-.5 -1,.2 -1,.8 -1,.5 -1,-.4 -1,0 -1,.8 -1,0 -1,-.2 -1,.3 -1,.2 -1,-.4 -1,-.6 -1,.3 -1,.4 -1,.8 -1,.8 -1,-.8 -1,-1.2 -1,-.1 -1,0 -1,-.2 -1,.4 -1,.1 -1,0 -1,0 -1,-.1 -1,.7 -1,-.4 -1,-.5 -1,1.2 -1,.6 -1,.2 -1,.2 -1,-.7 -1,-.2 -1,0 -1,-.4 -1,-.3 -1,.2 -1,.4 -1,.5 -1,.5 -1,.1 -1,0 -1,-.2 -1,-.2 -1,.1 -1,.1 -1,-.2 -1,.2 -1,.6 -1,.2 -1,-.3 -1,-.8 -1,-.4 -1,0 -1,.2 -1,.2 -1,0 -1,0 -1,-.1 -1,-.2 -1,.1 -1,.6 -1,.5 -1,-.3 -1,-.1 -1,.5 -1,-.5 -1,-.4 -1,.8 -1,.4 -1,-.5 -1,.1 -1,-.3 -1,-1.1 -1,.1 -1,1 -1,0 -1,-.3 -1,.1 -1,.4 -1,.5 -1,-.5 -1,-.9 -1,0 -1,.6 -1,.5 -1,-.2 -1,-.2 -1,.3 -1,-.2 -1,-.7 -1,.1 -1,.4 -1,.1 -1,-.1 -1,-.1 -1,-.1 -1,-.3 -1,.1 -1,.5 -1,.4 -1,.2 -1,.1 -1,-.2 -1,-.1 -1,.4 -1,.1 -1,-.4 -1,.2 -1,.7 -1,.1 -1,-.3 -1,-.2 -1,.1 -1,.2 -1,.4 -1,.3 -1,.1 -1,0 -1,-.3 -1,.3 -1,1 -1,.6 -1,0 -1,0 -1,-.1 -1,-.4 -1,.7 -1,1.3 -1,-.1 -1,-.6 -1,0 -1,.6 -1,.5 -1,0 -1,-.1 -1,.3 -1,.8 -1,.1 -1,-.7 -1,-.5 -1,.2 -1,.3 -1,.1 -1,.4 -1,.3 -1,.3 -1,.1 -1,-.3 -1,.1 -1,.8 -1,.1 -1,-.2 -1,.1 -1,-.3 -1,-.4 -1,-.2 -1,.2 -1,-.1 -1,-.3 -1,.2 -1,.1 -1,.5 -1,.5 -1,-.3 -1,-.1 -1,.1 -1,-.1 -1,0 -1,-.2 -1,-.1 -1,.1 -1,.2 -1,.1 -1,.1 -1,.1 -1,-.1 -1,-.2 -1,-.1 -1,.1 -1,.3 -1,.6 -1,-.1 -1,0 -1,.3 -1,-.1 -1,0 -1,.2 -1,.3 -1,.6 -1,0 -1,-.9 -1,-.5 -1,.4 -1,.4 -1,0 -1,-.1 -1,-.1 -1,-.1 -1,-.3 -1,-.5 -1,0 -1,.5 -1,.1 -1,.1 -1,.3 -1,.5 -1,-.2 -1,-.3 -1,.6 -1,.1 -1,-.2 -1,.4 -1,.1 -1,-.3 -1,0 -1,0 -1,.3 -1,.2 -1,-.1 -1,.1 -1,.2 -1,-.2 -1,-.3 -1,.3 -1,.4 -1,0 -1,-.4 -1,-.3 -1,.3 -1,.9 -1,.2 -1,-.5 -1,-.1 -1,.4 -1,0 -1,-.2 -1,.3 -1,.6 -1,.1 -1,-.5 -1,-.4 -1,0 -1,.2 -1,.3 -1,0 -1,0 -1,-.3 -1,-.4 -1,.2 -1,0 -1,-.4 -1,.2 -1,.1 -1,-.1 -1,0 -1,0 -1,-.1 -1,0 -1,.1 -1,-.4 -1,-.6 -1,-.1 -1,.3 -1,.1 -1,-.1 -1,0 -1,0 -1,-.1 -1,.3 -1,0 -1,-.4 -1,-.3 -1,-.1 -1,0 -1,-.2 -1,-.2 -1,-.2 -1,-.2 -1,0 -1,.1 -1,.1 -1,-.2 -1,-.3 -1,-.1 -1,0 -1,-.2 -1,-.3 -1,-.2 -1,-.2 -1,-.4 -1,-.4 -1,.1 -1,-.3 -1,-.6 -1,-.2 -1,0z" fill="#31678e" stroke="#31678e" stroke-width=".6"/>
<path class="w" d="M345.3,320.2l1,.2 1,.2 1,.4 1,.3 1,.2 1,.3 1,.5 1,0 1,0 1,.4 1,.3 1,.2 1,.4 1,.5 1,.1 1,-.1 1,-.1 1,-.1 1,.2 1,.4 1,.2 1,0 1,0 1,.1 1,.1 1,.3 1,.3 1,.1 1,.2 1,-.1 1,-.5 1,.1 1,.2 1,.2 1,.4 1,.1 1,-.1 1,.1 1,.2 1,-.2 1,0 1,.3 1,.2 1,.1 1,0 1,-.1 1,-.3 1,-.1 1,-.1 1,-.1 1,.4 1,.4 1,-.2 1,-.1 1,0 1,-.1 1,.2 1,.2 1,-.2 1,-.3 1,-.2 1,-.2 1,-.1 1,0 1,-.1 1,-.5 1,.1 1,.1 1,-.3 1,-.1 1,0 1,.1 1,.3 1,0 1,-.4 1,-.4 1,0 1,.3 1,-.3 1,-.5 1,-.2 1,0 1,.3 1,.2 1,-.1 1,0 1,-.3 1,-.4 1,.2 1,0 1,-.3 1,-.4 1,-.1 1,.2 1,-.2 1,-.4 1,0 1,-.1 1,.3 1,.4 1,.1 1,.1 1,-.3 1,-.5 1,.2 1,.5 1,-.1 1,-1 1,-.3 1,.4 1,-.1 1,-.2 1,.1 1,-.4 1,-.3 1,.5 1,.4 1,.2 1,0 1,-.3 1,-.3 1,-.4 1,-.2 1,.4 1,.6 1,.2 1,.1 1,-.8 1,-.4 1,.5 1,.1 1,-.8 1,-.2 1,.5 1,.2 1,-.4 1,-.2 1,-.1 1,-.3 1,.1 1,.3 1,0 1,-.5 1,-.1 1,.6 1,0 1,-.4 1,0 1,-.1 1,-.1 1,.1 1,.2 1,-.1 1,-.5 1,-.3 1,.4 1,.1 1,-.7 1,-.3 1,-.1 1,.1 1,0 1,-.3 1,-.3 1,-.3 1,-.4 1,-.4 1,-.4 1,0 1,0 1,.1 1,.2 1,-.1 1,-.1 1,-.5 1,-.8 1,.2 1,.1 1,-.5 1,-.2 1,.3 1,.3 1,-.3 1,-.5 1,-.1 1,.2 1,0 1,-.4 1,-.7 1,-.4 1,-.1 1,-.2 1,-.1 1,-.1 1,-.3 1,-.1 1,.2 1,-.1 1,-.3 1,-.1 1,.6 1,.2 1,0 1,.2 1,-.1 1,.1 1,.4 1,-.1 1,.3 1,.2 1,-.6 1,-.3 1,.2 1,.3 1,-.3 1,-.1 1,.7 1,0 1,-.4 1,.2 1,.5 1,.6 1,-.4 1,-1 1,-.5 1,0 1,.2 1,.3 1,.1 1,-.4 1,-.7 1,.4 1,.9 1,0 1,-.6 1,-.3 1,0 1,-.3 1,-.1 1,.3 1,0 1,-.5 1,-.4 1,.8 1,.2 1,-.4 1,.5 1,.1 1,-.9 1,-.1 1,.8 1,.2 1,-.3 1,-.4 1,-.1 1,.2 1,-.1 1,-.2 1,-.5 1,-.4 1,.5 1,.3 1,-.6 1,0 1,.7 1,.6 1,.6 1,0 1,-.6 1,-.8 1,-.9 1,-.1 1,.5 1,-.2 1,-.4 1,-.1 1,.5 1,.7 1,-.1 1,-.4 1,-.1 1,0 1,-.2 1,-.4 1,-.1 1,.8 1,.5 1,-.2 1,-.2 1,.3 1,.3 1,-.8 1,-1.1 1,.1 1,.9 1,.5 1,-.1 1,-.2 1,-.7 1,-.8 1,-.3 1,-.1 1,.2 1.2,.1"/>
<path d="M345.3,332.7l1,0 1,.2 1,.6 1,.3 1,-.1 1,.4 1,.4 1,.2 1,.2 1,.3 1,.2 1,0 1,.1 1,.3 1,.2 1,-.1 1,-.1 1,0 1,.2 1,.2 1,.2 1,.2 1,0 1,.1 1,.3 1,.4 1,0 1,-.3 1,.1 1,0 1,0 1,.1 1,-.1 1,-.3 1,.1 1,.6 1,.4 1,-.1 1,0 1,.1 1,0 1,0 1,.1 1,-.1 1,-.2 1,.4 1,0 1,-.2 1,.4 1,.3 1,0 1,0 1,-.3 1,-.2 1,0 1,.4 1,.5 1,-.1 1,-.6 1,-.3 1,.2 1,0 1,-.4 1,.1 1,.5 1,-.2 1,-.9 1,-.3 1,.3 1,.4 1,0 1,-.4 1,-.3 1,.3 1,.2 1,-.2 1,-.1 1,.1 1,-.2 1,-.3 1,0 1,0 1,.3 1,-.1 1,-.4 1,.2 1,-.1 1,-.6 1,.3 1,.2 1,-.5 1,-.3 1,-.1 1,-.1 1,-.5 1,0 1,.5 1,.3 1,.1 1,.1 1,.1 1,0 1,-.4 1,-.4 1,.5 1,.9 1,0 1,-.6 1,-.3 1,-.2 1,0 1,.1 1,-.3 1,0 1,.1 1,-.6 1,-.3 1,-.1 1,.1 1,.2 1,.1 1,-.1 1,-.1 1,-.1 1,-.2 1,-.1 1,.1 1,.2 1,0 1,.1 1,-.1 1,.1 1,.3 1,-.5 1,-.5 1,-.1 1,-.2 1,.3 1,.1 1,-.2 1,.2 1,.4 1,.3 1,-.1 1,.2 1,-.1 1,-.8 1,-.1 1,.3 1,-.1 1,-.3 1,-.3 1,-.4 1,-.1 1,-.3 1,-.2 1,.5 1,.7 1,-.1 1,-.8 1,-.3 1,.1 1,0 1,-.5 1,-.6 1,0 1,.6 1,.1 1,-1.3 1,-.7 1,.4 1,.1 1,0 1,0 1,-.6 1,-1 1,-.3 1,.3 1,0 1,-.1 1,-.3 1,-.4 1,-.2 1,-.1 1,.2 1,.3 1,-.1 1,-.7 1,-.2 1,.4 1,-.1 1,-.4 1,.1 1,.2 1,-.1 1,-.2 1,-.4 1,-.5 1,-.1 1,.3 1,.1 1,.1 1,.1 1,-.1 1,-.4 1,-.1 1,.7 1,.2 1,-.3 1,.2 1,.2 1,-.5 1,-.6 1,0 1,.9 1,.5 1,-.5 1,-.4 1,-.1 1,.3 1,0 1,-1 1,-.1 1,1.1 1,.3 1,-.1 1,.5 1,-.4 1,-.8 1,.4 1,.5 1,-.5 1,.1 1,.3 1,-.5 1,-.6 1,-.1 1,.2 1,.1 1,0 1,0 1,-.2 1,-.2 1,0 1,.4 1,.8 1,.3 1,-.2 1,-.6 1,-.2 1,.2 1,-.1 1,-.1 1,.2 1,.2 1,0 1,-.1 1,-.5 1,-.5 1,-.4 1,-.2 1,.3 1,.4 1,0 1,.2 1,.7 1,-.2 1,-.2 1,-.6 1,-1.2 1,.5 1,.4 1,-.7 1,.1 1,0 1,0 1,-.1 1,-.4 1,.2 1,0 1,.1 1,1.2 1,.8 1,-.8 1,-.8 1,-.4 1,-.3 1,.6 1,.4 1,-.2 1,-.3 1,.2 1,0 1,-.8 1,0 1,.4 1,-.5 1,-.8 1,-.2 1,.5 1,0 1,-.6 1,.1 1.2,.6L649.5,328.1l-1.2,.2 -1,.2 -1,-.1 -1,.4 -1,.2 -1,0 -1,.4 -1,-.3 -1,-.4 -1,.9 -1,.3 -1,-.9 -1,.5 -1,1 -1,-.6 -1,-.7 -1,-.1 -1,.3 -1,.4 -1,.1 -1,-.6 -1,-.2 -1,.5 -1,.3 -1,.2 -1,.2 -1,.1 -1,-.3 -1,-.2 -1,.5 -1,.4 -1,-.3 -1,0 -1,.4 -1,-.1 -1,-.3 -1,-.2 -1,-.5 -1,.2 -1,.6 -1,-.2 -1,-.2 -1,.4 -1,.1 -1,.1 -1,.1 -1,-.1 -1,0 -1,-.3 -1,-.3 -1,-.1 -1,-.1 -1,.5 -1,.7 -1,.1 -1,.1 -1,.6 -1,-.1 -1,-.9 -1,-.5 -1,0 -1,.4 -1,.6 -1,.4 -1,.1 -1,.2 -1,.1 -1,-.8 -1,-1.1 -1,-.2 -1,.6 -1,.7 -1,.4 -1,-.2 -1,-.2 -1,0 -1,.2 -1,.2 -1,-.3 -1,-.2 -1,.5 -1,.5 -1,-.5 -1,-.4 -1,.1 -1,.1 -1,0 -1,-.3 -1,-.1 -1,-.1 -1,.1 -1,.2 -1,0 -1,0 -1,.3 -1,.1 -1,-.1 -1,0 -1,-.4 -1,0 -1,.5 -1,-.1 -1,-.7 -1,-.7 -1,-.1 -1,.7 -1,.5 -1,-.4 -1,0 -1,0 -1,-.4 -1,.7 -1,.7 -1,-.1 -1,-.1 -1,-.1 -1,.1 -1,1 -1,1 -1,-.3 -1,-.7 -1,-.1 -1,.3 -1,.6 -1,.7 -1,.4 -1,.2 -1,-.2 -1,0 -1,0 -1,.1 -1,-.1 -1,-.8 -1,0 -1,1.3 -1,.5 -1,-.5 -1,0 -1,0 -1,.2 -1,.5 -1,.3 -1,.4 -1,.6 -1,-.1 -1,0 -1,.6 -1,0 -1,-.1 -1,.3 -1,.3 -1,-.1 -1,-.4 -1,-.1 -1,.1 -1,.2 -1,.3 -1,0 -1,0 -1,.3 -1,0 -1,-.4 -1,.2 -1,.5 -1,.3 -1,.1 -1,-.6 -1,-.5 -1,.1 -1,.2 -1,-.1 -1,.3 -1,.7 -1,0 -1,.2 -1,.3 -1,-.4 -1,-.4 -1,.2 -1,.4 -1,.4 -1,0 -1,-.3 -1,-.2 -1,-.1 -1,0 -1,0 -1,-.1 -1,.2 -1,0 -1,-.3 -1,.1 -1,.3 -1,0 -1,0 -1,.1 -1,.1 -1,.4 -1,-.1 -1,-.3 -1,.2 -1,.4 -1,0 -1,-.4 -1,-.4 -1,-.6 -1,0 -1,.5 -1,.7 -1,.4 -1,0 -1,-.2 -1,0 -1,.1 -1,.1 -1,.3 -1,-.3 -1,-.5 -1,.4 -1,.4 -1,.1 -1,-.1 -1,-.3 -1,.1 -1,.5 -1,-.1 -1,-.2 -1,.5 -1,.4 -1,-.2 -1,-.1 -1,.3 -1,.2 -1,-.1 -1,-.1 -1,.1 -1,.1 -1,-.3 -1,-.1 -1,.1 -1,.4 -1,.3 -1,-.1 -1,-.5 -1,.2 -1,.5 -1,.2 -1,-.2 -1,0 -1,.3 -1,-.1 -1,-.4 -1,.1 -1,.3 -1,-.1 -1,-.3 -1,-.4 -1,-.3 -1,.2 -1,.4 -1,.2 -1,-.1 -1,0 -1,-.1 -1,-.4 -1,-.2 -1,0 -1,-.1 -1,-.1 -1,0 -1,.3 -1,.1 -1,-.6 -1,-.5 -1,-.1 -1,-.1 -1,0 -1,-.4 -1,-.3 -1,.4 -1,.4 -1,-.2 -1,-.4 -1,-.5 -1,0 -1,.3 -1,-.1 -1,-.3 -1,-.2 -1,-.1 -1,-.1 -1,0 -1,-.2 -1,-.2 -1,.4 -1,.2 -1,-.5 -1,-.5 -1,0 -1,0 -1,-.7 -1,-.5 -1,-.1 -1,0z" fill="#365d8d" stroke="#365d8d" stroke-width=".6"/>
<path class="w" d="M345.3,332.7l1,0 1,.2 1,.6 1,.3 1,-.1 1,.4 1,.4 1,.2 1,.2 1,.3 1,.2 1,0 1,.1 1,.3 1,.2 1,-.1 1,-.1 1,0 1,.2 1,.2 1,.2 1,.2 1,0 1,.1 1,.3 1,.4 1,0 1,-.3 1,.1 1,0 1,0 1,.1 1,-.1 1,-.3 1,.1 1,.6 1,.4 1,-.1 1,0 1,.1 1,0 1,0 1,.1 1,-.1 1,-.2 1,.4 1,0 1,-.2 1,.4 1,.3 1,0 1,0 1,-.3 1,-.2 1,0 1,.4 1,.5 1,-.1 1,-.6 1,-.3 1,.2 1,0 1,-.4 1,.1 1,.5 1,-.2 1,-.9 1,-.3 1,.3 1,.4 1,0 1,-.4 1,-.3 1,.3 1,.2 1,-.2 1,-.1 1,.1 1,-.2 1,-.3 1,0 1,0 1,.3 1,-.1 1,-.4 1,.2 1,-.1 1,-.6 1,.3 1,.2 1,-.5 1,-.3 1,-.1 1,-.1 1,-.5 1,0 1,.5 1,.3 1,.1 1,.1 1,.1 1,0 1,-.4 1,-.4 1,.5 1,.9 1,0 1,-.6 1,-.3 1,-.2 1,0 1,.1 1,-.3 1,0 1,.1 1,-.6 1,-.3 1,-.1 1,.1 1,.2 1,.1 1,-.1 1,-.1 1,-.1 1,-.2 1,-.1 1,.1 1,.2 1,0 1,.1 1,-.1 1,.1 1,.3 1,-.5 1,-.5 1,-.1 1,-.2 1,.3 1,.1 1,-.2 1,.2 1,.4 1,.3 1,-.1 1,.2 1,-.1 1,-.8 1,-.1 1,.3 1,-.1 1,-.3 1,-.3 1,-.4 1,-.1 1,-.3 1,-.2 1,.5 1,.7 1,-.1 1,-.8 1,-.3 1,.1 1,0 1,-.5 1,-.6 1,0 1,.6 1,.1 1,-1.3 1,-.7 1,.4 1,.1 1,0 1,0 1,-.6 1,-1 1,-.3 1,.3 1,0 1,-.1 1,-.3 1,-.4 1,-.2 1,-.1 1,.2 1,.3 1,-.1 1,-.7 1,-.2 1,.4 1,-.1 1,-.4 1,.1 1,.2 1,-.1 1,-.2 1,-.4 1,-.5 1,-.1 1,.3 1,.1 1,.1 1,.1 1,-.1 1,-.4 1,-.1 1,.7 1,.2 1,-.3 1,.2 1,.2 1,-.5 1,-.6 1,0 1,.9 1,.5 1,-.5 1,-.4 1,-.1 1,.3 1,0 1,-1 1,-.1 1,1.1 1,.3 1,-.1 1,.5 1,-.4 1,-.8 1,.4 1,.5 1,-.5 1,.1 1,.3 1,-.5 1,-.6 1,-.1 1,.2 1,.1 1,0 1,0 1,-.2 1,-.2 1,0 1,.4 1,.8 1,.3 1,-.2 1,-.6 1,-.2 1,.2 1,-.1 1,-.1 1,.2 1,.2 1,0 1,-.1 1,-.5 1,-.5 1,-.4 1,-.2 1,.3 1,.4 1,0 1,.2 1,.7 1,-.2 1,-.2 1,-.6 1,-1.2 1,.5 1,.4 1,-.7 1,.1 1,0 1,0 1,-.1 1,-.4 1,.2 1,0 1,.1 1,1.2 1,.8 1,-.8 1,-.8 1,-.4 1,-.3 1,.6 1,.4 1,-.2 1,-.3 1,.2 1,0 1,-.8 1,0 1,.4 1,-.5 1,-.8 1,-.2 1,.5 1,0 1,-.6 1,.1 1.2,.6"/>
<path d="M345.3,337l1,0 1,.1 1,.5 1,.7 1,0 1,0 1,.5 1,.5 1,-.2 1,-.4 1,.2 1,.2 1,0 1,.1 1,.1 1,.2 1,.3 1,.1 1,-.3 1,0 1,.5 1,.4 1,.2 1,-.4 1,-.4 1,.3 1,.4 1,0 1,.1 1,.1 1,.5 1,.6 1,-.1 1,-.3 1,0 1,.1 1,.1 1,0 1,.2 1,.4 1,.1 1,0 1,.1 1,-.2 1,-.4 1,-.2 1,.3 1,.4 1,.3 1,.1 1,-.3 1,-.1 1,.4 1,.1 1,-.3 1,0 1,.2 1,-.2 1,-.5 1,-.2 1,.5 1,.1 1,-.3 1,-.4 1,-.1 1,.1 1,.3 1,-.1 1,-.1 1,.1 1,.1 1,-.2 1,-.3 1,.1 1,.2 1,-.4 1,-.5 1,.2 1,.1 1,-.5 1,-.1 1,.3 1,.1 1,-.1 1,-.4 1,-.4 1,.5 1,.3 1,-.3 1,-.1 1,-.1 1,0 1,.2 1,0 1,-.4 1,-.7 1,-.5 1,0 1,.6 1,.4 1,.4 1,0 1,-.4 1,-.2 1,.3 1,.1 1,-.4 1,-.1 1,-.1 1,0 1,0 1,-.3 1,-.1 1,.3 1,0 1,-.2 1,.1 1,0 1,0 1,.1 1,.2 1,.3 1,0 1,-.4 1,-.4 1,-.2 1,.4 1,.4 1,-.3 1,-.2 1,0 1,-.7 1,-.3 1,.1 1,-.2 1,-.1 1,.5 1,.6 1,-.1 1,-.3 1,-.5 1,-.2 1,.4 1,0 1,-.3 1,0 1,0 1,-.3 1,-.2 1,-.1 1,.1 1,.4 1,.1 1,-.3 1,-.3 1,.1 1,0 1,-.6 1,0 1,.1 1,-.6 1,-.4 1,-.3 1,-.5 1,-.2 1,0 1,0 1,.5 1,-.5 1,-1.3 1,0 1,.8 1,.1 1,-.1 1,0 1,0 1,.2 1,-.2 1,-.4 1,-.7 1,-.6 1,-.3 1,.1 1,.7 1,.3 1,-1 1,-1 1,-.1 1,.1 1,.1 1,.1 1,-.7 1,-.7 1,.4 1,0 1,0 1,.4 1,-.5 1,-.7 1,.1 1,.7 1,.7 1,.1 1,-.5 1,0 1,.4 1,0 1,.1 1,-.1 1,-.3 1,0 1,0 1,-.2 1,-.1 1,.1 1,.1 1,.3 1,0 1,-.1 1,-.1 1,.4 1,.5 1,-.5 1,-.5 1,.2 1,.3 1,-.2 1,-.2 1,0 1,.2 1,.2 1,-.4 1,-.7 1,-.6 1,.2 1,1.1 1,.8 1,-.1 1,-.2 1,-.1 1,-.4 1,-.6 1,-.4 1,0 1,.5 1,.9 1,.1 1,-.6 1,-.1 1,-.1 1,-.7 1,-.5 1,.1 1,.1 1,.3 1,.3 1,0 1,.1 1,-.1 1,-.1 1,-.1 1,-.4 1,.2 1,.2 1,-.6 1,-.2 1,.5 1,.2 1,.3 1,.1 1,-.4 1,0 1,.3 1,-.4 1,-.5 1,.2 1,.3 1,-.1 1,-.2 1,-.2 1,-.3 1,-.5 1,.2 1,.6 1,-.1 1,-.4 1,-.3 1,.1 1,.7 1,.6 1,-1 1,-.5 1,.9 1,-.3 1,-.9 1,.4 1,.3 1,-.4 1,0 1,-.2 1,-.4 1,.1 1,-.2 1.2,-.2L649.5,331.9l-1.2,.2 -1,-.4 -1,-.5 -1,.8 -1,.8 -1,-.8 -1,-.4 -1,.4 -1,-.2 -1,-.3 -1,.3 -1,0 -1,-.4 -1,-.3 -1,0 -1,.7 -1,.9 -1,.3 -1,-.6 -1,-.4 -1,.3 -1,.5 -1,.4 -1,0 -1,-.2 -1,-1.1 -1,-1.1 -1,.9 -1,.7 -1,-.6 -1,.5 -1,.7 -1,-.7 -1,-.2 -1,.4 -1,.1 -1,.1 -1,.2 -1,.2 -1,-.1 -1,-.2 -1,.5 -1,-.2 -1,0 -1,.5 -1,.4 -1,-.1 -1,-.6 -1,-.1 -1,-.1 -1,-.2 -1,.5 -1,.5 -1,-.3 -1,-.2 -1,.1 -1,.2 -1,.1 -1,.2 -1,0 -1,0 -1,.3 -1,.2 -1,-.2 -1,-.1 -1,.2 -1,-.4 -1,-.3 -1,.4 -1,.1 -1,0 -1,.2 -1,-.1 -1,-.7 -1,-.5 -1,.4 -1,.5 -1,.2 -1,-.5 -1,0 -1,.4 -1,-.4 -1,.2 -1,.6 -1,-.2 -1,-.4 -1,.2 -1,.1 -1,-.1 -1,.2 -1,-.2 -1,-.2 -1,.1 -1,0 -1,-.1 -1,.8 -1,.7 -1,-.5 -1,-.4 -1,.4 -1,.1 -1,-.7 -1,-.4 -1,-.1 -1,-.3 -1,.1 -1,0 -1,-.4 -1,.2 -1,.8 -1,.1 -1,-.7 -1,.1 -1,.4 -1,-.1 -1,0 -1,.8 -1,.4 -1,.2 -1,.3 -1,.3 -1,.2 -1,-.6 -1,-.4 -1,.2 -1,.1 -1,.5 -1,.2 -1,.1 -1,.9 -1,.3 -1,-.7 -1,0 -1,.8 -1,.4 -1,-.4 -1,.1 -1,.2 -1,-.6 -1,.2 -1,1.2 -1,.3 -1,.2 -1,.3 -1,-.1 -1,.4 -1,.1 -1,-.4 -1,.2 -1,.5 -1,0 -1,.1 -1,-.1 -1,-.4 -1,-.1 -1,.2 -1,.3 -1,.5 -1,-.1 -1,-.2 -1,.6 -1,-.1 -1,-.6 -1,-.1 -1,.4 -1,.4 -1,-.2 -1,-.2 -1,.3 -1,.2 -1,-.1 -1,-.2 -1,-.4 -1,.2 -1,.6 -1,0 -1,-.2 -1,.4 -1,0 -1,.1 -1,.2 -1,0 -1,-.3 -1,-.3 -1,.2 -1,.4 -1,.2 -1,-.1 -1,-.3 -1,-.4 -1,-.4 -1,.2 -1,.5 -1,.3 -1,.1 -1,-.4 -1,-.3 -1,.2 -1,.2 -1,.3 -1,-.1 -1,-.5 -1,.2 -1,.4 -1,-.2 -1,-.1 -1,.2 -1,.1 -1,0 -1,-.1 -1,0 -1,.4 -1,.3 -1,0 -1,0 -1,0 -1,0 -1,0 -1,.2 -1,.2 -1,-.5 -1,-.3 -1,.2 -1,.5 -1,0 -1,-.4 -1,.1 -1,.2 -1,0 -1,.1 -1,.4 -1,.2 -1,-.1 -1,-.3 -1,.1 -1,.2 -1,0 -1,.3 -1,.1 -1,.2 -1,.3 -1,-.3 -1,-.4 -1,-.2 -1,0 -1,.2 -1,.2 -1,-.1 -1,-.2 -1,.1 -1,-.1 -1,-.3 -1,.2 -1,.3 -1,-.2 -1,-.1 -1,0 -1,-.1 -1,.1 -1,-.3 -1,-.1 -1,.2 -1,-.1 -1,.1 -1,0 -1,-.2 -1,.2 -1,0 -1,-.5 -1,-.4 -1,0 -1,.1 -1,.1 -1,0 -1,0 -1,-.4 -1,-.3 -1,.1 -1,-.2 -1,-.3 -1,.1 -1,0 -1,0 -1,-.2 -1,-.2 -1,.2 -1,0 -1,-.2 -1,-.3 -1,-.3 -1,.1 -1,.2 -1,-.3 -1,-.4 -1,-.1 -1,-.1 -1,-.2 -1,-.1 -1,-.1 -1,-.2 -1,-.4 -1,-.4 -1,0 -1,.1z" fill="#3b528b" stroke="#3b528b" stroke-width=".6"/>
<path class="w" d="M345.3,337l1,0 1,.1 1,.5 1,.7 1,0 1,0 1,.5 1,.5 1,-.2 1,-.4 1,.2 1,.2 1,0 1,.1 1,.1 1,.2 1,.3 1,.1 1,-.3 1,0 1,.5 1,.4 1,.2 1,-.4 1,-.4 1,.3 1,.4 1,0 1,.1 1,.1 1,.5 1,.6 1,-.1 1,-.3 1,0 1,.1 1,.1 1,0 1,.2 1,.4 1,.1 1,0 1,.1 1,-.2 1,-.4 1,-.2 1,.3 1,.4 1,.3 1,.1 1,-.3 1,-.1 1,.4 1,.1 1,-.3 1,0 1,.2 1,-.2 1,-.5 1,-.2 1,.5 1,.1 1,-.3 1,-.4 1,-.1 1,.1 1,.3 1,-.1 1,-.1 1,.1 1,.1 1,-.2 1,-.3 1,.1 1,.2 1,-.4 1,-.5 1,.2 1,.1 1,-.5 1,-.1 1,.3 1,.1 1,-.1 1,-.4 1,-.4 1,.5 1,.3 1,-.3 1,-.1 1,-.1 1,0 1,.2 1,0 1,-.4 1,-.7 1,-.5 1,0 1,.6 1,.4 1,.4 1,0 1,-.4 1,-.2 1,.3 1,.1 1,-.4 1,-.1 1,-.1 1,0 1,0 1,-.3 1,-.1 1,.3 1,0 1,-.2 1,.1 1,0 1,0 1,.1 1,.2 1,.3 1,0 1,-.4 1,-.4 1,-.2 1,.4 1,.4 1,-.3 1,-.2 1,0 1,-.7 1,-.3 1,.1 1,-.2 1,-.1 1,.5 1,.6 1,-.1 1,-.3 1,-.5 1,-.2 1,.4 1,0 1,-.3 1,0 1,0 1,-.3 1,-.2 1,-.1 1,.1 1,.4 1,.1 1,-.3 1,-.3 1,.1 1,0 1,-.6 1,0 1,.1 1,-.6 1,-.4 1,-.3 1,-.5 1,-.2 1,0 1,0 1,.5 1,-.5 1,-1.3 1,0 1,.8 1,.1 1,-.1 1,0 1,0 1,.2 1,-.2 1,-.4 1,-.7 1,-.6 1,-.3 1,.1 1,.7 1,.3 1,-1 1,-1 1,-.1 1,.1 1,.1 1,.1 1,-.7 1,-.7 1,.4 1,0 1,0 1,.4 1,-.5 1,-.7 1,.1 1,.7 1,.7 1,.1 1,-.5 1,0 1,.4 1,0 1,.1 1,-.1 1,-.3 1,0 1,0 1,-.2 1,-.1 1,.1 1,.1 1,.3 1,0 1,-.1 1,-.1 1,.4 1,.5 1,-.5 1,-.5 1,.2 1,.3 1,-.2 1,-.2 1,0 1,.2 1,.2 1,-.4 1,-.7 1,-.6 1,.2 1,1.1 1,.8 1,-.1 1,-.2 1,-.1 1,-.4 1,-.6 1,-.4 1,0 1,.5 1,.9 1,.1 1,-.6 1,-.1 1,-.1 1,-.7 1,-.5 1,.1 1,.1 1,.3 1,.3 1,0 1,.1 1,-.1 1,-.1 1,-.1 1,-.4 1,.2 1,.2 1,-.6 1,-.2 1,.5 1,.2 1,.3 1,.1 1,-.4 1,0 1,.3 1,-.4 1,-.5 1,.2 1,.3 1,-.1 1,-.2 1,-.2 1,-.3 1,-.5 1,.2 1,.6 1,-.1 1,-.4 1,-.3 1,.1 1,.7 1,.6 1,-1 1,-.5 1,.9 1,-.3 1,-.9 1,.4 1,.3 1,-.4 1,0 1,-.2 1,-.4 1,.1 1,-.2 1.2,-.2"/>
<path d="M345.3,338.4l1,-.1 1,0 1,.4 1,.4 1,.2 1,.1 1,.1 1,.2 1,.1 1,.1 1,.4 1,.3 1,-.2 1,-.1 1,.3 1,.3 1,.2 1,0 1,-.2 1,.2 1,.2 1,0 1,0 1,-.1 1,.3 1,.2 1,-.1 1,.3 1,.4 1,0 1,0 1,-.1 1,-.1 1,0 1,.4 1,.5 1,0 1,-.2 1,.2 1,0 1,-.1 1,.1 1,-.2 1,.1 1,.3 1,-.1 1,.1 1,0 1,.1 1,.2 1,-.3 1,-.2 1,.3 1,.1 1,-.1 1,.2 1,.1 1,-.2 1,-.2 1,0 1,.2 1,.4 1,.3 1,-.3 1,-.2 1,-.1 1,-.3 1,0 1,-.2 1,-.1 1,.3 1,.1 1,-.2 1,-.4 1,-.1 1,0 1,-.2 1,-.1 1,.4 1,0 1,-.5 1,-.2 1,.3 1,.5 1,-.2 1,-.2 1,0 1,0 1,0 1,0 1,0 1,-.3 1,-.4 1,0 1,.1 1,0 1,-.1 1,-.2 1,.1 1,.2 1,-.4 1,-.2 1,.5 1,.1 1,-.3 1,-.2 1,-.2 1,.3 1,.4 1,-.1 1,-.3 1,-.5 1,-.2 1,.4 1,.4 1,.3 1,.1 1,-.2 1,-.4 1,-.2 1,.3 1,.3 1,0 1,-.2 1,-.1 1,0 1,-.4 1,.2 1,0 1,-.6 1,-.2 1,.4 1,.2 1,.1 1,-.2 1,-.3 1,.2 1,.2 1,-.4 1,-.4 1,.1 1,.6 1,.1 1,-.6 1,.2 1,.1 1,-.5 1,-.3 1,-.2 1,.1 1,.4 1,.1 1,-.1 1,0 1,-.5 1,-.2 1,.4 1,-.1 1,-.4 1,.1 1,-.3 1,-.2 1,-.3 1,-1.2 1,-.2 1,.6 1,-.2 1,-.1 1,.4 1,-.4 1,-.8 1,0 1,.7 1,-.3 1,-.9 1,-.1 1,-.2 1,-.5 1,-.1 1,-.2 1,.4 1,.6 1,-.2 1,-.3 1,-.3 1,-.2 1,-.4 1,-.8 1,0 1,.1 1,-.4 1,-.1 1,.7 1,-.1 1,-.8 1,-.2 1,.4 1,0 1,-.1 1,.3 1,.1 1,.4 1,.7 1,-.1 1,-.4 1,.4 1,.5 1,-.7 1,-.8 1,.1 1,0 1,-.1 1,.2 1,.2 1,-.2 1,.1 1,-.1 1,-.2 1,.4 1,.2 1,-.6 1,-.2 1,.4 1,-.4 1,0 1,.5 1,-.2 1,-.5 1,-.4 1,.5 1,.7 1,.1 1,-.2 1,0 1,-.1 1,-.4 1,.3 1,.4 1,-.2 1,.1 1,.2 1,-.2 1,-.3 1,0 1,0 1,-.2 1,-.1 1,-.2 1,-.1 1,.2 1,.3 1,-.5 1,-.5 1,.2 1,.1 1,.1 1,.6 1,.1 1,-.4 1,-.5 1,0 1,.2 1,-.5 1,.2 1,.1 1,-.2 1,-.2 1,-.1 1,-.1 1,-.4 1,.2 1,.7 1,-.7 1,-.5 1,.6 1,-.7 1,-.9 1,1.1 1,1.1 1,.2 1,0 1,-.4 1,-.5 1,-.3 1,.4 1,.6 1,-.3 1,-.9 1,-.7 1,0 1,.3 1,.4 1,0 1,-.3 1,.3 1,.2 1,-.4 1,.4 1,.8 1,-.8 1,-.8 1,.5 1,.4 1.2,-.2L649.5,344.2l-1.2,-.4 -1,-.8 -1,-.3 -1,-.3 -1,.3 -1,.8 -1,.6 -1,0 -1,-.2 -1,.2 -1,.2 -1,-.3 -1,.1 -1,.3 -1,.1 -1,-.4 -1,-.1 -1,.4 -1,.2 -1,.3 -1,.3 -1,.3 -1,-.1 -1,-.2 -1,-.1 -1,-.2 -1,-.3 -1,.1 -1,-.1 -1,-.1 -1,0 -1,.1 -1,.4 -1,.2 -1,.1 -1,.7 -1,.1 -1,-.8 -1,-.3 -1,1 -1,.3 -1,-.3 -1,0 -1,-.2 -1,.2 -1,.6 -1,-.2 -1,-.7 -1,-.1 -1,.1 -1,-.4 -1,-.4 -1,0 -1,.3 -1,0 -1,.1 -1,1 -1,.8 -1,-.5 -1,-.7 -1,.3 -1,-.3 -1,-.6 -1,0 -1,.2 -1,.8 -1,.5 -1,-.4 -1,-.1 -1,.3 -1,0 -1,.3 -1,0 -1,-.7 -1,-.9 -1,.3 -1,1.1 -1,-.1 -1,-1.2 -1,-.4 -1,.6 -1,.8 -1,-.1 -1,-.5 -1,-.2 -1,-.1 -1,-.2 -1,.6 -1,1.1 -1,-.1 -1,-.8 -1,-.5 -1,-.2 -1,.3 -1,.3 -1,-.2 -1,.2 -1,.4 -1,-.4 -1,-.6 -1,-.4 -1,.6 -1,.5 -1,-.3 -1,0 -1,-.1 -1,-.5 -1,.2 -1,.6 -1,-.1 -1,0 -1,.6 -1,-.1 -1,-.5 -1,-.1 -1,.3 -1,.6 -1,.3 -1,0 -1,.1 -1,.5 -1,.8 -1,.1 -1,-.7 -1,.1 -1,.7 -1,.1 -1,-.3 -1,.1 -1,.2 -1,.2 -1,.3 -1,0 -1,.3 -1,-.2 -1,-.2 -1,.2 -1,.5 -1,.1 -1,-.5 -1,.1 -1,.6 -1,.3 -1,.1 -1,.1 -1,.3 -1,.3 -1,.2 -1,.2 -1,.4 -1,.2 -1,-.2 -1,-.2 -1,-.3 -1,0 -1,.8 -1,.4 -1,-.1 -1,-.6 -1,-.1 -1,.7 -1,-.2 -1,-.3 -1,-.1 -1,-.3 -1,.3 -1,.5 -1,.3 -1,.1 -1,-.1 -1,-.1 -1,.2 -1,-.1 -1,-.4 -1,.1 -1,.2 -1,-.1 -1,.1 -1,0 -1,-.2 -1,0 -1,0 -1,-.1 -1,-.1 -1,.2 -1,.7 -1,.3 -1,-.3 -1,-.2 -1,.1 -1,0 -1,.1 -1,-.2 -1,-.3 -1,-.1 -1,.1 -1,.2 -1,-.7 -1,0 -1,1 -1,0 -1,-.5 -1,0 -1,.2 -1,.4 -1,.5 -1,.1 -1,-.5 -1,-.2 -1,0 -1,.4 -1,.4 -1,0 -1,0 -1,.1 -1,-.2 -1,-.3 -1,-.3 -1,.1 -1,.4 -1,-.2 -1,-.3 -1,-.1 -1,.1 -1,.8 -1,.5 -1,-.2 -1,-.2 -1,-.3 -1,-.2 -1,.2 -1,.1 -1,0 -1,.1 -1,.1 -1,-.1 -1,.1 -1,.2 -1,0 -1,-.4 -1,-.2 -1,.1 -1,.1 -1,.1 -1,.3 -1,0 -1,-.6 -1,-.2 -1,.2 -1,-.1 -1,.4 -1,.5 -1,-.1 -1,-.2 -1,-.3 -1,-.3 -1,0 -1,.2 -1,0 -1,-.3 -1,-.1 -1,.1 -1,.2 -1,0 -1,-.3 -1,-.1 -1,-.2 -1,-.1 -1,0 -1,0 -1,-.1 -1,-.2 -1,-.2 -1,-.1 -1,0 -1,0 -1,-.2 -1,-.4 -1,-.4 -1,.1 -1,.5 -1,0 -1,-.2 -1,.1 -1,.2 -1,-.1 -1,-.4 -1,-.4 -1,.1 -1,.2 -1,0 -1,-.4 -1,-.6 -1,0 -1,.2 -1,-.4 -1,0 -1,-.1 -1,-.3 -1,.1 -1,-.2 -1,-.5 -1,-.3 -1,-.2z" fill="#414487" stroke="#414487" stroke-width=".6"/>
<path class="w" d="M345.3,338.4l1,-.1 1,0 1,.4 1,.4 1,.2 1,.1 1,.1 1,.2 1,.1 1,.1 1,.4 1,.3 1,-.2 1,-.1 1,.3 1,.3 1,.2 1,0 1,-.2 1,.2 1,.2 1,0 1,0 1,-.1 1,.3 1,.2 1,-.1 1,.3 1,.4 1,0 1,0 1,-.1 1,-.1 1,0 1,.4 1,.5 1,0 1,-.2 1,.2 1,0 1,-.1 1,.1 1,-.2 1,.1 1,.3 1,-.1 1,.1 1,0 1,.1 1,.2 1,-.3 1,-.2 1,.3 1,.1 1,-.1 1,.2 1,.1 1,-.2 1,-.2 1,0 1,.2 1,.4 1,.3 1,-.3 1,-.2 1,-.1 1,-.3 1,0 1,-.2 1,-.1 1,.3 1,.1 1,-.2 1,-.4 1,-.1 1,0 1,-.2 1,-.1 1,.4 1,0 1,-.5 1,-.2 1,.3 1,.5 1,-.2 1,-.2 1,0 1,0 1,0 1,0 1,0 1,-.3 1,-.4 1,0 1,.1 1,0 1,-.1 1,-.2 1,.1 1,.2 1,-.4 1,-.2 1,.5 1,.1 1,-.3 1,-.2 1,-.2 1,.3 1,.4 1,-.1 1,-.3 1,-.5 1,-.2 1,.4 1,.4 1,.3 1,.1 1,-.2 1,-.4 1,-.2 1,.3 1,.3 1,0 1,-.2 1,-.1 1,0 1,-.4 1,.2 1,0 1,-.6 1,-.2 1,.4 1,.2 1,.1 1,-.2 1,-.3 1,.2 1,.2 1,-.4 1,-.4 1,.1 1,.6 1,.1 1,-.6 1,.2 1,.1 1,-.5 1,-.3 1,-.2 1,.1 1,.4 1,.1 1,-.1 1,0 1,-.5 1,-.2 1,.4 1,-.1 1,-.4 1,.1 1,-.3 1,-.2 1,-.3 1,-1.2 1,-.2 1,.6 1,-.2 1,-.1 1,.4 1,-.4 1,-.8 1,0 1,.7 1,-.3 1,-.9 1,-.1 1,-.2 1,-.5 1,-.1 1,-.2 1,.4 1,.6 1,-.2 1,-.3 1,-.3 1,-.2 1,-.4 1,-.8 1,0 1,.1 1,-.4 1,-.1 1,.7 1,-.1 1,-.8 1,-.2 1,.4 1,0 1,-.1 1,.3 1,.1 1,.4 1,.7 1,-.1 1,-.4 1,.4 1,.5 1,-.7 1,-.8 1,.1 1,0 1,-.1 1,.2 1,.2 1,-.2 1,.1 1,-.1 1,-.2 1,.4 1,.2 1,-.6 1,-.2 1,.4 1,-.4 1,0 1,.5 1,-.2 1,-.5 1,-.4 1,.5 1,.7 1,.1 1,-.2 1,0 1,-.1 1,-.4 1,.3 1,.4 1,-.2 1,.1 1,.2 1,-.2 1,-.3 1,0 1,0 1,-.2 1,-.1 1,-.2 1,-.1 1,.2 1,.3 1,-.5 1,-.5 1,.2 1,.1 1,.1 1,.6 1,.1 1,-.4 1,-.5 1,0 1,.2 1,-.5 1,.2 1,.1 1,-.2 1,-.2 1,-.1 1,-.1 1,-.4 1,.2 1,.7 1,-.7 1,-.5 1,.6 1,-.7 1,-.9 1,1.1 1,1.1 1,.2 1,0 1,-.4 1,-.5 1,-.3 1,.4 1,.6 1,-.3 1,-.9 1,-.7 1,0 1,.3 1,.4 1,0 1,-.3 1,.3 1,.2 1,-.4 1,.4 1,.8 1,-.8 1,-.8 1,.5 1,.4 1.2,-.2"/>
<path d="M345.3,348.9l1,.2 1,.3 1,.5 1,.2 1,-.1 1,.3 1,.1 1,0 1,.4 1,-.2 1,0 1,.6 1,.4 1,0 1,-.2 1,-.1 1,.4 1,.4 1,.1 1,-.2 1,-.1 1,.2 1,0 1,-.5 1,-.1 1,.4 1,.4 1,.2 1,0 1,0 1,.1 1,.2 1,.2 1,.1 1,0 1,0 1,.1 1,.2 1,.1 1,.3 1,0 1,-.2 1,-.1 1,.1 1,.3 1,0 1,-.2 1,0 1,.3 1,.3 1,.2 1,.1 1,-.5 1,-.4 1,.1 1,-.2 1,.2 1,.6 1,0 1,-.3 1,-.1 1,-.1 1,-.1 1,.2 1,.4 1,0 1,-.2 1,-.1 1,.1 1,-.1 1,-.1 1,0 1,-.1 1,-.2 1,.2 1,.3 1,.2 1,.2 1,-.5 1,-.8 1,-.1 1,.1 1,.3 1,.2 1,-.4 1,-.1 1,.3 1,.3 1,.2 1,-.1 1,0 1,0 1,-.4 1,-.4 1,0 1,.2 1,.5 1,-.1 1,-.5 1,-.4 1,-.2 1,0 1,.5 1,0 1,-1 1,0 1,.7 1,-.2 1,-.1 1,.1 1,.3 1,.2 1,-.1 1,0 1,-.1 1,.2 1,.3 1,-.3 1,-.7 1,-.2 1,.1 1,.1 1,0 1,0 1,.2 1,0 1,-.1 1,.1 1,-.2 1,-.1 1,.4 1,.1 1,-.2 1,.1 1,.1 1,-.1 1,-.3 1,-.5 1,-.3 1,.3 1,.1 1,.3 1,.2 1,-.7 1,.1 1,.6 1,.1 1,-.4 1,-.8 1,0 1,.3 1,.2 1,.2 1,-.2 1,-.4 1,-.2 1,-.2 1,-.3 1,-.3 1,-.1 1,-.1 1,-.3 1,-.6 1,-.1 1,.5 1,-.1 1,-.5 1,-.2 1,.2 1,.2 1,-.3 1,0 1,-.3 1,-.2 1,-.2 1,-.1 1,.3 1,-.1 1,-.7 1,-.1 1,.7 1,-.1 1,-.8 1,-.5 1,-.1 1,0 1,-.3 1,-.6 1,-.3 1,.1 1,.5 1,.1 1,-.6 1,0 1,.1 1,-.6 1,-.2 1,.5 1,.1 1,0 1,.3 1,-.5 1,-.6 1,.4 1,.6 1,.4 1,-.4 1,-.2 1,.2 1,-.3 1,-.3 1,.2 1,.5 1,.8 1,.1 1,-1.1 1,-.6 1,.2 1,.1 1,.2 1,.5 1,.1 1,-.8 1,-.6 1,.4 1,1.2 1,.1 1,-1.1 1,-.3 1,.9 1,.7 1,0 1,-.3 1,0 1,-.3 1,.1 1,.4 1,-.5 1,-.8 1,-.2 1,0 1,.6 1,.3 1,-.3 1,.7 1,.5 1,-.8 1,-1 1,-.1 1,0 1,-.3 1,0 1,.4 1,.4 1,-.1 1,.1 1,.7 1,.2 1,-.6 1,-.2 1,.2 1,0 1,.3 1,-.3 1,-1 1,.3 1,.8 1,-.1 1,-.7 1,-.1 1,-.2 1,-.4 1,-.1 1,0 1,.1 1,.1 1,-.1 1,.3 1,.2 1,.1 1,.2 1,.1 1,-.3 1,-.3 1,-.3 1,-.2 1,-.4 1,.1 1,.4 1,-.1 1,-.3 1,-.1 1,.3 1,-.2 1,-.2 1,.2 1,0 1,-.6 1,-.8 1,-.3 1,.3 1,.3 1,.8 1.2,.4L649.5,347.4l-1.2,0 -1,1 -1,0 -1,-1.3 -1,-.4 -1,.6 -1,.7 -1,.3 -1,0 -1,0 -1,-.5 -1,-.9 -1,-.4 -1,.7 -1,1.1 -1,.8 -1,.2 -1,0 -1,.2 -1,-.2 -1,-.6 -1,-.5 -1,.3 -1,.5 -1,-.3 -1,.2 -1,.2 -1,.3 -1,.2 -1,.1 -1,0 -1,-.5 -1,.3 -1,.9 -1,-.1 -1,-1.3 -1,-.6 -1,.5 -1,.1 -1,.4 -1,.3 -1,.6 -1,0 -1,-.8 -1,.6 -1,.5 -1,-.5 -1,-.1 -1,-.1 -1,-.3 -1,.1 -1,.6 -1,.5 -1,-.5 -1,-.8 -1,.3 -1,.2 -1,-.2 -1,.7 -1,-.2 -1,-.9 -1,.8 -1,1.3 -1,-.2 -1,-.7 -1,-.3 -1,.3 -1,.6 -1,-.2 -1,-.3 -1,.2 -1,.2 -1,.2 -1,-.1 -1,.1 -1,.1 -1,.3 -1,0 -1,-.8 -1,-.7 -1,-.4 -1,.3 -1,.4 -1,.1 -1,-.2 -1,.1 -1,-.1 -1,-.1 -1,.3 -1,-.2 -1,-.2 -1,0 -1,-.7 -1,-.3 -1,.3 -1,.2 -1,.4 -1,.3 -1,.6 -1,.2 -1,-.4 -1,.2 -1,-.6 -1,-1.1 -1,.7 -1,.8 -1,-.6 -1,-.7 -1,.2 -1,.3 -1,.1 -1,0 -1,.5 -1,.3 -1,-.5 -1,-.6 -1,-.1 -1,.4 -1,.5 -1,.4 -1,.4 -1,.4 -1,.2 -1,-.4 -1,.2 -1,.8 -1,.6 -1,.1 -1,-.1 -1,-.2 -1,.1 -1,.4 -1,0 -1,-.3 -1,.4 -1,.8 -1,.2 -1,-.3 -1,-.2 -1,-.2 -1,.6 -1,.3 -1,.1 -1,.5 -1,.6 -1,0 -1,-.5 -1,.2 -1,.3 -1,-1.1 -1,-.3 -1,.9 -1,.3 -1,.1 -1,.1 -1,0 -1,.3 -1,.2 -1,-.3 -1,-.7 -1,.1 -1,1.2 -1,.1 -1,-.4 -1,.1 -1,-.3 -1,-.1 -1,.2 -1,0 -1,-.1 -1,-.2 -1,0 -1,.2 -1,.1 -1,-.1 -1,-.1 -1,.2 -1,.4 -1,.5 -1,.4 -1,-.1 -1,-.4 -1,-.4 -1,-.4 -1,-.3 -1,.5 -1,.5 -1,.2 -1,-.3 -1,-.6 -1,-.5 -1,.1 -1,.6 -1,.1 -1,.1 -1,.4 -1,-.1 -1,-.1 -1,-.1 -1,-.1 -1,.4 -1,.1 -1,-.1 -1,-.1 -1,-.1 -1,.5 -1,.7 -1,0 -1,-.6 -1,-.3 -1,0 -1,0 -1,.1 -1,-.2 -1,0 -1,.6 -1,.2 -1,-.4 -1,-.1 -1,.3 -1,.1 -1,.1 -1,-.2 -1,-.3 -1,.1 -1,.2 -1,.1 -1,.1 -1,-.2 -1,-.2 -1,.1 -1,0 -1,.1 -1,0 -1,0 -1,0 -1,-.2 -1,-.1 -1,.5 -1,.5 -1,-.4 -1,-.4 -1,.2 -1,.2 -1,-.1 -1,-.4 -1,.1 -1,.1 -1,0 -1,.1 -1,.3 -1,-.2 -1,-.3 -1,-.2 -1,-.3 -1,-.1 -1,.1 -1,.1 -1,-.2 -1,-.2 -1,.4 -1,-.2 -1,-.2 -1,.1 -1,-.2 -1,-.2 -1,-.3 -1,-.1 -1,.3 -1,.1 -1,-.5 -1,-.2 -1,.3 -1,-.4 -1,-.4 -1,.1 -1,0 -1,-.2 -1,.3 -1,.3 -1,-.1 -1,0 -1,-.4 -1,-.5 -1,-.2 -1,.1 -1,.1 -1,-.2 -1,-.2 -1,-.1 -1,0 -1,0 -1,-.3 -1,-.1 -1,.3 -1,.2 -1,-.3 -1,-.2 -1,-.2 -1,0 -1,-.1 -1,-.4 -1,-.6 -1,-.2z" fill="#463480" stroke="#463480" stroke-width=".6"/>
<path class="w" d="M345.3,348.9l1,.2 1,.3 1,.5 1,.2 1,-.1 1,.3 1,.1 1,0 1,.4 1,-.2 1,0 1,.6 1,.4 1,0 1,-.2 1,-.1 1,.4 1,.4 1,.1 1,-.2 1,-.1 1,.2 1,0 1,-.5 1,-.1 1,.4 1,.4 1,.2 1,0 1,0 1,.1 1,.2 1,.2 1,.1 1,0 1,0 1,.1 1,.2 1,.1 1,.3 1,0 1,-.2 1,-.1 1,.1 1,.3 1,0 1,-.2 1,0 1,.3 1,.3 1,.2 1,.1 1,-.5 1,-.4 1,.1 1,-.2 1,.2 1,.6 1,0 1,-.3 1,-.1 1,-.1 1,-.1 1,.2 1,.4 1,0 1,-.2 1,-.1 1,.1 1,-.1 1,-.1 1,0 1,-.1 1,-.2 1,.2 1,.3 1,.2 1,.2 1,-.5 1,-.8 1,-.1 1,.1 1,.3 1,.2 1,-.4 1,-.1 1,.3 1,.3 1,.2 1,-.1 1,0 1,0 1,-.4 1,-.4 1,0 1,.2 1,.5 1,-.1 1,-.5 1,-.4 1,-.2 1,0 1,.5 1,0 1,-1 1,0 1,.7 1,-.2 1,-.1 1,.1 1,.3 1,.2 1,-.1 1,0 1,-.1 1,.2 1,.3 1,-.3 1,-.7 1,-.2 1,.1 1,.1 1,0 1,0 1,.2 1,0 1,-.1 1,.1 1,-.2 1,-.1 1,.4 1,.1 1,-.2 1,.1 1,.1 1,-.1 1,-.3 1,-.5 1,-.3 1,.3 1,.1 1,.3 1,.2 1,-.7 1,.1 1,.6 1,.1 1,-.4 1,-.8 1,0 1,.3 1,.2 1,.2 1,-.2 1,-.4 1,-.2 1,-.2 1,-.3 1,-.3 1,-.1 1,-.1 1,-.3 1,-.6 1,-.1 1,.5 1,-.1 1,-.5 1,-.2 1,.2 1,.2 1,-.3 1,0 1,-.3 1,-.2 1,-.2 1,-.1 1,.3 1,-.1 1,-.7 1,-.1 1,.7 1,-.1 1,-.8 1,-.5 1,-.1 1,0 1,-.3 1,-.6 1,-.3 1,.1 1,.5 1,.1 1,-.6 1,0 1,.1 1,-.6 1,-.2 1,.5 1,.1 1,0 1,.3 1,-.5 1,-.6 1,.4 1,.6 1,.4 1,-.4 1,-.2 1,.2 1,-.3 1,-.3 1,.2 1,.5 1,.8 1,.1 1,-1.1 1,-.6 1,.2 1,.1 1,.2 1,.5 1,.1 1,-.8 1,-.6 1,.4 1,1.2 1,.1 1,-1.1 1,-.3 1,.9 1,.7 1,0 1,-.3 1,0 1,-.3 1,.1 1,.4 1,-.5 1,-.8 1,-.2 1,0 1,.6 1,.3 1,-.3 1,.7 1,.5 1,-.8 1,-1 1,-.1 1,0 1,-.3 1,0 1,.4 1,.4 1,-.1 1,.1 1,.7 1,.2 1,-.6 1,-.2 1,.2 1,0 1,.3 1,-.3 1,-1 1,.3 1,.8 1,-.1 1,-.7 1,-.1 1,-.2 1,-.4 1,-.1 1,0 1,.1 1,.1 1,-.1 1,.3 1,.2 1,.1 1,.2 1,.1 1,-.3 1,-.3 1,-.3 1,-.2 1,-.4 1,.1 1,.4 1,-.1 1,-.3 1,-.1 1,.3 1,-.2 1,-.2 1,.2 1,0 1,-.6 1,-.8 1,-.3 1,.3 1,.3 1,.8 1.2,.4"/>
<path d="M345.3,352.5l1,.2 1,.6 1,.4 1,.1 1,0 1,.2 1,.2 1,.3 1,-.2 1,-.3 1,.1 1,.3 1,0 1,0 1,.1 1,.2 1,.2 1,-.1 1,-.1 1,.2 1,.5 1,.4 1,0 1,.1 1,-.3 1,-.3 1,.2 1,0 1,-.1 1,.4 1,.4 1,-.3 1,.2 1,.5 1,-.1 1,-.3 1,.1 1,.3 1,.2 1,.2 1,-.1 1,.2 1,.2 1,-.4 1,.2 1,.2 1,-.1 1,-.1 1,.1 1,.3 1,.2 1,.3 1,.2 1,-.3 1,-.1 1,0 1,-.1 1,-.1 1,.4 1,.1 1,-.2 1,-.2 1,.4 1,.4 1,-.5 1,-.5 1,.1 1,.2 1,0 1,0 1,0 1,-.1 1,0 1,-.1 1,.2 1,.2 1,-.1 1,-.1 1,-.2 1,-.1 1,.3 1,.2 1,-.1 1,-.1 1,-.3 1,.1 1,.4 1,-.2 1,-.6 1,0 1,.2 1,-.1 1,0 1,0 1,.3 1,.6 1,0 1,-.7 1,-.5 1,.1 1,.1 1,.1 1,-.1 1,-.4 1,.1 1,.1 1,.1 1,.1 1,-.4 1,-.1 1,-.1 1,-.6 1,-.1 1,.5 1,.6 1,.3 1,-.2 1,-.5 1,-.5 1,.3 1,.4 1,.4 1,.4 1,.1 1,-.4 1,-.5 1,-.4 1,-.2 1,.1 1,.1 1,-.1 1,-.2 1,0 1,.2 1,.1 1,0 1,-.2 1,.1 1,.3 1,-.1 1,.4 1,-.1 1,-1.2 1,-.1 1,.7 1,.3 1,-.2 1,-.3 1,0 1,-.1 1,-.1 1,-.3 1,-.9 1,.3 1,1.1 1,-.3 1,-.2 1,.5 1,0 1,-.6 1,-.5 1,-.1 1,-.3 1,-.6 1,.2 1,.2 1,.3 1,-.2 1,-.8 1,-.4 1,.3 1,0 1,-.4 1,-.1 1,.2 1,.1 1,-.1 1,-.6 1,-.8 1,-.2 1,.4 1,-.2 1,-.4 1,-.4 1,-.4 1,-.5 1,-.4 1,.1 1,.6 1,.5 1,-.3 1,-.5 1,0 1,-.1 1,-.3 1,-.2 1,.7 1,.6 1,-.8 1,-.7 1,1.1 1,.6 1,-.2 1,.4 1,-.2 1,-.6 1,-.3 1,-.4 1,-.2 1,-.3 1,.3 1,.7 1,0 1,.2 1,.2 1,-.3 1,.1 1,.1 1,-.1 1,.2 1,-.1 1,-.4 1,-.3 1,.4 1,.7 1,.8 1,0 1,-.3 1,-.1 1,-.1 1,.1 1,-.2 1,-.2 1,-.2 1,.3 1,.2 1,-.6 1,-.3 1,.3 1,.7 1,.2 1,-1.3 1,-.8 1,.9 1,.2 1,-.7 1,.2 1,-.2 1,-.3 1,.8 1,.5 1,-.5 1,-.6 1,-.1 1,.3 1,.1 1,.1 1,.5 1,-.5 1,-.6 1,.8 1,0 1,-.6 1,-.3 1,-.4 1,-.1 1,-.5 1,.6 1,1.3 1,.1 1,-.9 1,-.3 1,.5 1,0 1,-.1 1,-.2 1,-.3 1,-.2 1,-.2 1,.3 1,-.5 1,-.3 1,.5 1,.6 1,.2 1,-.2 1,0 1,-.2 1,-.8 1,-1.1 1,-.7 1,.4 1,.9 1,.5 1,0 1,0 1,-.3 1,-.7 1,-.6 1,.4 1,1.3 1,0 1,-1 1.2,0L649.5,356.7l-1.2,.2 -1,.3 -1,0 -1,-.2 -1,.1 -1,.3 -1,-.4 -1,-.2 -1,.9 -1,.5 -1,-.5 -1,-.3 -1,.1 -1,-.2 -1,-.1 -1,.3 -1,.1 -1,.5 -1,.5 -1,-.4 -1,-.4 -1,-.1 -1,.5 -1,.6 -1,.1 -1,-.5 -1,-.4 -1,.8 -1,1.1 -1,-.2 -1,-.8 -1,-.3 -1,-.2 -1,.4 -1,.4 -1,.2 -1,.5 -1,-.1 -1,-.5 -1,-.3 -1,.6 -1,.5 -1,-.1 -1,.5 -1,.1 -1,0 -1,0 -1,-.2 -1,-.1 -1,0 -1,-.1 -1,.1 -1,.1 -1,-.1 -1,0 -1,-.2 -1,0 -1,.2 -1,0 -1,-.3 -1,0 -1,.4 -1,.3 -1,-.2 -1,-.2 -1,-.2 -1,-.1 -1,.5 -1,.2 -1,-.1 -1,-.1 -1,0 -1,.3 -1,.3 -1,.4 -1,0 -1,.1 -1,-.3 -1,-.5 -1,-.5 -1,-.7 -1,.1 -1,.5 -1,.2 -1,.4 -1,.4 -1,-.2 -1,-.6 -1,.2 -1,.4 -1,-.1 -1,-.4 -1,.1 -1,.4 -1,-.1 -1,-.8 -1,-1 -1,0 -1,.9 -1,.7 -1,.1 -1,.1 -1,-.6 -1,-.6 -1,-.1 -1,.3 -1,.8 -1,.6 -1,-.6 -1,-1 -1,-.4 -1,.1 -1,.2 -1,.4 -1,.8 -1,.3 -1,-.1 -1,.2 -1,.5 -1,.4 -1,.2 -1,-.1 -1,.1 -1,.2 -1,.2 -1,.7 -1,0 -1,-.7 -1,-.2 -1,.1 -1,.4 -1,.8 -1,.2 -1,-.5 -1,-.1 -1,.2 -1,.3 -1,0 -1,0 -1,.2 -1,.2 -1,.2 -1,.2 -1,.3 -1,0 -1,-.1 -1,.4 -1,.4 -1,.1 -1,-.4 -1,-.5 -1,-.1 -1,.1 -1,.2 -1,.2 -1,.3 -1,.6 -1,.3 -1,-.3 -1,-.5 -1,-.1 -1,.6 -1,.7 -1,.1 -1,-.4 -1,.1 -1,-.3 -1,-.7 -1,.5 -1,.8 -1,0 -1,-.4 -1,-.4 -1,0 -1,.4 -1,-.1 -1,0 -1,.4 -1,0 -1,-.4 -1,-.1 -1,-.5 -1,-.3 -1,.4 -1,.2 -1,.3 -1,.4 -1,0 -1,0 -1,.2 -1,-.1 -1,-.3 -1,-.2 -1,-.3 -1,.1 -1,.2 -1,0 -1,-.1 -1,.2 -1,0 -1,-.1 -1,.4 -1,.3 -1,-.3 -1,.2 -1,.2 -1,-.4 -1,-.3 -1,.2 -1,.4 -1,.2 -1,-.2 -1,-.2 -1,.2 -1,.3 -1,-.4 -1,-.3 -1,.5 -1,.2 -1,-.3 -1,-.2 -1,0 -1,.4 -1,0 -1,-.2 -1,.1 -1,.3 -1,-.4 -1,-.6 -1,0 -1,.2 -1,-.1 -1,.1 -1,.6 -1,.2 -1,-.6 -1,-.1 -1,.1 -1,-.2 -1,.1 -1,.3 -1,-.1 -1,-.2 -1,0 -1,.1 -1,-.3 -1,0 -1,.4 -1,-.1 -1,-.5 -1,-.4 -1,.4 -1,.2 -1,-.2 -1,-.1 -1,.1 -1,-.2 -1,-.2 -1,.2 -1,.4 -1,-.2 -1,-.3 -1,-.2 -1,-.2 -1,-.3 -1,-.2 -1,-.1 -1,0 -1,.1 -1,.3 -1,-.4 -1,-.4 -1,0 -1,.2 -1,-.1 -1,-.3 -1,-.2 -1,.1 -1,.1 -1,-.4 -1,-.2 -1,.2 -1,.1 -1,0 -1,-.2 -1,-.4 -1,-.4 -1,0 -1,.2 -1,.2 -1,-.1 -1,-.3 -1,0 -1,.4 -1,-.1 -1,-.5 -1,-.3 -1,-.2 -1,-.1 -1,.4 -1,-.1 -1,-.1 -1,.2 -1,-.1z" fill="#482475" stroke="#482475" stroke-width=".6"/>
<path class="w" d="M345.3,352.5l1,.2 1,.6 1,.4 1,.1 1,0 1,.2 1,.2 1,.3 1,-.2 1,-.3 1,.1 1,.3 1,0 1,0 1,.1 1,.2 1,.2 1,-.1 1,-.1 1,.2 1,.5 1,.4 1,0 1,.1 1,-.3 1,-.3 1,.2 1,0 1,-.1 1,.4 1,.4 1,-.3 1,.2 1,.5 1,-.1 1,-.3 1,.1 1,.3 1,.2 1,.2 1,-.1 1,.2 1,.2 1,-.4 1,.2 1,.2 1,-.1 1,-.1 1,.1 1,.3 1,.2 1,.3 1,.2 1,-.3 1,-.1 1,0 1,-.1 1,-.1 1,.4 1,.1 1,-.2 1,-.2 1,.4 1,.4 1,-.5 1,-.5 1,.1 1,.2 1,0 1,0 1,0 1,-.1 1,0 1,-.1 1,.2 1,.2 1,-.1 1,-.1 1,-.2 1,-.1 1,.3 1,.2 1,-.1 1,-.1 1,-.3 1,.1 1,.4 1,-.2 1,-.6 1,0 1,.2 1,-.1 1,0 1,0 1,.3 1,.6 1,0 1,-.7 1,-.5 1,.1 1,.1 1,.1 1,-.1 1,-.4 1,.1 1,.1 1,.1 1,.1 1,-.4 1,-.1 1,-.1 1,-.6 1,-.1 1,.5 1,.6 1,.3 1,-.2 1,-.5 1,-.5 1,.3 1,.4 1,.4 1,.4 1,.1 1,-.4 1,-.5 1,-.4 1,-.2 1,.1 1,.1 1,-.1 1,-.2 1,0 1,.2 1,.1 1,0 1,-.2 1,.1 1,.3 1,-.1 1,.4 1,-.1 1,-1.2 1,-.1 1,.7 1,.3 1,-.2 1,-.3 1,0 1,-.1 1,-.1 1,-.3 1,-.9 1,.3 1,1.1 1,-.3 1,-.2 1,.5 1,0 1,-.6 1,-.5 1,-.1 1,-.3 1,-.6 1,.2 1,.2 1,.3 1,-.2 1,-.8 1,-.4 1,.3 1,0 1,-.4 1,-.1 1,.2 1,.1 1,-.1 1,-.6 1,-.8 1,-.2 1,.4 1,-.2 1,-.4 1,-.4 1,-.4 1,-.5 1,-.4 1,.1 1,.6 1,.5 1,-.3 1,-.5 1,0 1,-.1 1,-.3 1,-.2 1,.7 1,.6 1,-.8 1,-.7 1,1.1 1,.6 1,-.2 1,.4 1,-.2 1,-.6 1,-.3 1,-.4 1,-.2 1,-.3 1,.3 1,.7 1,0 1,.2 1,.2 1,-.3 1,.1 1,.1 1,-.1 1,.2 1,-.1 1,-.4 1,-.3 1,.4 1,.7 1,.8 1,0 1,-.3 1,-.1 1,-.1 1,.1 1,-.2 1,-.2 1,-.2 1,.3 1,.2 1,-.6 1,-.3 1,.3 1,.7 1,.2 1,-1.3 1,-.8 1,.9 1,.2 1,-.7 1,.2 1,-.2 1,-.3 1,.8 1,.5 1,-.5 1,-.6 1,-.1 1,.3 1,.1 1,.1 1,.5 1,-.5 1,-.6 1,.8 1,0 1,-.6 1,-.3 1,-.4 1,-.1 1,-.5 1,.6 1,1.3 1,.1 1,-.9 1,-.3 1,.5 1,0 1,-.1 1,-.2 1,-.3 1,-.2 1,-.2 1,.3 1,-.5 1,-.3 1,.5 1,.6 1,.2 1,-.2 1,0 1,-.2 1,-.8 1,-1.1 1,-.7 1,.4 1,.9 1,.5 1,0 1,0 1,-.3 1,-.7 1,-.6 1,.4 1,1.3 1,0 1,-1 1.2,0"/>
<path d="M345.3,362.8l1,.1 1,-.2 1,.1 1,.1 1,-.4 1,.1 1,.2 1,.3 1,.5 1,.1 1,-.4 1,0 1,.3 1,.1 1,-.2 1,-.2 1,0 1,.4 1,.4 1,.2 1,0 1,-.1 1,-.2 1,.2 1,.4 1,-.1 1,-.1 1,.2 1,.3 1,.1 1,-.2 1,0 1,.4 1,.4 1,-.3 1,-.1 1,0 1,.1 1,.2 1,.3 1,.2 1,.2 1,.3 1,.2 1,-.4 1,-.2 1,.2 1,.2 1,-.1 1,.1 1,.2 1,-.2 1,-.4 1,.4 1,.5 1,.1 1,-.4 1,0 1,.3 1,-.1 1,0 1,.2 1,.1 1,-.3 1,-.1 1,.2 1,-.1 1,.1 1,.6 1,-.2 1,-.6 1,-.1 1,.1 1,-.2 1,0 1,.6 1,.4 1,-.3 1,-.1 1,.2 1,0 1,-.4 1,0 1,.2 1,.3 1,-.2 1,-.5 1,.3 1,.4 1,-.3 1,-.2 1,.2 1,.2 1,-.2 1,-.4 1,-.2 1,.3 1,.4 1,-.2 1,-.2 1,.3 1,-.3 1,-.4 1,.1 1,0 1,-.2 1,.1 1,0 1,-.2 1,-.1 1,.3 1,.2 1,.3 1,.1 1,-.2 1,0 1,0 1,-.4 1,-.3 1,-.2 1,-.4 1,.3 1,.5 1,.1 1,.4 1,0 1,-.4 1,0 1,.1 1,-.4 1,0 1,.4 1,.4 1,0 1,-.8 1,-.5 1,.7 1,.3 1,-.1 1,.4 1,-.1 1,-.7 1,-.6 1,.1 1,.5 1,.3 1,-.3 1,-.6 1,-.3 1,-.2 1,-.2 1,-.1 1,.1 1,.5 1,.4 1,-.1 1,-.4 1,-.4 1,.1 1,0 1,-.3 1,-.2 1,-.2 1,-.2 1,-.2 1,0 1,0 1,-.3 1,-.2 1,.1 1,.5 1,-.2 1,-.8 1,-.4 1,-.1 1,.2 1,.7 1,0 1,-.7 1,-.2 1,-.2 1,-.1 1,.1 1,-.2 1,-.4 1,-.5 1,-.2 1,.1 1,-.3 1,-.8 1,-.4 1,-.2 1,-.1 1,.4 1,1 1,.6 1,-.6 1,-.8 1,-.3 1,.1 1,.6 1,.6 1,-.1 1,-.1 1,-.7 1,-.9 1,0 1,1 1,.8 1,.1 1,-.4 1,-.1 1,.4 1,.1 1,-.4 1,-.2 1,.6 1,.2 1,-.4 1,-.4 1,-.2 1,-.5 1,-.1 1,.7 1,.5 1,.5 1,.3 1,-.1 1,0 1,-.4 1,-.3 1,-.3 1,0 1,.1 1,.1 1,-.2 1,-.5 1,.1 1,.2 1,.2 1,.2 1,-.3 1,-.4 1,0 1,.3 1,0 1,-.2 1,0 1,.2 1,0 1,.1 1,-.1 1,-.1 1,.1 1,0 1,.1 1,.2 1,0 1,0 1,-.1 1,-.5 1,.1 1,-.5 1,-.6 1,.3 1,.5 1,.1 1,-.5 1,-.2 1,-.4 1,-.4 1,.2 1,.3 1,.8 1,.2 1,-1.1 1,-.8 1,.4 1,.5 1,-.1 1,-.6 1,-.5 1,.1 1,.4 1,.4 1,-.5 1,-.5 1,-.1 1,-.3 1,.1 1,.2 1,-.1 1,.3 1,.5 1,-.5 1,-.9 1,.2 1,.4 1,-.3 1,-.1 1,.2 1,0 1,-.3 1.2,-.2L649.5,361.3l-1.2,-.1 -1,-.8 -1,.2 -1,.4 -1,0 -1,-.1 -1,-.2 -1,.5 -1,.6 -1,-.4 -1,-.7 -1,.5 -1,.8 -1,.1 -1,0 -1,.1 -1,0 -1,-.2 -1,.1 -1,.5 -1,0 -1,-.2 -1,-.3 -1,.1 -1,.2 -1,-.5 -1,.3 -1,.9 -1,.2 -1,.1 -1,.4 -1,-.2 -1,-.5 -1,.4 -1,.1 -1,-1 -1,-.4 -1,.2 -1,.7 -1,1.1 -1,.7 -1,-.2 -1,-.5 -1,.1 -1,-.3 -1,-.7 -1,-.3 -1,.5 -1,.7 -1,-.7 -1,-1.2 -1,-.1 -1,.7 -1,1.2 -1,.6 -1,-.7 -1,-.1 -1,.5 -1,.1 -1,-.1 -1,.3 -1,.2 -1,.1 -1,0 -1,.1 -1,0 -1,0 -1,.6 -1,0 -1,-.8 -1,-.5 -1,.3 -1,.5 -1,.2 -1,.1 -1,.2 -1,.6 -1,.1 -1,-1 -1,-.5 -1,-.1 -1,-.7 -1,.2 -1,.8 -1,-.1 -1,-.5 -1,-.2 -1,-.2 -1,0 -1,.4 -1,.2 -1,-.1 -1,0 -1,-.4 -1,-.4 -1,.3 -1,.5 -1,0 -1,-.2 -1,0 -1,.3 -1,.3 -1,.2 -1,.2 -1,-.3 -1,-.8 -1,-.4 -1,.2 -1,0 -1,0 -1,.2 -1,-.3 -1,.3 -1,.1 -1,-.2 -1,.4 -1,.3 -1,.4 -1,.5 -1,.5 -1,.5 -1,0 -1,.5 -1,.4 -1,-.9 -1,-.3 -1,.7 -1,0 -1,-.4 -1,.2 -1,.2 -1,0 -1,.6 -1,.5 -1,-.2 -1,-.2 -1,-.3 -1,-.3 -1,.2 -1,-.1 -1,-.4 -1,.5 -1,.9 -1,.5 -1,.5 -1,-.2 -1,-.6 -1,-.1 -1,.1 -1,.7 -1,.5 -1,-.1 -1,-.1 -1,-.1 -1,-.2 -1,-.1 -1,.2 -1,.3 -1,-.1 -1,-.3 -1,0 -1,.3 -1,.5 -1,.2 -1,0 -1,-.3 -1,-.3 -1,-.3 -1,0 -1,.5 -1,.2 -1,-.3 -1,.2 -1,.2 -1,-.2 -1,-.3 -1,.2 -1,.3 -1,.3 -1,-.5 -1,-.4 -1,0 -1,0 -1,.5 -1,-.1 -1,-.3 -1,.4 -1,0 -1,-.4 -1,-.5 -1,.1 -1,.3 -1,.3 -1,.7 -1,.5 -1,-.9 -1,-.7 -1,.1 -1,.2 -1,.5 -1,.1 -1,-.5 -1,-.2 -1,.4 -1,.2 -1,-.1 -1,-.2 -1,.1 -1,.5 -1,.5 -1,.1 -1,-.5 -1,-.2 -1,.4 -1,.1 -1,-.1 -1,-.1 -1,-.3 -1,-.1 -1,.3 -1,.3 -1,0 -1,-.4 -1,-.2 -1,.2 -1,.2 -1,-.7 -1,-.1 -1,.6 -1,0 -1,-.3 -1,-.2 -1,-.5 -1,0 -1,-.2 -1,.1 -1,.5 -1,-.2 -1,-.3 -1,.1 -1,.4 -1,.2 -1,-.1 -1,.1 -1,-.1 -1,-.2 -1,.3 -1,.2 -1,-.7 -1,-.7 -1,-.3 -1,.3 -1,.6 -1,.4 -1,-.2 -1,-.7 -1,-.2 -1,0 -1,-.1 -1,-.3 -1,-.1 -1,-.1 -1,-.1 -1,.2 -1,.2 -1,-.3 -1,-.4 -1,-.2 -1,.4 -1,0 -1,-.4 -1,-.4 -1,0 -1,.3 -1,.3 -1,-.3 -1,-.4 -1,-.1 -1,0 -1,-.3 -1,0 -1,0 -1,0 -1,-.1 -1,0 -1,.3 -1,-.2 -1,-.5 -1,-.2 -1,.1 -1,.1 -1,-.3 -1,-.3 -1,.1 -1,.1 -1,0 -1,0 -1,0 -1,-.1 -1,.1 -1,0 -1,-.3 -1,-.2 -1,0z" fill="#440154" stroke="#440154" stroke-width=".6"/>
<path class="w" d="M345.3,362.8l1,.1 1,-.2 1,.1 1,.1 1,-.4 1,.1 1,.2 1,.3 1,.5 1,.1 1,-.4 1,0 1,.3 1,.1 1,-.2 1,-.2 1,0 1,.4 1,.4 1,.2 1,0 1,-.1 1,-.2 1,.2 1,.4 1,-.1 1,-.1 1,.2 1,.3 1,.1 1,-.2 1,0 1,.4 1,.4 1,-.3 1,-.1 1,0 1,.1 1,.2 1,.3 1,.2 1,.2 1,.3 1,.2 1,-.4 1,-.2 1,.2 1,.2 1,-.1 1,.1 1,.2 1,-.2 1,-.4 1,.4 1,.5 1,.1 1,-.4 1,0 1,.3 1,-.1 1,0 1,.2 1,.1 1,-.3 1,-.1 1,.2 1,-.1 1,.1 1,.6 1,-.2 1,-.6 1,-.1 1,.1 1,-.2 1,0 1,.6 1,.4 1,-.3 1,-.1 1,.2 1,0 1,-.4 1,0 1,.2 1,.3 1,-.2 1,-.5 1,.3 1,.4 1,-.3 1,-.2 1,.2 1,.2 1,-.2 1,-.4 1,-.2 1,.3 1,.4 1,-.2 1,-.2 1,.3 1,-.3 1,-.4 1,.1 1,0 1,-.2 1,.1 1,0 1,-.2 1,-.1 1,.3 1,.2 1,.3 1,.1 1,-.2 1,0 1,0 1,-.4 1,-.3 1,-.2 1,-.4 1,.3 1,.5 1,.1 1,.4 1,0 1,-.4 1,0 1,.1 1,-.4 1,0 1,.4 1,.4 1,0 1,-.8 1,-.5 1,.7 1,.3 1,-.1 1,.4 1,-.1 1,-.7 1,-.6 1,.1 1,.5 1,.3 1,-.3 1,-.6 1,-.3 1,-.2 1,-.2 1,-.1 1,.1 1,.5 1,.4 1,-.1 1,-.4 1,-.4 1,.1 1,0 1,-.3 1,-.2 1,-.2 1,-.2 1,-.2 1,0 1,0 1,-.3 1,-.2 1,.1 1,.5 1,-.2 1,-.8 1,-.4 1,-.1 1,.2 1,.7 1,0 1,-.7 1,-.2 1,-.2 1,-.1 1,.1 1,-.2 1,-.4 1,-.5 1,-.2 1,.1 1,-.3 1,-.8 1,-.4 1,-.2 1,-.1 1,.4 1,1 1,.6 1,-.6 1,-.8 1,-.3 1,.1 1,.6 1,.6 1,-.1 1,-.1 1,-.7 1,-.9 1,0 1,1 1,.8 1,.1 1,-.4 1,-.1 1,.4 1,.1 1,-.4 1,-.2 1,.6 1,.2 1,-.4 1,-.4 1,-.2 1,-.5 1,-.1 1,.7 1,.5 1,.5 1,.3 1,-.1 1,0 1,-.4 1,-.3 1,-.3 1,0 1,.1 1,.1 1,-.2 1,-.5 1,.1 1,.2 1,.2 1,.2 1,-.3 1,-.4 1,0 1,.3 1,0 1,-.2 1,0 1,.2 1,0 1,.1 1,-.1 1,-.1 1,.1 1,0 1,.1 1,.2 1,0 1,0 1,-.1 1,-.5 1,.1 1,-.5 1,-.6 1,.3 1,.5 1,.1 1,-.5 1,-.2 1,-.4 1,-.4 1,.2 1,.3 1,.8 1,.2 1,-1.1 1,-.8 1,.4 1,.5 1,-.1 1,-.6 1,-.5 1,.1 1,.4 1,.4 1,-.5 1,-.5 1,-.1 1,-.3 1,.1 1,.2 1,-.1 1,.3 1,.5 1,-.5 1,-.9 1,.2 1,.4 1,-.3 1,-.1 1,.2 1,0 1,-.3 1.2,-.2"/>
</g>
<g>
<rect x="136.3" y="11.2" width="513.7" height="413.3" fill="none" stroke="#3a3a3a" stroke-width="1.7"/>
<line x1="136.3" y1="424.5" x2="136.3" y2="428.5" stroke="#3a3a3a" stroke-width="1.6"/>
<line x1="136.3" y1="11.2" x2="136.3" y2="7.199999999999999" stroke="#3a3a3a" stroke-width="1.6"/>
<line x1="168.4" y1="424.5" x2="168.4" y2="428.5" stroke="#3a3a3a" stroke-width="1.6"/>
<line x1="168.4" y1="11.2" x2="168.4" y2="7.199999999999999" stroke="#3a3a3a" stroke-width="1.6"/>
<line x1="200.5" y1="424.5" x2="200.5" y2="428.5" stroke="#3a3a3a" stroke-width="1.6"/>
<line x1="200.5" y1="11.2" x2="200.5" y2="7.199999999999999" stroke="#3a3a3a" stroke-width="1.6"/>
<line x1="232.6" y1="424.5" x2="232.6" y2="432.0" stroke="#3a3a3a" stroke-width="1.6"/>
<line x1="232.6" y1="11.2" x2="232.6" y2="3.6999999999999993" stroke="#3a3a3a" stroke-width="1.6"/>
<line x1="264.7" y1="424.5" x2="264.7" y2="428.5" stroke="#3a3a3a" stroke-width="1.6"/>
<line x1="264.7" y1="11.2" x2="264.7" y2="7.199999999999999" stroke="#3a3a3a" stroke-width="1.6"/>
<line x1="296.8" y1="424.5" x2="296.8" y2="428.5" stroke="#3a3a3a" stroke-width="1.6"/>
<line x1="296.8" y1="11.2" x2="296.8" y2="7.199999999999999" stroke="#3a3a3a" stroke-width="1.6"/>
<line x1="328.9" y1="424.5" x2="328.9" y2="428.5" stroke="#3a3a3a" stroke-width="1.6"/>
<line x1="328.9" y1="11.2" x2="328.9" y2="7.199999999999999" stroke="#3a3a3a" stroke-width="1.6"/>
<line x1="361.0" y1="424.5" x2="361.0" y2="428.5" stroke="#3a3a3a" stroke-width="1.6"/>
<line x1="361.0" y1="11.2" x2="361.0" y2="7.199999999999999" stroke="#3a3a3a" stroke-width="1.6"/>
<line x1="393.2" y1="424.5" x2="393.2" y2="432.0" stroke="#3a3a3a" stroke-width="1.6"/>
<line x1="393.2" y1="11.2" x2="393.2" y2="3.6999999999999993" stroke="#3a3a3a" stroke-width="1.6"/>
<line x1="425.3" y1="424.5" x2="425.3" y2="428.5" stroke="#3a3a3a" stroke-width="1.6"/>
<line x1="425.3" y1="11.2" x2="425.3" y2="7.199999999999999" stroke="#3a3a3a" stroke-width="1.6"/>
<line x1="457.4" y1="424.5" x2="457.4" y2="428.5" stroke="#3a3a3a" stroke-width="1.6"/>
<line x1="457.4" y1="11.2" x2="457.4" y2="7.199999999999999" stroke="#3a3a3a" stroke-width="1.6"/>
<line x1="489.5" y1="424.5" x2="489.5" y2="428.5" stroke="#3a3a3a" stroke-width="1.6"/>
<line x1="489.5" y1="11.2" x2="489.5" y2="7.199999999999999" stroke="#3a3a3a" stroke-width="1.6"/>
<line x1="521.6" y1="424.5" x2="521.6" y2="428.5" stroke="#3a3a3a" stroke-width="1.6"/>
<line x1="521.6" y1="11.2" x2="521.6" y2="7.199999999999999" stroke="#3a3a3a" stroke-width="1.6"/>
<line x1="553.7" y1="424.5" x2="553.7" y2="432.0" stroke="#3a3a3a" stroke-width="1.6"/>
<line x1="553.7" y1="11.2" x2="553.7" y2="3.6999999999999993" stroke="#3a3a3a" stroke-width="1.6"/>
<line x1="585.8" y1="424.5" x2="585.8" y2="428.5" stroke="#3a3a3a" stroke-width="1.6"/>
<line x1="585.8" y1="11.2" x2="585.8" y2="7.199999999999999" stroke="#3a3a3a" stroke-width="1.6"/>
<line x1="617.9" y1="424.5" x2="617.9" y2="428.5" stroke="#3a3a3a" stroke-width="1.6"/>
<line x1="617.9" y1="11.2" x2="617.9" y2="7.199999999999999" stroke="#3a3a3a" stroke-width="1.6"/>
<line x1="650.0" y1="424.5" x2="650.0" y2="428.5" stroke="#3a3a3a" stroke-width="1.6"/>
<line x1="650.0" y1="11.2" x2="650.0" y2="7.199999999999999" stroke="#3a3a3a" stroke-width="1.6"/>
<line x1="136.3" y1="11.2" x2="132.3" y2="11.2" stroke="#3a3a3a" stroke-width="1.6"/>
<line x1="650.0" y1="11.2" x2="654.0" y2="11.2" stroke="#3a3a3a" stroke-width="1.6"/>
<line x1="136.3" y1="48.8" x2="132.3" y2="48.8" stroke="#3a3a3a" stroke-width="1.6"/>
<line x1="650.0" y1="48.8" x2="654.0" y2="48.8" stroke="#3a3a3a" stroke-width="1.6"/>
<line x1="136.3" y1="86.3" x2="132.3" y2="86.3" stroke="#3a3a3a" stroke-width="1.6"/>
<line x1="650.0" y1="86.3" x2="654.0" y2="86.3" stroke="#3a3a3a" stroke-width="1.6"/>
<line x1="136.3" y1="123.9" x2="127.80000000000001" y2="123.9" stroke="#3a3a3a" stroke-width="1.6"/>
<line x1="650.0" y1="123.9" x2="658.5" y2="123.9" stroke="#3a3a3a" stroke-width="1.6"/>
<line x1="136.3" y1="161.5" x2="132.3" y2="161.5" stroke="#3a3a3a" stroke-width="1.6"/>
<line x1="650.0" y1="161.5" x2="654.0" y2="161.5" stroke="#3a3a3a" stroke-width="1.6"/>
<line x1="136.3" y1="199.1" x2="132.3" y2="199.1" stroke="#3a3a3a" stroke-width="1.6"/>
<line x1="650.0" y1="199.1" x2="654.0" y2="199.1" stroke="#3a3a3a" stroke-width="1.6"/>
<line x1="136.3" y1="236.6" x2="132.3" y2="236.6" stroke="#3a3a3a" stroke-width="1.6"/>
<line x1="650.0" y1="236.6" x2="654.0" y2="236.6" stroke="#3a3a3a" stroke-width="1.6"/>
<line x1="136.3" y1="274.2" x2="132.3" y2="274.2" stroke="#3a3a3a" stroke-width="1.6"/>
<line x1="650.0" y1="274.2" x2="654.0" y2="274.2" stroke="#3a3a3a" stroke-width="1.6"/>
<line x1="136.3" y1="311.8" x2="127.80000000000001" y2="311.8" stroke="#3a3a3a" stroke-width="1.6"/>
<line x1="650.0" y1="311.8" x2="658.5" y2="311.8" stroke="#3a3a3a" stroke-width="1.6"/>
<line x1="136.3" y1="349.4" x2="132.3" y2="349.4" stroke="#3a3a3a" stroke-width="1.6"/>
<line x1="650.0" y1="349.4" x2="654.0" y2="349.4" stroke="#3a3a3a" stroke-width="1.6"/>
<line x1="136.3" y1="386.9" x2="132.3" y2="386.9" stroke="#3a3a3a" stroke-width="1.6"/>
<line x1="650.0" y1="386.9" x2="654.0" y2="386.9" stroke="#3a3a3a" stroke-width="1.6"/>
<line x1="136.3" y1="424.5" x2="132.3" y2="424.5" stroke="#3a3a3a" stroke-width="1.6"/>
<line x1="650.0" y1="424.5" x2="654.0" y2="424.5" stroke="#3a3a3a" stroke-width="1.6"/>
</g>
<!-- tick labels -->
<text class="tick" x="122" y="129.5" text-anchor="end">0.2</text>
<text class="tick" x="122" y="317.3" text-anchor="end">0.1</text>
<text class="tick" x="232.6" y="451.3" text-anchor="middle">500</text>
<text class="tick" x="393.1" y="451.3" text-anchor="middle">1000</text>
<text class="tick" x="553.6" y="451.3" text-anchor="middle">1500</text>
<text class="axl" x="393.5" y="485.3" text-anchor="middle">波長 (nm)</text>
<text class="axl" transform="translate(88,218.5) rotate(-90)" text-anchor="middle">反射率</text>

<!-- white arrow -->
<polygon points="461,114.2 490,114.2 490,340.7 505,340.7 475.6,370.5 446.2,340.7 461,340.7" fill="#fff" stroke="#111" stroke-width="1.4" stroke-linejoin="miter"/>
<text class="lbl" font-size="17.5" x="475.5" y="298.5" text-anchor="middle">減</text>
<text class="lbl" font-size="17.5" x="475.5" y="321" text-anchor="middle">少</text>
<!-- yellow arrow -->
<polygon points="476,102 505.7,102 505.7,207 520,207 491,236.3 461.8,207 476,207" fill="#fde725" stroke="#111" stroke-width="1.4" stroke-linejoin="miter"/>
<text class="lbl" font-size="17.5" x="491" y="124" text-anchor="middle">顕</text>
<text class="lbl" font-size="17.5" x="491" y="146.8" text-anchor="middle">著</text>
<text class="lbl" font-size="17.5" x="491" y="169.6" text-anchor="middle">に</text>
<text class="lbl" font-size="17.5" x="491" y="192.4" text-anchor="middle">減</text>
<text class="lbl" font-size="17.5" x="491" y="215.2" text-anchor="middle">少</text>

<!-- labels -->
<text class="lbl" font-size="19.2" y="87.4"><tspan x="272.2">イルメナイト</tspan><tspan x="386.8">0%</tspan><tspan x="416.2">:</tspan><tspan x="422.6">輝石</tspan><tspan x="461.4">100%</tspan></text>
<text class="lbl" font-size="19.2" y="405.6"><tspan x="272.2">イルメナイト</tspan><tspan x="386.9">50%</tspan><tspan x="427.6">:</tspan><tspan x="434">輝石</tspan><tspan x="472.4">50%</tspan></text>
<text class="lbl" font-size="14.4" x="554" y="41" textLength="86.4" lengthAdjust="spacing">イルメナイト</text>
<text class="lbl" font-size="19" x="603.6" y="62.9">0%</text>
<text class="lbl" font-size="19" x="603.6" y="83.5">0.5</text>
<text class="lbl" font-size="19" x="603.6" y="105">1</text>
<text class="lbl" font-size="19" x="603.6" y="132">2</text>
<text class="lbl" font-size="19" x="603.6" y="163.1">5</text>
<text class="lbl" font-size="19" x="603.6" y="197">7%</text>
<text class="lbl" font-size="19" x="603.6" y="224.8">9</text>
<text class="lbl" font-size="16" x="609.7" y="262.7" textLength="16" lengthAdjust="spacingAndGlyphs">15</text>
<rect x="609.4" y="283.8" width="17" height="18.8" fill="#bfbfbf"/>
<text class="lbl" font-size="16" x="610" y="299" textLength="16" lengthAdjust="spacingAndGlyphs">20</text>
<rect x="609.4" y="316.2" width="17" height="19.2" fill="#bfbfbf"/>
<text class="lbl" font-size="16" x="610" y="331.2" textLength="16" lengthAdjust="spacingAndGlyphs">29</text>
<line x1="559" y1="366.3" x2="585" y2="377.5" stroke="#555" stroke-width="1"/>
<text class="lbl" font-size="19" x="587.5" y="388.2" textLength="40" lengthAdjust="spacingAndGlyphs">50%</text>
<!-- callout -->
<line x1="637" y1="190" x2="658" y2="176.5" stroke="#1f3340" stroke-width="1.2"/>
<rect x="657" y="153.6" width="141" height="52" rx="9.5" ry="9.5" fill="#fff" stroke="#34515e" stroke-width="2"/>
<text class="lbl" font-size="14.5" x="666" y="176.3" textLength="124" lengthAdjust="spacing">月の海の平均的な</text>
<text class="lbl" font-size="14.5" x="666" y="194.3" textLength="124" lengthAdjust="spacing">イルメナイト量</text>
</svg>
<div class="cap">図 1 輝石にイルメナイトを混合した時の反射スペクトルの変化。特にイルメナイトが少量（質量比が<span style="margin:0 1px 0 .5px">&lt;</span>９ <span style="margin-left:1.5px">%</span>）のとき、反射率の減少<br><span class="l2">が顕著であることがわかる。800 nm から 850 nm の波長領域は分光計の検出器切り替えに起因する強度変動が見られるため、グラフ</span><br>から除外した。<span class="note">※原論文の図を引用・改変したものを使用しています。</span></div>
</body></html>
